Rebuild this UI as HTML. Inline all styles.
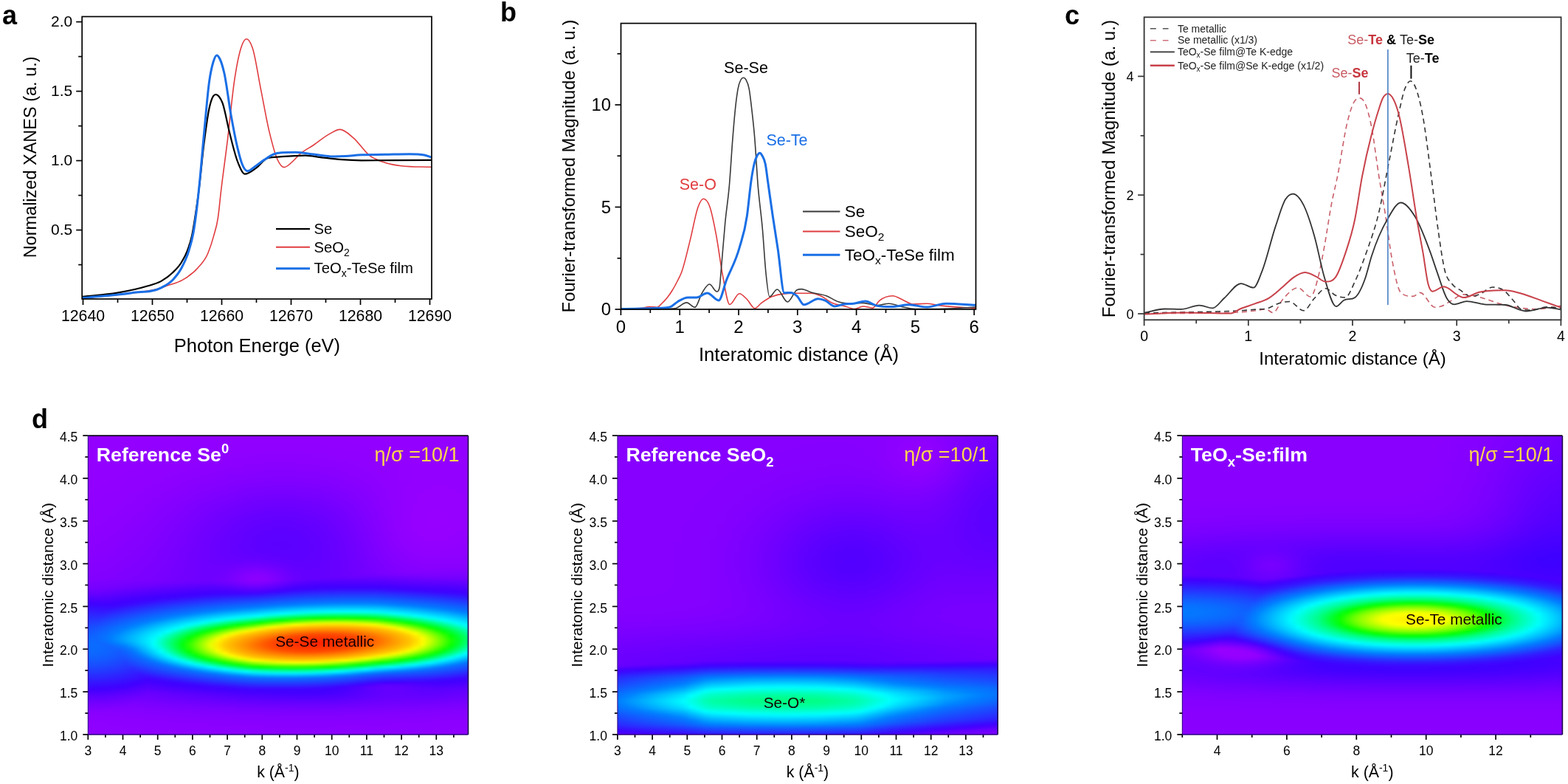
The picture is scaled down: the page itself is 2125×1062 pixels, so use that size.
<!DOCTYPE html>
<html><head><meta charset="utf-8"><style>
html,body{margin:0;padding:0;background:#fff;}
body{width:2125px;height:1062px;position:relative;overflow:hidden;}
.hm{position:absolute;overflow:hidden;}
.hm>div{position:absolute;}
svg{position:absolute;left:0;top:0;}
text{font-family:"Liberation Sans", Arial, sans-serif;}
</style></head><body>
<div class="hm" style="left:119.3px;top:590.2px;width:515.2px;height:404.8px"><div style="left:-6px;top:-6px;width:527.2px;filter:blur(1.5px)">
<div style="height:3px;background:linear-gradient(90deg,#9300ff,#9300ff,#9300ff,#9300ff,#9300ff,#9300ff,#9300ff,#9300ff,#9300ff,#9300ff,#9300ff,#9300ff,#9300ff,#9300ff,#9300ff,#9300ff,#9300ff,#9200ff,#9200ff,#9200ff,#9200ff,#9200ff,#9200ff,#9200ff,#9200ff,#9200ff,#9200ff,#9200ff,#9200ff,#9200ff,#9200ff,#9200ff,#9200ff,#9200ff,#9200ff,#9200ff,#9200ff,#9200ff,#9200ff,#9200ff,#9300ff,#9300ff,#9300ff,#9300ff,#9300ff,#9300ff,#9300ff,#9300ff,#9300ff,#9300ff,#9300ff,#9300ff,#9300ff,#9300ff,#9300ff,#9300ff)"></div>
<div style="height:3px;background:linear-gradient(90deg,#9300ff,#9300ff,#9300ff,#9300ff,#9300ff,#9300ff,#9300ff,#9300ff,#9300ff,#9300ff,#9300ff,#9300ff,#9300ff,#9300ff,#9300ff,#9200ff,#9200ff,#9200ff,#9200ff,#9200ff,#9200ff,#9200ff,#9200ff,#9200ff,#9200ff,#9200ff,#9200ff,#9200ff,#9200ff,#9200ff,#9200ff,#9200ff,#9200ff,#9200ff,#9200ff,#9200ff,#9200ff,#9200ff,#9200ff,#9200ff,#9200ff,#9300ff,#9300ff,#9300ff,#9300ff,#9300ff,#9300ff,#9300ff,#9300ff,#9300ff,#9300ff,#9300ff,#9300ff,#9300ff,#9300ff,#9300ff)"></div>
<div style="height:3px;background:linear-gradient(90deg,#9300ff,#9300ff,#9300ff,#9300ff,#9300ff,#9300ff,#9300ff,#9300ff,#9300ff,#9300ff,#9300ff,#9300ff,#9300ff,#9300ff,#9200ff,#9200ff,#9200ff,#9200ff,#9200ff,#9200ff,#9200ff,#9200ff,#9200ff,#9200ff,#9100ff,#9100ff,#9100ff,#9100ff,#9100ff,#9100ff,#9100ff,#9100ff,#9100ff,#9200ff,#9200ff,#9200ff,#9200ff,#9200ff,#9200ff,#9200ff,#9200ff,#9200ff,#9300ff,#9300ff,#9300ff,#9300ff,#9300ff,#9300ff,#9300ff,#9300ff,#9300ff,#9300ff,#9300ff,#9300ff,#9300ff,#9300ff)"></div>
<div style="height:3px;background:linear-gradient(90deg,#9300ff,#9300ff,#9300ff,#9300ff,#9300ff,#9300ff,#9300ff,#9300ff,#9300ff,#9300ff,#9300ff,#9300ff,#9300ff,#9200ff,#9200ff,#9200ff,#9200ff,#9200ff,#9200ff,#9200ff,#9200ff,#9100ff,#9100ff,#9100ff,#9100ff,#9100ff,#9100ff,#9100ff,#9100ff,#9100ff,#9100ff,#9100ff,#9100ff,#9100ff,#9100ff,#9100ff,#9200ff,#9200ff,#9200ff,#9200ff,#9200ff,#9200ff,#9200ff,#9300ff,#9300ff,#9300ff,#9300ff,#9300ff,#9300ff,#9300ff,#9300ff,#9300ff,#9300ff,#9300ff,#9300ff,#9300ff)"></div>
<div style="height:3px;background:linear-gradient(90deg,#9300ff,#9300ff,#9300ff,#9300ff,#9300ff,#9300ff,#9300ff,#9300ff,#9300ff,#9300ff,#9300ff,#9300ff,#9200ff,#9200ff,#9200ff,#9200ff,#9200ff,#9200ff,#9200ff,#9100ff,#9100ff,#9100ff,#9100ff,#9100ff,#9100ff,#9100ff,#9100ff,#9100ff,#9100ff,#9100ff,#9100ff,#9100ff,#9100ff,#9100ff,#9100ff,#9100ff,#9100ff,#9100ff,#9200ff,#9200ff,#9200ff,#9200ff,#9200ff,#9300ff,#9300ff,#9300ff,#9300ff,#9300ff,#9300ff,#9300ff,#9300ff,#9300ff,#9300ff,#9300ff,#9300ff,#9300ff)"></div>
<div style="height:3px;background:linear-gradient(90deg,#9300ff,#9300ff,#9300ff,#9300ff,#9300ff,#9300ff,#9300ff,#9300ff,#9300ff,#9300ff,#9300ff,#9200ff,#9200ff,#9200ff,#9200ff,#9200ff,#9200ff,#9200ff,#9100ff,#9100ff,#9100ff,#9100ff,#9100ff,#9100ff,#9100ff,#9000ff,#9000ff,#9000ff,#9000ff,#9000ff,#9000ff,#9000ff,#9000ff,#9100ff,#9100ff,#9100ff,#9100ff,#9100ff,#9100ff,#9200ff,#9200ff,#9200ff,#9200ff,#9200ff,#9300ff,#9300ff,#9300ff,#9300ff,#9300ff,#9300ff,#9300ff,#9300ff,#9300ff,#9300ff,#9300ff,#9300ff)"></div>
<div style="height:3px;background:linear-gradient(90deg,#9300ff,#9300ff,#9300ff,#9300ff,#9300ff,#9300ff,#9300ff,#9300ff,#9300ff,#9300ff,#9200ff,#9200ff,#9200ff,#9200ff,#9200ff,#9200ff,#9100ff,#9100ff,#9100ff,#9100ff,#9100ff,#9100ff,#9000ff,#9000ff,#9000ff,#9000ff,#9000ff,#9000ff,#9000ff,#9000ff,#9000ff,#9000ff,#9000ff,#9000ff,#9000ff,#9100ff,#9100ff,#9100ff,#9100ff,#9100ff,#9200ff,#9200ff,#9200ff,#9200ff,#9300ff,#9300ff,#9300ff,#9300ff,#9300ff,#9300ff,#9300ff,#9300ff,#9300ff,#9300ff,#9300ff,#9300ff)"></div>
<div style="height:3px;background:linear-gradient(90deg,#9300ff,#9300ff,#9300ff,#9300ff,#9300ff,#9300ff,#9300ff,#9300ff,#9300ff,#9200ff,#9200ff,#9200ff,#9200ff,#9200ff,#9200ff,#9100ff,#9100ff,#9100ff,#9100ff,#9100ff,#9000ff,#9000ff,#9000ff,#9000ff,#9000ff,#9000ff,#8f00ff,#8f00ff,#8f00ff,#8f00ff,#8f00ff,#9000ff,#9000ff,#9000ff,#9000ff,#9000ff,#9000ff,#9100ff,#9100ff,#9100ff,#9100ff,#9200ff,#9200ff,#9200ff,#9200ff,#9300ff,#9300ff,#9300ff,#9300ff,#9300ff,#9300ff,#9300ff,#9300ff,#9300ff,#9300ff,#9300ff)"></div>
<div style="height:3px;background:linear-gradient(90deg,#9300ff,#9300ff,#9300ff,#9300ff,#9300ff,#9300ff,#9300ff,#9300ff,#9200ff,#9200ff,#9200ff,#9200ff,#9200ff,#9200ff,#9100ff,#9100ff,#9100ff,#9100ff,#9000ff,#9000ff,#9000ff,#9000ff,#8f00ff,#8f00ff,#8f00ff,#8f00ff,#8f00ff,#8f00ff,#8f00ff,#8f00ff,#8f00ff,#8f00ff,#8f00ff,#8f00ff,#8f00ff,#9000ff,#9000ff,#9000ff,#9100ff,#9100ff,#9100ff,#9100ff,#9200ff,#9200ff,#9200ff,#9300ff,#9300ff,#9300ff,#9300ff,#9300ff,#9300ff,#9300ff,#9300ff,#9300ff,#9300ff,#9300ff)"></div>
<div style="height:3px;background:linear-gradient(90deg,#9300ff,#9300ff,#9300ff,#9300ff,#9300ff,#9300ff,#9300ff,#9300ff,#9200ff,#9200ff,#9200ff,#9200ff,#9200ff,#9100ff,#9100ff,#9100ff,#9100ff,#9000ff,#9000ff,#9000ff,#8f00ff,#8f00ff,#8f00ff,#8f00ff,#8f00ff,#8e00ff,#8e00ff,#8e00ff,#8e00ff,#8e00ff,#8e00ff,#8e00ff,#8f00ff,#8f00ff,#8f00ff,#8f00ff,#9000ff,#9000ff,#9000ff,#9100ff,#9100ff,#9100ff,#9200ff,#9200ff,#9200ff,#9200ff,#9300ff,#9300ff,#9300ff,#9300ff,#9300ff,#9300ff,#9300ff,#9300ff,#9300ff,#9300ff)"></div>
<div style="height:3px;background:linear-gradient(90deg,#9300ff,#9300ff,#9300ff,#9300ff,#9300ff,#9300ff,#9300ff,#9200ff,#9200ff,#9200ff,#9200ff,#9200ff,#9100ff,#9100ff,#9100ff,#9100ff,#9000ff,#9000ff,#9000ff,#8f00ff,#8f00ff,#8f00ff,#8e00ff,#8e00ff,#8e00ff,#8e00ff,#8e00ff,#8e00ff,#8e00ff,#8e00ff,#8e00ff,#8e00ff,#8e00ff,#8e00ff,#8e00ff,#8f00ff,#8f00ff,#8f00ff,#9000ff,#9000ff,#9100ff,#9100ff,#9100ff,#9200ff,#9200ff,#9200ff,#9300ff,#9300ff,#9300ff,#9300ff,#9300ff,#9300ff,#9300ff,#9300ff,#9300ff,#9300ff)"></div>
<div style="height:3px;background:linear-gradient(90deg,#9300ff,#9300ff,#9300ff,#9300ff,#9300ff,#9300ff,#9200ff,#9200ff,#9200ff,#9200ff,#9200ff,#9100ff,#9100ff,#9100ff,#9100ff,#9000ff,#9000ff,#8f00ff,#8f00ff,#8f00ff,#8e00ff,#8e00ff,#8e00ff,#8e00ff,#8d00ff,#8d00ff,#8d00ff,#8d00ff,#8d00ff,#8d00ff,#8d00ff,#8d00ff,#8d00ff,#8e00ff,#8e00ff,#8e00ff,#8f00ff,#8f00ff,#8f00ff,#9000ff,#9000ff,#9100ff,#9100ff,#9200ff,#9200ff,#9200ff,#9300ff,#9300ff,#9300ff,#9300ff,#9300ff,#9300ff,#9300ff,#9300ff,#9300ff,#9300ff)"></div>
<div style="height:3px;background:linear-gradient(90deg,#9300ff,#9300ff,#9300ff,#9300ff,#9300ff,#9300ff,#9200ff,#9200ff,#9200ff,#9200ff,#9100ff,#9100ff,#9100ff,#9100ff,#9000ff,#9000ff,#8f00ff,#8f00ff,#8f00ff,#8e00ff,#8e00ff,#8d00ff,#8d00ff,#8d00ff,#8d00ff,#8c00ff,#8c00ff,#8c00ff,#8c00ff,#8c00ff,#8c00ff,#8c00ff,#8d00ff,#8d00ff,#8d00ff,#8e00ff,#8e00ff,#8e00ff,#8f00ff,#8f00ff,#9000ff,#9000ff,#9100ff,#9100ff,#9200ff,#9200ff,#9300ff,#9300ff,#9300ff,#9300ff,#9300ff,#9300ff,#9300ff,#9300ff,#9300ff,#9300ff)"></div>
<div style="height:3px;background:linear-gradient(90deg,#9300ff,#9300ff,#9300ff,#9300ff,#9300ff,#9200ff,#9200ff,#9200ff,#9200ff,#9200ff,#9100ff,#9100ff,#9100ff,#9000ff,#9000ff,#8f00ff,#8f00ff,#8f00ff,#8e00ff,#8e00ff,#8d00ff,#8d00ff,#8c00ff,#8c00ff,#8c00ff,#8c00ff,#8b00ff,#8b00ff,#8b00ff,#8b00ff,#8b00ff,#8c00ff,#8c00ff,#8c00ff,#8c00ff,#8d00ff,#8d00ff,#8e00ff,#8e00ff,#8f00ff,#9000ff,#9000ff,#9100ff,#9100ff,#9200ff,#9200ff,#9300ff,#9300ff,#9300ff,#9300ff,#9300ff,#9300ff,#9300ff,#9300ff,#9300ff,#9300ff)"></div>
<div style="height:3px;background:linear-gradient(90deg,#9300ff,#9300ff,#9300ff,#9300ff,#9200ff,#9200ff,#9200ff,#9200ff,#9200ff,#9100ff,#9100ff,#9100ff,#9000ff,#9000ff,#8f00ff,#8f00ff,#8e00ff,#8e00ff,#8d00ff,#8d00ff,#8d00ff,#8c00ff,#8c00ff,#8b00ff,#8b00ff,#8b00ff,#8a00ff,#8a00ff,#8a00ff,#8a00ff,#8a00ff,#8b00ff,#8b00ff,#8b00ff,#8c00ff,#8c00ff,#8d00ff,#8d00ff,#8e00ff,#8e00ff,#8f00ff,#9000ff,#9000ff,#9100ff,#9200ff,#9200ff,#9200ff,#9300ff,#9300ff,#9300ff,#9300ff,#9300ff,#9300ff,#9300ff,#9300ff,#9300ff)"></div>
<div style="height:3px;background:linear-gradient(90deg,#9300ff,#9300ff,#9300ff,#9300ff,#9200ff,#9200ff,#9200ff,#9200ff,#9100ff,#9100ff,#9100ff,#9000ff,#9000ff,#8f00ff,#8f00ff,#8e00ff,#8e00ff,#8d00ff,#8d00ff,#8c00ff,#8c00ff,#8b00ff,#8b00ff,#8a00ff,#8a00ff,#8a00ff,#8a00ff,#8900ff,#8900ff,#8900ff,#8900ff,#8a00ff,#8a00ff,#8a00ff,#8b00ff,#8b00ff,#8c00ff,#8d00ff,#8d00ff,#8e00ff,#8f00ff,#8f00ff,#9000ff,#9100ff,#9100ff,#9200ff,#9200ff,#9300ff,#9300ff,#9300ff,#9300ff,#9300ff,#9300ff,#9300ff,#9300ff,#9300ff)"></div>
<div style="height:3px;background:linear-gradient(90deg,#9300ff,#9300ff,#9300ff,#9200ff,#9200ff,#9200ff,#9200ff,#9200ff,#9100ff,#9100ff,#9000ff,#9000ff,#9000ff,#8f00ff,#8f00ff,#8e00ff,#8d00ff,#8d00ff,#8c00ff,#8c00ff,#8b00ff,#8a00ff,#8a00ff,#8900ff,#8900ff,#8900ff,#8800ff,#8800ff,#8800ff,#8800ff,#8800ff,#8900ff,#8900ff,#8900ff,#8a00ff,#8a00ff,#8b00ff,#8c00ff,#8d00ff,#8d00ff,#8e00ff,#8f00ff,#9000ff,#9100ff,#9100ff,#9200ff,#9200ff,#9300ff,#9300ff,#9300ff,#9300ff,#9400ff,#9400ff,#9300ff,#9300ff,#9300ff)"></div>
<div style="height:3px;background:linear-gradient(90deg,#9300ff,#9300ff,#9200ff,#9200ff,#9200ff,#9200ff,#9200ff,#9100ff,#9100ff,#9100ff,#9000ff,#9000ff,#8f00ff,#8f00ff,#8e00ff,#8d00ff,#8d00ff,#8c00ff,#8b00ff,#8b00ff,#8a00ff,#8900ff,#8900ff,#8800ff,#8800ff,#8800ff,#8700ff,#8700ff,#8700ff,#8700ff,#8700ff,#8800ff,#8800ff,#8800ff,#8900ff,#8a00ff,#8a00ff,#8b00ff,#8c00ff,#8d00ff,#8e00ff,#8f00ff,#9000ff,#9000ff,#9100ff,#9200ff,#9200ff,#9300ff,#9300ff,#9300ff,#9400ff,#9400ff,#9400ff,#9400ff,#9300ff,#9300ff)"></div>
<div style="height:3px;background:linear-gradient(90deg,#9300ff,#9300ff,#9200ff,#9200ff,#9200ff,#9200ff,#9100ff,#9100ff,#9100ff,#9000ff,#9000ff,#8f00ff,#8f00ff,#8e00ff,#8d00ff,#8d00ff,#8c00ff,#8b00ff,#8b00ff,#8a00ff,#8900ff,#8800ff,#8800ff,#8700ff,#8700ff,#8600ff,#8600ff,#8600ff,#8600ff,#8600ff,#8600ff,#8600ff,#8700ff,#8700ff,#8800ff,#8900ff,#8900ff,#8a00ff,#8b00ff,#8c00ff,#8d00ff,#8e00ff,#8f00ff,#9000ff,#9100ff,#9200ff,#9200ff,#9300ff,#9300ff,#9300ff,#9400ff,#9400ff,#9400ff,#9400ff,#9400ff,#9300ff)"></div>
<div style="height:3px;background:linear-gradient(90deg,#9300ff,#9200ff,#9200ff,#9200ff,#9200ff,#9200ff,#9100ff,#9100ff,#9100ff,#9000ff,#9000ff,#8f00ff,#8e00ff,#8e00ff,#8d00ff,#8c00ff,#8b00ff,#8b00ff,#8a00ff,#8900ff,#8800ff,#8700ff,#8700ff,#8600ff,#8600ff,#8500ff,#8500ff,#8500ff,#8500ff,#8500ff,#8500ff,#8500ff,#8600ff,#8600ff,#8700ff,#8800ff,#8900ff,#8900ff,#8b00ff,#8c00ff,#8d00ff,#8e00ff,#8f00ff,#9000ff,#9100ff,#9200ff,#9200ff,#9300ff,#9300ff,#9400ff,#9400ff,#9400ff,#9400ff,#9400ff,#9400ff,#9300ff)"></div>
<div style="height:3px;background:linear-gradient(90deg,#9300ff,#9200ff,#9200ff,#9200ff,#9200ff,#9100ff,#9100ff,#9100ff,#9000ff,#9000ff,#8f00ff,#8f00ff,#8e00ff,#8d00ff,#8c00ff,#8b00ff,#8b00ff,#8a00ff,#8900ff,#8800ff,#8700ff,#8600ff,#8600ff,#8500ff,#8400ff,#8400ff,#8400ff,#8300ff,#8300ff,#8300ff,#8300ff,#8400ff,#8400ff,#8500ff,#8600ff,#8700ff,#8800ff,#8900ff,#8a00ff,#8b00ff,#8c00ff,#8d00ff,#8f00ff,#9000ff,#9100ff,#9200ff,#9200ff,#9300ff,#9300ff,#9400ff,#9400ff,#9400ff,#9400ff,#9400ff,#9400ff,#9400ff)"></div>
<div style="height:3px;background:linear-gradient(90deg,#9200ff,#9200ff,#9200ff,#9200ff,#9200ff,#9100ff,#9100ff,#9000ff,#9000ff,#8f00ff,#8f00ff,#8e00ff,#8d00ff,#8d00ff,#8c00ff,#8b00ff,#8a00ff,#8900ff,#8800ff,#8700ff,#8600ff,#8500ff,#8400ff,#8400ff,#8300ff,#8200ff,#8200ff,#8200ff,#8200ff,#8200ff,#8200ff,#8200ff,#8300ff,#8400ff,#8400ff,#8500ff,#8600ff,#8800ff,#8900ff,#8a00ff,#8c00ff,#8d00ff,#8e00ff,#8f00ff,#9100ff,#9200ff,#9200ff,#9300ff,#9300ff,#9400ff,#9400ff,#9400ff,#9400ff,#9400ff,#9400ff,#9400ff)"></div>
<div style="height:3px;background:linear-gradient(90deg,#9200ff,#9200ff,#9200ff,#9200ff,#9100ff,#9100ff,#9100ff,#9000ff,#9000ff,#8f00ff,#8e00ff,#8e00ff,#8d00ff,#8c00ff,#8b00ff,#8a00ff,#8900ff,#8800ff,#8700ff,#8600ff,#8500ff,#8400ff,#8300ff,#8200ff,#8200ff,#8100ff,#8100ff,#8000ff,#8000ff,#8000ff,#8100ff,#8100ff,#8200ff,#8200ff,#8300ff,#8400ff,#8500ff,#8700ff,#8800ff,#8a00ff,#8b00ff,#8c00ff,#8e00ff,#8f00ff,#9000ff,#9200ff,#9200ff,#9300ff,#9400ff,#9400ff,#9400ff,#9400ff,#9400ff,#9400ff,#9400ff,#9400ff)"></div>
<div style="height:3px;background:linear-gradient(90deg,#9200ff,#9200ff,#9200ff,#9200ff,#9100ff,#9100ff,#9000ff,#9000ff,#8f00ff,#8f00ff,#8e00ff,#8d00ff,#8c00ff,#8b00ff,#8a00ff,#8900ff,#8800ff,#8700ff,#8600ff,#8500ff,#8400ff,#8300ff,#8200ff,#8100ff,#8000ff,#8000ff,#7f00ff,#7f00ff,#7f00ff,#7f00ff,#7f00ff,#8000ff,#8000ff,#8100ff,#8200ff,#8300ff,#8400ff,#8600ff,#8700ff,#8900ff,#8a00ff,#8c00ff,#8e00ff,#8f00ff,#9000ff,#9100ff,#9200ff,#9300ff,#9400ff,#9400ff,#9400ff,#9400ff,#9400ff,#9400ff,#9400ff,#9400ff)"></div>
<div style="height:3px;background:linear-gradient(90deg,#9200ff,#9200ff,#9200ff,#9100ff,#9100ff,#9100ff,#9000ff,#9000ff,#8f00ff,#8e00ff,#8d00ff,#8d00ff,#8c00ff,#8b00ff,#8a00ff,#8800ff,#8700ff,#8600ff,#8500ff,#8400ff,#8200ff,#8100ff,#8000ff,#7f00ff,#7f00ff,#7e00ff,#7e00ff,#7d00ff,#7d00ff,#7d00ff,#7d00ff,#7e00ff,#7f00ff,#7f00ff,#8100ff,#8200ff,#8300ff,#8500ff,#8600ff,#8800ff,#8a00ff,#8b00ff,#8d00ff,#8f00ff,#9000ff,#9100ff,#9300ff,#9300ff,#9400ff,#9400ff,#9400ff,#9400ff,#9400ff,#9400ff,#9400ff,#9400ff)"></div>
<div style="height:3px;background:linear-gradient(90deg,#9200ff,#9200ff,#9200ff,#9100ff,#9100ff,#9000ff,#9000ff,#8f00ff,#8f00ff,#8e00ff,#8d00ff,#8c00ff,#8b00ff,#8a00ff,#8900ff,#8800ff,#8600ff,#8500ff,#8400ff,#8200ff,#8100ff,#8000ff,#7f00ff,#7e00ff,#7d00ff,#7c00ff,#7c00ff,#7c00ff,#7b00ff,#7c00ff,#7c00ff,#7c00ff,#7d00ff,#7e00ff,#7f00ff,#8000ff,#8200ff,#8400ff,#8500ff,#8700ff,#8900ff,#8b00ff,#8d00ff,#8f00ff,#9000ff,#9100ff,#9300ff,#9300ff,#9400ff,#9400ff,#9500ff,#9500ff,#9400ff,#9400ff,#9400ff,#9400ff)"></div>
<div style="height:3px;background:linear-gradient(90deg,#9200ff,#9200ff,#9100ff,#9100ff,#9100ff,#9000ff,#9000ff,#8f00ff,#8e00ff,#8d00ff,#8d00ff,#8c00ff,#8a00ff,#8900ff,#8800ff,#8700ff,#8500ff,#8400ff,#8300ff,#8100ff,#8000ff,#7f00ff,#7d00ff,#7c00ff,#7b00ff,#7b00ff,#7a00ff,#7a00ff,#7a00ff,#7a00ff,#7a00ff,#7b00ff,#7b00ff,#7c00ff,#7e00ff,#7f00ff,#8100ff,#8200ff,#8400ff,#8600ff,#8800ff,#8a00ff,#8c00ff,#8e00ff,#9000ff,#9100ff,#9300ff,#9400ff,#9400ff,#9500ff,#9500ff,#9500ff,#9500ff,#9400ff,#9400ff,#9400ff)"></div>
<div style="height:3px;background:linear-gradient(90deg,#9200ff,#9200ff,#9100ff,#9100ff,#9000ff,#9000ff,#8f00ff,#8f00ff,#8e00ff,#8d00ff,#8c00ff,#8b00ff,#8a00ff,#8900ff,#8700ff,#8600ff,#8400ff,#8300ff,#8100ff,#8000ff,#7f00ff,#7d00ff,#7c00ff,#7b00ff,#7a00ff,#7900ff,#7800ff,#7800ff,#7800ff,#7800ff,#7800ff,#7900ff,#7a00ff,#7b00ff,#7c00ff,#7e00ff,#7f00ff,#8100ff,#8300ff,#8600ff,#8800ff,#8a00ff,#8c00ff,#8e00ff,#9000ff,#9100ff,#9300ff,#9400ff,#9400ff,#9500ff,#9500ff,#9500ff,#9500ff,#9400ff,#9400ff,#9400ff)"></div>
<div style="height:3px;background:linear-gradient(90deg,#9200ff,#9100ff,#9100ff,#9100ff,#9000ff,#9000ff,#8f00ff,#8e00ff,#8d00ff,#8d00ff,#8c00ff,#8a00ff,#8900ff,#8800ff,#8600ff,#8500ff,#8300ff,#8200ff,#8000ff,#7f00ff,#7d00ff,#7c00ff,#7a00ff,#7900ff,#7800ff,#7700ff,#7700ff,#7600ff,#7600ff,#7600ff,#7700ff,#7700ff,#7800ff,#7900ff,#7b00ff,#7c00ff,#7e00ff,#8000ff,#8200ff,#8500ff,#8700ff,#8900ff,#8c00ff,#8e00ff,#9000ff,#9100ff,#9300ff,#9400ff,#9500ff,#9500ff,#9500ff,#9500ff,#9500ff,#9500ff,#9400ff,#9400ff)"></div>
<div style="height:3px;background:linear-gradient(90deg,#9200ff,#9100ff,#9100ff,#9000ff,#9000ff,#8f00ff,#8f00ff,#8e00ff,#8d00ff,#8c00ff,#8b00ff,#8a00ff,#8900ff,#8700ff,#8600ff,#8400ff,#8200ff,#8100ff,#7f00ff,#7d00ff,#7c00ff,#7a00ff,#7900ff,#7800ff,#7600ff,#7600ff,#7500ff,#7500ff,#7400ff,#7400ff,#7500ff,#7600ff,#7700ff,#7800ff,#7900ff,#7b00ff,#7d00ff,#7f00ff,#8100ff,#8400ff,#8600ff,#8900ff,#8b00ff,#8e00ff,#9000ff,#9100ff,#9300ff,#9400ff,#9500ff,#9500ff,#9500ff,#9500ff,#9500ff,#9500ff,#9400ff,#9400ff)"></div>
<div style="height:3px;background:linear-gradient(90deg,#9100ff,#9100ff,#9100ff,#9000ff,#9000ff,#8f00ff,#8e00ff,#8e00ff,#8d00ff,#8c00ff,#8a00ff,#8900ff,#8800ff,#8600ff,#8500ff,#8300ff,#8100ff,#8000ff,#7e00ff,#7c00ff,#7a00ff,#7900ff,#7700ff,#7600ff,#7500ff,#7400ff,#7300ff,#7300ff,#7300ff,#7300ff,#7300ff,#7400ff,#7500ff,#7600ff,#7800ff,#7a00ff,#7c00ff,#7e00ff,#8000ff,#8300ff,#8600ff,#8800ff,#8b00ff,#8d00ff,#9000ff,#9100ff,#9300ff,#9400ff,#9500ff,#9500ff,#9600ff,#9500ff,#9500ff,#9500ff,#9400ff,#9400ff)"></div>
<div style="height:3px;background:linear-gradient(90deg,#9100ff,#9100ff,#9100ff,#9000ff,#8f00ff,#8f00ff,#8e00ff,#8d00ff,#8c00ff,#8b00ff,#8a00ff,#8900ff,#8700ff,#8600ff,#8400ff,#8200ff,#8000ff,#7e00ff,#7d00ff,#7b00ff,#7900ff,#7700ff,#7600ff,#7400ff,#7300ff,#7200ff,#7100ff,#7100ff,#7100ff,#7100ff,#7100ff,#7200ff,#7300ff,#7400ff,#7600ff,#7800ff,#7a00ff,#7d00ff,#7f00ff,#8200ff,#8500ff,#8800ff,#8b00ff,#8d00ff,#8f00ff,#9100ff,#9300ff,#9400ff,#9500ff,#9600ff,#9600ff,#9600ff,#9500ff,#9500ff,#9400ff,#9400ff)"></div>
<div style="height:3px;background:linear-gradient(90deg,#9100ff,#9100ff,#9000ff,#9000ff,#8f00ff,#8f00ff,#8e00ff,#8d00ff,#8c00ff,#8b00ff,#8900ff,#8800ff,#8600ff,#8500ff,#8300ff,#8100ff,#7f00ff,#7d00ff,#7b00ff,#7900ff,#7800ff,#7600ff,#7400ff,#7300ff,#7100ff,#7000ff,#7000ff,#6f00ff,#6f00ff,#6f00ff,#7000ff,#7000ff,#7100ff,#7300ff,#7500ff,#7700ff,#7900ff,#7c00ff,#7e00ff,#8100ff,#8400ff,#8700ff,#8a00ff,#8d00ff,#8f00ff,#9100ff,#9300ff,#9500ff,#9500ff,#9600ff,#9600ff,#9600ff,#9600ff,#9500ff,#9500ff,#9400ff)"></div>
<div style="height:3px;background:linear-gradient(90deg,#9100ff,#9100ff,#9000ff,#9000ff,#8f00ff,#8e00ff,#8d00ff,#8c00ff,#8b00ff,#8a00ff,#8900ff,#8700ff,#8600ff,#8400ff,#8200ff,#8000ff,#7e00ff,#7c00ff,#7a00ff,#7800ff,#7600ff,#7400ff,#7300ff,#7100ff,#7000ff,#6f00ff,#6e00ff,#6d00ff,#6d00ff,#6d00ff,#6e00ff,#6f00ff,#7000ff,#7100ff,#7300ff,#7500ff,#7800ff,#7a00ff,#7d00ff,#8000ff,#8400ff,#8700ff,#8a00ff,#8d00ff,#8f00ff,#9100ff,#9300ff,#9500ff,#9600ff,#9600ff,#9600ff,#9600ff,#9600ff,#9500ff,#9500ff,#9400ff)"></div>
<div style="height:3px;background:linear-gradient(90deg,#9100ff,#9000ff,#9000ff,#8f00ff,#8f00ff,#8e00ff,#8d00ff,#8c00ff,#8b00ff,#8a00ff,#8800ff,#8700ff,#8500ff,#8300ff,#8100ff,#7f00ff,#7d00ff,#7b00ff,#7900ff,#7700ff,#7500ff,#7300ff,#7100ff,#7000ff,#6e00ff,#6d00ff,#6c00ff,#6c00ff,#6b00ff,#6c00ff,#6c00ff,#6d00ff,#6e00ff,#7000ff,#7200ff,#7400ff,#7600ff,#7900ff,#7c00ff,#8000ff,#8300ff,#8600ff,#8900ff,#8c00ff,#8f00ff,#9100ff,#9300ff,#9500ff,#9600ff,#9600ff,#9600ff,#9600ff,#9600ff,#9500ff,#9500ff,#9400ff)"></div>
<div style="height:3px;background:linear-gradient(90deg,#9100ff,#9000ff,#9000ff,#8f00ff,#8e00ff,#8e00ff,#8d00ff,#8c00ff,#8b00ff,#8900ff,#8800ff,#8600ff,#8400ff,#8300ff,#8100ff,#7e00ff,#7c00ff,#7a00ff,#7800ff,#7600ff,#7400ff,#7100ff,#7000ff,#6e00ff,#6d00ff,#6b00ff,#6a00ff,#6a00ff,#6a00ff,#6a00ff,#6a00ff,#6b00ff,#6d00ff,#6e00ff,#7000ff,#7300ff,#7500ff,#7800ff,#7b00ff,#7f00ff,#8200ff,#8600ff,#8900ff,#8c00ff,#8f00ff,#9100ff,#9300ff,#9500ff,#9600ff,#9600ff,#9700ff,#9600ff,#9600ff,#9500ff,#9500ff,#9400ff)"></div>
<div style="height:3px;background:linear-gradient(90deg,#9000ff,#9000ff,#8f00ff,#8f00ff,#8e00ff,#8d00ff,#8c00ff,#8b00ff,#8a00ff,#8900ff,#8700ff,#8600ff,#8400ff,#8200ff,#8000ff,#7e00ff,#7b00ff,#7900ff,#7700ff,#7400ff,#7200ff,#7000ff,#6e00ff,#6c00ff,#6b00ff,#6a00ff,#6900ff,#6800ff,#6800ff,#6800ff,#6900ff,#6a00ff,#6b00ff,#6d00ff,#6f00ff,#7100ff,#7400ff,#7700ff,#7a00ff,#7e00ff,#8200ff,#8500ff,#8900ff,#8c00ff,#8f00ff,#9100ff,#9400ff,#9500ff,#9600ff,#9700ff,#9700ff,#9600ff,#9600ff,#9500ff,#9500ff,#9400ff)"></div>
<div style="height:3px;background:linear-gradient(90deg,#9000ff,#9000ff,#8f00ff,#8f00ff,#8e00ff,#8d00ff,#8c00ff,#8b00ff,#8a00ff,#8800ff,#8700ff,#8500ff,#8300ff,#8100ff,#7f00ff,#7d00ff,#7a00ff,#7800ff,#7600ff,#7300ff,#7100ff,#6f00ff,#6d00ff,#6b00ff,#6900ff,#6800ff,#6700ff,#6700ff,#6700ff,#6700ff,#6700ff,#6800ff,#6a00ff,#6b00ff,#6d00ff,#7000ff,#7300ff,#7600ff,#7a00ff,#7d00ff,#8100ff,#8500ff,#8800ff,#8c00ff,#8f00ff,#9100ff,#9400ff,#9500ff,#9600ff,#9700ff,#9700ff,#9700ff,#9600ff,#9500ff,#9500ff,#9400ff)"></div>
<div style="height:3px;background:linear-gradient(90deg,#9000ff,#8f00ff,#8f00ff,#8e00ff,#8d00ff,#8d00ff,#8c00ff,#8a00ff,#8900ff,#8800ff,#8600ff,#8400ff,#8200ff,#8000ff,#7e00ff,#7c00ff,#7900ff,#7700ff,#7500ff,#7200ff,#7000ff,#6e00ff,#6c00ff,#6a00ff,#6800ff,#6700ff,#6600ff,#6500ff,#6500ff,#6500ff,#6600ff,#6700ff,#6800ff,#6a00ff,#6c00ff,#6f00ff,#7200ff,#7500ff,#7900ff,#7c00ff,#8000ff,#8400ff,#8800ff,#8b00ff,#8f00ff,#9100ff,#9400ff,#9500ff,#9600ff,#9700ff,#9700ff,#9700ff,#9600ff,#9500ff,#9500ff,#9400ff)"></div>
<div style="height:3px;background:linear-gradient(90deg,#9000ff,#8f00ff,#8f00ff,#8e00ff,#8d00ff,#8c00ff,#8b00ff,#8a00ff,#8900ff,#8700ff,#8600ff,#8400ff,#8200ff,#8000ff,#7d00ff,#7b00ff,#7900ff,#7600ff,#7400ff,#7100ff,#6f00ff,#6c00ff,#6a00ff,#6800ff,#6700ff,#6500ff,#6400ff,#6400ff,#6400ff,#6400ff,#6400ff,#6500ff,#6700ff,#6900ff,#6b00ff,#6e00ff,#7100ff,#7400ff,#7800ff,#7c00ff,#8000ff,#8400ff,#8800ff,#8b00ff,#8e00ff,#9100ff,#9400ff,#9500ff,#9600ff,#9700ff,#9700ff,#9700ff,#9600ff,#9500ff,#9500ff,#9400ff)"></div>
<div style="height:3px;background:linear-gradient(90deg,#8f00ff,#8f00ff,#8e00ff,#8e00ff,#8d00ff,#8c00ff,#8b00ff,#8a00ff,#8800ff,#8700ff,#8500ff,#8300ff,#8100ff,#7f00ff,#7d00ff,#7a00ff,#7800ff,#7500ff,#7300ff,#7000ff,#6e00ff,#6b00ff,#6900ff,#6700ff,#6500ff,#6400ff,#6300ff,#6200ff,#6200ff,#6200ff,#6300ff,#6400ff,#6600ff,#6800ff,#6a00ff,#6d00ff,#7000ff,#7300ff,#7700ff,#7b00ff,#7f00ff,#8300ff,#8700ff,#8b00ff,#8e00ff,#9100ff,#9400ff,#9500ff,#9600ff,#9700ff,#9700ff,#9700ff,#9600ff,#9500ff,#9500ff,#9400ff)"></div>
<div style="height:3px;background:linear-gradient(90deg,#8f00ff,#8f00ff,#8e00ff,#8d00ff,#8c00ff,#8c00ff,#8a00ff,#8900ff,#8800ff,#8600ff,#8400ff,#8300ff,#8100ff,#7e00ff,#7c00ff,#7900ff,#7700ff,#7400ff,#7200ff,#6f00ff,#6d00ff,#6a00ff,#6800ff,#6600ff,#6400ff,#6300ff,#6200ff,#6100ff,#6100ff,#6100ff,#6200ff,#6300ff,#6400ff,#6600ff,#6900ff,#6c00ff,#6f00ff,#7200ff,#7600ff,#7a00ff,#7e00ff,#8300ff,#8700ff,#8b00ff,#8e00ff,#9100ff,#9300ff,#9500ff,#9600ff,#9700ff,#9700ff,#9700ff,#9600ff,#9500ff,#9400ff,#9400ff)"></div>
<div style="height:3px;background:linear-gradient(90deg,#8f00ff,#8e00ff,#8e00ff,#8d00ff,#8c00ff,#8b00ff,#8a00ff,#8900ff,#8700ff,#8600ff,#8400ff,#8200ff,#8000ff,#7e00ff,#7b00ff,#7900ff,#7600ff,#7300ff,#7100ff,#6e00ff,#6c00ff,#6900ff,#6700ff,#6500ff,#6300ff,#6200ff,#6100ff,#6000ff,#6000ff,#6000ff,#6100ff,#6200ff,#6300ff,#6500ff,#6800ff,#6b00ff,#6e00ff,#7200ff,#7500ff,#7a00ff,#7e00ff,#8200ff,#8600ff,#8a00ff,#8e00ff,#9100ff,#9300ff,#9500ff,#9600ff,#9700ff,#9700ff,#9600ff,#9600ff,#9500ff,#9400ff,#9300ff)"></div>
<div style="height:3px;background:linear-gradient(90deg,#8f00ff,#8e00ff,#8d00ff,#8d00ff,#8c00ff,#8b00ff,#8a00ff,#8800ff,#8700ff,#8500ff,#8300ff,#8100ff,#7f00ff,#7d00ff,#7b00ff,#7800ff,#7500ff,#7300ff,#7000ff,#6d00ff,#6b00ff,#6800ff,#6600ff,#6400ff,#6200ff,#6100ff,#6000ff,#5f00ff,#5f00ff,#5f00ff,#6000ff,#6100ff,#6200ff,#6400ff,#6700ff,#6a00ff,#6d00ff,#7100ff,#7500ff,#7900ff,#7d00ff,#8200ff,#8600ff,#8a00ff,#8e00ff,#9100ff,#9300ff,#9500ff,#9600ff,#9700ff,#9700ff,#9600ff,#9600ff,#9500ff,#9400ff,#9300ff)"></div>
<div style="height:3px;background:linear-gradient(90deg,#8e00ff,#8e00ff,#8d00ff,#8c00ff,#8b00ff,#8a00ff,#8900ff,#8800ff,#8600ff,#8500ff,#8300ff,#8100ff,#7f00ff,#7c00ff,#7a00ff,#7700ff,#7500ff,#7200ff,#6f00ff,#6d00ff,#6a00ff,#6800ff,#6500ff,#6300ff,#6100ff,#6000ff,#5f00ff,#5e00ff,#5e00ff,#5e00ff,#5f00ff,#6000ff,#6200ff,#6400ff,#6600ff,#6900ff,#6c00ff,#7000ff,#7400ff,#7800ff,#7d00ff,#8100ff,#8600ff,#8a00ff,#8d00ff,#9000ff,#9300ff,#9500ff,#9600ff,#9600ff,#9600ff,#9600ff,#9500ff,#9500ff,#9400ff,#9300ff)"></div>
<div style="height:3px;background:linear-gradient(90deg,#8e00ff,#8d00ff,#8d00ff,#8c00ff,#8b00ff,#8a00ff,#8900ff,#8700ff,#8600ff,#8400ff,#8200ff,#8000ff,#7e00ff,#7c00ff,#7900ff,#7700ff,#7400ff,#7100ff,#6f00ff,#6c00ff,#6900ff,#6700ff,#6500ff,#6200ff,#6100ff,#5f00ff,#5e00ff,#5d00ff,#5d00ff,#5d00ff,#5e00ff,#5f00ff,#6100ff,#6300ff,#6500ff,#6800ff,#6c00ff,#6f00ff,#7400ff,#7800ff,#7c00ff,#8100ff,#8500ff,#8900ff,#8d00ff,#9000ff,#9300ff,#9400ff,#9600ff,#9600ff,#9600ff,#9600ff,#9500ff,#9400ff,#9300ff,#9300ff)"></div>
<div style="height:3px;background:linear-gradient(90deg,#8e00ff,#8d00ff,#8c00ff,#8c00ff,#8b00ff,#8a00ff,#8800ff,#8700ff,#8600ff,#8400ff,#8200ff,#8000ff,#7e00ff,#7b00ff,#7900ff,#7600ff,#7400ff,#7100ff,#6e00ff,#6b00ff,#6900ff,#6600ff,#6400ff,#6200ff,#6000ff,#5f00ff,#5e00ff,#5d00ff,#5d00ff,#5d00ff,#5d00ff,#5f00ff,#6000ff,#6200ff,#6500ff,#6800ff,#6b00ff,#6f00ff,#7300ff,#7700ff,#7c00ff,#8000ff,#8500ff,#8900ff,#8c00ff,#9000ff,#9200ff,#9400ff,#9500ff,#9600ff,#9600ff,#9600ff,#9500ff,#9400ff,#9300ff,#9200ff)"></div>
<div style="height:3px;background:linear-gradient(90deg,#8d00ff,#8d00ff,#8c00ff,#8b00ff,#8a00ff,#8900ff,#8800ff,#8700ff,#8500ff,#8300ff,#8200ff,#7f00ff,#7d00ff,#7b00ff,#7800ff,#7600ff,#7300ff,#7000ff,#6e00ff,#6b00ff,#6800ff,#6600ff,#6300ff,#6100ff,#6000ff,#5e00ff,#5d00ff,#5c00ff,#5c00ff,#5c00ff,#5d00ff,#5e00ff,#6000ff,#6200ff,#6400ff,#6700ff,#6b00ff,#6e00ff,#7200ff,#7700ff,#7b00ff,#8000ff,#8400ff,#8800ff,#8c00ff,#8f00ff,#9200ff,#9400ff,#9500ff,#9500ff,#9500ff,#9500ff,#9400ff,#9400ff,#9300ff,#9200ff)"></div>
<div style="height:3px;background:linear-gradient(90deg,#8d00ff,#8c00ff,#8c00ff,#8b00ff,#8a00ff,#8900ff,#8800ff,#8600ff,#8500ff,#8300ff,#8100ff,#7f00ff,#7d00ff,#7a00ff,#7800ff,#7500ff,#7300ff,#7000ff,#6d00ff,#6a00ff,#6800ff,#6500ff,#6300ff,#6100ff,#5f00ff,#5e00ff,#5d00ff,#5c00ff,#5c00ff,#5c00ff,#5c00ff,#5e00ff,#5f00ff,#6100ff,#6400ff,#6700ff,#6a00ff,#6e00ff,#7200ff,#7600ff,#7b00ff,#7f00ff,#8400ff,#8800ff,#8c00ff,#8f00ff,#9100ff,#9300ff,#9400ff,#9500ff,#9500ff,#9500ff,#9400ff,#9300ff,#9200ff,#9100ff)"></div>
<div style="height:3px;background:linear-gradient(90deg,#8d00ff,#8c00ff,#8b00ff,#8a00ff,#8900ff,#8800ff,#8700ff,#8600ff,#8400ff,#8300ff,#8100ff,#7f00ff,#7c00ff,#7a00ff,#7800ff,#7500ff,#7200ff,#6f00ff,#6d00ff,#6a00ff,#6700ff,#6500ff,#6300ff,#6100ff,#5f00ff,#5d00ff,#5c00ff,#5c00ff,#5b00ff,#5c00ff,#5c00ff,#5d00ff,#5f00ff,#6100ff,#6300ff,#6600ff,#6a00ff,#6d00ff,#7200ff,#7600ff,#7a00ff,#7f00ff,#8300ff,#8700ff,#8b00ff,#8e00ff,#9100ff,#9300ff,#9400ff,#9400ff,#9400ff,#9400ff,#9300ff,#9300ff,#9200ff,#9100ff)"></div>
<div style="height:3px;background:linear-gradient(90deg,#8c00ff,#8b00ff,#8b00ff,#8a00ff,#8900ff,#8800ff,#8700ff,#8500ff,#8400ff,#8200ff,#8000ff,#7e00ff,#7c00ff,#7a00ff,#7700ff,#7500ff,#7200ff,#6f00ff,#6c00ff,#6a00ff,#6700ff,#6500ff,#6200ff,#6000ff,#5f00ff,#5d00ff,#5c00ff,#5b00ff,#5b00ff,#5b00ff,#5c00ff,#5d00ff,#5f00ff,#6100ff,#6300ff,#6600ff,#6900ff,#6d00ff,#7100ff,#7500ff,#7a00ff,#7e00ff,#8300ff,#8700ff,#8a00ff,#8e00ff,#9000ff,#9200ff,#9300ff,#9400ff,#9400ff,#9300ff,#9300ff,#9200ff,#9100ff,#9000ff)"></div>
<div style="height:3px;background:linear-gradient(90deg,#8c00ff,#8b00ff,#8a00ff,#8900ff,#8900ff,#8700ff,#8600ff,#8500ff,#8300ff,#8200ff,#8000ff,#7e00ff,#7c00ff,#7900ff,#7700ff,#7400ff,#7200ff,#6f00ff,#6c00ff,#6900ff,#6700ff,#6500ff,#6200ff,#6000ff,#5f00ff,#5d00ff,#5c00ff,#5b00ff,#5b00ff,#5b00ff,#5c00ff,#5d00ff,#5e00ff,#6000ff,#6300ff,#6600ff,#6900ff,#6d00ff,#7100ff,#7500ff,#7900ff,#7e00ff,#8200ff,#8600ff,#8a00ff,#8d00ff,#8f00ff,#9100ff,#9200ff,#9300ff,#9300ff,#9300ff,#9200ff,#9100ff,#9100ff,#9000ff)"></div>
<div style="height:3px;background:linear-gradient(90deg,#8b00ff,#8b00ff,#8a00ff,#8900ff,#8800ff,#8700ff,#8600ff,#8400ff,#8300ff,#8100ff,#7f00ff,#7d00ff,#7b00ff,#7900ff,#7600ff,#7400ff,#7100ff,#6f00ff,#6c00ff,#6900ff,#6700ff,#6400ff,#6200ff,#6000ff,#5f00ff,#5d00ff,#5c00ff,#5c00ff,#5b00ff,#5b00ff,#5c00ff,#5d00ff,#5e00ff,#6000ff,#6300ff,#6600ff,#6900ff,#6c00ff,#7000ff,#7500ff,#7900ff,#7d00ff,#8100ff,#8500ff,#8900ff,#8c00ff,#8f00ff,#9000ff,#9200ff,#9200ff,#9200ff,#9200ff,#9200ff,#9100ff,#9000ff,#8f00ff)"></div>
<div style="height:3px;background:linear-gradient(90deg,#8b00ff,#8a00ff,#8900ff,#8900ff,#8800ff,#8600ff,#8500ff,#8400ff,#8200ff,#8100ff,#7f00ff,#7d00ff,#7b00ff,#7800ff,#7600ff,#7400ff,#7100ff,#6e00ff,#6c00ff,#6900ff,#6700ff,#6500ff,#6300ff,#6100ff,#5f00ff,#5e00ff,#5d00ff,#5c00ff,#5b00ff,#5c00ff,#5c00ff,#5d00ff,#5e00ff,#6000ff,#6300ff,#6500ff,#6900ff,#6c00ff,#7000ff,#7400ff,#7800ff,#7d00ff,#8100ff,#8500ff,#8800ff,#8b00ff,#8e00ff,#9000ff,#9100ff,#9100ff,#9200ff,#9100ff,#9100ff,#9000ff,#8f00ff,#8f00ff)"></div>
<div style="height:3px;background:linear-gradient(90deg,#8a00ff,#8a00ff,#8900ff,#8800ff,#8700ff,#8600ff,#8500ff,#8300ff,#8200ff,#8000ff,#7e00ff,#7c00ff,#7a00ff,#7800ff,#7600ff,#7300ff,#7100ff,#6e00ff,#6c00ff,#6900ff,#6700ff,#6500ff,#6300ff,#6100ff,#6000ff,#5e00ff,#5d00ff,#5c00ff,#5c00ff,#5c00ff,#5c00ff,#5d00ff,#5f00ff,#6000ff,#6300ff,#6500ff,#6900ff,#6c00ff,#7000ff,#7400ff,#7800ff,#7c00ff,#8000ff,#8400ff,#8700ff,#8a00ff,#8d00ff,#8f00ff,#9000ff,#9100ff,#9100ff,#9000ff,#9000ff,#8f00ff,#8f00ff,#8e00ff)"></div>
<div style="height:3px;background:linear-gradient(90deg,#8a00ff,#8900ff,#8800ff,#8800ff,#8700ff,#8500ff,#8400ff,#8300ff,#8100ff,#8000ff,#7e00ff,#7c00ff,#7a00ff,#7800ff,#7500ff,#7300ff,#7100ff,#6e00ff,#6c00ff,#6900ff,#6700ff,#6500ff,#6400ff,#6200ff,#6100ff,#6000ff,#5e00ff,#5d00ff,#5d00ff,#5c00ff,#5d00ff,#5d00ff,#5f00ff,#6100ff,#6300ff,#6500ff,#6800ff,#6c00ff,#6f00ff,#7300ff,#7700ff,#7c00ff,#8000ff,#8300ff,#8700ff,#8a00ff,#8c00ff,#8e00ff,#8f00ff,#9000ff,#9000ff,#8f00ff,#8f00ff,#8e00ff,#8e00ff,#8d00ff)"></div>
<div style="height:3px;background:linear-gradient(90deg,#8900ff,#8900ff,#8800ff,#8700ff,#8600ff,#8500ff,#8400ff,#8200ff,#8100ff,#7f00ff,#7e00ff,#7c00ff,#7a00ff,#7700ff,#7500ff,#7300ff,#7000ff,#6e00ff,#6c00ff,#6a00ff,#6800ff,#6600ff,#6500ff,#6400ff,#6200ff,#6100ff,#6000ff,#5f00ff,#5e00ff,#5d00ff,#5d00ff,#5e00ff,#5f00ff,#6100ff,#6300ff,#6500ff,#6800ff,#6c00ff,#6f00ff,#7300ff,#7700ff,#7b00ff,#7f00ff,#8200ff,#8600ff,#8900ff,#8b00ff,#8d00ff,#8e00ff,#8e00ff,#8f00ff,#8f00ff,#8e00ff,#8e00ff,#8d00ff,#8c00ff)"></div>
<div style="height:3px;background:linear-gradient(90deg,#8900ff,#8800ff,#8700ff,#8700ff,#8600ff,#8400ff,#8300ff,#8200ff,#8000ff,#7f00ff,#7d00ff,#7b00ff,#7900ff,#7700ff,#7500ff,#7300ff,#7000ff,#6e00ff,#6c00ff,#6a00ff,#6800ff,#6700ff,#6600ff,#6500ff,#6500ff,#6400ff,#6200ff,#6100ff,#5f00ff,#5e00ff,#5e00ff,#5e00ff,#5f00ff,#6100ff,#6300ff,#6500ff,#6800ff,#6b00ff,#6f00ff,#7300ff,#7600ff,#7a00ff,#7e00ff,#8200ff,#8500ff,#8800ff,#8a00ff,#8c00ff,#8d00ff,#8d00ff,#8e00ff,#8d00ff,#8d00ff,#8d00ff,#8c00ff,#8c00ff)"></div>
<div style="height:3px;background:linear-gradient(90deg,#8800ff,#8800ff,#8700ff,#8600ff,#8500ff,#8400ff,#8300ff,#8100ff,#8000ff,#7e00ff,#7d00ff,#7b00ff,#7900ff,#7700ff,#7500ff,#7200ff,#7000ff,#6e00ff,#6c00ff,#6a00ff,#6900ff,#6900ff,#6800ff,#6800ff,#6800ff,#6700ff,#6500ff,#6300ff,#6100ff,#6000ff,#5f00ff,#5f00ff,#6000ff,#6100ff,#6300ff,#6600ff,#6800ff,#6b00ff,#6f00ff,#7200ff,#7600ff,#7a00ff,#7d00ff,#8100ff,#8400ff,#8700ff,#8900ff,#8a00ff,#8c00ff,#8c00ff,#8c00ff,#8c00ff,#8c00ff,#8c00ff,#8b00ff,#8b00ff)"></div>
<div style="height:3px;background:linear-gradient(90deg,#8800ff,#8700ff,#8600ff,#8500ff,#8400ff,#8300ff,#8200ff,#8100ff,#7f00ff,#7e00ff,#7c00ff,#7a00ff,#7900ff,#7600ff,#7400ff,#7200ff,#7000ff,#6e00ff,#6c00ff,#6b00ff,#6a00ff,#6a00ff,#6b00ff,#6c00ff,#6c00ff,#6b00ff,#6900ff,#6600ff,#6400ff,#6100ff,#6000ff,#6000ff,#6000ff,#6200ff,#6300ff,#6600ff,#6800ff,#6b00ff,#6e00ff,#7200ff,#7500ff,#7900ff,#7c00ff,#8000ff,#8300ff,#8500ff,#8800ff,#8900ff,#8a00ff,#8b00ff,#8b00ff,#8b00ff,#8b00ff,#8b00ff,#8a00ff,#8a00ff)"></div>
<div style="height:3px;background:linear-gradient(90deg,#8700ff,#8700ff,#8600ff,#8500ff,#8400ff,#8300ff,#8200ff,#8000ff,#7f00ff,#7d00ff,#7c00ff,#7a00ff,#7800ff,#7600ff,#7400ff,#7200ff,#7000ff,#6e00ff,#6d00ff,#6c00ff,#6c00ff,#6d00ff,#6e00ff,#7000ff,#7000ff,#7000ff,#6d00ff,#6a00ff,#6700ff,#6300ff,#6100ff,#6100ff,#6100ff,#6200ff,#6400ff,#6600ff,#6800ff,#6b00ff,#6e00ff,#7100ff,#7500ff,#7800ff,#7c00ff,#7f00ff,#8200ff,#8400ff,#8600ff,#8800ff,#8900ff,#8a00ff,#8a00ff,#8a00ff,#8a00ff,#8a00ff,#8900ff,#8900ff)"></div>
<div style="height:3px;background:linear-gradient(90deg,#8700ff,#8600ff,#8500ff,#8400ff,#8300ff,#8200ff,#8100ff,#8000ff,#7e00ff,#7d00ff,#7b00ff,#7a00ff,#7800ff,#7600ff,#7400ff,#7200ff,#7000ff,#6e00ff,#6d00ff,#6d00ff,#6d00ff,#6f00ff,#7200ff,#7400ff,#7600ff,#7500ff,#7300ff,#6e00ff,#6a00ff,#6600ff,#6300ff,#6200ff,#6100ff,#6200ff,#6400ff,#6600ff,#6800ff,#6b00ff,#6e00ff,#7100ff,#7400ff,#7800ff,#7b00ff,#7e00ff,#8100ff,#8300ff,#8500ff,#8700ff,#8800ff,#8900ff,#8900ff,#8900ff,#8900ff,#8900ff,#8800ff,#8800ff)"></div>
<div style="height:3px;background:linear-gradient(90deg,#8600ff,#8500ff,#8500ff,#8400ff,#8300ff,#8200ff,#8000ff,#7f00ff,#7e00ff,#7c00ff,#7b00ff,#7900ff,#7700ff,#7500ff,#7400ff,#7200ff,#7000ff,#6e00ff,#6d00ff,#6d00ff,#6f00ff,#7200ff,#7500ff,#7900ff,#7b00ff,#7b00ff,#7800ff,#7300ff,#6d00ff,#6800ff,#6400ff,#6300ff,#6200ff,#6300ff,#6400ff,#6600ff,#6800ff,#6b00ff,#6e00ff,#7100ff,#7400ff,#7700ff,#7a00ff,#7d00ff,#8000ff,#8200ff,#8400ff,#8500ff,#8700ff,#8700ff,#8600ff,#8600ff,#8500ff,#8500ff,#8400ff,#8400ff)"></div>
<div style="height:3px;background:linear-gradient(90deg,#8600ff,#8500ff,#8400ff,#8300ff,#8200ff,#8100ff,#8000ff,#7f00ff,#7d00ff,#7c00ff,#7a00ff,#7900ff,#7700ff,#7500ff,#7300ff,#7100ff,#7000ff,#6e00ff,#6e00ff,#6e00ff,#7000ff,#7400ff,#7900ff,#7e00ff,#8100ff,#8100ff,#7d00ff,#7700ff,#7100ff,#6a00ff,#6600ff,#6300ff,#6300ff,#6300ff,#6400ff,#6600ff,#6800ff,#6b00ff,#6d00ff,#7000ff,#7300ff,#7600ff,#7900ff,#7c00ff,#7e00ff,#8100ff,#8200ff,#8200ff,#8200ff,#8200ff,#8200ff,#8200ff,#8100ff,#8100ff,#8100ff,#8100ff)"></div>
<div style="height:3px;background:linear-gradient(90deg,#8500ff,#8400ff,#8300ff,#8200ff,#8100ff,#8000ff,#7f00ff,#7e00ff,#7d00ff,#7b00ff,#7a00ff,#7800ff,#7600ff,#7500ff,#7300ff,#7100ff,#7000ff,#6e00ff,#6e00ff,#6f00ff,#7200ff,#7600ff,#7c00ff,#8200ff,#8500ff,#8500ff,#8200ff,#7b00ff,#7300ff,#6c00ff,#6700ff,#6400ff,#6300ff,#6300ff,#6400ff,#6600ff,#6800ff,#6a00ff,#6d00ff,#7000ff,#7300ff,#7500ff,#7800ff,#7a00ff,#7c00ff,#7d00ff,#7e00ff,#7e00ff,#7e00ff,#7e00ff,#7e00ff,#7e00ff,#7e00ff,#7d00ff,#7d00ff,#7d00ff)"></div>
<div style="height:3px;background:linear-gradient(90deg,#8400ff,#8400ff,#8300ff,#8200ff,#8100ff,#8000ff,#7f00ff,#7d00ff,#7c00ff,#7b00ff,#7900ff,#7800ff,#7600ff,#7400ff,#7300ff,#7100ff,#6f00ff,#6e00ff,#6e00ff,#6f00ff,#7300ff,#7800ff,#7e00ff,#8500ff,#8900ff,#8900ff,#8500ff,#7e00ff,#7500ff,#6e00ff,#6800ff,#6500ff,#6400ff,#6400ff,#6500ff,#6600ff,#6800ff,#6a00ff,#6c00ff,#6c00ff,#6d00ff,#6e00ff,#6f00ff,#7100ff,#7300ff,#7400ff,#7600ff,#7700ff,#7800ff,#7900ff,#7a00ff,#7a00ff,#7a00ff,#7900ff,#7900ff,#7900ff)"></div>
<div style="height:3px;background:linear-gradient(90deg,#8400ff,#8300ff,#8200ff,#8100ff,#8000ff,#7f00ff,#7e00ff,#7d00ff,#7b00ff,#7a00ff,#7900ff,#7700ff,#7600ff,#7400ff,#7200ff,#7100ff,#6f00ff,#6e00ff,#6e00ff,#7000ff,#7300ff,#7900ff,#7f00ff,#8600ff,#8a00ff,#8b00ff,#8700ff,#7f00ff,#7700ff,#6f00ff,#6900ff,#6500ff,#6400ff,#6400ff,#6300ff,#6300ff,#6200ff,#6200ff,#6300ff,#6300ff,#6400ff,#6400ff,#6600ff,#6800ff,#6900ff,#6b00ff,#6c00ff,#6e00ff,#6f00ff,#7000ff,#7100ff,#7200ff,#7300ff,#7400ff,#7500ff,#7600ff)"></div>
<div style="height:3px;background:linear-gradient(90deg,#8200ff,#8100ff,#7f00ff,#7e00ff,#7d00ff,#7c00ff,#7b00ff,#7a00ff,#7900ff,#7800ff,#7700ff,#7600ff,#7500ff,#7400ff,#7200ff,#7000ff,#6f00ff,#6e00ff,#6e00ff,#7000ff,#7300ff,#7800ff,#7f00ff,#8600ff,#8a00ff,#8a00ff,#8600ff,#7f00ff,#7600ff,#6d00ff,#6600ff,#6100ff,#5d00ff,#5b00ff,#5a00ff,#5a00ff,#5900ff,#5900ff,#5900ff,#5a00ff,#5a00ff,#5b00ff,#5c00ff,#5e00ff,#6000ff,#6100ff,#6300ff,#6400ff,#6600ff,#6700ff,#6800ff,#6900ff,#6a00ff,#6b00ff,#6c00ff,#6e00ff)"></div>
<div style="height:3px;background:linear-gradient(90deg,#7f00ff,#7d00ff,#7c00ff,#7b00ff,#7a00ff,#7900ff,#7800ff,#7700ff,#7600ff,#7500ff,#7400ff,#7300ff,#7100ff,#6f00ff,#6d00ff,#6b00ff,#6a00ff,#6900ff,#6900ff,#6a00ff,#6d00ff,#7300ff,#7900ff,#7f00ff,#8300ff,#8200ff,#7d00ff,#7500ff,#6c00ff,#6300ff,#5c00ff,#5700ff,#5400ff,#5200ff,#5100ff,#5000ff,#5000ff,#5000ff,#5000ff,#5100ff,#5100ff,#5200ff,#5300ff,#5500ff,#5700ff,#5800ff,#5a00ff,#5b00ff,#5c00ff,#5e00ff,#5f00ff,#6000ff,#6100ff,#6200ff,#6400ff,#6500ff)"></div>
<div style="height:3px;background:linear-gradient(90deg,#7c00ff,#7a00ff,#7900ff,#7800ff,#7700ff,#7600ff,#7500ff,#7300ff,#7200ff,#7000ff,#6e00ff,#6b00ff,#6900ff,#6700ff,#6500ff,#6300ff,#6100ff,#6000ff,#6000ff,#6100ff,#6400ff,#6800ff,#6e00ff,#7300ff,#7600ff,#7600ff,#7100ff,#6900ff,#6100ff,#5900ff,#5200ff,#4e00ff,#4b00ff,#4900ff,#4800ff,#4700ff,#4700ff,#4700ff,#4700ff,#4700ff,#4800ff,#4900ff,#4a00ff,#4b00ff,#4d00ff,#4f00ff,#5000ff,#5200ff,#5300ff,#5500ff,#5600ff,#5700ff,#5800ff,#5a00ff,#5b00ff,#5d00ff)"></div>
<div style="height:3px;background:linear-gradient(90deg,#7900ff,#7700ff,#7600ff,#7500ff,#7400ff,#7300ff,#7000ff,#6d00ff,#6b00ff,#6800ff,#6600ff,#6300ff,#6100ff,#5f00ff,#5c00ff,#5a00ff,#5900ff,#5700ff,#5700ff,#5700ff,#5a00ff,#5d00ff,#6200ff,#6600ff,#6900ff,#6800ff,#6400ff,#5d00ff,#5500ff,#4e00ff,#4800ff,#4400ff,#4200ff,#4000ff,#3f01ff,#3f01ff,#3f01ff,#3f01ff,#3f01ff,#3f01ff,#3f01ff,#4000ff,#4100ff,#4200ff,#4400ff,#4600ff,#4700ff,#4900ff,#4a00ff,#4c00ff,#4d00ff,#4e00ff,#5000ff,#5100ff,#5300ff,#5500ff)"></div>
<div style="height:3px;background:linear-gradient(90deg,#7300ff,#7300ff,#7300ff,#7100ff,#6e00ff,#6b00ff,#6800ff,#6600ff,#6300ff,#6000ff,#5e00ff,#5b00ff,#5900ff,#5600ff,#5400ff,#5200ff,#5000ff,#4f00ff,#4e00ff,#4e00ff,#4f00ff,#5200ff,#5600ff,#5900ff,#5b00ff,#5a00ff,#5600ff,#5000ff,#4900ff,#4300ff,#3f01ff,#3e03ff,#3d05ff,#3c08ff,#3b0aff,#3a0bff,#3a0cff,#390dff,#390dff,#390dff,#390dff,#390dff,#3a0bff,#3b09ff,#3d06ff,#3e03ff,#3f01ff,#4000ff,#4100ff,#4300ff,#4400ff,#4600ff,#4700ff,#4900ff,#4b00ff,#4d00ff)"></div>
<div style="height:3px;background:linear-gradient(90deg,#6c00ff,#6c00ff,#6d00ff,#6a00ff,#6700ff,#6400ff,#6100ff,#5e00ff,#5b00ff,#5800ff,#5600ff,#5300ff,#5100ff,#4e00ff,#4c00ff,#4a00ff,#4800ff,#4600ff,#4500ff,#4500ff,#4500ff,#4700ff,#4a00ff,#4c00ff,#4d00ff,#4b00ff,#4700ff,#3f01ff,#3c07ff,#3a0cff,#3711ff,#3515ff,#3418ff,#331aff,#321cff,#311dff,#311eff,#301fff,#301fff,#301fff,#301fff,#301fff,#311dff,#331aff,#3417ff,#3614ff,#3711ff,#390eff,#3b0aff,#3c07ff,#3e03ff,#3f02ff,#3f01ff,#4100ff,#4200ff,#4500ff)"></div>
<div style="height:3px;background:linear-gradient(90deg,#6500ff,#6500ff,#6600ff,#6300ff,#6000ff,#5d00ff,#5900ff,#5600ff,#5400ff,#5100ff,#4e00ff,#4b00ff,#4900ff,#4600ff,#4400ff,#4200ff,#4000ff,#3f01ff,#3f02ff,#3e03ff,#3e03ff,#3e04ff,#3d05ff,#3d06ff,#3c08ff,#3a0bff,#3810ff,#3515ff,#321bff,#301fff,#2e24ff,#2c27ff,#2b2aff,#2a2cff,#292eff,#282fff,#2830ff,#2731ff,#2731ff,#2731ff,#2731ff,#2731ff,#282fff,#2a2cff,#2b29ff,#2d26ff,#2f22ff,#301fff,#321bff,#3417ff,#3614ff,#380fff,#3a0bff,#3c07ff,#3e04ff,#3f02ff)"></div>
<div style="height:3px;background:linear-gradient(90deg,#5d00ff,#5d00ff,#5e00ff,#5c00ff,#5900ff,#5500ff,#5200ff,#4f00ff,#4c00ff,#4900ff,#4600ff,#4300ff,#4100ff,#3f01ff,#3e03ff,#3e04ff,#3d06ff,#3b0aff,#390eff,#3711ff,#3614ff,#3516ff,#3418ff,#331aff,#321cff,#3020ff,#2e24ff,#2b29ff,#292eff,#2732ff,#2536ff,#2339ff,#223cff,#213eff,#2040ff,#1f41ff,#1f42ff,#1e43ff,#1e43ff,#1e43ff,#1e43ff,#1f42ff,#1f41ff,#213eff,#223bff,#2437ff,#2634ff,#2830ff,#2a2cff,#2c28ff,#2e24ff,#3020ff,#321bff,#3417ff,#3712ff,#390dff)"></div>
<div style="height:3px;background:linear-gradient(90deg,#5500ff,#5500ff,#5600ff,#5500ff,#5100ff,#4e00ff,#4b00ff,#4800ff,#4500ff,#4200ff,#3f01ff,#3e03ff,#3d05ff,#3c07ff,#390dff,#3711ff,#3516ff,#321bff,#301fff,#2f22ff,#2d26ff,#2c28ff,#2a2bff,#292dff,#282fff,#2634ff,#2438ff,#223cff,#1f41ff,#1d45ff,#1b49ff,#1a4cff,#194eff,#1850ff,#1752ff,#1653ff,#1654ff,#1555ff,#1555ff,#1555ff,#1555ff,#1654ff,#1752ff,#184fff,#1a4cff,#1b49ff,#1d45ff,#1f41ff,#213dff,#2339ff,#2535ff,#2830ff,#2a2bff,#2d26ff,#2f21ff,#321cff)"></div>
<div style="height:3px;background:linear-gradient(90deg,#4c00ff,#4c00ff,#4d00ff,#4e00ff,#4b00ff,#4700ff,#4400ff,#4000ff,#3f02ff,#3e04ff,#3d06ff,#3a0cff,#3712ff,#3417ff,#321cff,#2f21ff,#2d26ff,#2a2bff,#282fff,#2633ff,#2437ff,#233aff,#213dff,#203fff,#1f42ff,#1c47ff,#1a4bff,#184fff,#1654ff,#1457ff,#125bff,#115eff,#1060ff,#0f62ff,#0e64ff,#0d65ff,#0d66ff,#0c67ff,#0c67ff,#0c67ff,#0c67ff,#0d66ff,#0e64ff,#0f61ff,#115dff,#135aff,#1556ff,#1752ff,#194eff,#1b49ff,#1d45ff,#2040ff,#223bff,#2536ff,#2731ff,#2a2bff)"></div>
<div style="height:3px;background:linear-gradient(90deg,#4300ff,#4300ff,#4400ff,#4500ff,#4400ff,#4000ff,#3f02ff,#3e04ff,#3c08ff,#390eff,#3515ff,#321bff,#2f21ff,#2d26ff,#2a2cff,#2731ff,#2536ff,#223bff,#2040ff,#1e44ff,#1c48ff,#1a4bff,#184fff,#1752ff,#1555ff,#1359ff,#115eff,#0f62ff,#0d66ff,#0b6aff,#096dff,#0870ff,#0772ff,#0674ff,#0576ff,#0477ff,#0478ff,#0379ff,#0379ff,#0379ff,#0478ff,#0477ff,#0575ff,#0772ff,#086fff,#0a6bff,#0c67ff,#0e63ff,#115eff,#135aff,#1555ff,#1850ff,#1a4bff,#1d45ff,#2040ff,#233aff)"></div>
<div style="height:3px;background:linear-gradient(90deg,#3d05ff,#3d05ff,#3e04ff,#3e03ff,#3f02ff,#3e04ff,#3c08ff,#380fff,#3516ff,#311dff,#2e23ff,#2b2aff,#2830ff,#2536ff,#223bff,#1f41ff,#1d46ff,#1a4bff,#1850ff,#1555ff,#1359ff,#115dff,#1060ff,#0e63ff,#0c67ff,#0a6cff,#0870ff,#0674ff,#0478ff,#027cff,#0080ff,#0086ff,#008bff,#008eff,#0092ff,#0094ff,#0096ff,#0097ff,#0097ff,#0097ff,#0096ff,#0094ff,#008fff,#0089ff,#0082ff,#027cff,#0477ff,#0673ff,#096eff,#0b6aff,#0d65ff,#105fff,#135aff,#1654ff,#194eff,#1c48ff)"></div>
<div style="height:3px;background:linear-gradient(90deg,#3a0bff,#3a0cff,#3a0bff,#3b09ff,#3c07ff,#390eff,#3515ff,#311dff,#2e24ff,#2a2bff,#2731ff,#2438ff,#213eff,#1d45ff,#1a4bff,#1850ff,#1556ff,#125bff,#1060ff,#0d65ff,#0b69ff,#096eff,#0771ff,#0575ff,#0379ff,#017eff,#0086ff,#008eff,#0096ff,#009dff,#00a3ff,#00a8ff,#00adff,#00b1ff,#00b4ff,#00b7ff,#00b8ff,#00b9ff,#00b9ff,#00b9ff,#00b7ff,#00b5ff,#00b1ff,#00aaff,#00a2ff,#009aff,#0092ff,#0089ff,#0080ff,#0379ff,#0674ff,#086fff,#0b69ff,#0e63ff,#115dff,#1556ff)"></div>
<div style="height:3px;background:linear-gradient(90deg,#3613ff,#3613ff,#3712ff,#3810ff,#3613ff,#321bff,#2f22ff,#2b2aff,#2731ff,#2438ff,#203fff,#1d46ff,#194dff,#1653ff,#135aff,#1060ff,#0d65ff,#0a6bff,#0870ff,#0575ff,#037aff,#007fff,#0087ff,#008eff,#0095ff,#009fff,#00a8ff,#00b0ff,#00b8ff,#00bfff,#00c6ff,#00cbff,#00d0ff,#00d4ff,#00d7ff,#00d9ff,#00dbff,#00dbff,#00dbff,#00dbff,#00d9ff,#00d6ff,#00d2ff,#00caff,#00c2ff,#00baff,#00b1ff,#00a8ff,#009eff,#0093ff,#0089ff,#017eff,#0477ff,#0771ff,#0a6bff,#0e64ff)"></div>
<div style="height:3px;background:linear-gradient(90deg,#331aff,#331aff,#3319ff,#3418ff,#301fff,#2c27ff,#282fff,#2437ff,#213eff,#1d46ff,#194dff,#1654ff,#125bff,#0f62ff,#0c68ff,#096eff,#0674ff,#037aff,#0082ff,#008cff,#0095ff,#009eff,#00a7ff,#00afff,#00b6ff,#00c0ff,#00caff,#00d2ff,#00daff,#00e2ff,#00e8ff,#00eeff,#00f2ff,#00f6ff,#00f9ff,#00fcff,#00fdff,#00feff,#00fdff,#00fcff,#00faff,#00f7ff,#00f2ff,#00eaff,#00e2ff,#00d9ff,#00d0ff,#00c6ff,#00bbff,#00b1ff,#00a5ff,#0099ff,#008dff,#0081ff,#0478ff,#0772ff)"></div>
<div style="height:3px;background:linear-gradient(90deg,#2f21ff,#2f22ff,#2f21ff,#2e23ff,#2a2bff,#2633ff,#223bff,#1e43ff,#1a4bff,#1653ff,#135aff,#0f61ff,#0b69ff,#0870ff,#0576ff,#017dff,#0088ff,#0094ff,#009fff,#00aaff,#00b4ff,#00beff,#00c6ff,#00cfff,#00d7ff,#00e1ff,#00ebff,#00f4ff,#00fcff,#00fff3,#00ffe2,#00ffd3,#00ffc6,#00ffbb,#00ffb3,#00ffad,#00ffa9,#00ffa8,#00ffaa,#00ffad,#00ffb3,#00ffbc,#00ffcb,#00ffe0,#00fff7,#00f8ff,#00eeff,#00e3ff,#00d8ff,#00cdff,#00c1ff,#00b5ff,#00a8ff,#009bff,#008dff,#007fff)"></div>
<div style="height:3px;background:linear-gradient(90deg,#2b29ff,#2b29ff,#2c28ff,#292dff,#2536ff,#213eff,#1c47ff,#184fff,#1457ff,#105fff,#0c67ff,#096eff,#0576ff,#017eff,#008aff,#0097ff,#00a4ff,#00b0ff,#00bcff,#00c7ff,#00d2ff,#00dcff,#00e6ff,#00efff,#00f7ff,#00fff8,#00ffdd,#00ffc4,#00ffae,#00ff99,#00ff87,#00ff77,#00ff6a,#00ff5f,#00ff57,#00ff52,#00ff4f,#00ff4e,#00ff50,#00ff55,#00ff5d,#00ff66,#00ff77,#00ff8e,#00ffa6,#00ffc1,#00ffdd,#00fffb,#00f5ff,#00e8ff,#00dcff,#00cfff,#00c1ff,#00b3ff,#00a5ff,#0097ff)"></div>
<div style="height:3px;background:linear-gradient(90deg,#2731ff,#2731ff,#2830ff,#2438ff,#1f41ff,#1b49ff,#1752ff,#135aff,#0e63ff,#0a6bff,#0673ff,#027bff,#0087ff,#0096ff,#00a4ff,#00b2ff,#00bfff,#00ccff,#00d8ff,#00e4ff,#00f0ff,#00faff,#00fff1,#00ffd9,#00ffc0,#00ffa2,#00ff86,#00ff6d,#00ff55,#00ff40,#00ff2d,#00ff1c,#00ff0f,#00ff04,#05ff00,#0bff00,#0eff00,#0dff00,#09ff00,#03ff00,#00ff07,#00ff12,#00ff24,#00ff3d,#00ff57,#00ff74,#00ff92,#00ffb1,#00ffd2,#00fff4,#00f6ff,#00e8ff,#00daff,#00cbff,#00bdff,#00adff)"></div>
<div style="height:3px;background:linear-gradient(90deg,#2438ff,#2438ff,#2339ff,#1f42ff,#1a4bff,#1654ff,#115dff,#0d65ff,#096eff,#0576ff,#0080ff,#008fff,#009fff,#00aeff,#00bdff,#00cbff,#00d9ff,#00e7ff,#00f4ff,#00fffc,#00ffdc,#00ffbe,#00ffa2,#00ff87,#00ff6d,#00ff4e,#00ff30,#00ff15,#04ff00,#1eff00,#34ff00,#48ff00,#58ff00,#65ff00,#6eff00,#73ff00,#75ff00,#74ff00,#6fff00,#66ff00,#5aff00,#4bff00,#34ff00,#15ff00,#00ff0a,#00ff29,#00ff49,#00ff6a,#00ff8d,#00ffb1,#00ffd6,#00fffd,#00f1ff,#00e2ff,#00d2ff,#00c3ff)"></div>
<div style="height:3px;background:linear-gradient(90deg,#203fff,#203fff,#1f42ff,#1a4bff,#1654ff,#115dff,#0d66ff,#086fff,#0478ff,#0084ff,#0095ff,#00a5ff,#00b5ff,#00c5ff,#00d5ff,#00e4ff,#00f2ff,#00fffc,#00ffd7,#00ffb4,#00ff92,#00ff72,#00ff54,#00ff37,#00ff1b,#07ff00,#2aff00,#4bff00,#69ff00,#84ff00,#9cff00,#b0ff00,#c1ff00,#ceff00,#d6ff00,#dbff00,#dcff00,#daff00,#d3ff00,#c8ff00,#baff00,#a8ff00,#8eff00,#6dff00,#4aff00,#24ff00,#00ff03,#00ff27,#00ff4c,#00ff72,#00ff99,#00ffc1,#00ffeb,#00f7ff,#00e7ff,#00d6ff)"></div>
<div style="height:3px;background:linear-gradient(90deg,#1d46ff,#1d46ff,#1b4aff,#1653ff,#115dff,#0d66ff,#0870ff,#0379ff,#0086ff,#0098ff,#00a9ff,#00baff,#00caff,#00dbff,#00ebff,#00fbff,#00ffe2,#00ffba,#00ff94,#00ff6f,#00ff4b,#00ff29,#00ff08,#1aff00,#3dff00,#65ff00,#8aff00,#adff00,#cdff00,#eaff00,#fffd00,#fff200,#ffe800,#ffe100,#ffdd00,#ffda00,#ffda00,#ffdd00,#ffe200,#ffe900,#fff200,#fffd00,#e6ff00,#c2ff00,#9bff00,#73ff00,#49ff00,#1dff00,#00ff0e,#00ff37,#00ff60,#00ff8a,#00ffb5,#00ffe1,#00faff,#00e9ff)"></div>
<div style="height:3px;background:linear-gradient(90deg,#194dff,#194dff,#1752ff,#125bff,#0d65ff,#086fff,#0478ff,#0085ff,#0097ff,#00a9ff,#00bbff,#00cdff,#00deff,#00efff,#00fffd,#00ffd2,#00ffa7,#00ff7d,#00ff54,#00ff2d,#00ff07,#22ff00,#4bff00,#70ff00,#96ff00,#c0ff00,#e8ff00,#fff700,#ffe500,#ffd400,#ffc700,#ffc000,#ffba00,#ffb600,#ffb300,#ffb200,#ffb300,#ffb500,#ffb900,#ffbe00,#ffc400,#ffcf00,#ffe000,#fff500,#e8ff00,#bdff00,#90ff00,#61ff00,#31ff00,#00ff00,#00ff2c,#00ff58,#00ff85,#00ffb3,#00ffe1,#00f9ff)"></div>
<div style="height:3px;background:linear-gradient(90deg,#1653ff,#1653ff,#1458ff,#0f62ff,#0a6cff,#0576ff,#0082ff,#0095ff,#00a7ff,#00baff,#00ccff,#00deff,#00f0ff,#00fff8,#00ffca,#00ff9d,#00ff70,#00ff44,#00ff19,#14ff00,#42ff00,#6fff00,#9aff00,#c3ff00,#ecff00,#fff100,#ffda00,#ffc600,#ffbb00,#ffb000,#ffa600,#ff9f00,#ff9800,#ff9400,#ff9200,#ff9100,#ff9200,#ff9500,#ff9a00,#ffa100,#ffa900,#ffb200,#ffbe00,#ffcd00,#ffe500,#ffff00,#d0ff00,#9eff00,#6cff00,#38ff00,#04ff00,#00ff2b,#00ff5a,#00ff8a,#00ffb9,#00ffe9)"></div>
<div style="height:3px;background:linear-gradient(90deg,#1359ff,#1359ff,#115eff,#0c68ff,#0772ff,#017dff,#008fff,#00a2ff,#00b5ff,#00c8ff,#00dbff,#00eeff,#00fffd,#00ffcc,#00ff9c,#00ff6d,#00ff3e,#00ff10,#22ff00,#55ff00,#86ff00,#b7ff00,#e5ff00,#fff500,#ffde00,#ffc600,#ffb700,#ffa900,#ff9c00,#ff9000,#ff8600,#ff7e00,#ff7700,#ff7200,#ff7000,#ff7000,#ff7200,#ff7600,#ff7d00,#ff8500,#ff8e00,#ff9900,#ffa700,#ffb600,#ffc600,#ffde00,#fffa00,#d4ff00,#9fff00,#68ff00,#32ff00,#00ff05,#00ff36,#00ff67,#00ff98,#00ffca)"></div>
<div style="height:3px;background:linear-gradient(90deg,#115eff,#115eff,#0e63ff,#096dff,#0478ff,#0086ff,#009aff,#00adff,#00c1ff,#00d4ff,#00e8ff,#00fbff,#00ffd7,#00ffa5,#00ff74,#00ff42,#00ff11,#24ff00,#5aff00,#90ff00,#c4ff00,#f7ff00,#ffe800,#ffcf00,#ffbd00,#ffac00,#ff9c00,#ff8d00,#ff7f00,#ff7200,#ff6600,#ff5d00,#ff5500,#ff5100,#ff4f00,#ff4f00,#ff5300,#ff5900,#ff6100,#ff6b00,#ff7700,#ff8400,#ff9300,#ffa300,#ffb400,#ffc600,#ffe100,#fffe00,#c9ff00,#90ff00,#58ff00,#1fff00,#00ff18,#00ff4b,#00ff7e,#00ffb1)"></div>
<div style="height:3px;background:linear-gradient(90deg,#0f62ff,#0f62ff,#0d66ff,#0771ff,#027cff,#008eff,#00a2ff,#00b6ff,#00caff,#00deff,#00f2ff,#00ffec,#00ffb9,#00ff85,#00ff51,#00ff1e,#18ff00,#51ff00,#8aff00,#c2ff00,#faff00,#ffe500,#ffc800,#ffb800,#ffa700,#ff9500,#ff8400,#ff7300,#ff6300,#ff5500,#ff4800,#ff4400,#ff4100,#ff3f00,#ff3f00,#ff3f00,#ff4100,#ff4400,#ff4800,#ff5500,#ff6300,#ff7200,#ff8300,#ff9500,#ffa700,#ffb900,#ffcd00,#ffec00,#e9ff00,#afff00,#74ff00,#3aff00,#00ff01,#00ff36,#00ff6b,#00ffa0)"></div>
<div style="height:3px;background:linear-gradient(90deg,#0d66ff,#0d66ff,#0c68ff,#0772ff,#017eff,#0092ff,#00a6ff,#00baff,#00cfff,#00e5ff,#00faff,#00ffd6,#00ffa0,#00ff6b,#00ff36,#00ff01,#3bff00,#77ff00,#b2ff00,#ecff00,#ffea00,#ffcb00,#ffb800,#ffa600,#ff9400,#ff8100,#ff6f00,#ff5c00,#ff4b00,#ff4300,#ff3e00,#ff3a00,#ff3600,#ff3500,#ff3400,#ff3600,#ff3900,#ff3c00,#ff4100,#ff4600,#ff5500,#ff6600,#ff7800,#ff8b00,#ff9e00,#ffb100,#ffc400,#ffe000,#feff00,#c3ff00,#87ff00,#4cff00,#10ff00,#00ff28,#00ff60,#00ff97)"></div>
<div style="height:3px;background:linear-gradient(90deg,#0b69ff,#0b69ff,#0c67ff,#0771ff,#017dff,#0090ff,#00a5ff,#00baff,#00d1ff,#00e7ff,#00fffc,#00ffc8,#00ff90,#00ff59,#00ff21,#18ff00,#55ff00,#92ff00,#cfff00,#fff800,#ffd800,#ffbf00,#ffac00,#ff9900,#ff8600,#ff7200,#ff5e00,#ff4a00,#ff4200,#ff3c00,#ff3600,#ff3100,#ff2c00,#ff2a00,#ff2a00,#ff2e00,#ff3200,#ff3700,#ff3d00,#ff4300,#ff4d00,#ff6000,#ff7300,#ff8600,#ff9a00,#ffad00,#ffc000,#ffda00,#fffb00,#ccff00,#90ff00,#54ff00,#18ff00,#00ff24,#00ff5e,#00ff98)"></div>
<div style="height:3px;background:linear-gradient(90deg,#0b6aff,#0a6bff,#0b69ff,#0b6aff,#0477ff,#0087ff,#009cff,#00b3ff,#00ccff,#00e5ff,#00fff7,#00ffc3,#00ff89,#00ff4f,#00ff15,#28ff00,#66ff00,#a4ff00,#e2ff00,#ffee00,#ffcd00,#ffb700,#ffa400,#ff9000,#ff7c00,#ff6800,#ff5300,#ff4400,#ff3e00,#ff3800,#ff3100,#ff2b00,#ff2400,#ff1f00,#ff2400,#ff2a00,#ff3000,#ff3600,#ff3d00,#ff4300,#ff4e00,#ff6100,#ff7500,#ff8800,#ff9b00,#ffae00,#ffc100,#ffdc00,#fffc00,#c9ff00,#8dff00,#51ff00,#15ff00,#00ff27,#00ff65,#00ffa2)"></div>
<div style="height:3px;background:linear-gradient(90deg,#0a6cff,#0a6cff,#0b6aff,#0c67ff,#0a6cff,#037aff,#008bff,#00a5ff,#00c1ff,#00deff,#00fffc,#00ffc8,#00ff8a,#00ff4d,#00ff10,#2eff00,#6cff00,#aaff00,#e9ff00,#ffea00,#ffc800,#ffb400,#ffa000,#ff8c00,#ff7800,#ff6400,#ff5100,#ff4400,#ff3d00,#ff3700,#ff3100,#ff2c00,#ff2800,#ff2700,#ff2a00,#ff2e00,#ff3400,#ff3a00,#ff4000,#ff4600,#ff5600,#ff6a00,#ff7c00,#ff8f00,#ffa100,#ffb400,#ffc700,#ffe500,#f6ff00,#bbff00,#80ff00,#45ff00,#09ff00,#00ff35,#00ff74,#00ffb2)"></div>
<div style="height:3px;background:linear-gradient(90deg,#0a6cff,#0a6cff,#0b6aff,#0c67ff,#0f62ff,#096dff,#037aff,#0093ff,#00b3ff,#00d3ff,#00f7ff,#00ffd4,#00ff95,#00ff55,#00ff15,#2aff00,#68ff00,#a6ff00,#e4ff00,#ffec00,#ffcb00,#ffb600,#ffa300,#ff8f00,#ff7b00,#ff6800,#ff5600,#ff4600,#ff4000,#ff3b00,#ff3700,#ff3300,#ff3100,#ff3100,#ff3300,#ff3700,#ff3b00,#ff4000,#ff4600,#ff5400,#ff6600,#ff7800,#ff8a00,#ff9b00,#ffad00,#ffbe00,#ffd500,#fff400,#dbff00,#a2ff00,#68ff00,#2fff00,#00ff0d,#00ff4c,#00ff8b,#00ffca)"></div>
<div style="height:3px;background:linear-gradient(90deg,#0a6bff,#0a6bff,#0b6aff,#0d66ff,#0f62ff,#0f62ff,#086fff,#0081ff,#00a4ff,#00c6ff,#00e9ff,#00ffe8,#00ffa6,#00ff65,#00ff23,#1cff00,#5aff00,#97ff00,#d4ff00,#fff600,#ffd500,#ffbd00,#ffaa00,#ff9600,#ff8400,#ff7200,#ff6200,#ff5200,#ff4600,#ff4200,#ff3f00,#ff3d00,#ff3c00,#ff3c00,#ff3e00,#ff4100,#ff4400,#ff4c00,#ff5a00,#ff6a00,#ff7a00,#ff8b00,#ff9c00,#ffac00,#ffbc00,#ffcf00,#ffec00,#edff00,#b6ff00,#7fff00,#47ff00,#0fff00,#00ff2d,#00ff6b,#00ffaa,#00ffe9)"></div>
<div style="height:3px;background:linear-gradient(90deg,#0b69ff,#0b6aff,#0c68ff,#0d65ff,#1060ff,#135aff,#0c67ff,#0576ff,#0094ff,#00b8ff,#00dbff,#00fffe,#00ffbf,#00ff7d,#00ff3c,#05ff00,#41ff00,#7dff00,#b8ff00,#f3ff00,#ffe600,#ffc800,#ffb500,#ffa300,#ff9200,#ff8200,#ff7400,#ff6700,#ff5b00,#ff5200,#ff4a00,#ff4700,#ff4600,#ff4700,#ff4c00,#ff5300,#ff5d00,#ff6800,#ff7500,#ff8300,#ff9200,#ffa200,#ffb100,#ffc000,#ffd300,#ffed00,#efff00,#bcff00,#88ff00,#53ff00,#1dff00,#00ff1b,#00ff57,#00ff94,#00ffd1,#00f7ff)"></div>
<div style="height:3px;background:linear-gradient(90deg,#0c67ff,#0c67ff,#0d66ff,#0f62ff,#115eff,#1457ff,#105fff,#0a6cff,#0084ff,#00a7ff,#00caff,#00eeff,#00ffdf,#00ff9e,#00ff5d,#00ff1d,#20ff00,#5aff00,#93ff00,#ccff00,#fffd00,#ffdf00,#ffc500,#ffb400,#ffa400,#ff9600,#ff8a00,#ff7f00,#ff7600,#ff6e00,#ff6900,#ff6600,#ff6600,#ff6900,#ff6d00,#ff7400,#ff7d00,#ff8700,#ff9300,#ff9f00,#ffad00,#ffbc00,#ffc900,#ffe000,#fff700,#e2ff00,#b3ff00,#83ff00,#51ff00,#1fff00,#00ff16,#00ff4f,#00ff89,#00ffc4,#00ffff,#00dfff)"></div>
<div style="height:3px;background:linear-gradient(90deg,#0e64ff,#0e64ff,#0f62ff,#105fff,#125bff,#1555ff,#1458ff,#0d65ff,#0575ff,#0093ff,#00b6ff,#00d9ff,#00fcff,#00ffc6,#00ff88,#00ff49,#00ff0b,#2dff00,#64ff00,#9aff00,#d0ff00,#fffd00,#ffe200,#ffc800,#ffb900,#ffae00,#ffa300,#ff9a00,#ff9200,#ff8d00,#ff8900,#ff8700,#ff8800,#ff8a00,#ff8f00,#ff9500,#ff9d00,#ffa600,#ffb100,#ffbd00,#ffca00,#ffe000,#fff500,#edff00,#c5ff00,#9bff00,#6fff00,#42ff00,#14ff00,#00ff1f,#00ff55,#00ff8b,#00ffc3,#00fffb,#00e2ff,#00c3ff)"></div>
<div style="height:3px;background:linear-gradient(90deg,#1060ff,#1060ff,#115eff,#125bff,#1457ff,#1751ff,#1751ff,#115dff,#0b69ff,#017eff,#009fff,#00c1ff,#00e2ff,#00fff7,#00ffba,#00ff7d,#00ff42,#00ff07,#2eff00,#61ff00,#93ff00,#c4ff00,#f3ff00,#ffed00,#ffd700,#ffc700,#ffbe00,#ffb700,#ffb100,#ffac00,#ffa900,#ffa800,#ffa900,#ffac00,#ffb000,#ffb600,#ffbe00,#ffc700,#ffd500,#ffe700,#fffb00,#e1ff00,#bcff00,#99ff00,#75ff00,#4eff00,#25ff00,#00ff05,#00ff35,#00ff67,#00ff9a,#00ffce,#00fdff,#00e0ff,#00c2ff,#00a3ff)"></div>
<div style="height:3px;background:linear-gradient(90deg,#125bff,#125bff,#135aff,#1457ff,#1752ff,#194dff,#1c48ff,#1654ff,#1060ff,#0a6cff,#0084ff,#00a5ff,#00c6ff,#00e6ff,#00fff3,#00ffb9,#00ff80,#00ff48,#00ff11,#21ff00,#50ff00,#7eff00,#aaff00,#d3ff00,#f9ff00,#fff400,#ffe700,#ffdc00,#ffd400,#ffce00,#ffcb00,#ffca00,#ffcc00,#ffd100,#ffd800,#ffe200,#ffed00,#fffb00,#ebff00,#cbff00,#a9ff00,#84ff00,#62ff00,#42ff00,#20ff00,#00ff04,#00ff2d,#00ff58,#00ff85,#00ffb4,#00ffe4,#00f3ff,#00d7ff,#00bbff,#009eff,#0081ff)"></div>
<div style="height:3px;background:linear-gradient(90deg,#1555ff,#1556ff,#1654ff,#1751ff,#194dff,#1c48ff,#1f41ff,#1a4bff,#1556ff,#0f62ff,#096eff,#0086ff,#00a6ff,#00c5ff,#00e3ff,#00fffb,#00ffc4,#00ff8f,#00ff5b,#00ff28,#08ff00,#32ff00,#5bff00,#81ff00,#a3ff00,#bbff00,#d0ff00,#e1ff00,#edff00,#f6ff00,#faff00,#faff00,#f5ff00,#ecff00,#dfff00,#ceff00,#b9ff00,#a1ff00,#86ff00,#68ff00,#47ff00,#25ff00,#05ff00,#00ff1b,#00ff3d,#00ff62,#00ff88,#00ffb0,#00ffdb,#00fbff,#00e2ff,#00c9ff,#00afff,#0094ff,#027bff,#0b6aff)"></div>
<div style="height:3px;background:linear-gradient(90deg,#1850ff,#1850ff,#194eff,#1a4cff,#1c48ff,#1f42ff,#223cff,#2040ff,#1a4cff,#1457ff,#0f62ff,#096dff,#0082ff,#00a0ff,#00beff,#00dbff,#00f7ff,#00ffdb,#00ffaa,#00ff7b,#00ff4d,#00ff21,#08ff00,#2cff00,#4bff00,#60ff00,#71ff00,#7fff00,#8aff00,#90ff00,#93ff00,#91ff00,#8cff00,#83ff00,#76ff00,#65ff00,#51ff00,#3aff00,#20ff00,#03ff00,#00ff1e,#00ff43,#00ff64,#00ff82,#00ffa2,#00ffc4,#00ffe7,#00f6ff,#00e1ff,#00cbff,#00b4ff,#009cff,#0083ff,#0771ff,#0d65ff,#125cff)"></div>
<div style="height:3px;background:linear-gradient(90deg,#1b49ff,#1b49ff,#1c48ff,#1d45ff,#1f41ff,#223cff,#2536ff,#2535ff,#2040ff,#1b4aff,#1555ff,#1060ff,#0b6aff,#027cff,#0096ff,#00b1ff,#00ccff,#00e6ff,#00fffe,#00ffd1,#00ffa6,#00ff7d,#00ff56,#00ff32,#00ff12,#02ff00,#11ff00,#1dff00,#25ff00,#2aff00,#2bff00,#29ff00,#23ff00,#1aff00,#0dff00,#00ff04,#00ff19,#00ff32,#00ff4e,#00ff6c,#00ff8d,#00ffb1,#00ffd0,#00ffec,#00f5ff,#00e5ff,#00d4ff,#00c2ff,#00aeff,#009aff,#0084ff,#0674ff,#0c68ff,#105fff,#1556ff,#194dff)"></div>
<div style="height:3px;background:linear-gradient(90deg,#1f42ff,#1f42ff,#1f41ff,#203fff,#223bff,#2536ff,#2830ff,#2b2aff,#2633ff,#213dff,#1c48ff,#1752ff,#125cff,#0d66ff,#0772ff,#0086ff,#009fff,#00b8ff,#00d0ff,#00e7ff,#00fdff,#00ffdd,#00ffb8,#00ff96,#00ff79,#00ff68,#00ff59,#00ff4e,#00ff47,#00ff43,#00ff43,#00ff46,#00ff4d,#00ff58,#00ff66,#00ff77,#00ff8c,#00ffa5,#00ffc0,#00ffde,#00fffe,#00e7ff,#00d6ff,#00c8ff,#00baff,#00abff,#009cff,#008bff,#027cff,#086fff,#0d66ff,#105fff,#1457ff,#184fff,#1d46ff,#213eff)"></div>
<div style="height:3px;background:linear-gradient(90deg,#223bff,#223bff,#233aff,#2438ff,#2634ff,#2830ff,#2b2aff,#2e24ff,#2d25ff,#2830ff,#233aff,#1e43ff,#194dff,#1556ff,#105fff,#0c68ff,#0575ff,#0088ff,#009fff,#00b4ff,#00c9ff,#00ddff,#00efff,#00fffd,#00ffe2,#00ffd2,#00ffc6,#00ffbd,#00ffb7,#00ffb4,#00ffb5,#00ffb9,#00ffc0,#00ffcb,#00ffda,#00ffeb,#00feff,#00eeff,#00dfff,#00cdff,#00bbff,#00a8ff,#0098ff,#008bff,#017eff,#0575ff,#0a6cff,#0e64ff,#105fff,#135aff,#1654ff,#194dff,#1d46ff,#213eff,#2536ff,#292eff)"></div>
<div style="height:3px;background:linear-gradient(90deg,#2634ff,#2634ff,#2633ff,#2731ff,#292dff,#2b29ff,#2e24ff,#311eff,#3417ff,#2f21ff,#2a2bff,#2634ff,#213dff,#1d46ff,#184fff,#1458ff,#1060ff,#0c68ff,#0772ff,#0080ff,#0094ff,#00a6ff,#00b8ff,#00c8ff,#00d5ff,#00ddff,#00e3ff,#00e7ff,#00e9ff,#00eaff,#00e9ff,#00e7ff,#00e2ff,#00dcff,#00d4ff,#00c9ff,#00bdff,#00afff,#009fff,#008dff,#027cff,#0870ff,#0d65ff,#115dff,#1359ff,#1556ff,#1752ff,#184fff,#1a4bff,#1d46ff,#1f41ff,#223bff,#2634ff,#292dff,#2d25ff,#311dff)"></div>
<div style="height:3px;background:linear-gradient(90deg,#2a2cff,#2a2cff,#2a2bff,#2b29ff,#2d26ff,#2f22ff,#311dff,#3418ff,#3712ff,#3712ff,#321bff,#2e24ff,#292dff,#2536ff,#213eff,#1d46ff,#194eff,#1556ff,#115dff,#0e64ff,#0b6aff,#0575ff,#007fff,#008fff,#009bff,#00a2ff,#00a7ff,#00aaff,#00acff,#00acff,#00abff,#00a8ff,#00a3ff,#009dff,#0095ff,#008aff,#017eff,#0575ff,#0b6aff,#105fff,#1457ff,#184fff,#1b49ff,#1d45ff,#1f42ff,#203fff,#213dff,#233aff,#2437ff,#2633ff,#292eff,#2c28ff,#2f22ff,#321bff,#3614ff,#3a0cff)"></div>
<div style="height:3px;background:linear-gradient(90deg,#2d25ff,#2d25ff,#2e24ff,#2f22ff,#301fff,#321bff,#3417ff,#3712ff,#3a0cff,#3d06ff,#3a0bff,#3614ff,#321cff,#2d25ff,#292dff,#2535ff,#223cff,#1e43ff,#1b4aff,#1751ff,#1457ff,#115dff,#0f62ff,#0c67ff,#0a6bff,#086fff,#0771ff,#0673ff,#0674ff,#0674ff,#0673ff,#0771ff,#096eff,#0b6aff,#0c67ff,#0f62ff,#115dff,#1457ff,#184fff,#1c47ff,#203fff,#2438ff,#2732ff,#292eff,#2a2bff,#2b29ff,#2c27ff,#2d25ff,#2f22ff,#301fff,#331aff,#3515ff,#380fff,#3b09ff,#3e04ff,#3e03ff)"></div>
<div style="height:3px;background:linear-gradient(90deg,#311dff,#311dff,#321cff,#321bff,#3418ff,#3614ff,#3810ff,#3a0bff,#3d06ff,#3f01ff,#3e03ff,#3d05ff,#3a0bff,#3613ff,#321bff,#2f22ff,#2b2aff,#2830ff,#2437ff,#213dff,#1e43ff,#1b49ff,#194eff,#1653ff,#1556ff,#1458ff,#135aff,#135aff,#125bff,#135aff,#135aff,#1458ff,#1556ff,#1654ff,#1850ff,#1a4cff,#1d46ff,#2040ff,#2339ff,#2731ff,#2c28ff,#2f21ff,#321bff,#3417ff,#3614ff,#3613ff,#3711ff,#3810ff,#390eff,#3a0bff,#3c07ff,#3e03ff,#3f02ff,#3f01ff,#4000ff,#4300ff)"></div>
<div style="height:3px;background:linear-gradient(90deg,#3516ff,#3516ff,#3515ff,#3613ff,#3711ff,#390eff,#3b0aff,#3d05ff,#3f01ff,#4600ff,#4300ff,#4000ff,#3f02ff,#3d05ff,#3b09ff,#3810ff,#3417ff,#311dff,#2e24ff,#2b29ff,#282fff,#2634ff,#2339ff,#213eff,#1f41ff,#1e43ff,#1e44ff,#1d45ff,#1d45ff,#1d45ff,#1e44ff,#1f42ff,#2040ff,#213eff,#233aff,#2536ff,#2830ff,#2b2aff,#2f22ff,#331aff,#3712ff,#3b0aff,#3d05ff,#3f01ff,#4200ff,#4400ff,#4600ff,#4700ff,#4600ff,#4400ff,#4300ff,#4300ff,#4400ff,#4600ff,#4800ff,#4b00ff)"></div>
<div style="height:3px;background:linear-gradient(90deg,#390eff,#380fff,#390eff,#3a0cff,#3b0aff,#3c07ff,#3e04ff,#4000ff,#4700ff,#4d00ff,#4a00ff,#4700ff,#4300ff,#4000ff,#3f01ff,#3e03ff,#3d05ff,#3b0aff,#3810ff,#3515ff,#321bff,#3020ff,#2d25ff,#2b29ff,#2a2cff,#292eff,#292eff,#282fff,#282fff,#282fff,#292eff,#2a2cff,#2b2aff,#2c28ff,#2e24ff,#3020ff,#331aff,#3614ff,#3a0cff,#3d05ff,#4500ff,#5000ff,#5800ff,#5b00ff,#5a00ff,#5800ff,#5500ff,#5100ff,#4e00ff,#4c00ff,#4b00ff,#4b00ff,#4c00ff,#4e00ff,#5000ff,#5200ff)"></div>
<div style="height:3px;background:linear-gradient(90deg,#3c07ff,#3c08ff,#3c07ff,#3d06ff,#3e03ff,#3f01ff,#4300ff,#4900ff,#4f00ff,#5400ff,#5100ff,#4e00ff,#4b00ff,#4800ff,#4500ff,#4300ff,#4000ff,#3f01ff,#3e03ff,#3d05ff,#3d06ff,#3a0bff,#3810ff,#3614ff,#3417ff,#3418ff,#3319ff,#3319ff,#3319ff,#3319ff,#3418ff,#3516ff,#3614ff,#3711ff,#390eff,#3b0aff,#3e04ff,#4200ff,#4a00ff,#5000ff,#5700ff,#5d00ff,#6000ff,#6200ff,#6100ff,#5f00ff,#5c00ff,#5800ff,#5600ff,#5400ff,#5300ff,#5300ff,#5400ff,#5500ff,#5700ff,#5a00ff)"></div>
<div style="height:3px;background:linear-gradient(90deg,#3f01ff,#3f01ff,#4000ff,#4100ff,#4400ff,#4800ff,#4c00ff,#5100ff,#5700ff,#5b00ff,#5800ff,#5500ff,#5200ff,#5000ff,#4d00ff,#4a00ff,#4800ff,#4600ff,#4300ff,#4100ff,#4000ff,#3f02ff,#3e03ff,#3e04ff,#3d05ff,#3d05ff,#3d05ff,#3d05ff,#3d05ff,#3d05ff,#3d05ff,#3e04ff,#3e03ff,#3f02ff,#3f01ff,#4000ff,#4400ff,#4800ff,#4e00ff,#5300ff,#5900ff,#5e00ff,#6200ff,#6400ff,#6400ff,#6300ff,#6100ff,#5e00ff,#5d00ff,#5b00ff,#5a00ff,#5b00ff,#5c00ff,#5d00ff,#5f00ff,#6100ff)"></div>
<div style="height:3px;background:linear-gradient(90deg,#4800ff,#4800ff,#4900ff,#4b00ff,#4d00ff,#5100ff,#5500ff,#5900ff,#5e00ff,#6300ff,#6000ff,#5d00ff,#5a00ff,#5700ff,#5500ff,#5200ff,#5000ff,#4e00ff,#4c00ff,#4a00ff,#4800ff,#4600ff,#4400ff,#4300ff,#4200ff,#4100ff,#4100ff,#4100ff,#4100ff,#4000ff,#4000ff,#4000ff,#4000ff,#4000ff,#4200ff,#4400ff,#4700ff,#4b00ff,#5000ff,#5500ff,#5a00ff,#5e00ff,#6100ff,#6300ff,#6400ff,#6300ff,#6100ff,#6000ff,#5e00ff,#5e00ff,#5e00ff,#5e00ff,#6000ff,#6200ff,#6400ff,#6600ff)"></div>
<div style="height:3px;background:linear-gradient(90deg,#5100ff,#5100ff,#5200ff,#5400ff,#5600ff,#5900ff,#5c00ff,#6000ff,#6500ff,#6900ff,#6700ff,#6500ff,#6200ff,#5f00ff,#5d00ff,#5a00ff,#5800ff,#5600ff,#5400ff,#5200ff,#5000ff,#4e00ff,#4d00ff,#4b00ff,#4a00ff,#4900ff,#4800ff,#4700ff,#4600ff,#4600ff,#4500ff,#4500ff,#4500ff,#4600ff,#4700ff,#4900ff,#4b00ff,#4f00ff,#5300ff,#5700ff,#5b00ff,#5f00ff,#6200ff,#6400ff,#6400ff,#6400ff,#6300ff,#6200ff,#6100ff,#6100ff,#6100ff,#6200ff,#6300ff,#6500ff,#6700ff,#6900ff)"></div>
<div style="height:3px;background:linear-gradient(90deg,#5a00ff,#5a00ff,#5b00ff,#5c00ff,#5e00ff,#6100ff,#6400ff,#6700ff,#6b00ff,#6d00ff,#6b00ff,#6900ff,#6700ff,#6500ff,#6300ff,#6100ff,#5f00ff,#5d00ff,#5b00ff,#5900ff,#5700ff,#5500ff,#5400ff,#5200ff,#5100ff,#5000ff,#4f00ff,#4e00ff,#4d00ff,#4c00ff,#4c00ff,#4c00ff,#4c00ff,#4c00ff,#4d00ff,#4f00ff,#5100ff,#5400ff,#5700ff,#5b00ff,#5e00ff,#6100ff,#6400ff,#6500ff,#6600ff,#6600ff,#6500ff,#6500ff,#6400ff,#6400ff,#6500ff,#6600ff,#6700ff,#6900ff,#6b00ff,#6d00ff)"></div>
<div style="height:3px;background:linear-gradient(90deg,#6200ff,#6200ff,#6200ff,#6400ff,#6500ff,#6800ff,#6b00ff,#6e00ff,#7100ff,#7100ff,#6f00ff,#6d00ff,#6b00ff,#6900ff,#6800ff,#6600ff,#6400ff,#6200ff,#6100ff,#5f00ff,#5d00ff,#5c00ff,#5b00ff,#5900ff,#5800ff,#5700ff,#5600ff,#5500ff,#5500ff,#5400ff,#5400ff,#5300ff,#5400ff,#5400ff,#5500ff,#5600ff,#5700ff,#5a00ff,#5c00ff,#5f00ff,#6200ff,#6400ff,#6600ff,#6800ff,#6900ff,#6900ff,#6900ff,#6800ff,#6800ff,#6900ff,#6900ff,#6a00ff,#6c00ff,#6d00ff,#6f00ff,#7100ff)"></div>
<div style="height:3px;background:linear-gradient(90deg,#6900ff,#6900ff,#6a00ff,#6b00ff,#6c00ff,#6f00ff,#7100ff,#7400ff,#7600ff,#7400ff,#7300ff,#7100ff,#7000ff,#6e00ff,#6d00ff,#6b00ff,#6a00ff,#6800ff,#6700ff,#6500ff,#6400ff,#6300ff,#6100ff,#6000ff,#5f00ff,#5e00ff,#5e00ff,#5d00ff,#5c00ff,#5c00ff,#5b00ff,#5b00ff,#5b00ff,#5c00ff,#5c00ff,#5d00ff,#5e00ff,#6000ff,#6200ff,#6400ff,#6600ff,#6800ff,#6a00ff,#6b00ff,#6c00ff,#6c00ff,#6c00ff,#6c00ff,#6d00ff,#6d00ff,#6e00ff,#6f00ff,#7000ff,#7200ff,#7300ff,#7500ff)"></div>
<div style="height:3px;background:linear-gradient(90deg,#7000ff,#7000ff,#7100ff,#7100ff,#7300ff,#7500ff,#7700ff,#7900ff,#7a00ff,#7800ff,#7700ff,#7600ff,#7400ff,#7300ff,#7200ff,#7000ff,#6f00ff,#6e00ff,#6d00ff,#6b00ff,#6a00ff,#6900ff,#6800ff,#6700ff,#6600ff,#6600ff,#6500ff,#6400ff,#6400ff,#6300ff,#6300ff,#6300ff,#6300ff,#6300ff,#6400ff,#6400ff,#6500ff,#6600ff,#6800ff,#6a00ff,#6b00ff,#6d00ff,#6e00ff,#6f00ff,#7000ff,#7000ff,#7100ff,#7100ff,#7100ff,#7200ff,#7300ff,#7400ff,#7500ff,#7600ff,#7700ff,#7900ff)"></div>
<div style="height:3px;background:linear-gradient(90deg,#7600ff,#7600ff,#7700ff,#7700ff,#7900ff,#7a00ff,#7c00ff,#7e00ff,#7d00ff,#7c00ff,#7b00ff,#7a00ff,#7800ff,#7700ff,#7600ff,#7500ff,#7400ff,#7300ff,#7200ff,#7100ff,#7000ff,#6f00ff,#6e00ff,#6e00ff,#6d00ff,#6c00ff,#6c00ff,#6b00ff,#6b00ff,#6b00ff,#6a00ff,#6a00ff,#6a00ff,#6a00ff,#6b00ff,#6b00ff,#6c00ff,#6d00ff,#6e00ff,#6f00ff,#7000ff,#7100ff,#7200ff,#7300ff,#7400ff,#7400ff,#7500ff,#7500ff,#7600ff,#7600ff,#7700ff,#7800ff,#7900ff,#7a00ff,#7b00ff,#7c00ff)"></div>
<div style="height:3px;background:linear-gradient(90deg,#7c00ff,#7c00ff,#7c00ff,#7d00ff,#7e00ff,#7f00ff,#8100ff,#8100ff,#8000ff,#7f00ff,#7e00ff,#7d00ff,#7c00ff,#7b00ff,#7a00ff,#7a00ff,#7900ff,#7800ff,#7700ff,#7600ff,#7500ff,#7500ff,#7400ff,#7300ff,#7300ff,#7200ff,#7200ff,#7200ff,#7100ff,#7100ff,#7100ff,#7100ff,#7100ff,#7100ff,#7100ff,#7100ff,#7200ff,#7300ff,#7300ff,#7400ff,#7500ff,#7600ff,#7700ff,#7700ff,#7800ff,#7800ff,#7900ff,#7900ff,#7a00ff,#7b00ff,#7b00ff,#7c00ff,#7d00ff,#7e00ff,#7f00ff,#8000ff)"></div>
<div style="height:3px;background:linear-gradient(90deg,#8100ff,#8100ff,#8100ff,#8200ff,#8300ff,#8400ff,#8400ff,#8300ff,#8300ff,#8200ff,#8100ff,#8000ff,#8000ff,#7f00ff,#7e00ff,#7d00ff,#7d00ff,#7c00ff,#7b00ff,#7b00ff,#7a00ff,#7a00ff,#7900ff,#7800ff,#7800ff,#7800ff,#7700ff,#7700ff,#7700ff,#7700ff,#7600ff,#7600ff,#7600ff,#7600ff,#7700ff,#7700ff,#7700ff,#7800ff,#7800ff,#7900ff,#7900ff,#7a00ff,#7b00ff,#7b00ff,#7c00ff,#7c00ff,#7d00ff,#7d00ff,#7e00ff,#7e00ff,#7f00ff,#8000ff,#8000ff,#8100ff,#8200ff,#8300ff)"></div>
<div style="height:3px;background:linear-gradient(90deg,#8500ff,#8500ff,#8600ff,#8600ff,#8700ff,#8700ff,#8600ff,#8500ff,#8500ff,#8400ff,#8400ff,#8300ff,#8200ff,#8200ff,#8100ff,#8100ff,#8000ff,#8000ff,#7f00ff,#7f00ff,#7e00ff,#7e00ff,#7d00ff,#7d00ff,#7c00ff,#7c00ff,#7c00ff,#7c00ff,#7b00ff,#7b00ff,#7b00ff,#7b00ff,#7b00ff,#7b00ff,#7b00ff,#7b00ff,#7c00ff,#7c00ff,#7c00ff,#7d00ff,#7d00ff,#7e00ff,#7e00ff,#7f00ff,#7f00ff,#8000ff,#8000ff,#8000ff,#8100ff,#8100ff,#8200ff,#8300ff,#8300ff,#8400ff,#8400ff,#8500ff)"></div>
<div style="height:3px;background:linear-gradient(90deg,#8900ff,#8900ff,#8a00ff,#8900ff,#8900ff,#8800ff,#8800ff,#8700ff,#8700ff,#8600ff,#8600ff,#8500ff,#8500ff,#8400ff,#8400ff,#8300ff,#8300ff,#8200ff,#8200ff,#8200ff,#8100ff,#8100ff,#8100ff,#8000ff,#8000ff,#8000ff,#7f00ff,#7f00ff,#7f00ff,#7f00ff,#7f00ff,#7f00ff,#7f00ff,#7f00ff,#7f00ff,#7f00ff,#7f00ff,#8000ff,#8000ff,#8000ff,#8100ff,#8100ff,#8100ff,#8200ff,#8200ff,#8300ff,#8300ff,#8300ff,#8400ff,#8400ff,#8500ff,#8500ff,#8600ff,#8600ff,#8700ff,#8700ff)"></div>
<div style="height:3px;background:linear-gradient(90deg,#8c00ff,#8b00ff,#8b00ff,#8a00ff,#8a00ff,#8a00ff,#8900ff,#8900ff,#8800ff,#8800ff,#8800ff,#8700ff,#8700ff,#8600ff,#8600ff,#8600ff,#8500ff,#8500ff,#8500ff,#8400ff,#8400ff,#8400ff,#8300ff,#8300ff,#8300ff,#8300ff,#8200ff,#8200ff,#8200ff,#8200ff,#8200ff,#8200ff,#8200ff,#8200ff,#8200ff,#8200ff,#8200ff,#8300ff,#8300ff,#8300ff,#8300ff,#8400ff,#8400ff,#8400ff,#8500ff,#8500ff,#8500ff,#8600ff,#8600ff,#8600ff,#8700ff,#8700ff,#8800ff,#8800ff,#8800ff,#8900ff)"></div>
<div style="height:3px;background:linear-gradient(90deg,#8c00ff,#8c00ff,#8c00ff,#8b00ff,#8b00ff,#8b00ff,#8a00ff,#8a00ff,#8a00ff,#8900ff,#8900ff,#8900ff,#8800ff,#8800ff,#8800ff,#8700ff,#8700ff,#8700ff,#8600ff,#8600ff,#8600ff,#8600ff,#8600ff,#8500ff,#8500ff,#8500ff,#8500ff,#8500ff,#8500ff,#8500ff,#8500ff,#8500ff,#8500ff,#8500ff,#8500ff,#8500ff,#8500ff,#8500ff,#8500ff,#8500ff,#8600ff,#8600ff,#8600ff,#8600ff,#8700ff,#8700ff,#8700ff,#8700ff,#8800ff,#8800ff,#8800ff,#8900ff,#8900ff,#8900ff,#8a00ff,#8a00ff)"></div>
<div style="height:3px;background:linear-gradient(90deg,#8d00ff,#8d00ff,#8d00ff,#8c00ff,#8c00ff,#8c00ff,#8b00ff,#8b00ff,#8b00ff,#8a00ff,#8a00ff,#8a00ff,#8a00ff,#8900ff,#8900ff,#8900ff,#8900ff,#8800ff,#8800ff,#8800ff,#8800ff,#8700ff,#8700ff,#8700ff,#8700ff,#8700ff,#8700ff,#8700ff,#8700ff,#8700ff,#8700ff,#8700ff,#8700ff,#8700ff,#8700ff,#8700ff,#8700ff,#8700ff,#8700ff,#8700ff,#8700ff,#8800ff,#8800ff,#8800ff,#8800ff,#8800ff,#8900ff,#8900ff,#8900ff,#8900ff,#8a00ff,#8a00ff,#8a00ff,#8b00ff,#8b00ff,#8b00ff)"></div>
<div style="height:3px;background:linear-gradient(90deg,#8e00ff,#8d00ff,#8d00ff,#8d00ff,#8d00ff,#8c00ff,#8c00ff,#8c00ff,#8c00ff,#8b00ff,#8b00ff,#8b00ff,#8b00ff,#8a00ff,#8a00ff,#8a00ff,#8a00ff,#8a00ff,#8900ff,#8900ff,#8900ff,#8900ff,#8900ff,#8900ff,#8800ff,#8800ff,#8800ff,#8800ff,#8800ff,#8800ff,#8800ff,#8800ff,#8800ff,#8800ff,#8800ff,#8800ff,#8800ff,#8800ff,#8900ff,#8900ff,#8900ff,#8900ff,#8900ff,#8900ff,#8a00ff,#8a00ff,#8a00ff,#8a00ff,#8a00ff,#8b00ff,#8b00ff,#8b00ff,#8b00ff,#8c00ff,#8c00ff,#8c00ff)"></div>
<div style="height:3px;background:linear-gradient(90deg,#8e00ff,#8e00ff,#8e00ff,#8e00ff,#8d00ff,#8d00ff,#8d00ff,#8d00ff,#8c00ff,#8c00ff,#8c00ff,#8c00ff,#8c00ff,#8b00ff,#8b00ff,#8b00ff,#8b00ff,#8b00ff,#8a00ff,#8a00ff,#8a00ff,#8a00ff,#8a00ff,#8a00ff,#8a00ff,#8a00ff,#8900ff,#8900ff,#8900ff,#8900ff,#8900ff,#8900ff,#8900ff,#8900ff,#8900ff,#8900ff,#8a00ff,#8a00ff,#8a00ff,#8a00ff,#8a00ff,#8a00ff,#8a00ff,#8a00ff,#8b00ff,#8b00ff,#8b00ff,#8b00ff,#8b00ff,#8c00ff,#8c00ff,#8c00ff,#8c00ff,#8c00ff,#8d00ff,#8d00ff)"></div>
<div style="height:3px;background:linear-gradient(90deg,#8f00ff,#8e00ff,#8e00ff,#8e00ff,#8e00ff,#8e00ff,#8d00ff,#8d00ff,#8d00ff,#8d00ff,#8d00ff,#8c00ff,#8c00ff,#8c00ff,#8c00ff,#8c00ff,#8c00ff,#8b00ff,#8b00ff,#8b00ff,#8b00ff,#8b00ff,#8b00ff,#8b00ff,#8b00ff,#8b00ff,#8a00ff,#8a00ff,#8a00ff,#8a00ff,#8a00ff,#8a00ff,#8a00ff,#8a00ff,#8a00ff,#8a00ff,#8b00ff,#8b00ff,#8b00ff,#8b00ff,#8b00ff,#8b00ff,#8b00ff,#8b00ff,#8b00ff,#8c00ff,#8c00ff,#8c00ff,#8c00ff,#8c00ff,#8d00ff,#8d00ff,#8d00ff,#8d00ff,#8d00ff,#8e00ff)"></div>
<div style="height:3px;background:linear-gradient(90deg,#8f00ff,#8f00ff,#8f00ff,#8e00ff,#8e00ff,#8e00ff,#8e00ff,#8e00ff,#8e00ff,#8d00ff,#8d00ff,#8d00ff,#8d00ff,#8d00ff,#8d00ff,#8c00ff,#8c00ff,#8c00ff,#8c00ff,#8c00ff,#8c00ff,#8c00ff,#8c00ff,#8c00ff,#8b00ff,#8b00ff,#8b00ff,#8b00ff,#8b00ff,#8b00ff,#8b00ff,#8b00ff,#8b00ff,#8b00ff,#8b00ff,#8b00ff,#8b00ff,#8b00ff,#8c00ff,#8c00ff,#8c00ff,#8c00ff,#8c00ff,#8c00ff,#8c00ff,#8c00ff,#8c00ff,#8d00ff,#8d00ff,#8d00ff,#8d00ff,#8d00ff,#8d00ff,#8e00ff,#8e00ff,#8e00ff)"></div>
<div style="height:3px;background:linear-gradient(90deg,#8f00ff,#8f00ff,#8f00ff,#8f00ff,#8f00ff,#8f00ff,#8e00ff,#8e00ff,#8e00ff,#8e00ff,#8e00ff,#8e00ff,#8d00ff,#8d00ff,#8d00ff,#8d00ff,#8d00ff,#8d00ff,#8d00ff,#8d00ff,#8c00ff,#8c00ff,#8c00ff,#8c00ff,#8c00ff,#8c00ff,#8c00ff,#8c00ff,#8c00ff,#8c00ff,#8c00ff,#8c00ff,#8c00ff,#8c00ff,#8c00ff,#8c00ff,#8c00ff,#8c00ff,#8c00ff,#8c00ff,#8c00ff,#8d00ff,#8d00ff,#8d00ff,#8d00ff,#8d00ff,#8d00ff,#8d00ff,#8d00ff,#8e00ff,#8e00ff,#8e00ff,#8e00ff,#8e00ff,#8e00ff,#8f00ff)"></div>
<div style="height:3px;background:linear-gradient(90deg,#9000ff,#9000ff,#8f00ff,#8f00ff,#8f00ff,#8f00ff,#8f00ff,#8f00ff,#8f00ff,#8e00ff,#8e00ff,#8e00ff,#8e00ff,#8e00ff,#8e00ff,#8e00ff,#8d00ff,#8d00ff,#8d00ff,#8d00ff,#8d00ff,#8d00ff,#8d00ff,#8d00ff,#8d00ff,#8d00ff,#8d00ff,#8d00ff,#8d00ff,#8d00ff,#8d00ff,#8d00ff,#8d00ff,#8d00ff,#8d00ff,#8d00ff,#8d00ff,#8d00ff,#8d00ff,#8d00ff,#8d00ff,#8d00ff,#8d00ff,#8d00ff,#8d00ff,#8e00ff,#8e00ff,#8e00ff,#8e00ff,#8e00ff,#8e00ff,#8e00ff,#8e00ff,#8f00ff,#8f00ff,#8f00ff)"></div>
<div style="height:3px;background:linear-gradient(90deg,#9000ff,#9000ff,#9000ff,#9000ff,#8f00ff,#8f00ff,#8f00ff,#8f00ff,#8f00ff,#8f00ff,#8f00ff,#8f00ff,#8e00ff,#8e00ff,#8e00ff,#8e00ff,#8e00ff,#8e00ff,#8e00ff,#8e00ff,#8e00ff,#8e00ff,#8d00ff,#8d00ff,#8d00ff,#8d00ff,#8d00ff,#8d00ff,#8d00ff,#8d00ff,#8d00ff,#8d00ff,#8d00ff,#8d00ff,#8d00ff,#8d00ff,#8d00ff,#8d00ff,#8d00ff,#8e00ff,#8e00ff,#8e00ff,#8e00ff,#8e00ff,#8e00ff,#8e00ff,#8e00ff,#8e00ff,#8e00ff,#8f00ff,#8f00ff,#8f00ff,#8f00ff,#8f00ff,#8f00ff,#8f00ff)"></div>
<div style="height:3px;background:linear-gradient(90deg,#9000ff,#9000ff,#9000ff,#9000ff,#9000ff,#9000ff,#9000ff,#8f00ff,#8f00ff,#8f00ff,#8f00ff,#8f00ff,#8f00ff,#8f00ff,#8f00ff,#8f00ff,#8e00ff,#8e00ff,#8e00ff,#8e00ff,#8e00ff,#8e00ff,#8e00ff,#8e00ff,#8e00ff,#8e00ff,#8e00ff,#8e00ff,#8e00ff,#8e00ff,#8e00ff,#8e00ff,#8e00ff,#8e00ff,#8e00ff,#8e00ff,#8e00ff,#8e00ff,#8e00ff,#8e00ff,#8e00ff,#8e00ff,#8e00ff,#8e00ff,#8e00ff,#8f00ff,#8f00ff,#8f00ff,#8f00ff,#8f00ff,#8f00ff,#8f00ff,#8f00ff,#8f00ff,#9000ff,#9000ff)"></div>
</div></div>
<div class="hm" style="left:836.9px;top:590.2px;width:515.3px;height:404.8px"><div style="left:-6px;top:-6px;width:527.3px;filter:blur(1.5px)">
<div style="height:3px;background:linear-gradient(90deg,#8800ff,#8800ff,#8800ff,#8800ff,#8800ff,#8800ff,#8800ff,#8800ff,#8700ff,#8700ff,#8700ff,#8700ff,#8700ff,#8700ff,#8700ff,#8700ff,#8700ff,#8700ff,#8700ff,#8700ff,#8700ff,#8700ff,#8700ff,#8700ff,#8700ff,#8700ff,#8700ff,#8700ff,#8700ff,#8700ff,#8700ff,#8700ff,#8700ff,#8700ff,#8700ff,#8700ff,#8800ff,#8800ff,#8800ff,#8900ff,#8a00ff,#8b00ff,#8b00ff,#8b00ff,#8b00ff,#8900ff,#8800ff,#8500ff,#8300ff,#8000ff,#7d00ff,#7b00ff,#7900ff,#7800ff,#7700ff,#7700ff)"></div>
<div style="height:3px;background:linear-gradient(90deg,#8800ff,#8800ff,#8800ff,#8800ff,#8800ff,#8800ff,#8800ff,#8700ff,#8700ff,#8700ff,#8700ff,#8700ff,#8700ff,#8700ff,#8700ff,#8700ff,#8700ff,#8700ff,#8700ff,#8700ff,#8700ff,#8700ff,#8700ff,#8700ff,#8700ff,#8700ff,#8700ff,#8700ff,#8700ff,#8700ff,#8700ff,#8700ff,#8700ff,#8700ff,#8700ff,#8700ff,#8800ff,#8800ff,#8900ff,#8900ff,#8a00ff,#8b00ff,#8c00ff,#8c00ff,#8b00ff,#8a00ff,#8800ff,#8600ff,#8300ff,#8000ff,#7d00ff,#7a00ff,#7800ff,#7700ff,#7600ff,#7600ff)"></div>
<div style="height:3px;background:linear-gradient(90deg,#8800ff,#8800ff,#8800ff,#8800ff,#8800ff,#8800ff,#8800ff,#8700ff,#8700ff,#8700ff,#8700ff,#8700ff,#8700ff,#8700ff,#8700ff,#8700ff,#8700ff,#8700ff,#8700ff,#8700ff,#8700ff,#8700ff,#8700ff,#8700ff,#8700ff,#8700ff,#8700ff,#8700ff,#8700ff,#8700ff,#8700ff,#8700ff,#8700ff,#8700ff,#8700ff,#8700ff,#8800ff,#8800ff,#8900ff,#8a00ff,#8b00ff,#8c00ff,#8c00ff,#8d00ff,#8c00ff,#8b00ff,#8900ff,#8600ff,#8300ff,#8000ff,#7d00ff,#7a00ff,#7800ff,#7600ff,#7500ff,#7500ff)"></div>
<div style="height:3px;background:linear-gradient(90deg,#8800ff,#8800ff,#8800ff,#8800ff,#8800ff,#8800ff,#8800ff,#8700ff,#8700ff,#8700ff,#8700ff,#8700ff,#8700ff,#8700ff,#8700ff,#8700ff,#8700ff,#8700ff,#8700ff,#8700ff,#8700ff,#8700ff,#8700ff,#8700ff,#8700ff,#8700ff,#8700ff,#8700ff,#8700ff,#8700ff,#8700ff,#8700ff,#8700ff,#8700ff,#8700ff,#8700ff,#8800ff,#8800ff,#8900ff,#8a00ff,#8b00ff,#8c00ff,#8d00ff,#8e00ff,#8d00ff,#8c00ff,#8900ff,#8700ff,#8300ff,#8000ff,#7c00ff,#7900ff,#7700ff,#7500ff,#7500ff,#7400ff)"></div>
<div style="height:3px;background:linear-gradient(90deg,#8800ff,#8800ff,#8800ff,#8800ff,#8800ff,#8800ff,#8700ff,#8700ff,#8700ff,#8700ff,#8700ff,#8700ff,#8700ff,#8700ff,#8700ff,#8700ff,#8700ff,#8700ff,#8700ff,#8700ff,#8700ff,#8700ff,#8700ff,#8700ff,#8700ff,#8700ff,#8700ff,#8700ff,#8700ff,#8700ff,#8700ff,#8700ff,#8700ff,#8700ff,#8700ff,#8700ff,#8700ff,#8800ff,#8900ff,#8a00ff,#8c00ff,#8d00ff,#8e00ff,#8e00ff,#8e00ff,#8c00ff,#8a00ff,#8700ff,#8300ff,#8000ff,#7c00ff,#7900ff,#7600ff,#7500ff,#7400ff,#7400ff)"></div>
<div style="height:3px;background:linear-gradient(90deg,#8800ff,#8800ff,#8800ff,#8800ff,#8800ff,#8800ff,#8700ff,#8700ff,#8700ff,#8700ff,#8700ff,#8700ff,#8700ff,#8700ff,#8700ff,#8700ff,#8700ff,#8700ff,#8700ff,#8700ff,#8700ff,#8700ff,#8700ff,#8700ff,#8700ff,#8700ff,#8700ff,#8700ff,#8700ff,#8600ff,#8600ff,#8600ff,#8600ff,#8600ff,#8700ff,#8700ff,#8700ff,#8800ff,#8900ff,#8b00ff,#8c00ff,#8e00ff,#8f00ff,#8f00ff,#8f00ff,#8d00ff,#8b00ff,#8700ff,#8300ff,#7f00ff,#7c00ff,#7800ff,#7600ff,#7400ff,#7300ff,#7300ff)"></div>
<div style="height:3px;background:linear-gradient(90deg,#8800ff,#8800ff,#8800ff,#8800ff,#8800ff,#8700ff,#8700ff,#8700ff,#8700ff,#8700ff,#8700ff,#8700ff,#8700ff,#8700ff,#8700ff,#8700ff,#8700ff,#8700ff,#8700ff,#8700ff,#8700ff,#8700ff,#8700ff,#8700ff,#8700ff,#8700ff,#8700ff,#8600ff,#8600ff,#8600ff,#8600ff,#8600ff,#8600ff,#8600ff,#8600ff,#8700ff,#8700ff,#8800ff,#8900ff,#8b00ff,#8c00ff,#8e00ff,#8f00ff,#9000ff,#8f00ff,#8e00ff,#8b00ff,#8800ff,#8400ff,#7f00ff,#7b00ff,#7800ff,#7500ff,#7300ff,#7200ff,#7200ff)"></div>
<div style="height:3px;background:linear-gradient(90deg,#8800ff,#8800ff,#8800ff,#8800ff,#8800ff,#8700ff,#8700ff,#8700ff,#8700ff,#8700ff,#8700ff,#8700ff,#8700ff,#8700ff,#8700ff,#8700ff,#8700ff,#8700ff,#8700ff,#8700ff,#8700ff,#8700ff,#8700ff,#8700ff,#8700ff,#8700ff,#8600ff,#8600ff,#8600ff,#8600ff,#8600ff,#8600ff,#8600ff,#8600ff,#8600ff,#8700ff,#8700ff,#8800ff,#8900ff,#8b00ff,#8d00ff,#8f00ff,#9000ff,#9100ff,#9000ff,#8f00ff,#8c00ff,#8800ff,#8400ff,#7f00ff,#7b00ff,#7700ff,#7400ff,#7200ff,#7100ff,#7100ff)"></div>
<div style="height:3px;background:linear-gradient(90deg,#8800ff,#8800ff,#8800ff,#8800ff,#8800ff,#8700ff,#8700ff,#8700ff,#8700ff,#8700ff,#8700ff,#8700ff,#8700ff,#8700ff,#8700ff,#8700ff,#8700ff,#8700ff,#8700ff,#8700ff,#8700ff,#8700ff,#8700ff,#8700ff,#8700ff,#8600ff,#8600ff,#8600ff,#8600ff,#8600ff,#8600ff,#8600ff,#8600ff,#8600ff,#8600ff,#8600ff,#8700ff,#8800ff,#8900ff,#8b00ff,#8d00ff,#8f00ff,#9000ff,#9100ff,#9100ff,#8f00ff,#8c00ff,#8800ff,#8400ff,#7f00ff,#7a00ff,#7700ff,#7300ff,#7100ff,#7000ff,#7000ff)"></div>
<div style="height:3px;background:linear-gradient(90deg,#8800ff,#8800ff,#8800ff,#8800ff,#8700ff,#8700ff,#8700ff,#8700ff,#8700ff,#8700ff,#8700ff,#8700ff,#8700ff,#8700ff,#8700ff,#8700ff,#8700ff,#8700ff,#8700ff,#8700ff,#8700ff,#8700ff,#8700ff,#8600ff,#8600ff,#8600ff,#8600ff,#8600ff,#8600ff,#8600ff,#8600ff,#8600ff,#8600ff,#8600ff,#8600ff,#8600ff,#8700ff,#8800ff,#8900ff,#8b00ff,#8d00ff,#8f00ff,#9100ff,#9200ff,#9100ff,#8f00ff,#8c00ff,#8800ff,#8400ff,#7f00ff,#7a00ff,#7600ff,#7300ff,#7100ff,#6f00ff,#6f00ff)"></div>
<div style="height:3px;background:linear-gradient(90deg,#8800ff,#8800ff,#8800ff,#8800ff,#8700ff,#8700ff,#8700ff,#8700ff,#8700ff,#8700ff,#8700ff,#8700ff,#8700ff,#8700ff,#8700ff,#8700ff,#8700ff,#8700ff,#8700ff,#8700ff,#8700ff,#8700ff,#8700ff,#8600ff,#8600ff,#8600ff,#8600ff,#8600ff,#8600ff,#8500ff,#8500ff,#8500ff,#8500ff,#8500ff,#8600ff,#8600ff,#8700ff,#8800ff,#8900ff,#8b00ff,#8d00ff,#8f00ff,#9100ff,#9200ff,#9100ff,#9000ff,#8d00ff,#8800ff,#8300ff,#7e00ff,#7900ff,#7500ff,#7200ff,#7000ff,#6e00ff,#6e00ff)"></div>
<div style="height:3px;background:linear-gradient(90deg,#8800ff,#8800ff,#8800ff,#8800ff,#8700ff,#8700ff,#8700ff,#8700ff,#8700ff,#8700ff,#8700ff,#8700ff,#8700ff,#8700ff,#8700ff,#8700ff,#8700ff,#8700ff,#8700ff,#8700ff,#8700ff,#8700ff,#8600ff,#8600ff,#8600ff,#8600ff,#8600ff,#8500ff,#8500ff,#8500ff,#8500ff,#8500ff,#8500ff,#8500ff,#8500ff,#8600ff,#8600ff,#8800ff,#8900ff,#8b00ff,#8d00ff,#8f00ff,#9100ff,#9200ff,#9200ff,#9000ff,#8d00ff,#8800ff,#8300ff,#7e00ff,#7900ff,#7500ff,#7100ff,#6f00ff,#6d00ff,#6d00ff)"></div>
<div style="height:3px;background:linear-gradient(90deg,#8800ff,#8800ff,#8800ff,#8700ff,#8700ff,#8700ff,#8700ff,#8700ff,#8700ff,#8700ff,#8700ff,#8700ff,#8700ff,#8700ff,#8700ff,#8700ff,#8700ff,#8700ff,#8700ff,#8700ff,#8700ff,#8600ff,#8600ff,#8600ff,#8600ff,#8600ff,#8500ff,#8500ff,#8500ff,#8500ff,#8500ff,#8500ff,#8500ff,#8500ff,#8500ff,#8500ff,#8600ff,#8700ff,#8900ff,#8b00ff,#8d00ff,#8f00ff,#9100ff,#9200ff,#9100ff,#9000ff,#8c00ff,#8800ff,#8300ff,#7d00ff,#7800ff,#7400ff,#7000ff,#6e00ff,#6d00ff,#6c00ff)"></div>
<div style="height:3px;background:linear-gradient(90deg,#8800ff,#8800ff,#8800ff,#8700ff,#8700ff,#8700ff,#8700ff,#8700ff,#8700ff,#8700ff,#8700ff,#8700ff,#8700ff,#8700ff,#8700ff,#8700ff,#8700ff,#8700ff,#8700ff,#8700ff,#8600ff,#8600ff,#8600ff,#8600ff,#8600ff,#8500ff,#8500ff,#8500ff,#8500ff,#8500ff,#8400ff,#8400ff,#8400ff,#8400ff,#8500ff,#8500ff,#8600ff,#8700ff,#8800ff,#8a00ff,#8d00ff,#8f00ff,#9100ff,#9200ff,#9100ff,#8f00ff,#8c00ff,#8700ff,#8200ff,#7d00ff,#7700ff,#7300ff,#6f00ff,#6d00ff,#6c00ff,#6b00ff)"></div>
<div style="height:3px;background:linear-gradient(90deg,#8800ff,#8800ff,#8800ff,#8700ff,#8700ff,#8700ff,#8700ff,#8700ff,#8700ff,#8700ff,#8700ff,#8700ff,#8700ff,#8700ff,#8700ff,#8700ff,#8700ff,#8700ff,#8700ff,#8700ff,#8600ff,#8600ff,#8600ff,#8600ff,#8500ff,#8500ff,#8500ff,#8500ff,#8400ff,#8400ff,#8400ff,#8400ff,#8400ff,#8400ff,#8400ff,#8500ff,#8500ff,#8600ff,#8800ff,#8a00ff,#8c00ff,#8e00ff,#9000ff,#9100ff,#9100ff,#8f00ff,#8b00ff,#8700ff,#8100ff,#7c00ff,#7700ff,#7200ff,#6e00ff,#6c00ff,#6b00ff,#6a00ff)"></div>
<div style="height:3px;background:linear-gradient(90deg,#8800ff,#8800ff,#8700ff,#8700ff,#8700ff,#8700ff,#8700ff,#8700ff,#8700ff,#8700ff,#8700ff,#8700ff,#8700ff,#8700ff,#8700ff,#8700ff,#8700ff,#8700ff,#8700ff,#8600ff,#8600ff,#8600ff,#8600ff,#8500ff,#8500ff,#8500ff,#8400ff,#8400ff,#8400ff,#8400ff,#8400ff,#8300ff,#8300ff,#8300ff,#8400ff,#8400ff,#8500ff,#8600ff,#8800ff,#8a00ff,#8c00ff,#8e00ff,#9000ff,#9000ff,#9000ff,#8e00ff,#8b00ff,#8600ff,#8100ff,#7b00ff,#7600ff,#7100ff,#6e00ff,#6b00ff,#6a00ff,#6a00ff)"></div>
<div style="height:3px;background:linear-gradient(90deg,#8800ff,#8800ff,#8700ff,#8700ff,#8700ff,#8700ff,#8700ff,#8700ff,#8700ff,#8700ff,#8700ff,#8700ff,#8700ff,#8700ff,#8700ff,#8700ff,#8700ff,#8700ff,#8600ff,#8600ff,#8600ff,#8600ff,#8500ff,#8500ff,#8500ff,#8400ff,#8400ff,#8400ff,#8400ff,#8300ff,#8300ff,#8300ff,#8300ff,#8300ff,#8300ff,#8300ff,#8400ff,#8500ff,#8700ff,#8900ff,#8b00ff,#8d00ff,#8f00ff,#8f00ff,#8f00ff,#8d00ff,#8a00ff,#8500ff,#8000ff,#7a00ff,#7500ff,#7000ff,#6d00ff,#6a00ff,#6900ff,#6900ff)"></div>
<div style="height:3px;background:linear-gradient(90deg,#8800ff,#8800ff,#8700ff,#8700ff,#8700ff,#8700ff,#8700ff,#8700ff,#8700ff,#8700ff,#8700ff,#8700ff,#8700ff,#8700ff,#8700ff,#8700ff,#8700ff,#8700ff,#8600ff,#8600ff,#8600ff,#8600ff,#8500ff,#8500ff,#8400ff,#8400ff,#8400ff,#8300ff,#8300ff,#8300ff,#8200ff,#8200ff,#8200ff,#8200ff,#8200ff,#8300ff,#8400ff,#8500ff,#8600ff,#8800ff,#8a00ff,#8c00ff,#8e00ff,#8e00ff,#8e00ff,#8c00ff,#8800ff,#8400ff,#7f00ff,#7900ff,#7400ff,#6f00ff,#6c00ff,#6900ff,#6800ff,#6800ff)"></div>
<div style="height:3px;background:linear-gradient(90deg,#8800ff,#8800ff,#8700ff,#8700ff,#8700ff,#8700ff,#8700ff,#8700ff,#8700ff,#8700ff,#8700ff,#8700ff,#8700ff,#8700ff,#8700ff,#8700ff,#8700ff,#8600ff,#8600ff,#8600ff,#8600ff,#8500ff,#8500ff,#8500ff,#8400ff,#8400ff,#8300ff,#8300ff,#8300ff,#8200ff,#8200ff,#8200ff,#8200ff,#8200ff,#8200ff,#8200ff,#8300ff,#8400ff,#8500ff,#8700ff,#8900ff,#8b00ff,#8d00ff,#8d00ff,#8d00ff,#8b00ff,#8700ff,#8300ff,#7d00ff,#7800ff,#7300ff,#6e00ff,#6b00ff,#6800ff,#6700ff,#6700ff)"></div>
<div style="height:3px;background:linear-gradient(90deg,#8800ff,#8700ff,#8700ff,#8700ff,#8700ff,#8700ff,#8700ff,#8700ff,#8700ff,#8700ff,#8700ff,#8700ff,#8700ff,#8700ff,#8700ff,#8700ff,#8700ff,#8600ff,#8600ff,#8600ff,#8500ff,#8500ff,#8500ff,#8400ff,#8400ff,#8300ff,#8300ff,#8200ff,#8200ff,#8200ff,#8100ff,#8100ff,#8100ff,#8100ff,#8100ff,#8100ff,#8200ff,#8300ff,#8500ff,#8600ff,#8800ff,#8a00ff,#8b00ff,#8c00ff,#8b00ff,#8900ff,#8600ff,#8100ff,#7c00ff,#7700ff,#7200ff,#6d00ff,#6a00ff,#6700ff,#6600ff,#6600ff)"></div>
<div style="height:3px;background:linear-gradient(90deg,#8800ff,#8700ff,#8700ff,#8700ff,#8700ff,#8700ff,#8700ff,#8700ff,#8700ff,#8700ff,#8700ff,#8700ff,#8700ff,#8700ff,#8700ff,#8700ff,#8600ff,#8600ff,#8600ff,#8600ff,#8500ff,#8500ff,#8400ff,#8400ff,#8300ff,#8300ff,#8200ff,#8200ff,#8100ff,#8100ff,#8100ff,#8000ff,#8000ff,#8000ff,#8000ff,#8100ff,#8100ff,#8200ff,#8400ff,#8500ff,#8700ff,#8900ff,#8a00ff,#8a00ff,#8a00ff,#8800ff,#8400ff,#8000ff,#7b00ff,#7600ff,#7100ff,#6c00ff,#6900ff,#6600ff,#6500ff,#6500ff)"></div>
<div style="height:3px;background:linear-gradient(90deg,#8800ff,#8700ff,#8700ff,#8700ff,#8700ff,#8700ff,#8700ff,#8700ff,#8700ff,#8700ff,#8700ff,#8700ff,#8700ff,#8700ff,#8700ff,#8700ff,#8600ff,#8600ff,#8600ff,#8500ff,#8500ff,#8400ff,#8400ff,#8300ff,#8300ff,#8200ff,#8200ff,#8100ff,#8100ff,#8000ff,#8000ff,#8000ff,#7f00ff,#7f00ff,#7f00ff,#8000ff,#8000ff,#8100ff,#8300ff,#8400ff,#8600ff,#8700ff,#8900ff,#8900ff,#8800ff,#8600ff,#8300ff,#7f00ff,#7a00ff,#7400ff,#7000ff,#6b00ff,#6800ff,#6500ff,#6400ff,#6400ff)"></div>
<div style="height:3px;background:linear-gradient(90deg,#8800ff,#8700ff,#8700ff,#8700ff,#8700ff,#8700ff,#8700ff,#8700ff,#8700ff,#8700ff,#8700ff,#8700ff,#8700ff,#8700ff,#8700ff,#8600ff,#8600ff,#8600ff,#8600ff,#8500ff,#8500ff,#8400ff,#8400ff,#8300ff,#8200ff,#8200ff,#8100ff,#8100ff,#8000ff,#7f00ff,#7f00ff,#7f00ff,#7f00ff,#7e00ff,#7f00ff,#7f00ff,#8000ff,#8000ff,#8200ff,#8300ff,#8500ff,#8600ff,#8700ff,#8700ff,#8600ff,#8400ff,#8100ff,#7d00ff,#7800ff,#7300ff,#6e00ff,#6a00ff,#6700ff,#6500ff,#6300ff,#6400ff)"></div>
<div style="height:3px;background:linear-gradient(90deg,#8700ff,#8700ff,#8700ff,#8700ff,#8700ff,#8700ff,#8700ff,#8700ff,#8700ff,#8700ff,#8700ff,#8700ff,#8700ff,#8700ff,#8700ff,#8600ff,#8600ff,#8600ff,#8500ff,#8500ff,#8400ff,#8400ff,#8300ff,#8300ff,#8200ff,#8100ff,#8100ff,#8000ff,#7f00ff,#7f00ff,#7e00ff,#7e00ff,#7e00ff,#7e00ff,#7e00ff,#7e00ff,#7f00ff,#7f00ff,#8000ff,#8200ff,#8300ff,#8500ff,#8500ff,#8600ff,#8500ff,#8300ff,#8000ff,#7c00ff,#7700ff,#7200ff,#6d00ff,#6900ff,#6600ff,#6400ff,#6300ff,#6300ff)"></div>
<div style="height:3px;background:linear-gradient(90deg,#8700ff,#8700ff,#8700ff,#8700ff,#8700ff,#8700ff,#8700ff,#8700ff,#8700ff,#8700ff,#8700ff,#8700ff,#8700ff,#8700ff,#8700ff,#8600ff,#8600ff,#8600ff,#8500ff,#8500ff,#8400ff,#8300ff,#8300ff,#8200ff,#8100ff,#8100ff,#8000ff,#7f00ff,#7e00ff,#7e00ff,#7d00ff,#7d00ff,#7d00ff,#7d00ff,#7d00ff,#7d00ff,#7d00ff,#7e00ff,#7f00ff,#8100ff,#8200ff,#8300ff,#8400ff,#8400ff,#8300ff,#8100ff,#7e00ff,#7a00ff,#7500ff,#7100ff,#6c00ff,#6800ff,#6500ff,#6300ff,#6200ff,#6200ff)"></div>
<div style="height:3px;background:linear-gradient(90deg,#8700ff,#8700ff,#8700ff,#8700ff,#8700ff,#8700ff,#8700ff,#8700ff,#8700ff,#8700ff,#8700ff,#8700ff,#8700ff,#8700ff,#8600ff,#8600ff,#8600ff,#8500ff,#8500ff,#8400ff,#8400ff,#8300ff,#8200ff,#8200ff,#8100ff,#8000ff,#7f00ff,#7e00ff,#7e00ff,#7d00ff,#7c00ff,#7c00ff,#7c00ff,#7b00ff,#7c00ff,#7c00ff,#7c00ff,#7d00ff,#7e00ff,#7f00ff,#8000ff,#8100ff,#8200ff,#8200ff,#8100ff,#7f00ff,#7c00ff,#7900ff,#7400ff,#7000ff,#6b00ff,#6700ff,#6400ff,#6200ff,#6100ff,#6100ff)"></div>
<div style="height:3px;background:linear-gradient(90deg,#8700ff,#8700ff,#8700ff,#8700ff,#8700ff,#8700ff,#8700ff,#8700ff,#8700ff,#8700ff,#8700ff,#8700ff,#8700ff,#8700ff,#8600ff,#8600ff,#8600ff,#8500ff,#8500ff,#8400ff,#8300ff,#8300ff,#8200ff,#8100ff,#8000ff,#7f00ff,#7e00ff,#7d00ff,#7d00ff,#7c00ff,#7b00ff,#7b00ff,#7a00ff,#7a00ff,#7a00ff,#7b00ff,#7b00ff,#7c00ff,#7d00ff,#7e00ff,#7f00ff,#8000ff,#8100ff,#8000ff,#8000ff,#7e00ff,#7b00ff,#7700ff,#7300ff,#6e00ff,#6a00ff,#6600ff,#6300ff,#6100ff,#6000ff,#6100ff)"></div>
<div style="height:3px;background:linear-gradient(90deg,#8700ff,#8700ff,#8700ff,#8700ff,#8700ff,#8700ff,#8700ff,#8700ff,#8700ff,#8700ff,#8700ff,#8700ff,#8700ff,#8700ff,#8600ff,#8600ff,#8600ff,#8500ff,#8400ff,#8400ff,#8300ff,#8200ff,#8100ff,#8000ff,#7f00ff,#7f00ff,#7e00ff,#7d00ff,#7c00ff,#7b00ff,#7a00ff,#7a00ff,#7900ff,#7900ff,#7900ff,#7900ff,#7a00ff,#7b00ff,#7b00ff,#7d00ff,#7e00ff,#7e00ff,#7f00ff,#7f00ff,#7e00ff,#7c00ff,#7900ff,#7600ff,#7200ff,#6d00ff,#6900ff,#6600ff,#6300ff,#6100ff,#6000ff,#6000ff)"></div>
<div style="height:3px;background:linear-gradient(90deg,#8700ff,#8700ff,#8700ff,#8700ff,#8700ff,#8700ff,#8700ff,#8700ff,#8700ff,#8700ff,#8700ff,#8700ff,#8700ff,#8600ff,#8600ff,#8600ff,#8500ff,#8500ff,#8400ff,#8300ff,#8300ff,#8200ff,#8100ff,#8000ff,#7f00ff,#7e00ff,#7d00ff,#7c00ff,#7b00ff,#7a00ff,#7900ff,#7900ff,#7800ff,#7800ff,#7800ff,#7800ff,#7900ff,#7900ff,#7a00ff,#7b00ff,#7c00ff,#7d00ff,#7d00ff,#7d00ff,#7c00ff,#7a00ff,#7800ff,#7400ff,#7000ff,#6c00ff,#6800ff,#6500ff,#6200ff,#6000ff,#5f00ff,#6000ff)"></div>
<div style="height:3px;background:linear-gradient(90deg,#8700ff,#8700ff,#8700ff,#8700ff,#8700ff,#8700ff,#8700ff,#8700ff,#8700ff,#8700ff,#8700ff,#8700ff,#8700ff,#8600ff,#8600ff,#8600ff,#8500ff,#8500ff,#8400ff,#8300ff,#8200ff,#8100ff,#8000ff,#7f00ff,#7e00ff,#7d00ff,#7c00ff,#7b00ff,#7a00ff,#7900ff,#7800ff,#7700ff,#7700ff,#7700ff,#7700ff,#7700ff,#7700ff,#7800ff,#7900ff,#7a00ff,#7b00ff,#7b00ff,#7c00ff,#7c00ff,#7b00ff,#7900ff,#7600ff,#7300ff,#6f00ff,#6b00ff,#6700ff,#6400ff,#6100ff,#5f00ff,#5f00ff,#5f00ff)"></div>
<div style="height:3px;background:linear-gradient(90deg,#8700ff,#8700ff,#8700ff,#8700ff,#8700ff,#8700ff,#8700ff,#8700ff,#8700ff,#8700ff,#8700ff,#8700ff,#8700ff,#8600ff,#8600ff,#8500ff,#8500ff,#8400ff,#8400ff,#8300ff,#8200ff,#8100ff,#8000ff,#7f00ff,#7d00ff,#7c00ff,#7b00ff,#7a00ff,#7900ff,#7700ff,#7700ff,#7600ff,#7500ff,#7500ff,#7500ff,#7500ff,#7600ff,#7700ff,#7700ff,#7800ff,#7900ff,#7a00ff,#7a00ff,#7a00ff,#7900ff,#7700ff,#7500ff,#7200ff,#6e00ff,#6a00ff,#6700ff,#6300ff,#6100ff,#5f00ff,#5e00ff,#5f00ff)"></div>
<div style="height:3px;background:linear-gradient(90deg,#8700ff,#8700ff,#8700ff,#8700ff,#8700ff,#8700ff,#8700ff,#8700ff,#8700ff,#8700ff,#8700ff,#8700ff,#8600ff,#8600ff,#8600ff,#8500ff,#8500ff,#8400ff,#8300ff,#8200ff,#8100ff,#8000ff,#7f00ff,#7e00ff,#7d00ff,#7b00ff,#7a00ff,#7900ff,#7700ff,#7600ff,#7500ff,#7500ff,#7400ff,#7400ff,#7400ff,#7400ff,#7400ff,#7500ff,#7600ff,#7700ff,#7800ff,#7800ff,#7900ff,#7900ff,#7800ff,#7600ff,#7400ff,#7100ff,#6d00ff,#6a00ff,#6600ff,#6300ff,#6000ff,#5e00ff,#5e00ff,#5e00ff)"></div>
<div style="height:3px;background:linear-gradient(90deg,#8700ff,#8700ff,#8700ff,#8700ff,#8700ff,#8700ff,#8700ff,#8700ff,#8700ff,#8700ff,#8700ff,#8700ff,#8600ff,#8600ff,#8600ff,#8500ff,#8500ff,#8400ff,#8300ff,#8200ff,#8100ff,#8000ff,#7f00ff,#7d00ff,#7c00ff,#7a00ff,#7900ff,#7700ff,#7600ff,#7500ff,#7400ff,#7300ff,#7300ff,#7200ff,#7200ff,#7300ff,#7300ff,#7400ff,#7500ff,#7500ff,#7600ff,#7700ff,#7700ff,#7700ff,#7600ff,#7500ff,#7300ff,#7000ff,#6c00ff,#6900ff,#6500ff,#6200ff,#6000ff,#5e00ff,#5d00ff,#5e00ff)"></div>
<div style="height:3px;background:linear-gradient(90deg,#8700ff,#8700ff,#8700ff,#8700ff,#8700ff,#8700ff,#8700ff,#8700ff,#8700ff,#8700ff,#8700ff,#8700ff,#8600ff,#8600ff,#8600ff,#8500ff,#8400ff,#8400ff,#8300ff,#8200ff,#8100ff,#7f00ff,#7e00ff,#7c00ff,#7b00ff,#7900ff,#7800ff,#7600ff,#7500ff,#7400ff,#7300ff,#7200ff,#7100ff,#7100ff,#7100ff,#7100ff,#7100ff,#7200ff,#7300ff,#7400ff,#7500ff,#7600ff,#7600ff,#7600ff,#7500ff,#7400ff,#7200ff,#6f00ff,#6b00ff,#6800ff,#6500ff,#6200ff,#5f00ff,#5e00ff,#5d00ff,#5e00ff)"></div>
<div style="height:3px;background:linear-gradient(90deg,#8700ff,#8700ff,#8700ff,#8700ff,#8700ff,#8700ff,#8700ff,#8700ff,#8700ff,#8700ff,#8700ff,#8700ff,#8600ff,#8600ff,#8500ff,#8500ff,#8400ff,#8300ff,#8200ff,#8100ff,#8000ff,#7f00ff,#7d00ff,#7c00ff,#7a00ff,#7800ff,#7700ff,#7500ff,#7400ff,#7200ff,#7100ff,#7000ff,#7000ff,#6f00ff,#6f00ff,#6f00ff,#7000ff,#7100ff,#7200ff,#7300ff,#7300ff,#7400ff,#7500ff,#7500ff,#7400ff,#7300ff,#7000ff,#6e00ff,#6b00ff,#6700ff,#6400ff,#6100ff,#5f00ff,#5d00ff,#5d00ff,#5d00ff)"></div>
<div style="height:3px;background:linear-gradient(90deg,#8700ff,#8700ff,#8700ff,#8700ff,#8700ff,#8700ff,#8700ff,#8700ff,#8700ff,#8700ff,#8700ff,#8700ff,#8600ff,#8600ff,#8500ff,#8500ff,#8400ff,#8300ff,#8200ff,#8100ff,#8000ff,#7e00ff,#7d00ff,#7b00ff,#7900ff,#7700ff,#7600ff,#7400ff,#7200ff,#7100ff,#7000ff,#6f00ff,#6e00ff,#6e00ff,#6e00ff,#6e00ff,#6e00ff,#6f00ff,#7000ff,#7100ff,#7200ff,#7300ff,#7300ff,#7300ff,#7300ff,#7100ff,#7000ff,#6d00ff,#6a00ff,#6700ff,#6400ff,#6100ff,#5e00ff,#5d00ff,#5c00ff,#5d00ff)"></div>
<div style="height:3px;background:linear-gradient(90deg,#8700ff,#8700ff,#8700ff,#8700ff,#8700ff,#8700ff,#8700ff,#8700ff,#8700ff,#8700ff,#8700ff,#8600ff,#8600ff,#8600ff,#8500ff,#8400ff,#8400ff,#8300ff,#8200ff,#8000ff,#7f00ff,#7e00ff,#7c00ff,#7a00ff,#7800ff,#7600ff,#7400ff,#7300ff,#7100ff,#6f00ff,#6e00ff,#6d00ff,#6c00ff,#6c00ff,#6c00ff,#6c00ff,#6d00ff,#6e00ff,#6f00ff,#7000ff,#7100ff,#7100ff,#7200ff,#7200ff,#7200ff,#7000ff,#6f00ff,#6c00ff,#6900ff,#6600ff,#6300ff,#6000ff,#5e00ff,#5d00ff,#5c00ff,#5d00ff)"></div>
<div style="height:3px;background:linear-gradient(90deg,#8700ff,#8700ff,#8700ff,#8700ff,#8700ff,#8700ff,#8700ff,#8700ff,#8700ff,#8700ff,#8700ff,#8600ff,#8600ff,#8600ff,#8500ff,#8400ff,#8300ff,#8200ff,#8100ff,#8000ff,#7f00ff,#7d00ff,#7b00ff,#7900ff,#7700ff,#7500ff,#7300ff,#7100ff,#7000ff,#6e00ff,#6d00ff,#6c00ff,#6b00ff,#6a00ff,#6a00ff,#6b00ff,#6b00ff,#6c00ff,#6d00ff,#6e00ff,#6f00ff,#7000ff,#7100ff,#7100ff,#7100ff,#7000ff,#6e00ff,#6c00ff,#6900ff,#6600ff,#6300ff,#6000ff,#5e00ff,#5d00ff,#5c00ff,#5d00ff)"></div>
<div style="height:3px;background:linear-gradient(90deg,#8700ff,#8700ff,#8700ff,#8700ff,#8700ff,#8700ff,#8700ff,#8700ff,#8700ff,#8700ff,#8700ff,#8600ff,#8600ff,#8500ff,#8500ff,#8400ff,#8300ff,#8200ff,#8100ff,#8000ff,#7e00ff,#7c00ff,#7a00ff,#7800ff,#7600ff,#7400ff,#7200ff,#7000ff,#6e00ff,#6d00ff,#6b00ff,#6a00ff,#6900ff,#6900ff,#6900ff,#6900ff,#6a00ff,#6a00ff,#6b00ff,#6d00ff,#6e00ff,#6f00ff,#7000ff,#7000ff,#7000ff,#6f00ff,#6d00ff,#6b00ff,#6800ff,#6500ff,#6200ff,#6000ff,#5e00ff,#5c00ff,#5c00ff,#5d00ff)"></div>
<div style="height:3px;background:linear-gradient(90deg,#8700ff,#8700ff,#8700ff,#8700ff,#8700ff,#8700ff,#8700ff,#8700ff,#8700ff,#8700ff,#8700ff,#8600ff,#8600ff,#8500ff,#8500ff,#8400ff,#8300ff,#8200ff,#8100ff,#7f00ff,#7e00ff,#7c00ff,#7a00ff,#7800ff,#7500ff,#7300ff,#7100ff,#6f00ff,#6d00ff,#6b00ff,#6a00ff,#6800ff,#6800ff,#6700ff,#6700ff,#6700ff,#6800ff,#6900ff,#6a00ff,#6b00ff,#6c00ff,#6e00ff,#6e00ff,#6f00ff,#6f00ff,#6e00ff,#6c00ff,#6a00ff,#6800ff,#6500ff,#6200ff,#6000ff,#5e00ff,#5c00ff,#5c00ff,#5d00ff)"></div>
<div style="height:3px;background:linear-gradient(90deg,#8700ff,#8700ff,#8700ff,#8700ff,#8700ff,#8700ff,#8700ff,#8700ff,#8700ff,#8700ff,#8700ff,#8600ff,#8600ff,#8500ff,#8500ff,#8400ff,#8300ff,#8200ff,#8000ff,#7f00ff,#7d00ff,#7b00ff,#7900ff,#7700ff,#7500ff,#7200ff,#7000ff,#6e00ff,#6c00ff,#6a00ff,#6800ff,#6700ff,#6600ff,#6500ff,#6500ff,#6600ff,#6600ff,#6700ff,#6800ff,#6a00ff,#6b00ff,#6c00ff,#6d00ff,#6e00ff,#6e00ff,#6d00ff,#6c00ff,#6a00ff,#6700ff,#6500ff,#6200ff,#6000ff,#5e00ff,#5c00ff,#5c00ff,#5d00ff)"></div>
<div style="height:3px;background:linear-gradient(90deg,#8700ff,#8700ff,#8700ff,#8700ff,#8700ff,#8700ff,#8700ff,#8700ff,#8700ff,#8700ff,#8600ff,#8600ff,#8600ff,#8500ff,#8400ff,#8400ff,#8300ff,#8100ff,#8000ff,#7e00ff,#7c00ff,#7a00ff,#7800ff,#7600ff,#7400ff,#7100ff,#6f00ff,#6c00ff,#6a00ff,#6800ff,#6700ff,#6500ff,#6400ff,#6400ff,#6400ff,#6400ff,#6500ff,#6600ff,#6700ff,#6800ff,#6a00ff,#6b00ff,#6c00ff,#6d00ff,#6d00ff,#6c00ff,#6b00ff,#6900ff,#6700ff,#6400ff,#6200ff,#5f00ff,#5e00ff,#5d00ff,#5c00ff,#5d00ff)"></div>
<div style="height:3px;background:linear-gradient(90deg,#8700ff,#8700ff,#8700ff,#8700ff,#8700ff,#8700ff,#8700ff,#8700ff,#8700ff,#8700ff,#8600ff,#8600ff,#8600ff,#8500ff,#8400ff,#8300ff,#8200ff,#8100ff,#8000ff,#7e00ff,#7c00ff,#7a00ff,#7800ff,#7500ff,#7300ff,#7000ff,#6e00ff,#6b00ff,#6900ff,#6700ff,#6500ff,#6400ff,#6300ff,#6200ff,#6200ff,#6200ff,#6300ff,#6400ff,#6600ff,#6700ff,#6900ff,#6a00ff,#6b00ff,#6c00ff,#6c00ff,#6c00ff,#6a00ff,#6900ff,#6700ff,#6400ff,#6200ff,#5f00ff,#5e00ff,#5d00ff,#5d00ff,#5d00ff)"></div>
<div style="height:3px;background:linear-gradient(90deg,#8700ff,#8700ff,#8700ff,#8700ff,#8700ff,#8700ff,#8700ff,#8700ff,#8700ff,#8700ff,#8600ff,#8600ff,#8600ff,#8500ff,#8400ff,#8300ff,#8200ff,#8100ff,#7f00ff,#7d00ff,#7b00ff,#7900ff,#7700ff,#7400ff,#7200ff,#6f00ff,#6c00ff,#6a00ff,#6800ff,#6500ff,#6400ff,#6200ff,#6100ff,#6000ff,#6000ff,#6100ff,#6200ff,#6300ff,#6400ff,#6600ff,#6700ff,#6900ff,#6a00ff,#6b00ff,#6b00ff,#6b00ff,#6a00ff,#6800ff,#6600ff,#6400ff,#6200ff,#6000ff,#5e00ff,#5d00ff,#5d00ff,#5e00ff)"></div>
<div style="height:3px;background:linear-gradient(90deg,#8700ff,#8700ff,#8700ff,#8700ff,#8700ff,#8700ff,#8700ff,#8700ff,#8700ff,#8700ff,#8600ff,#8600ff,#8500ff,#8500ff,#8400ff,#8300ff,#8200ff,#8000ff,#7f00ff,#7d00ff,#7b00ff,#7900ff,#7600ff,#7400ff,#7100ff,#6e00ff,#6b00ff,#6900ff,#6600ff,#6400ff,#6200ff,#6100ff,#6000ff,#5f00ff,#5f00ff,#5f00ff,#6000ff,#6100ff,#6300ff,#6400ff,#6600ff,#6800ff,#6900ff,#6a00ff,#6a00ff,#6a00ff,#6900ff,#6800ff,#6600ff,#6400ff,#6200ff,#6000ff,#5e00ff,#5d00ff,#5d00ff,#5e00ff)"></div>
<div style="height:3px;background:linear-gradient(90deg,#8700ff,#8700ff,#8700ff,#8700ff,#8700ff,#8700ff,#8700ff,#8700ff,#8700ff,#8700ff,#8600ff,#8600ff,#8500ff,#8500ff,#8400ff,#8300ff,#8200ff,#8000ff,#7f00ff,#7d00ff,#7b00ff,#7800ff,#7600ff,#7300ff,#7000ff,#6d00ff,#6a00ff,#6800ff,#6500ff,#6300ff,#6100ff,#5f00ff,#5e00ff,#5d00ff,#5d00ff,#5e00ff,#5f00ff,#6000ff,#6100ff,#6300ff,#6500ff,#6700ff,#6800ff,#6900ff,#6a00ff,#6a00ff,#6900ff,#6800ff,#6600ff,#6400ff,#6200ff,#6000ff,#5e00ff,#5d00ff,#5d00ff,#5e00ff)"></div>
<div style="height:3px;background:linear-gradient(90deg,#8700ff,#8700ff,#8700ff,#8700ff,#8700ff,#8700ff,#8700ff,#8700ff,#8700ff,#8700ff,#8600ff,#8600ff,#8500ff,#8500ff,#8400ff,#8300ff,#8100ff,#8000ff,#7e00ff,#7c00ff,#7a00ff,#7800ff,#7500ff,#7200ff,#6f00ff,#6c00ff,#6900ff,#6600ff,#6400ff,#6100ff,#5f00ff,#5e00ff,#5d00ff,#5c00ff,#5c00ff,#5c00ff,#5d00ff,#5e00ff,#6000ff,#6200ff,#6400ff,#6600ff,#6700ff,#6800ff,#6900ff,#6900ff,#6900ff,#6800ff,#6600ff,#6400ff,#6200ff,#6000ff,#5f00ff,#5e00ff,#5e00ff,#5f00ff)"></div>
<div style="height:3px;background:linear-gradient(90deg,#8700ff,#8700ff,#8700ff,#8700ff,#8700ff,#8700ff,#8700ff,#8700ff,#8700ff,#8700ff,#8600ff,#8600ff,#8500ff,#8400ff,#8400ff,#8300ff,#8100ff,#8000ff,#7e00ff,#7c00ff,#7a00ff,#7700ff,#7400ff,#7200ff,#6f00ff,#6b00ff,#6800ff,#6500ff,#6300ff,#6000ff,#5e00ff,#5c00ff,#5b00ff,#5b00ff,#5a00ff,#5b00ff,#5c00ff,#5d00ff,#5f00ff,#6100ff,#6300ff,#6500ff,#6600ff,#6800ff,#6900ff,#6900ff,#6800ff,#6700ff,#6600ff,#6400ff,#6200ff,#6000ff,#5f00ff,#5e00ff,#5e00ff,#5f00ff)"></div>
<div style="height:3px;background:linear-gradient(90deg,#8700ff,#8700ff,#8700ff,#8700ff,#8700ff,#8700ff,#8700ff,#8700ff,#8700ff,#8700ff,#8600ff,#8600ff,#8500ff,#8400ff,#8400ff,#8200ff,#8100ff,#8000ff,#7e00ff,#7c00ff,#7900ff,#7700ff,#7400ff,#7100ff,#6e00ff,#6b00ff,#6700ff,#6400ff,#6200ff,#5f00ff,#5d00ff,#5b00ff,#5a00ff,#5900ff,#5900ff,#5a00ff,#5b00ff,#5c00ff,#5e00ff,#6000ff,#6200ff,#6400ff,#6600ff,#6700ff,#6800ff,#6800ff,#6800ff,#6700ff,#6600ff,#6400ff,#6200ff,#6100ff,#5f00ff,#5f00ff,#5f00ff,#6000ff)"></div>
<div style="height:3px;background:linear-gradient(90deg,#8700ff,#8700ff,#8700ff,#8700ff,#8700ff,#8700ff,#8700ff,#8700ff,#8700ff,#8700ff,#8600ff,#8600ff,#8500ff,#8400ff,#8300ff,#8200ff,#8100ff,#7f00ff,#7d00ff,#7b00ff,#7900ff,#7600ff,#7300ff,#7000ff,#6d00ff,#6a00ff,#6700ff,#6400ff,#6100ff,#5e00ff,#5c00ff,#5a00ff,#5900ff,#5800ff,#5800ff,#5800ff,#5900ff,#5b00ff,#5d00ff,#5f00ff,#6100ff,#6300ff,#6500ff,#6600ff,#6800ff,#6800ff,#6800ff,#6700ff,#6600ff,#6400ff,#6300ff,#6100ff,#6000ff,#5f00ff,#5f00ff,#6000ff)"></div>
<div style="height:3px;background:linear-gradient(90deg,#8700ff,#8700ff,#8700ff,#8700ff,#8700ff,#8700ff,#8700ff,#8700ff,#8700ff,#8600ff,#8600ff,#8600ff,#8500ff,#8400ff,#8300ff,#8200ff,#8100ff,#7f00ff,#7d00ff,#7b00ff,#7900ff,#7600ff,#7300ff,#7000ff,#6c00ff,#6900ff,#6600ff,#6300ff,#6000ff,#5d00ff,#5b00ff,#5900ff,#5800ff,#5700ff,#5700ff,#5700ff,#5800ff,#5a00ff,#5c00ff,#5e00ff,#6000ff,#6200ff,#6400ff,#6600ff,#6700ff,#6800ff,#6800ff,#6700ff,#6600ff,#6400ff,#6300ff,#6100ff,#6000ff,#6000ff,#6000ff,#6100ff)"></div>
<div style="height:3px;background:linear-gradient(90deg,#8700ff,#8700ff,#8700ff,#8700ff,#8700ff,#8700ff,#8700ff,#8700ff,#8700ff,#8600ff,#8600ff,#8600ff,#8500ff,#8400ff,#8300ff,#8200ff,#8100ff,#7f00ff,#7d00ff,#7b00ff,#7800ff,#7500ff,#7200ff,#6f00ff,#6c00ff,#6900ff,#6500ff,#6200ff,#5f00ff,#5c00ff,#5a00ff,#5800ff,#5700ff,#5600ff,#5600ff,#5600ff,#5700ff,#5900ff,#5b00ff,#5d00ff,#5f00ff,#6200ff,#6400ff,#6500ff,#6700ff,#6700ff,#6800ff,#6700ff,#6600ff,#6500ff,#6300ff,#6200ff,#6100ff,#6000ff,#6000ff,#6200ff)"></div>
<div style="height:3px;background:linear-gradient(90deg,#8700ff,#8700ff,#8700ff,#8700ff,#8700ff,#8700ff,#8700ff,#8700ff,#8700ff,#8600ff,#8600ff,#8600ff,#8500ff,#8400ff,#8300ff,#8200ff,#8000ff,#7f00ff,#7d00ff,#7b00ff,#7800ff,#7500ff,#7200ff,#6f00ff,#6b00ff,#6800ff,#6500ff,#6100ff,#5e00ff,#5b00ff,#5900ff,#5700ff,#5600ff,#5500ff,#5500ff,#5500ff,#5600ff,#5800ff,#5a00ff,#5c00ff,#5f00ff,#6100ff,#6300ff,#6500ff,#6600ff,#6700ff,#6700ff,#6700ff,#6600ff,#6500ff,#6400ff,#6200ff,#6100ff,#6100ff,#6100ff,#6200ff)"></div>
<div style="height:3px;background:linear-gradient(90deg,#8700ff,#8700ff,#8700ff,#8700ff,#8700ff,#8700ff,#8700ff,#8700ff,#8700ff,#8600ff,#8600ff,#8600ff,#8500ff,#8400ff,#8300ff,#8200ff,#8000ff,#7f00ff,#7d00ff,#7a00ff,#7800ff,#7500ff,#7200ff,#6e00ff,#6b00ff,#6800ff,#6400ff,#6100ff,#5e00ff,#5b00ff,#5800ff,#5600ff,#5500ff,#5400ff,#5400ff,#5500ff,#5600ff,#5700ff,#5900ff,#5c00ff,#5e00ff,#6100ff,#6300ff,#6500ff,#6600ff,#6700ff,#6700ff,#6700ff,#6600ff,#6500ff,#6400ff,#6300ff,#6200ff,#6200ff,#6200ff,#6300ff)"></div>
<div style="height:3px;background:linear-gradient(90deg,#8700ff,#8700ff,#8700ff,#8700ff,#8700ff,#8700ff,#8700ff,#8700ff,#8700ff,#8600ff,#8600ff,#8600ff,#8500ff,#8400ff,#8300ff,#8200ff,#8000ff,#7f00ff,#7c00ff,#7a00ff,#7800ff,#7500ff,#7100ff,#6e00ff,#6b00ff,#6700ff,#6400ff,#6000ff,#5d00ff,#5a00ff,#5800ff,#5600ff,#5400ff,#5400ff,#5400ff,#5400ff,#5500ff,#5700ff,#5900ff,#5b00ff,#5e00ff,#6000ff,#6200ff,#6500ff,#6600ff,#6700ff,#6800ff,#6700ff,#6700ff,#6600ff,#6500ff,#6300ff,#6300ff,#6200ff,#6300ff,#6400ff)"></div>
<div style="height:3px;background:linear-gradient(90deg,#8700ff,#8700ff,#8700ff,#8700ff,#8700ff,#8700ff,#8700ff,#8700ff,#8700ff,#8600ff,#8600ff,#8500ff,#8500ff,#8400ff,#8300ff,#8200ff,#8000ff,#7e00ff,#7c00ff,#7a00ff,#7700ff,#7400ff,#7100ff,#6e00ff,#6a00ff,#6700ff,#6300ff,#6000ff,#5d00ff,#5a00ff,#5700ff,#5500ff,#5400ff,#5300ff,#5300ff,#5400ff,#5500ff,#5600ff,#5800ff,#5b00ff,#5d00ff,#6000ff,#6200ff,#6400ff,#6600ff,#6700ff,#6800ff,#6800ff,#6700ff,#6600ff,#6500ff,#6400ff,#6300ff,#6300ff,#6300ff,#6400ff)"></div>
<div style="height:3px;background:linear-gradient(90deg,#8700ff,#8700ff,#8700ff,#8700ff,#8700ff,#8700ff,#8700ff,#8700ff,#8700ff,#8600ff,#8600ff,#8500ff,#8500ff,#8400ff,#8300ff,#8200ff,#8000ff,#7e00ff,#7c00ff,#7a00ff,#7700ff,#7400ff,#7100ff,#6e00ff,#6a00ff,#6700ff,#6300ff,#5f00ff,#5c00ff,#5900ff,#5700ff,#5500ff,#5400ff,#5300ff,#5300ff,#5300ff,#5400ff,#5600ff,#5800ff,#5a00ff,#5d00ff,#6000ff,#6200ff,#6400ff,#6600ff,#6700ff,#6800ff,#6800ff,#6700ff,#6700ff,#6600ff,#6500ff,#6400ff,#6400ff,#6400ff,#6500ff)"></div>
<div style="height:3px;background:linear-gradient(90deg,#8700ff,#8700ff,#8700ff,#8700ff,#8700ff,#8700ff,#8700ff,#8700ff,#8700ff,#8600ff,#8600ff,#8500ff,#8500ff,#8400ff,#8300ff,#8200ff,#8000ff,#7e00ff,#7c00ff,#7a00ff,#7700ff,#7400ff,#7100ff,#6e00ff,#6a00ff,#6600ff,#6300ff,#5f00ff,#5c00ff,#5900ff,#5700ff,#5500ff,#5300ff,#5300ff,#5200ff,#5300ff,#5400ff,#5600ff,#5800ff,#5a00ff,#5d00ff,#6000ff,#6200ff,#6400ff,#6600ff,#6700ff,#6800ff,#6800ff,#6800ff,#6700ff,#6600ff,#6500ff,#6500ff,#6500ff,#6500ff,#6600ff)"></div>
<div style="height:3px;background:linear-gradient(90deg,#8700ff,#8700ff,#8700ff,#8700ff,#8700ff,#8700ff,#8700ff,#8700ff,#8700ff,#8600ff,#8600ff,#8500ff,#8500ff,#8400ff,#8300ff,#8200ff,#8000ff,#7e00ff,#7c00ff,#7a00ff,#7700ff,#7400ff,#7100ff,#6e00ff,#6a00ff,#6600ff,#6300ff,#5f00ff,#5c00ff,#5900ff,#5700ff,#5500ff,#5300ff,#5200ff,#5200ff,#5300ff,#5400ff,#5600ff,#5800ff,#5a00ff,#5d00ff,#6000ff,#6200ff,#6400ff,#6600ff,#6800ff,#6800ff,#6900ff,#6800ff,#6800ff,#6700ff,#6600ff,#6600ff,#6600ff,#6600ff,#6700ff)"></div>
<div style="height:3px;background:linear-gradient(90deg,#8700ff,#8700ff,#8700ff,#8700ff,#8700ff,#8700ff,#8700ff,#8700ff,#8700ff,#8600ff,#8600ff,#8500ff,#8500ff,#8400ff,#8300ff,#8200ff,#8000ff,#7e00ff,#7c00ff,#7a00ff,#7700ff,#7400ff,#7100ff,#6e00ff,#6a00ff,#6600ff,#6300ff,#5f00ff,#5c00ff,#5900ff,#5700ff,#5500ff,#5300ff,#5200ff,#5200ff,#5300ff,#5400ff,#5600ff,#5800ff,#5a00ff,#5d00ff,#6000ff,#6200ff,#6500ff,#6600ff,#6800ff,#6900ff,#6900ff,#6900ff,#6800ff,#6800ff,#6700ff,#6700ff,#6600ff,#6700ff,#6800ff)"></div>
<div style="height:3px;background:linear-gradient(90deg,#8700ff,#8700ff,#8700ff,#8700ff,#8700ff,#8700ff,#8700ff,#8700ff,#8700ff,#8600ff,#8600ff,#8500ff,#8500ff,#8400ff,#8300ff,#8200ff,#8000ff,#7e00ff,#7c00ff,#7a00ff,#7700ff,#7400ff,#7100ff,#6e00ff,#6a00ff,#6600ff,#6300ff,#5f00ff,#5c00ff,#5900ff,#5700ff,#5500ff,#5300ff,#5300ff,#5300ff,#5300ff,#5400ff,#5600ff,#5800ff,#5b00ff,#5d00ff,#6000ff,#6200ff,#6500ff,#6700ff,#6800ff,#6900ff,#6a00ff,#6900ff,#6900ff,#6800ff,#6800ff,#6700ff,#6700ff,#6800ff,#6900ff)"></div>
<div style="height:3px;background:linear-gradient(90deg,#8700ff,#8700ff,#8700ff,#8700ff,#8700ff,#8700ff,#8700ff,#8700ff,#8700ff,#8600ff,#8600ff,#8500ff,#8500ff,#8400ff,#8300ff,#8200ff,#8000ff,#7e00ff,#7c00ff,#7a00ff,#7700ff,#7400ff,#7100ff,#6e00ff,#6a00ff,#6700ff,#6300ff,#6000ff,#5c00ff,#5a00ff,#5700ff,#5500ff,#5400ff,#5300ff,#5300ff,#5300ff,#5500ff,#5600ff,#5800ff,#5b00ff,#5d00ff,#6000ff,#6300ff,#6500ff,#6700ff,#6900ff,#6a00ff,#6a00ff,#6a00ff,#6a00ff,#6900ff,#6900ff,#6800ff,#6800ff,#6900ff,#6a00ff)"></div>
<div style="height:3px;background:linear-gradient(90deg,#8700ff,#8700ff,#8700ff,#8700ff,#8700ff,#8700ff,#8700ff,#8700ff,#8700ff,#8600ff,#8600ff,#8500ff,#8500ff,#8400ff,#8300ff,#8200ff,#8000ff,#7e00ff,#7c00ff,#7a00ff,#7700ff,#7500ff,#7100ff,#6e00ff,#6b00ff,#6700ff,#6300ff,#6000ff,#5d00ff,#5a00ff,#5800ff,#5600ff,#5400ff,#5300ff,#5300ff,#5400ff,#5500ff,#5700ff,#5900ff,#5b00ff,#5e00ff,#6100ff,#6300ff,#6600ff,#6800ff,#6900ff,#6a00ff,#6b00ff,#6b00ff,#6a00ff,#6a00ff,#6900ff,#6900ff,#6900ff,#6a00ff,#6b00ff)"></div>
<div style="height:3px;background:linear-gradient(90deg,#8700ff,#8700ff,#8700ff,#8700ff,#8700ff,#8700ff,#8700ff,#8700ff,#8700ff,#8600ff,#8600ff,#8500ff,#8500ff,#8400ff,#8300ff,#8200ff,#8000ff,#7f00ff,#7d00ff,#7a00ff,#7800ff,#7500ff,#7200ff,#6e00ff,#6b00ff,#6700ff,#6400ff,#6000ff,#5d00ff,#5a00ff,#5800ff,#5600ff,#5500ff,#5400ff,#5400ff,#5400ff,#5600ff,#5700ff,#5900ff,#5c00ff,#5e00ff,#6100ff,#6400ff,#6600ff,#6800ff,#6a00ff,#6b00ff,#6b00ff,#6b00ff,#6b00ff,#6b00ff,#6a00ff,#6a00ff,#6a00ff,#6b00ff,#6c00ff)"></div>
<div style="height:3px;background:linear-gradient(90deg,#8700ff,#8700ff,#8700ff,#8700ff,#8700ff,#8700ff,#8700ff,#8700ff,#8700ff,#8600ff,#8600ff,#8500ff,#8500ff,#8400ff,#8300ff,#8200ff,#8000ff,#7f00ff,#7d00ff,#7a00ff,#7800ff,#7500ff,#7200ff,#6f00ff,#6b00ff,#6800ff,#6400ff,#6100ff,#5e00ff,#5b00ff,#5900ff,#5700ff,#5500ff,#5500ff,#5500ff,#5500ff,#5600ff,#5800ff,#5a00ff,#5c00ff,#5f00ff,#6200ff,#6400ff,#6700ff,#6900ff,#6a00ff,#6b00ff,#6c00ff,#6c00ff,#6c00ff,#6c00ff,#6b00ff,#6b00ff,#6b00ff,#6c00ff,#6d00ff)"></div>
<div style="height:3px;background:linear-gradient(90deg,#8700ff,#8700ff,#8700ff,#8700ff,#8700ff,#8700ff,#8700ff,#8700ff,#8700ff,#8600ff,#8600ff,#8600ff,#8500ff,#8400ff,#8300ff,#8200ff,#8000ff,#7f00ff,#7d00ff,#7b00ff,#7800ff,#7500ff,#7200ff,#6f00ff,#6c00ff,#6800ff,#6500ff,#6200ff,#5f00ff,#5c00ff,#5900ff,#5800ff,#5600ff,#5600ff,#5500ff,#5600ff,#5700ff,#5900ff,#5b00ff,#5d00ff,#6000ff,#6200ff,#6500ff,#6700ff,#6900ff,#6b00ff,#6c00ff,#6d00ff,#6d00ff,#6d00ff,#6c00ff,#6c00ff,#6c00ff,#6c00ff,#6d00ff,#6e00ff)"></div>
<div style="height:3px;background:linear-gradient(90deg,#8700ff,#8700ff,#8700ff,#8700ff,#8700ff,#8700ff,#8700ff,#8700ff,#8700ff,#8600ff,#8600ff,#8600ff,#8500ff,#8400ff,#8300ff,#8200ff,#8100ff,#7f00ff,#7d00ff,#7b00ff,#7800ff,#7600ff,#7300ff,#6f00ff,#6c00ff,#6900ff,#6600ff,#6200ff,#5f00ff,#5d00ff,#5a00ff,#5900ff,#5700ff,#5700ff,#5600ff,#5700ff,#5800ff,#5a00ff,#5c00ff,#5e00ff,#6000ff,#6300ff,#6600ff,#6800ff,#6a00ff,#6b00ff,#6d00ff,#6d00ff,#6e00ff,#6e00ff,#6d00ff,#6d00ff,#6d00ff,#6d00ff,#6e00ff,#6e00ff)"></div>
<div style="height:3px;background:linear-gradient(90deg,#8700ff,#8700ff,#8700ff,#8700ff,#8700ff,#8700ff,#8700ff,#8700ff,#8700ff,#8600ff,#8600ff,#8600ff,#8500ff,#8400ff,#8300ff,#8200ff,#8100ff,#7f00ff,#7d00ff,#7b00ff,#7900ff,#7600ff,#7300ff,#7000ff,#6d00ff,#6a00ff,#6600ff,#6300ff,#6000ff,#5e00ff,#5b00ff,#5a00ff,#5800ff,#5800ff,#5700ff,#5800ff,#5900ff,#5b00ff,#5d00ff,#5f00ff,#6100ff,#6400ff,#6600ff,#6900ff,#6b00ff,#6c00ff,#6d00ff,#6e00ff,#6e00ff,#6e00ff,#6e00ff,#6e00ff,#6e00ff,#6e00ff,#6f00ff,#6f00ff)"></div>
<div style="height:3px;background:linear-gradient(90deg,#8700ff,#8700ff,#8700ff,#8700ff,#8700ff,#8700ff,#8700ff,#8700ff,#8700ff,#8600ff,#8600ff,#8600ff,#8500ff,#8400ff,#8300ff,#8200ff,#8100ff,#7f00ff,#7d00ff,#7b00ff,#7900ff,#7600ff,#7400ff,#7100ff,#6d00ff,#6a00ff,#6700ff,#6400ff,#6100ff,#5f00ff,#5c00ff,#5b00ff,#5900ff,#5900ff,#5900ff,#5900ff,#5a00ff,#5c00ff,#5e00ff,#6000ff,#6200ff,#6500ff,#6700ff,#6900ff,#6b00ff,#6d00ff,#6e00ff,#6f00ff,#6f00ff,#6f00ff,#6f00ff,#6f00ff,#6f00ff,#6f00ff,#6f00ff,#7000ff)"></div>
<div style="height:3px;background:linear-gradient(90deg,#8700ff,#8700ff,#8700ff,#8700ff,#8700ff,#8700ff,#8700ff,#8700ff,#8700ff,#8600ff,#8600ff,#8600ff,#8500ff,#8400ff,#8300ff,#8200ff,#8100ff,#7f00ff,#7e00ff,#7c00ff,#7900ff,#7700ff,#7400ff,#7100ff,#6e00ff,#6b00ff,#6800ff,#6500ff,#6200ff,#6000ff,#5d00ff,#5c00ff,#5b00ff,#5a00ff,#5a00ff,#5a00ff,#5b00ff,#5d00ff,#5f00ff,#6100ff,#6300ff,#6600ff,#6800ff,#6a00ff,#6c00ff,#6e00ff,#6f00ff,#7000ff,#7000ff,#7000ff,#7000ff,#7000ff,#7000ff,#7000ff,#7000ff,#7100ff)"></div>
<div style="height:3px;background:linear-gradient(90deg,#8700ff,#8700ff,#8700ff,#8700ff,#8700ff,#8700ff,#8700ff,#8700ff,#8700ff,#8600ff,#8600ff,#8500ff,#8500ff,#8400ff,#8300ff,#8200ff,#8100ff,#8000ff,#7e00ff,#7c00ff,#7a00ff,#7700ff,#7400ff,#7200ff,#6f00ff,#6c00ff,#6900ff,#6600ff,#6300ff,#6100ff,#5f00ff,#5d00ff,#5c00ff,#5b00ff,#5b00ff,#5c00ff,#5d00ff,#5e00ff,#6000ff,#6200ff,#6400ff,#6700ff,#6900ff,#6b00ff,#6d00ff,#6e00ff,#7000ff,#7000ff,#7100ff,#7100ff,#7100ff,#7100ff,#7100ff,#7100ff,#7100ff,#7200ff)"></div>
<div style="height:3px;background:linear-gradient(90deg,#8700ff,#8700ff,#8700ff,#8700ff,#8700ff,#8700ff,#8700ff,#8700ff,#8600ff,#8600ff,#8600ff,#8500ff,#8500ff,#8400ff,#8300ff,#8200ff,#8100ff,#8000ff,#7e00ff,#7c00ff,#7a00ff,#7800ff,#7500ff,#7200ff,#6f00ff,#6c00ff,#6a00ff,#6700ff,#6400ff,#6200ff,#6000ff,#5e00ff,#5d00ff,#5d00ff,#5c00ff,#5d00ff,#5e00ff,#5f00ff,#6100ff,#6300ff,#6500ff,#6800ff,#6a00ff,#6c00ff,#6e00ff,#6f00ff,#7000ff,#7100ff,#7200ff,#7200ff,#7200ff,#7200ff,#7200ff,#7200ff,#7200ff,#7300ff)"></div>
<div style="height:3px;background:linear-gradient(90deg,#8700ff,#8700ff,#8700ff,#8700ff,#8700ff,#8700ff,#8700ff,#8700ff,#8600ff,#8600ff,#8600ff,#8500ff,#8500ff,#8400ff,#8300ff,#8200ff,#8100ff,#8000ff,#7e00ff,#7c00ff,#7a00ff,#7800ff,#7500ff,#7300ff,#7000ff,#6d00ff,#6a00ff,#6800ff,#6500ff,#6300ff,#6100ff,#6000ff,#5f00ff,#5e00ff,#5e00ff,#5e00ff,#5f00ff,#6100ff,#6200ff,#6400ff,#6600ff,#6900ff,#6b00ff,#6d00ff,#6f00ff,#7000ff,#7100ff,#7200ff,#7200ff,#7200ff,#7200ff,#7200ff,#7200ff,#7300ff,#7300ff,#7400ff)"></div>
<div style="height:3px;background:linear-gradient(90deg,#8700ff,#8700ff,#8700ff,#8700ff,#8700ff,#8700ff,#8700ff,#8600ff,#8600ff,#8600ff,#8600ff,#8500ff,#8500ff,#8400ff,#8300ff,#8200ff,#8100ff,#8000ff,#7e00ff,#7d00ff,#7b00ff,#7800ff,#7600ff,#7300ff,#7100ff,#6e00ff,#6b00ff,#6900ff,#6600ff,#6400ff,#6200ff,#6100ff,#6000ff,#5f00ff,#5f00ff,#6000ff,#6100ff,#6200ff,#6300ff,#6500ff,#6700ff,#6a00ff,#6c00ff,#6e00ff,#6f00ff,#7100ff,#7200ff,#7300ff,#7300ff,#7300ff,#7300ff,#7300ff,#7300ff,#7300ff,#7400ff,#7500ff)"></div>
<div style="height:3px;background:linear-gradient(90deg,#8700ff,#8700ff,#8700ff,#8700ff,#8700ff,#8700ff,#8600ff,#8600ff,#8600ff,#8600ff,#8600ff,#8500ff,#8500ff,#8400ff,#8300ff,#8200ff,#8100ff,#8000ff,#7f00ff,#7d00ff,#7b00ff,#7900ff,#7600ff,#7400ff,#7100ff,#6f00ff,#6c00ff,#6a00ff,#6700ff,#6500ff,#6400ff,#6200ff,#6100ff,#6100ff,#6100ff,#6100ff,#6200ff,#6300ff,#6500ff,#6700ff,#6900ff,#6b00ff,#6d00ff,#6f00ff,#7000ff,#7200ff,#7300ff,#7300ff,#7400ff,#7400ff,#7400ff,#7400ff,#7400ff,#7400ff,#7500ff,#7500ff)"></div>
<div style="height:3px;background:linear-gradient(90deg,#8700ff,#8700ff,#8700ff,#8600ff,#8600ff,#8600ff,#8600ff,#8600ff,#8600ff,#8600ff,#8500ff,#8500ff,#8500ff,#8400ff,#8300ff,#8200ff,#8100ff,#8000ff,#7f00ff,#7d00ff,#7b00ff,#7900ff,#7700ff,#7500ff,#7200ff,#7000ff,#6d00ff,#6b00ff,#6900ff,#6700ff,#6500ff,#6400ff,#6300ff,#6200ff,#6200ff,#6200ff,#6300ff,#6400ff,#6600ff,#6800ff,#6a00ff,#6c00ff,#6e00ff,#6f00ff,#7100ff,#7200ff,#7300ff,#7400ff,#7500ff,#7500ff,#7500ff,#7500ff,#7500ff,#7500ff,#7500ff,#7600ff)"></div>
<div style="height:3px;background:linear-gradient(90deg,#8600ff,#8600ff,#8600ff,#8600ff,#8600ff,#8600ff,#8600ff,#8600ff,#8600ff,#8500ff,#8500ff,#8500ff,#8400ff,#8400ff,#8300ff,#8200ff,#8100ff,#8000ff,#7f00ff,#7d00ff,#7b00ff,#7900ff,#7700ff,#7500ff,#7300ff,#7000ff,#6e00ff,#6c00ff,#6a00ff,#6800ff,#6600ff,#6500ff,#6400ff,#6300ff,#6300ff,#6400ff,#6500ff,#6600ff,#6700ff,#6900ff,#6b00ff,#6d00ff,#6e00ff,#7000ff,#7200ff,#7300ff,#7400ff,#7500ff,#7500ff,#7500ff,#7500ff,#7500ff,#7600ff,#7600ff,#7600ff,#7700ff)"></div>
<div style="height:3px;background:linear-gradient(90deg,#8600ff,#8600ff,#8600ff,#8600ff,#8600ff,#8600ff,#8600ff,#8600ff,#8500ff,#8500ff,#8500ff,#8400ff,#8400ff,#8400ff,#8300ff,#8200ff,#8100ff,#8000ff,#7f00ff,#7d00ff,#7b00ff,#7a00ff,#7800ff,#7500ff,#7300ff,#7100ff,#6f00ff,#6d00ff,#6b00ff,#6900ff,#6700ff,#6600ff,#6500ff,#6500ff,#6500ff,#6500ff,#6600ff,#6700ff,#6800ff,#6a00ff,#6c00ff,#6d00ff,#6f00ff,#7100ff,#7200ff,#7400ff,#7500ff,#7500ff,#7600ff,#7600ff,#7600ff,#7600ff,#7600ff,#7600ff,#7700ff,#7700ff)"></div>
<div style="height:3px;background:linear-gradient(90deg,#8600ff,#8600ff,#8600ff,#8600ff,#8600ff,#8500ff,#8500ff,#8500ff,#8500ff,#8500ff,#8400ff,#8400ff,#8400ff,#8300ff,#8300ff,#8200ff,#8100ff,#8000ff,#7f00ff,#7d00ff,#7c00ff,#7a00ff,#7800ff,#7600ff,#7400ff,#7200ff,#6f00ff,#6d00ff,#6b00ff,#6a00ff,#6800ff,#6700ff,#6600ff,#6600ff,#6600ff,#6600ff,#6700ff,#6800ff,#6900ff,#6b00ff,#6d00ff,#6e00ff,#7000ff,#7200ff,#7300ff,#7400ff,#7500ff,#7600ff,#7600ff,#7600ff,#7700ff,#7700ff,#7700ff,#7700ff,#7700ff,#7800ff)"></div>
<div style="height:3px;background:linear-gradient(90deg,#8500ff,#8500ff,#8500ff,#8500ff,#8500ff,#8500ff,#8500ff,#8500ff,#8500ff,#8400ff,#8400ff,#8400ff,#8300ff,#8300ff,#8200ff,#8100ff,#8100ff,#8000ff,#7e00ff,#7d00ff,#7b00ff,#7a00ff,#7800ff,#7600ff,#7400ff,#7200ff,#7000ff,#6e00ff,#6c00ff,#6b00ff,#6900ff,#6800ff,#6700ff,#6700ff,#6700ff,#6700ff,#6800ff,#6900ff,#6a00ff,#6c00ff,#6d00ff,#6f00ff,#7100ff,#7200ff,#7400ff,#7500ff,#7600ff,#7600ff,#7700ff,#7700ff,#7700ff,#7700ff,#7700ff,#7700ff,#7800ff,#7800ff)"></div>
<div style="height:3px;background:linear-gradient(90deg,#8500ff,#8500ff,#8500ff,#8500ff,#8500ff,#8500ff,#8400ff,#8400ff,#8400ff,#8400ff,#8400ff,#8300ff,#8300ff,#8200ff,#8200ff,#8100ff,#8000ff,#7f00ff,#7e00ff,#7d00ff,#7b00ff,#7a00ff,#7800ff,#7600ff,#7400ff,#7200ff,#7100ff,#6f00ff,#6d00ff,#6c00ff,#6a00ff,#6900ff,#6800ff,#6800ff,#6800ff,#6800ff,#6900ff,#6a00ff,#6b00ff,#6d00ff,#6e00ff,#7000ff,#7100ff,#7300ff,#7400ff,#7500ff,#7600ff,#7700ff,#7700ff,#7700ff,#7700ff,#7700ff,#7800ff,#7800ff,#7800ff,#7900ff)"></div>
<div style="height:3px;background:linear-gradient(90deg,#8400ff,#8400ff,#8400ff,#8400ff,#8400ff,#8400ff,#8400ff,#8400ff,#8300ff,#8300ff,#8300ff,#8300ff,#8200ff,#8200ff,#8100ff,#8100ff,#8000ff,#7f00ff,#7e00ff,#7d00ff,#7b00ff,#7a00ff,#7800ff,#7600ff,#7500ff,#7300ff,#7100ff,#6f00ff,#6e00ff,#6c00ff,#6b00ff,#6a00ff,#6900ff,#6900ff,#6900ff,#6900ff,#6a00ff,#6b00ff,#6c00ff,#6d00ff,#6f00ff,#7000ff,#7200ff,#7300ff,#7400ff,#7500ff,#7600ff,#7700ff,#7700ff,#7800ff,#7800ff,#7800ff,#7800ff,#7800ff,#7900ff,#7900ff)"></div>
<div style="height:3px;background:linear-gradient(90deg,#8400ff,#8400ff,#8400ff,#8400ff,#8300ff,#8300ff,#8300ff,#8300ff,#8300ff,#8300ff,#8200ff,#8200ff,#8200ff,#8100ff,#8100ff,#8000ff,#7f00ff,#7e00ff,#7d00ff,#7c00ff,#7b00ff,#7900ff,#7800ff,#7600ff,#7500ff,#7300ff,#7100ff,#7000ff,#6e00ff,#6d00ff,#6c00ff,#6b00ff,#6a00ff,#6a00ff,#6a00ff,#6a00ff,#6b00ff,#6c00ff,#6d00ff,#6e00ff,#6f00ff,#7100ff,#7200ff,#7300ff,#7500ff,#7600ff,#7600ff,#7700ff,#7700ff,#7800ff,#7800ff,#7800ff,#7800ff,#7800ff,#7900ff,#7900ff)"></div>
<div style="height:3px;background:linear-gradient(90deg,#8300ff,#8300ff,#8300ff,#8300ff,#8300ff,#8300ff,#8200ff,#8200ff,#8200ff,#8200ff,#8100ff,#8100ff,#8100ff,#8000ff,#8000ff,#7f00ff,#7e00ff,#7e00ff,#7d00ff,#7c00ff,#7a00ff,#7900ff,#7800ff,#7600ff,#7400ff,#7300ff,#7100ff,#7000ff,#6e00ff,#6d00ff,#6c00ff,#6b00ff,#6b00ff,#6a00ff,#6a00ff,#6b00ff,#6b00ff,#6c00ff,#6d00ff,#6e00ff,#7000ff,#7100ff,#7200ff,#7400ff,#7500ff,#7600ff,#7700ff,#7700ff,#7800ff,#7800ff,#7800ff,#7800ff,#7800ff,#7800ff,#7900ff,#7900ff)"></div>
<div style="height:3px;background:linear-gradient(90deg,#8200ff,#8200ff,#8200ff,#8200ff,#8200ff,#8200ff,#8100ff,#8100ff,#8100ff,#8100ff,#8100ff,#8000ff,#8000ff,#7f00ff,#7f00ff,#7e00ff,#7e00ff,#7d00ff,#7c00ff,#7b00ff,#7a00ff,#7800ff,#7700ff,#7600ff,#7400ff,#7300ff,#7100ff,#7000ff,#6f00ff,#6d00ff,#6c00ff,#6c00ff,#6b00ff,#6b00ff,#6b00ff,#6b00ff,#6c00ff,#6d00ff,#6e00ff,#6f00ff,#7000ff,#7100ff,#7300ff,#7400ff,#7500ff,#7600ff,#7600ff,#7700ff,#7700ff,#7800ff,#7800ff,#7800ff,#7800ff,#7800ff,#7900ff,#7900ff)"></div>
<div style="height:3px;background:linear-gradient(90deg,#8200ff,#8100ff,#8100ff,#8100ff,#8100ff,#8100ff,#8000ff,#8000ff,#8000ff,#8000ff,#7f00ff,#7f00ff,#7f00ff,#7e00ff,#7e00ff,#7d00ff,#7d00ff,#7c00ff,#7b00ff,#7a00ff,#7900ff,#7800ff,#7700ff,#7500ff,#7400ff,#7200ff,#7100ff,#7000ff,#6f00ff,#6d00ff,#6d00ff,#6c00ff,#6b00ff,#6b00ff,#6b00ff,#6c00ff,#6c00ff,#6d00ff,#6e00ff,#6f00ff,#7000ff,#7100ff,#7200ff,#7400ff,#7500ff,#7600ff,#7600ff,#7700ff,#7700ff,#7700ff,#7800ff,#7800ff,#7800ff,#7800ff,#7900ff,#7900ff)"></div>
<div style="height:3px;background:linear-gradient(90deg,#8100ff,#8000ff,#8000ff,#8000ff,#8000ff,#8000ff,#7f00ff,#7f00ff,#7f00ff,#7f00ff,#7e00ff,#7e00ff,#7e00ff,#7d00ff,#7d00ff,#7c00ff,#7c00ff,#7b00ff,#7a00ff,#7900ff,#7800ff,#7700ff,#7600ff,#7500ff,#7300ff,#7200ff,#7100ff,#6f00ff,#6e00ff,#6d00ff,#6d00ff,#6c00ff,#6b00ff,#6b00ff,#6b00ff,#6c00ff,#6c00ff,#6d00ff,#6e00ff,#6f00ff,#7000ff,#7100ff,#7200ff,#7300ff,#7400ff,#7500ff,#7600ff,#7600ff,#7700ff,#7700ff,#7700ff,#7800ff,#7800ff,#7800ff,#7900ff,#7900ff)"></div>
<div style="height:3px;background:linear-gradient(90deg,#8000ff,#7f00ff,#7f00ff,#7f00ff,#7f00ff,#7e00ff,#7e00ff,#7e00ff,#7e00ff,#7d00ff,#7d00ff,#7d00ff,#7c00ff,#7c00ff,#7b00ff,#7b00ff,#7a00ff,#7a00ff,#7900ff,#7800ff,#7700ff,#7600ff,#7500ff,#7400ff,#7200ff,#7100ff,#7000ff,#6f00ff,#6e00ff,#6d00ff,#6c00ff,#6c00ff,#6b00ff,#6b00ff,#6b00ff,#6c00ff,#6c00ff,#6d00ff,#6e00ff,#6f00ff,#7000ff,#7100ff,#7200ff,#7300ff,#7400ff,#7500ff,#7500ff,#7600ff,#7600ff,#7700ff,#7700ff,#7700ff,#7700ff,#7800ff,#7800ff,#7900ff)"></div>
<div style="height:3px;background:linear-gradient(90deg,#7e00ff,#7e00ff,#7e00ff,#7e00ff,#7d00ff,#7d00ff,#7d00ff,#7d00ff,#7c00ff,#7c00ff,#7c00ff,#7b00ff,#7b00ff,#7a00ff,#7a00ff,#7900ff,#7900ff,#7800ff,#7700ff,#7700ff,#7600ff,#7500ff,#7400ff,#7300ff,#7200ff,#7000ff,#6f00ff,#6e00ff,#6d00ff,#6d00ff,#6c00ff,#6b00ff,#6b00ff,#6b00ff,#6b00ff,#6b00ff,#6c00ff,#6c00ff,#6d00ff,#6e00ff,#6f00ff,#7000ff,#7100ff,#7200ff,#7300ff,#7400ff,#7500ff,#7500ff,#7600ff,#7600ff,#7600ff,#7700ff,#7700ff,#7700ff,#7800ff,#7800ff)"></div>
<div style="height:3px;background:linear-gradient(90deg,#7d00ff,#7d00ff,#7d00ff,#7c00ff,#7c00ff,#7c00ff,#7b00ff,#7b00ff,#7b00ff,#7a00ff,#7a00ff,#7a00ff,#7900ff,#7900ff,#7800ff,#7800ff,#7700ff,#7700ff,#7600ff,#7500ff,#7400ff,#7300ff,#7300ff,#7200ff,#7100ff,#6f00ff,#6e00ff,#6e00ff,#6d00ff,#6c00ff,#6b00ff,#6b00ff,#6b00ff,#6a00ff,#6b00ff,#6b00ff,#6b00ff,#6c00ff,#6d00ff,#6e00ff,#6f00ff,#7000ff,#7100ff,#7200ff,#7300ff,#7300ff,#7400ff,#7500ff,#7500ff,#7500ff,#7600ff,#7600ff,#7600ff,#7700ff,#7700ff,#7800ff)"></div>
<div style="height:3px;background:linear-gradient(90deg,#7c00ff,#7c00ff,#7b00ff,#7b00ff,#7b00ff,#7a00ff,#7a00ff,#7a00ff,#7900ff,#7900ff,#7800ff,#7800ff,#7800ff,#7700ff,#7700ff,#7600ff,#7600ff,#7500ff,#7400ff,#7400ff,#7300ff,#7200ff,#7100ff,#7000ff,#6f00ff,#6e00ff,#6d00ff,#6d00ff,#6c00ff,#6b00ff,#6b00ff,#6a00ff,#6a00ff,#6a00ff,#6a00ff,#6a00ff,#6b00ff,#6b00ff,#6c00ff,#6d00ff,#6e00ff,#6f00ff,#7000ff,#7100ff,#7200ff,#7300ff,#7300ff,#7400ff,#7400ff,#7500ff,#7500ff,#7500ff,#7600ff,#7600ff,#7600ff,#7700ff)"></div>
<div style="height:3px;background:linear-gradient(90deg,#7b00ff,#7a00ff,#7a00ff,#7900ff,#7900ff,#7900ff,#7800ff,#7800ff,#7800ff,#7700ff,#7700ff,#7600ff,#7600ff,#7600ff,#7500ff,#7500ff,#7400ff,#7300ff,#7300ff,#7200ff,#7100ff,#7000ff,#7000ff,#6f00ff,#6e00ff,#6d00ff,#6c00ff,#6b00ff,#6b00ff,#6a00ff,#6a00ff,#6900ff,#6900ff,#6900ff,#6900ff,#6900ff,#6a00ff,#6b00ff,#6b00ff,#6c00ff,#6d00ff,#6e00ff,#6f00ff,#7000ff,#7100ff,#7200ff,#7200ff,#7300ff,#7300ff,#7400ff,#7400ff,#7400ff,#7500ff,#7500ff,#7600ff,#7600ff)"></div>
<div style="height:3px;background:linear-gradient(90deg,#7900ff,#7900ff,#7800ff,#7800ff,#7700ff,#7700ff,#7700ff,#7600ff,#7600ff,#7500ff,#7500ff,#7500ff,#7400ff,#7400ff,#7300ff,#7300ff,#7200ff,#7200ff,#7100ff,#7000ff,#7000ff,#6f00ff,#6e00ff,#6d00ff,#6c00ff,#6c00ff,#6b00ff,#6a00ff,#6a00ff,#6900ff,#6900ff,#6800ff,#6800ff,#6800ff,#6800ff,#6900ff,#6900ff,#6a00ff,#6a00ff,#6b00ff,#6c00ff,#6d00ff,#6e00ff,#6f00ff,#7000ff,#7100ff,#7100ff,#7200ff,#7200ff,#7300ff,#7300ff,#7300ff,#7400ff,#7400ff,#7500ff,#7600ff)"></div>
<div style="height:3px;background:linear-gradient(90deg,#7800ff,#7700ff,#7700ff,#7600ff,#7600ff,#7500ff,#7500ff,#7400ff,#7400ff,#7400ff,#7300ff,#7300ff,#7200ff,#7200ff,#7100ff,#7100ff,#7000ff,#7000ff,#6f00ff,#6e00ff,#6e00ff,#6d00ff,#6c00ff,#6c00ff,#6b00ff,#6a00ff,#6900ff,#6900ff,#6800ff,#6800ff,#6700ff,#6700ff,#6700ff,#6700ff,#6700ff,#6800ff,#6800ff,#6900ff,#6900ff,#6a00ff,#6b00ff,#6c00ff,#6d00ff,#6e00ff,#6f00ff,#6f00ff,#7000ff,#7100ff,#7100ff,#7200ff,#7200ff,#7200ff,#7300ff,#7300ff,#7400ff,#7500ff)"></div>
<div style="height:3px;background:linear-gradient(90deg,#7600ff,#7600ff,#7500ff,#7500ff,#7400ff,#7400ff,#7300ff,#7300ff,#7200ff,#7200ff,#7100ff,#7100ff,#7000ff,#7000ff,#6f00ff,#6f00ff,#6e00ff,#6e00ff,#6d00ff,#6d00ff,#6c00ff,#6b00ff,#6b00ff,#6a00ff,#6900ff,#6900ff,#6800ff,#6700ff,#6700ff,#6600ff,#6600ff,#6600ff,#6600ff,#6600ff,#6600ff,#6600ff,#6700ff,#6800ff,#6800ff,#6900ff,#6a00ff,#6b00ff,#6c00ff,#6d00ff,#6d00ff,#6e00ff,#6f00ff,#6f00ff,#7000ff,#7000ff,#7100ff,#7100ff,#7200ff,#7200ff,#7300ff,#7400ff)"></div>
<div style="height:3px;background:linear-gradient(90deg,#7500ff,#7400ff,#7400ff,#7300ff,#7200ff,#7200ff,#7100ff,#7100ff,#7000ff,#7000ff,#6f00ff,#6f00ff,#6e00ff,#6e00ff,#6d00ff,#6d00ff,#6c00ff,#6c00ff,#6b00ff,#6b00ff,#6a00ff,#6900ff,#6900ff,#6800ff,#6800ff,#6700ff,#6600ff,#6600ff,#6500ff,#6500ff,#6500ff,#6500ff,#6500ff,#6500ff,#6500ff,#6500ff,#6600ff,#6600ff,#6700ff,#6800ff,#6900ff,#6a00ff,#6a00ff,#6b00ff,#6c00ff,#6d00ff,#6e00ff,#6e00ff,#6f00ff,#6f00ff,#7000ff,#7000ff,#7100ff,#7100ff,#7200ff,#7300ff)"></div>
<div style="height:3px;background:linear-gradient(90deg,#7300ff,#7300ff,#7200ff,#7100ff,#7100ff,#7000ff,#7000ff,#6f00ff,#6f00ff,#6e00ff,#6e00ff,#6d00ff,#6d00ff,#6c00ff,#6c00ff,#6b00ff,#6a00ff,#6a00ff,#6900ff,#6900ff,#6800ff,#6800ff,#6700ff,#6600ff,#6600ff,#6500ff,#6500ff,#6400ff,#6400ff,#6400ff,#6300ff,#6300ff,#6300ff,#6300ff,#6400ff,#6400ff,#6500ff,#6500ff,#6600ff,#6700ff,#6700ff,#6800ff,#6900ff,#6a00ff,#6b00ff,#6c00ff,#6c00ff,#6d00ff,#6e00ff,#6e00ff,#6f00ff,#6f00ff,#7000ff,#7000ff,#7100ff,#7200ff)"></div>
<div style="height:3px;background:linear-gradient(90deg,#7200ff,#7100ff,#7000ff,#7000ff,#6f00ff,#6f00ff,#6e00ff,#6d00ff,#6d00ff,#6c00ff,#6c00ff,#6b00ff,#6b00ff,#6a00ff,#6a00ff,#6900ff,#6900ff,#6800ff,#6800ff,#6700ff,#6600ff,#6600ff,#6500ff,#6500ff,#6400ff,#6400ff,#6300ff,#6300ff,#6300ff,#6200ff,#6200ff,#6200ff,#6200ff,#6200ff,#6200ff,#6300ff,#6300ff,#6400ff,#6500ff,#6500ff,#6600ff,#6700ff,#6800ff,#6900ff,#6a00ff,#6a00ff,#6b00ff,#6c00ff,#6c00ff,#6d00ff,#6e00ff,#6e00ff,#6f00ff,#6f00ff,#7000ff,#7100ff)"></div>
<div style="height:3px;background:linear-gradient(90deg,#7000ff,#7000ff,#6f00ff,#6e00ff,#6e00ff,#6d00ff,#6c00ff,#6c00ff,#6b00ff,#6b00ff,#6a00ff,#6a00ff,#6900ff,#6800ff,#6800ff,#6700ff,#6700ff,#6600ff,#6600ff,#6500ff,#6500ff,#6400ff,#6400ff,#6300ff,#6300ff,#6200ff,#6200ff,#6100ff,#6100ff,#6100ff,#6100ff,#6100ff,#6100ff,#6100ff,#6100ff,#6200ff,#6200ff,#6300ff,#6300ff,#6400ff,#6500ff,#6600ff,#6700ff,#6800ff,#6800ff,#6900ff,#6a00ff,#6b00ff,#6b00ff,#6c00ff,#6d00ff,#6d00ff,#6e00ff,#6f00ff,#6f00ff,#7000ff)"></div>
<div style="height:3px;background:linear-gradient(90deg,#6f00ff,#6e00ff,#6e00ff,#6d00ff,#6c00ff,#6c00ff,#6b00ff,#6a00ff,#6a00ff,#6900ff,#6900ff,#6800ff,#6700ff,#6700ff,#6600ff,#6600ff,#6500ff,#6500ff,#6400ff,#6400ff,#6300ff,#6300ff,#6200ff,#6200ff,#6100ff,#6100ff,#6000ff,#6000ff,#6000ff,#6000ff,#6000ff,#6000ff,#6000ff,#6000ff,#6000ff,#6100ff,#6100ff,#6200ff,#6200ff,#6300ff,#6400ff,#6500ff,#6600ff,#6600ff,#6700ff,#6800ff,#6900ff,#6a00ff,#6a00ff,#6b00ff,#6c00ff,#6c00ff,#6d00ff,#6e00ff,#6e00ff,#6f00ff)"></div>
<div style="height:3px;background:linear-gradient(90deg,#6e00ff,#6d00ff,#6c00ff,#6c00ff,#6b00ff,#6a00ff,#6a00ff,#6900ff,#6800ff,#6800ff,#6700ff,#6700ff,#6600ff,#6500ff,#6500ff,#6400ff,#6400ff,#6300ff,#6300ff,#6200ff,#6200ff,#6100ff,#6100ff,#6000ff,#6000ff,#6000ff,#5f00ff,#5f00ff,#5f00ff,#5f00ff,#5f00ff,#5f00ff,#5f00ff,#5f00ff,#5f00ff,#6000ff,#6000ff,#6100ff,#6100ff,#6200ff,#6300ff,#6400ff,#6500ff,#6500ff,#6600ff,#6700ff,#6800ff,#6900ff,#6900ff,#6a00ff,#6b00ff,#6b00ff,#6c00ff,#6d00ff,#6e00ff,#6f00ff)"></div>
<div style="height:3px;background:linear-gradient(90deg,#6d00ff,#6c00ff,#6b00ff,#6b00ff,#6a00ff,#6900ff,#6900ff,#6800ff,#6700ff,#6700ff,#6600ff,#6500ff,#6500ff,#6400ff,#6400ff,#6300ff,#6200ff,#6200ff,#6100ff,#6100ff,#6000ff,#6000ff,#6000ff,#5f00ff,#5f00ff,#5e00ff,#5e00ff,#5e00ff,#5e00ff,#5e00ff,#5e00ff,#5e00ff,#5e00ff,#5e00ff,#5e00ff,#5f00ff,#5f00ff,#6000ff,#6100ff,#6100ff,#6200ff,#6300ff,#6400ff,#6500ff,#6500ff,#6600ff,#6700ff,#6800ff,#6900ff,#6900ff,#6a00ff,#6b00ff,#6b00ff,#6c00ff,#6d00ff,#6e00ff)"></div>
<div style="height:3px;background:linear-gradient(90deg,#6c00ff,#6b00ff,#6b00ff,#6a00ff,#6900ff,#6800ff,#6800ff,#6700ff,#6600ff,#6600ff,#6500ff,#6400ff,#6400ff,#6300ff,#6200ff,#6200ff,#6100ff,#6100ff,#6000ff,#6000ff,#5f00ff,#5f00ff,#5f00ff,#5e00ff,#5e00ff,#5e00ff,#5d00ff,#5d00ff,#5d00ff,#5d00ff,#5d00ff,#5d00ff,#5d00ff,#5d00ff,#5e00ff,#5e00ff,#5f00ff,#5f00ff,#6000ff,#6100ff,#6200ff,#6200ff,#6300ff,#6400ff,#6500ff,#6600ff,#6600ff,#6700ff,#6800ff,#6900ff,#6900ff,#6a00ff,#6b00ff,#6c00ff,#6d00ff,#6d00ff)"></div>
<div style="height:3px;background:linear-gradient(90deg,#6c00ff,#6b00ff,#6a00ff,#6900ff,#6800ff,#6800ff,#6700ff,#6600ff,#6500ff,#6500ff,#6400ff,#6300ff,#6300ff,#6200ff,#6200ff,#6100ff,#6100ff,#6000ff,#6000ff,#5f00ff,#5f00ff,#5e00ff,#5e00ff,#5e00ff,#5d00ff,#5d00ff,#5d00ff,#5d00ff,#5c00ff,#5c00ff,#5c00ff,#5d00ff,#5d00ff,#5d00ff,#5d00ff,#5e00ff,#5e00ff,#5f00ff,#6000ff,#6000ff,#6100ff,#6200ff,#6300ff,#6400ff,#6400ff,#6500ff,#6600ff,#6700ff,#6700ff,#6700ff,#6700ff,#6700ff,#6700ff,#6500ff,#6400ff,#6400ff)"></div>
<div style="height:3px;background:linear-gradient(90deg,#6b00ff,#6a00ff,#6900ff,#6900ff,#6800ff,#6700ff,#6600ff,#6600ff,#6500ff,#6400ff,#6300ff,#6000ff,#5c00ff,#5800ff,#5600ff,#5500ff,#5400ff,#5300ff,#5200ff,#5100ff,#5100ff,#5100ff,#5000ff,#5000ff,#5000ff,#5000ff,#5000ff,#5100ff,#5100ff,#5100ff,#5200ff,#5300ff,#5400ff,#5500ff,#5600ff,#5800ff,#5800ff,#5900ff,#5900ff,#5a00ff,#5a00ff,#5a00ff,#5b00ff,#5b00ff,#5b00ff,#5c00ff,#5c00ff,#5a00ff,#5900ff,#5700ff,#5600ff,#5400ff,#5300ff,#5200ff,#5200ff,#5100ff)"></div>
<div style="height:3px;background:linear-gradient(90deg,#6b00ff,#6a00ff,#6900ff,#6700ff,#6500ff,#6200ff,#6000ff,#5e00ff,#5b00ff,#5900ff,#5600ff,#5200ff,#4d00ff,#4800ff,#4500ff,#4400ff,#4300ff,#4200ff,#4100ff,#4000ff,#4000ff,#4000ff,#4000ff,#3f01ff,#3f01ff,#3f01ff,#3f01ff,#4000ff,#4000ff,#4000ff,#4100ff,#4200ff,#4300ff,#4400ff,#4500ff,#4800ff,#4900ff,#4a00ff,#4b00ff,#4c00ff,#4b00ff,#4900ff,#4800ff,#4700ff,#4600ff,#4500ff,#4500ff,#4500ff,#4300ff,#4200ff,#4100ff,#4000ff,#4000ff,#4000ff,#4000ff,#3f01ff)"></div>
<div style="height:3px;background:linear-gradient(90deg,#6200ff,#5f00ff,#5c00ff,#5900ff,#5600ff,#5300ff,#5000ff,#4d00ff,#4a00ff,#4600ff,#4300ff,#3f01ff,#3d05ff,#3b09ff,#3a0cff,#3a0cff,#390dff,#390eff,#380fff,#3810ff,#3810ff,#3711ff,#3711ff,#3711ff,#3711ff,#3711ff,#3711ff,#3711ff,#3810ff,#3810ff,#380fff,#390eff,#390dff,#3a0cff,#3a0bff,#3b09ff,#3b0aff,#3b0aff,#3a0bff,#3b0aff,#3a0bff,#3a0bff,#3a0cff,#3a0cff,#3a0cff,#3a0cff,#3a0cff,#3a0bff,#3a0cff,#3a0cff,#390dff,#390dff,#390dff,#390eff,#390eff,#390eff)"></div>
<div style="height:3px;background:linear-gradient(90deg,#4f00ff,#4b00ff,#4700ff,#4300ff,#4000ff,#3e03ff,#3d05ff,#3c08ff,#3a0bff,#390dff,#3810ff,#3515ff,#331aff,#301fff,#2f22ff,#2e23ff,#2e24ff,#2d26ff,#2c27ff,#2c28ff,#2c28ff,#2b29ff,#2b29ff,#2b29ff,#2b2aff,#2b2aff,#2b29ff,#2b29ff,#2b29ff,#2c28ff,#2c27ff,#2d26ff,#2d25ff,#2e23ff,#2f22ff,#3020ff,#301fff,#301fff,#311eff,#311dff,#311dff,#311dff,#311dff,#311dff,#321cff,#321cff,#321bff,#321bff,#321bff,#321cff,#321cff,#321cff,#321cff,#321bff,#321bff,#321bff)"></div>
<div style="height:3px;background:linear-gradient(90deg,#3f02ff,#3d05ff,#3b09ff,#3a0cff,#380fff,#3712ff,#3516ff,#3319ff,#321cff,#301fff,#2e23ff,#2b29ff,#282fff,#2535ff,#2339ff,#233aff,#223cff,#213dff,#213eff,#2040ff,#2040ff,#1f41ff,#1f41ff,#1f42ff,#1f42ff,#1f42ff,#1f41ff,#1f41ff,#1f41ff,#2040ff,#203fff,#213dff,#223cff,#233aff,#2339ff,#2536ff,#2634ff,#2633ff,#2732ff,#2731ff,#2830ff,#2830ff,#2830ff,#282fff,#292eff,#292dff,#2a2cff,#2a2bff,#2a2bff,#2a2bff,#2a2bff,#2b2aff,#2b2aff,#2c28ff,#2c27ff,#2c27ff)"></div>
<div style="height:3px;background:linear-gradient(90deg,#3810ff,#3613ff,#3417ff,#321bff,#301fff,#2e23ff,#2c27ff,#2a2bff,#282fff,#2633ff,#2437ff,#213eff,#1d45ff,#194dff,#1751ff,#1653ff,#1555ff,#1556ff,#1458ff,#1359ff,#135aff,#125bff,#125bff,#125cff,#125cff,#125cff,#125bff,#125bff,#135aff,#135aff,#1458ff,#1457ff,#1555ff,#1653ff,#1751ff,#194dff,#1a4cff,#1b4aff,#1c48ff,#1d46ff,#1e44ff,#1e44ff,#1e43ff,#1f41ff,#2040ff,#203fff,#223cff,#233aff,#2438ff,#2437ff,#2536ff,#2634ff,#2633ff,#2731ff,#282fff,#282fff)"></div>
<div style="height:3px;background:linear-gradient(90deg,#311eff,#2f22ff,#2d26ff,#2a2bff,#282fff,#2634ff,#2339ff,#213dff,#1f42ff,#1d46ff,#1a4bff,#1654ff,#125cff,#0d65ff,#0b6aff,#0a6cff,#096eff,#0870ff,#0772ff,#0674ff,#0575ff,#0575ff,#0576ff,#0576ff,#0477ff,#0477ff,#0576ff,#0576ff,#0575ff,#0575ff,#0673ff,#0771ff,#096eff,#0a6cff,#0b6aff,#0d66ff,#0e63ff,#0f61ff,#115eff,#125bff,#1457ff,#1555ff,#1752ff,#1850ff,#194dff,#1b4aff,#1c47ff,#1e44ff,#1f42ff,#1f41ff,#203fff,#213dff,#223cff,#233aff,#2438ff,#2437ff)"></div>
<div style="height:3px;background:linear-gradient(90deg,#2b29ff,#292eff,#2633ff,#2438ff,#213eff,#1e43ff,#1c48ff,#194dff,#1752ff,#1457ff,#115dff,#0d66ff,#0870ff,#037aff,#0080ff,#0083ff,#0086ff,#008aff,#008dff,#0090ff,#0092ff,#0093ff,#0094ff,#0095ff,#0096ff,#0095ff,#0094ff,#0093ff,#0092ff,#0091ff,#008eff,#008bff,#0087ff,#0083ff,#0080ff,#037aff,#0576ff,#0771ff,#096dff,#0c68ff,#0e64ff,#0f61ff,#115eff,#125bff,#1458ff,#1654ff,#1751ff,#194eff,#1a4cff,#1b4aff,#1c48ff,#1d46ff,#1e44ff,#1f42ff,#2040ff,#2040ff)"></div>
<div style="height:3px;background:linear-gradient(90deg,#2732ff,#2437ff,#213dff,#1f42ff,#1c48ff,#194dff,#1653ff,#1359ff,#115eff,#0e64ff,#0b69ff,#0674ff,#017eff,#008dff,#0097ff,#009bff,#009eff,#00a2ff,#00a5ff,#00a9ff,#00aaff,#00abff,#00acff,#00adff,#00aeff,#00aeff,#00adff,#00acff,#00abff,#00aaff,#00a6ff,#00a3ff,#009fff,#009bff,#0097ff,#008fff,#0087ff,#007fff,#037aff,#0575ff,#0870ff,#096dff,#0b6aff,#0d66ff,#0e63ff,#105fff,#125bff,#1458ff,#1556ff,#1654ff,#1752ff,#184fff,#194dff,#1a4bff,#1b49ff,#1c48ff)"></div>
<div style="height:3px;background:linear-gradient(90deg,#233aff,#2040ff,#1d46ff,#1a4cff,#1752ff,#1458ff,#115eff,#0e64ff,#0b6aff,#0870ff,#0576ff,#0082ff,#0093ff,#00a4ff,#00aeff,#00b2ff,#00b6ff,#00baff,#00bdff,#00c1ff,#00c3ff,#00c4ff,#00c5ff,#00c6ff,#00c7ff,#00c7ff,#00c6ff,#00c5ff,#00c4ff,#00c2ff,#00bfff,#00bbff,#00b6ff,#00b2ff,#00aeff,#00a5ff,#009dff,#0094ff,#008cff,#0083ff,#017dff,#0379ff,#0576ff,#0772ff,#096eff,#0b6aff,#0d66ff,#0f61ff,#105fff,#115dff,#125bff,#1359ff,#1556ff,#1654ff,#1752ff,#1751ff)"></div>
<div style="height:3px;background:linear-gradient(90deg,#1e43ff,#1b49ff,#184fff,#1556ff,#125cff,#0e63ff,#0b69ff,#086fff,#0576ff,#027cff,#0084ff,#0096ff,#00a8ff,#00baff,#00c6ff,#00c9ff,#00cdff,#00d1ff,#00d5ff,#00d9ff,#00dcff,#00ddff,#00deff,#00dfff,#00e0ff,#00e0ff,#00dfff,#00ddff,#00dcff,#00dbff,#00d7ff,#00d3ff,#00ceff,#00caff,#00c5ff,#00bcff,#00b2ff,#00a9ff,#00a0ff,#0096ff,#008eff,#0088ff,#0082ff,#017dff,#0379ff,#0575ff,#0771ff,#0a6cff,#0b6aff,#0c68ff,#0d66ff,#0e63ff,#0f61ff,#115eff,#125bff,#125bff)"></div>
<div style="height:3px;background:linear-gradient(90deg,#1a4cff,#1752ff,#1359ff,#105fff,#0d66ff,#096dff,#0674ff,#027bff,#0083ff,#008dff,#0097ff,#00aaff,#00beff,#00d1ff,#00ddff,#00e1ff,#00e5ff,#00e9ff,#00eeff,#00f2ff,#00f4ff,#00f5ff,#00f7ff,#00f8ff,#00f9ff,#00f9ff,#00f7ff,#00f6ff,#00f5ff,#00f4ff,#00efff,#00ebff,#00e6ff,#00e1ff,#00dcff,#00d2ff,#00c8ff,#00beff,#00b5ff,#00abff,#00a2ff,#009cff,#0096ff,#008fff,#0089ff,#0082ff,#027cff,#0478ff,#0575ff,#0673ff,#0870ff,#096eff,#0a6bff,#0c68ff,#0d65ff,#0e64ff)"></div>
<div style="height:3px;background:linear-gradient(90deg,#1555ff,#125cff,#0e63ff,#0b6aff,#0772ff,#0379ff,#0080ff,#008bff,#0096ff,#00a1ff,#00acff,#00c1ff,#00d5ff,#00eaff,#00f6ff,#00fbff,#00ffff,#00fffa,#00fff5,#00fff1,#00ffef,#00ffed,#00ffec,#00ffeb,#00ffe9,#00ffea,#00ffeb,#00ffec,#00ffee,#00ffef,#00fff4,#00fff9,#00fffe,#00fbff,#00f6ff,#00ebff,#00e1ff,#00d6ff,#00ccff,#00c1ff,#00b8ff,#00b1ff,#00aaff,#00a3ff,#009cff,#0094ff,#008dff,#0085ff,#0081ff,#017eff,#027bff,#0478ff,#0674ff,#0870ff,#0a6cff,#0a6bff)"></div>
<div style="height:3px;background:linear-gradient(90deg,#105fff,#0d66ff,#096eff,#0575ff,#017dff,#0088ff,#0093ff,#009fff,#00abff,#00b6ff,#00c2ff,#00d8ff,#00eeff,#00fffb,#00ffed,#00ffe8,#00ffe3,#00ffde,#00ffda,#00ffd5,#00ffd2,#00ffd1,#00ffcf,#00ffce,#00ffcd,#00ffcd,#00ffcf,#00ffd0,#00ffd1,#00ffd3,#00ffd8,#00ffdd,#00ffe2,#00ffe8,#00ffed,#00fff9,#00faff,#00eeff,#00e3ff,#00d7ff,#00cdff,#00c6ff,#00beff,#00b7ff,#00afff,#00a5ff,#009cff,#0092ff,#008dff,#0087ff,#0081ff,#017dff,#0379ff,#0575ff,#0771ff,#086fff)"></div>
<div style="height:3px;background:linear-gradient(90deg,#0b69ff,#0870ff,#0478ff,#0081ff,#008eff,#009aff,#00a6ff,#00b3ff,#00bfff,#00cbff,#00d8ff,#00efff,#00fff8,#00ffe1,#00ffd2,#00ffcd,#00ffc8,#00ffc3,#00ffbe,#00ffb9,#00ffb6,#00ffb4,#00ffb3,#00ffb1,#00ffb0,#00ffb1,#00ffb2,#00ffb4,#00ffb5,#00ffb7,#00ffbc,#00ffc1,#00ffc7,#00ffcd,#00ffd3,#00ffdf,#00ffeb,#00fff7,#00faff,#00ebff,#00dfff,#00d5ff,#00ccff,#00c2ff,#00b8ff,#00aeff,#00a4ff,#009bff,#0095ff,#008fff,#0089ff,#0083ff,#017dff,#0379ff,#0575ff,#0674ff)"></div>
<div style="height:3px;background:linear-gradient(90deg,#0870ff,#0477ff,#0080ff,#008dff,#009aff,#00a7ff,#00b4ff,#00c0ff,#00cdff,#00daff,#00e7ff,#00ffff,#00ffe7,#00ffcf,#00ffc0,#00ffba,#00ffb5,#00ffb0,#00ffaa,#00ffa5,#00ffa2,#00ffa1,#00ff9f,#00ff9d,#00ff9c,#00ff9d,#00ff9e,#00ffa0,#00ffa1,#00ffa3,#00ffa8,#00ffae,#00ffb4,#00ffba,#00ffc0,#00ffcd,#00ffdc,#00ffea,#00fff9,#00f6ff,#00e9ff,#00dfff,#00d5ff,#00cbff,#00c1ff,#00b7ff,#00adff,#00a3ff,#009dff,#0097ff,#0090ff,#0089ff,#0081ff,#027bff,#0575ff,#0673ff)"></div>
<div style="height:3px;background:linear-gradient(90deg,#0674ff,#027cff,#0088ff,#0095ff,#00a2ff,#00afff,#00bdff,#00caff,#00d7ff,#00e4ff,#00f2ff,#00fff4,#00ffdb,#00ffc2,#00ffb3,#00ffad,#00ffa8,#00ffa2,#00ff9d,#00ff98,#00ff95,#00ff93,#00ff91,#00ff90,#00ff8e,#00ff8f,#00ff91,#00ff92,#00ff94,#00ff95,#00ff9b,#00ffa1,#00ffa7,#00ffad,#00ffb3,#00ffc0,#00ffd0,#00ffdf,#00ffee,#00fffe,#00f3ff,#00e9ff,#00dfff,#00d5ff,#00caff,#00beff,#00b1ff,#00a4ff,#009bff,#0093ff,#008aff,#0082ff,#027bff,#0576ff,#0870ff,#086fff)"></div>
<div style="height:3px;background:linear-gradient(90deg,#0379ff,#0082ff,#0090ff,#009dff,#00abff,#00b8ff,#00c6ff,#00d3ff,#00e1ff,#00eeff,#00fcff,#00ffe9,#00ffcf,#00ffb6,#00ffa6,#00ffa1,#00ff9b,#00ff95,#00ff90,#00ff8a,#00ff87,#00ff85,#00ff84,#00ff82,#00ff80,#00ff81,#00ff83,#00ff85,#00ff86,#00ff88,#00ff8d,#00ff94,#00ff9a,#00ffa0,#00ffa7,#00ffb4,#00ffc4,#00ffd3,#00ffe4,#00fff7,#00f7ff,#00eaff,#00dcff,#00cfff,#00c2ff,#00b5ff,#00a8ff,#009cff,#0093ff,#008bff,#0083ff,#027cff,#0477ff,#0771ff,#0a6cff,#0b6aff)"></div>
<div style="height:3px;background:linear-gradient(90deg,#0478ff,#0081ff,#008eff,#009cff,#00a9ff,#00b7ff,#00c4ff,#00d2ff,#00dfff,#00edff,#00fbff,#00ffea,#00ffd1,#00ffb8,#00ffa8,#00ffa2,#00ff9d,#00ff97,#00ff91,#00ff8c,#00ff89,#00ff87,#00ff86,#00ff84,#00ff82,#00ff83,#00ff85,#00ff86,#00ff88,#00ff8a,#00ff8f,#00ff95,#00ff9c,#00ffa2,#00ffa8,#00ffb6,#00ffc9,#00ffdc,#00ffef,#00fdff,#00edff,#00e0ff,#00d3ff,#00c6ff,#00b9ff,#00acff,#00a0ff,#0094ff,#008bff,#0083ff,#027cff,#0477ff,#0771ff,#0a6bff,#0d65ff,#0e63ff)"></div>
<div style="height:3px;background:linear-gradient(90deg,#0674ff,#027cff,#0087ff,#0094ff,#00a1ff,#00aeff,#00bbff,#00c9ff,#00d6ff,#00e3ff,#00f0ff,#00fff5,#00ffdd,#00ffc4,#00ffb5,#00ffaf,#00ffaa,#00ffa4,#00ff9f,#00ff99,#00ff96,#00ff95,#00ff93,#00ff92,#00ff90,#00ff91,#00ff92,#00ff94,#00ff96,#00ff97,#00ff9d,#00ffa3,#00ffa9,#00ffaf,#00ffb5,#00ffc2,#00ffd5,#00ffe7,#00fffa,#00f2ff,#00e2ff,#00d6ff,#00c9ff,#00bcff,#00b0ff,#00a2ff,#0095ff,#0088ff,#007fff,#0478ff,#0772ff,#0a6cff,#0c67ff,#0f61ff,#125bff,#1359ff)"></div>
<div style="height:3px;background:linear-gradient(90deg,#086fff,#0477ff,#007fff,#008cff,#0099ff,#00a6ff,#00b2ff,#00bfff,#00ccff,#00d9ff,#00e6ff,#00feff,#00ffe8,#00ffd0,#00ffc1,#00ffbc,#00ffb7,#00ffb1,#00ffac,#00ffa7,#00ffa4,#00ffa2,#00ffa1,#00ff9f,#00ff9e,#00ff9e,#00ffa0,#00ffa2,#00ffa3,#00ffa5,#00ffaa,#00ffb0,#00ffb6,#00ffbc,#00ffc2,#00ffcf,#00ffe1,#00fff3,#00f9ff,#00e5ff,#00d4ff,#00c6ff,#00b8ff,#00abff,#009dff,#0090ff,#0083ff,#0379ff,#0673ff,#096eff,#0c68ff,#0f62ff,#125cff,#1457ff,#1751ff,#1850ff)"></div>
<div style="height:3px;background:linear-gradient(90deg,#0c67ff,#086fff,#0477ff,#007fff,#008bff,#0098ff,#00a4ff,#00b0ff,#00bcff,#00c9ff,#00d5ff,#00ecff,#00fffb,#00ffe4,#00ffd6,#00ffd1,#00ffcc,#00ffc7,#00ffc1,#00ffbc,#00ffba,#00ffb8,#00ffb7,#00ffb5,#00ffb4,#00ffb4,#00ffb6,#00ffb7,#00ffb9,#00ffba,#00ffbf,#00ffc5,#00ffcb,#00ffd1,#00ffd6,#00ffe2,#00fff6,#00f5ff,#00e2ff,#00cfff,#00bfff,#00b1ff,#00a4ff,#0097ff,#008aff,#017eff,#0576ff,#096eff,#0c68ff,#0e63ff,#115dff,#1458ff,#1752ff,#194dff,#1c48ff,#1c47ff)"></div>
<div style="height:3px;background:linear-gradient(90deg,#115eff,#0d65ff,#0a6cff,#0674ff,#027cff,#0085ff,#0091ff,#009cff,#00a8ff,#00b3ff,#00bfff,#00d5ff,#00eaff,#00fffe,#00fff0,#00ffec,#00ffe7,#00ffe2,#00ffdd,#00ffd9,#00ffd6,#00ffd5,#00ffd3,#00ffd2,#00ffd0,#00ffd1,#00ffd2,#00ffd4,#00ffd5,#00ffd7,#00ffdb,#00ffe1,#00ffe6,#00ffeb,#00fff1,#00fffc,#00efff,#00ddff,#00cbff,#00b9ff,#00a9ff,#009dff,#0090ff,#0084ff,#037aff,#0772ff,#0b6aff,#0e63ff,#115eff,#1359ff,#1653ff,#194eff,#1b49ff,#1d45ff,#2040ff,#213eff)"></div>
<div style="height:3px;background:linear-gradient(90deg,#1654ff,#135aff,#0f62ff,#0b69ff,#0870ff,#0477ff,#017eff,#0089ff,#0094ff,#009eff,#00a9ff,#00beff,#00d2ff,#00e6ff,#00f3ff,#00f7ff,#00fcff,#00fffe,#00fff9,#00fff5,#00fff2,#00fff1,#00fff0,#00ffee,#00ffed,#00ffee,#00ffef,#00fff0,#00fff2,#00fff3,#00fff7,#00fffc,#00fdff,#00f8ff,#00f3ff,#00e8ff,#00d6ff,#00c5ff,#00b4ff,#00a3ff,#0094ff,#0089ff,#017eff,#0576ff,#086fff,#0c67ff,#1060ff,#1359ff,#1654ff,#184fff,#1b4aff,#1d45ff,#1f41ff,#223cff,#2437ff,#2536ff)"></div>
<div style="height:3px;background:linear-gradient(90deg,#1b4aff,#1751ff,#1457ff,#115eff,#0d65ff,#0a6cff,#0772ff,#0379ff,#0080ff,#008aff,#0095ff,#00a8ff,#00bbff,#00ceff,#00daff,#00deff,#00e2ff,#00e6ff,#00eaff,#00efff,#00f1ff,#00f2ff,#00f3ff,#00f5ff,#00f6ff,#00f5ff,#00f4ff,#00f3ff,#00f2ff,#00f0ff,#00ecff,#00e7ff,#00e3ff,#00deff,#00d9ff,#00cfff,#00bfff,#00afff,#009fff,#008fff,#0082ff,#0379ff,#0772ff,#0a6bff,#0e64ff,#115dff,#1556ff,#184fff,#1b4aff,#1d46ff,#1f41ff,#223cff,#2438ff,#2633ff,#282fff,#292eff)"></div>
<div style="height:3px;background:linear-gradient(90deg,#1f42ff,#1c48ff,#194eff,#1654ff,#125bff,#0f61ff,#0c67ff,#096eff,#0674ff,#027bff,#0082ff,#0094ff,#00a5ff,#00b7ff,#00c2ff,#00c6ff,#00caff,#00ceff,#00d2ff,#00d6ff,#00d8ff,#00d9ff,#00dbff,#00dcff,#00ddff,#00dcff,#00dbff,#00daff,#00d9ff,#00d8ff,#00d4ff,#00cfff,#00cbff,#00c7ff,#00c2ff,#00b9ff,#00a9ff,#009aff,#008bff,#017dff,#0575ff,#096dff,#0d66ff,#105fff,#1359ff,#1752ff,#1a4bff,#1d45ff,#1f41ff,#223cff,#2438ff,#2633ff,#282fff,#2a2bff,#2c27ff,#2d25ff)"></div>
<div style="height:3px;background:linear-gradient(90deg,#2339ff,#203fff,#1d45ff,#1a4bff,#1751ff,#1457ff,#125cff,#0f62ff,#0c68ff,#096eff,#0674ff,#007fff,#0090ff,#00a1ff,#00abff,#00afff,#00b3ff,#00b6ff,#00baff,#00beff,#00c0ff,#00c1ff,#00c2ff,#00c3ff,#00c4ff,#00c4ff,#00c2ff,#00c1ff,#00c0ff,#00bfff,#00bcff,#00b7ff,#00b3ff,#00afff,#00abff,#00a2ff,#0094ff,#0085ff,#037aff,#0870ff,#0c68ff,#0f61ff,#125bff,#1654ff,#194eff,#1c47ff,#1f41ff,#223bff,#2437ff,#2633ff,#292eff,#2b29ff,#2e24ff,#301fff,#321bff,#3319ff)"></div>
<div style="height:3px;background:linear-gradient(90deg,#2731ff,#2536ff,#223bff,#1f41ff,#1d46ff,#1a4cff,#1751ff,#1457ff,#115dff,#0f62ff,#0c68ff,#0772ff,#027cff,#008aff,#0094ff,#0097ff,#009bff,#009eff,#00a2ff,#00a5ff,#00a7ff,#00a8ff,#00a9ff,#00aaff,#00abff,#00abff,#00aaff,#00a9ff,#00a8ff,#00a7ff,#00a3ff,#009fff,#009bff,#0098ff,#0094ff,#008cff,#017eff,#0575ff,#0a6cff,#0e63ff,#125cff,#1555ff,#184fff,#1b49ff,#1f42ff,#223bff,#2634ff,#292dff,#2c28ff,#2e23ff,#301fff,#331aff,#3516ff,#3711ff,#390dff,#3a0cff)"></div>
<div style="height:3px;background:linear-gradient(90deg,#2c28ff,#292dff,#2732ff,#2437ff,#223cff,#1f41ff,#1c47ff,#1a4cff,#1751ff,#1556ff,#125bff,#0d65ff,#096eff,#0478ff,#017eff,#0080ff,#0083ff,#0086ff,#008aff,#008dff,#008eff,#008fff,#0090ff,#0091ff,#0092ff,#0092ff,#0091ff,#0090ff,#008fff,#008eff,#008bff,#0087ff,#0084ff,#0080ff,#017eff,#0478ff,#0870ff,#0c67ff,#115dff,#1653ff,#1a4bff,#1e44ff,#213dff,#2536ff,#2830ff,#2b29ff,#2e23ff,#311dff,#3319ff,#3614ff,#3810ff,#3a0bff,#3c07ff,#3e04ff,#4000ff,#4100ff)"></div>
<div style="height:3px;background:linear-gradient(90deg,#321cff,#3020ff,#2e24ff,#2b29ff,#292dff,#2732ff,#2536ff,#223bff,#203fff,#1e44ff,#1c48ff,#1751ff,#1359ff,#0f62ff,#0c67ff,#0b69ff,#0a6bff,#096dff,#096eff,#0870ff,#0771ff,#0772ff,#0772ff,#0673ff,#0673ff,#0673ff,#0673ff,#0772ff,#0772ff,#0771ff,#086fff,#096dff,#0a6bff,#0b69ff,#0c67ff,#0f62ff,#1359ff,#1850ff,#1c47ff,#213eff,#2437ff,#2830ff,#2b2aff,#2e24ff,#311eff,#3418ff,#3613ff,#390eff,#3b0aff,#3d06ff,#3f02ff,#4300ff,#4800ff,#4d00ff,#5200ff,#5400ff)"></div>
<div style="height:3px;background:linear-gradient(90deg,#390eff,#3711ff,#3515ff,#3319ff,#311dff,#2f21ff,#2d25ff,#2c28ff,#2a2cff,#2830ff,#2634ff,#223bff,#1f42ff,#1b49ff,#194eff,#1850ff,#1751ff,#1653ff,#1654ff,#1556ff,#1457ff,#1457ff,#1458ff,#1458ff,#1359ff,#1458ff,#1458ff,#1457ff,#1457ff,#1556ff,#1555ff,#1653ff,#1751ff,#1850ff,#194eff,#1b4aff,#1f42ff,#2339ff,#2731ff,#2b2aff,#2e23ff,#311dff,#3418ff,#3613ff,#390dff,#3c08ff,#3e04ff,#4100ff,#4700ff,#4c00ff,#5100ff,#5700ff,#5b00ff,#6000ff,#6500ff,#6600ff)"></div>
<div style="height:3px;background:linear-gradient(90deg,#3f01ff,#3e04ff,#3c07ff,#3b0aff,#390dff,#3810ff,#3613ff,#3417ff,#331aff,#311dff,#3020ff,#2d26ff,#2a2cff,#2732ff,#2536ff,#2437ff,#2339ff,#233aff,#223bff,#213dff,#213dff,#213eff,#213eff,#213eff,#203fff,#203fff,#213eff,#213eff,#213dff,#213dff,#223cff,#233aff,#2339ff,#2437ff,#2536ff,#2633ff,#2a2cff,#2e24ff,#311dff,#3417ff,#3711ff,#3a0cff,#3c07ff,#3f02ff,#4400ff,#4b00ff,#5100ff,#5700ff,#5c00ff,#6100ff,#6500ff,#6800ff,#6b00ff,#6e00ff,#7000ff,#7100ff)"></div>
<div style="height:3px;background:linear-gradient(90deg,#5200ff,#4e00ff,#4a00ff,#4600ff,#4200ff,#3f01ff,#3e03ff,#3d06ff,#3b09ff,#3a0bff,#390eff,#3613ff,#3417ff,#321cff,#301fff,#3020ff,#2f21ff,#2f22ff,#2e24ff,#2d25ff,#2d25ff,#2d25ff,#2d26ff,#2d26ff,#2d26ff,#2d26ff,#2d26ff,#2d26ff,#2d25ff,#2d25ff,#2e24ff,#2e23ff,#2f22ff,#3020ff,#301fff,#311dff,#3516ff,#3810ff,#3b0aff,#3e04ff,#4200ff,#4900ff,#5000ff,#5600ff,#5a00ff,#5e00ff,#6200ff,#6600ff,#6900ff,#6c00ff,#6f00ff,#7100ff,#7400ff,#7700ff,#7900ff,#7a00ff)"></div>
<div style="height:3px;background:linear-gradient(90deg,#6400ff,#6200ff,#5f00ff,#5c00ff,#5900ff,#5600ff,#5300ff,#5000ff,#4d00ff,#4a00ff,#4700ff,#4200ff,#3e03ff,#3d06ff,#3b09ff,#3b09ff,#3b0aff,#3a0bff,#3a0cff,#390dff,#390dff,#390dff,#390eff,#390eff,#390eff,#390eff,#390eff,#390dff,#390dff,#390dff,#3a0cff,#3a0bff,#3b0aff,#3b09ff,#3c08ff,#3d06ff,#3f01ff,#4600ff,#4c00ff,#5100ff,#5600ff,#5a00ff,#5e00ff,#6200ff,#6600ff,#6a00ff,#6d00ff,#7100ff,#7300ff,#7600ff,#7800ff,#7b00ff,#7d00ff,#8000ff,#8200ff,#8300ff)"></div>
<div style="height:3px;background:linear-gradient(90deg,#7000ff,#6e00ff,#6b00ff,#6900ff,#6600ff,#6400ff,#6200ff,#5f00ff,#5d00ff,#5a00ff,#5800ff,#5300ff,#4f00ff,#4a00ff,#4800ff,#4700ff,#4600ff,#4500ff,#4400ff,#4300ff,#4200ff,#4200ff,#4100ff,#4100ff,#4100ff,#4100ff,#4100ff,#4200ff,#4200ff,#4200ff,#4300ff,#4400ff,#4500ff,#4600ff,#4800ff,#4a00ff,#4f00ff,#5500ff,#5a00ff,#5f00ff,#6300ff,#6700ff,#6a00ff,#6e00ff,#7100ff,#7500ff,#7800ff,#7b00ff,#7d00ff,#8000ff,#8200ff,#8400ff,#8700ff,#8700ff,#8700ff,#8700ff)"></div>
</div></div>
<div class="hm" style="left:1602.3px;top:590.2px;width:515.1px;height:404.8px"><div style="left:-6px;top:-6px;width:527.1px;filter:blur(1.5px)">
<div style="height:3px;background:linear-gradient(90deg,#8a00ff,#8a00ff,#8a00ff,#8a00ff,#8a00ff,#8a00ff,#8a00ff,#8a00ff,#8a00ff,#8a00ff,#8a00ff,#8a00ff,#8a00ff,#8a00ff,#8a00ff,#8a00ff,#8a00ff,#8a00ff,#8a00ff,#8a00ff,#8a00ff,#8a00ff,#8a00ff,#8a00ff,#8a00ff,#8a00ff,#8a00ff,#8a00ff,#8a00ff,#8a00ff,#8a00ff,#8a00ff,#8a00ff,#8a00ff,#8900ff,#8900ff,#8900ff,#8900ff,#8800ff,#8800ff,#8700ff,#8600ff,#8500ff,#8400ff,#8300ff,#8100ff,#8000ff,#7e00ff,#7d00ff,#7b00ff,#7900ff,#7800ff,#7700ff,#7600ff,#7600ff,#7500ff)"></div>
<div style="height:3px;background:linear-gradient(90deg,#8a00ff,#8a00ff,#8a00ff,#8a00ff,#8a00ff,#8a00ff,#8a00ff,#8a00ff,#8a00ff,#8a00ff,#8a00ff,#8a00ff,#8a00ff,#8a00ff,#8a00ff,#8a00ff,#8a00ff,#8a00ff,#8a00ff,#8a00ff,#8a00ff,#8a00ff,#8a00ff,#8a00ff,#8a00ff,#8a00ff,#8a00ff,#8a00ff,#8a00ff,#8a00ff,#8a00ff,#8a00ff,#8a00ff,#8a00ff,#8900ff,#8900ff,#8900ff,#8900ff,#8800ff,#8800ff,#8700ff,#8600ff,#8500ff,#8400ff,#8300ff,#8100ff,#7f00ff,#7e00ff,#7c00ff,#7a00ff,#7900ff,#7700ff,#7600ff,#7500ff,#7500ff,#7500ff)"></div>
<div style="height:3px;background:linear-gradient(90deg,#8a00ff,#8a00ff,#8a00ff,#8a00ff,#8a00ff,#8a00ff,#8a00ff,#8a00ff,#8a00ff,#8a00ff,#8a00ff,#8a00ff,#8a00ff,#8a00ff,#8a00ff,#8a00ff,#8a00ff,#8a00ff,#8a00ff,#8a00ff,#8a00ff,#8a00ff,#8a00ff,#8a00ff,#8a00ff,#8a00ff,#8a00ff,#8a00ff,#8a00ff,#8a00ff,#8a00ff,#8a00ff,#8a00ff,#8a00ff,#8900ff,#8900ff,#8900ff,#8900ff,#8800ff,#8800ff,#8700ff,#8600ff,#8500ff,#8400ff,#8200ff,#8100ff,#7f00ff,#7d00ff,#7b00ff,#7a00ff,#7800ff,#7600ff,#7500ff,#7400ff,#7400ff,#7400ff)"></div>
<div style="height:3px;background:linear-gradient(90deg,#8a00ff,#8a00ff,#8a00ff,#8a00ff,#8a00ff,#8a00ff,#8a00ff,#8a00ff,#8a00ff,#8a00ff,#8a00ff,#8a00ff,#8a00ff,#8a00ff,#8a00ff,#8a00ff,#8a00ff,#8a00ff,#8a00ff,#8a00ff,#8a00ff,#8a00ff,#8a00ff,#8a00ff,#8a00ff,#8a00ff,#8a00ff,#8a00ff,#8a00ff,#8a00ff,#8a00ff,#8a00ff,#8a00ff,#8a00ff,#8900ff,#8900ff,#8900ff,#8900ff,#8800ff,#8800ff,#8700ff,#8600ff,#8500ff,#8300ff,#8200ff,#8000ff,#7f00ff,#7d00ff,#7b00ff,#7900ff,#7700ff,#7600ff,#7400ff,#7400ff,#7300ff,#7300ff)"></div>
<div style="height:3px;background:linear-gradient(90deg,#8a00ff,#8a00ff,#8a00ff,#8a00ff,#8a00ff,#8a00ff,#8a00ff,#8a00ff,#8a00ff,#8a00ff,#8a00ff,#8a00ff,#8a00ff,#8a00ff,#8a00ff,#8a00ff,#8a00ff,#8a00ff,#8a00ff,#8a00ff,#8a00ff,#8a00ff,#8a00ff,#8a00ff,#8a00ff,#8a00ff,#8a00ff,#8a00ff,#8a00ff,#8a00ff,#8a00ff,#8a00ff,#8a00ff,#8a00ff,#8900ff,#8900ff,#8900ff,#8900ff,#8800ff,#8700ff,#8700ff,#8600ff,#8500ff,#8300ff,#8200ff,#8000ff,#7e00ff,#7c00ff,#7a00ff,#7800ff,#7700ff,#7500ff,#7400ff,#7300ff,#7200ff,#7200ff)"></div>
<div style="height:3px;background:linear-gradient(90deg,#8a00ff,#8a00ff,#8a00ff,#8a00ff,#8a00ff,#8a00ff,#8a00ff,#8a00ff,#8a00ff,#8a00ff,#8a00ff,#8a00ff,#8a00ff,#8a00ff,#8a00ff,#8a00ff,#8a00ff,#8a00ff,#8a00ff,#8a00ff,#8a00ff,#8a00ff,#8a00ff,#8a00ff,#8a00ff,#8a00ff,#8a00ff,#8a00ff,#8a00ff,#8a00ff,#8a00ff,#8a00ff,#8a00ff,#8a00ff,#8900ff,#8900ff,#8900ff,#8900ff,#8800ff,#8700ff,#8700ff,#8600ff,#8400ff,#8300ff,#8100ff,#8000ff,#7e00ff,#7c00ff,#7a00ff,#7800ff,#7600ff,#7400ff,#7300ff,#7200ff,#7100ff,#7100ff)"></div>
<div style="height:3px;background:linear-gradient(90deg,#8a00ff,#8a00ff,#8a00ff,#8a00ff,#8a00ff,#8a00ff,#8a00ff,#8a00ff,#8a00ff,#8a00ff,#8a00ff,#8a00ff,#8a00ff,#8a00ff,#8a00ff,#8a00ff,#8a00ff,#8a00ff,#8a00ff,#8a00ff,#8a00ff,#8a00ff,#8a00ff,#8a00ff,#8a00ff,#8a00ff,#8a00ff,#8a00ff,#8a00ff,#8a00ff,#8a00ff,#8a00ff,#8a00ff,#8a00ff,#8900ff,#8900ff,#8900ff,#8800ff,#8800ff,#8700ff,#8600ff,#8500ff,#8400ff,#8300ff,#8100ff,#7f00ff,#7d00ff,#7b00ff,#7900ff,#7700ff,#7500ff,#7300ff,#7200ff,#7100ff,#7000ff,#7000ff)"></div>
<div style="height:3px;background:linear-gradient(90deg,#8a00ff,#8a00ff,#8a00ff,#8a00ff,#8a00ff,#8a00ff,#8a00ff,#8a00ff,#8a00ff,#8a00ff,#8a00ff,#8a00ff,#8a00ff,#8a00ff,#8a00ff,#8a00ff,#8a00ff,#8a00ff,#8a00ff,#8a00ff,#8a00ff,#8a00ff,#8a00ff,#8a00ff,#8a00ff,#8a00ff,#8a00ff,#8a00ff,#8a00ff,#8a00ff,#8a00ff,#8a00ff,#8a00ff,#8a00ff,#8900ff,#8900ff,#8900ff,#8800ff,#8800ff,#8700ff,#8600ff,#8500ff,#8400ff,#8200ff,#8100ff,#7f00ff,#7d00ff,#7b00ff,#7800ff,#7600ff,#7400ff,#7300ff,#7100ff,#7000ff,#6f00ff,#6f00ff)"></div>
<div style="height:3px;background:linear-gradient(90deg,#8a00ff,#8a00ff,#8a00ff,#8a00ff,#8a00ff,#8a00ff,#8a00ff,#8a00ff,#8a00ff,#8a00ff,#8a00ff,#8a00ff,#8a00ff,#8a00ff,#8a00ff,#8a00ff,#8a00ff,#8a00ff,#8a00ff,#8a00ff,#8a00ff,#8a00ff,#8a00ff,#8a00ff,#8a00ff,#8a00ff,#8a00ff,#8a00ff,#8a00ff,#8a00ff,#8a00ff,#8a00ff,#8a00ff,#8a00ff,#8900ff,#8900ff,#8900ff,#8800ff,#8800ff,#8700ff,#8600ff,#8500ff,#8400ff,#8200ff,#8000ff,#7e00ff,#7c00ff,#7a00ff,#7800ff,#7600ff,#7400ff,#7200ff,#7000ff,#6f00ff,#6e00ff,#6e00ff)"></div>
<div style="height:3px;background:linear-gradient(90deg,#8a00ff,#8a00ff,#8a00ff,#8a00ff,#8a00ff,#8a00ff,#8a00ff,#8a00ff,#8a00ff,#8a00ff,#8a00ff,#8a00ff,#8a00ff,#8a00ff,#8a00ff,#8a00ff,#8a00ff,#8a00ff,#8a00ff,#8a00ff,#8a00ff,#8a00ff,#8a00ff,#8a00ff,#8a00ff,#8a00ff,#8a00ff,#8a00ff,#8a00ff,#8a00ff,#8a00ff,#8a00ff,#8a00ff,#8a00ff,#8900ff,#8900ff,#8900ff,#8800ff,#8800ff,#8700ff,#8600ff,#8500ff,#8400ff,#8200ff,#8000ff,#7e00ff,#7c00ff,#7a00ff,#7700ff,#7500ff,#7300ff,#7100ff,#6f00ff,#6e00ff,#6e00ff,#6d00ff)"></div>
<div style="height:3px;background:linear-gradient(90deg,#8a00ff,#8a00ff,#8a00ff,#8a00ff,#8a00ff,#8a00ff,#8a00ff,#8a00ff,#8a00ff,#8a00ff,#8a00ff,#8a00ff,#8a00ff,#8a00ff,#8a00ff,#8a00ff,#8a00ff,#8a00ff,#8a00ff,#8a00ff,#8a00ff,#8a00ff,#8a00ff,#8a00ff,#8a00ff,#8a00ff,#8a00ff,#8a00ff,#8a00ff,#8a00ff,#8a00ff,#8a00ff,#8a00ff,#8900ff,#8900ff,#8900ff,#8900ff,#8800ff,#8800ff,#8700ff,#8600ff,#8500ff,#8300ff,#8200ff,#8000ff,#7e00ff,#7b00ff,#7900ff,#7700ff,#7400ff,#7200ff,#7000ff,#6e00ff,#6d00ff,#6d00ff,#6c00ff)"></div>
<div style="height:3px;background:linear-gradient(90deg,#8a00ff,#8a00ff,#8a00ff,#8a00ff,#8a00ff,#8a00ff,#8a00ff,#8a00ff,#8a00ff,#8a00ff,#8a00ff,#8a00ff,#8a00ff,#8a00ff,#8a00ff,#8a00ff,#8a00ff,#8a00ff,#8a00ff,#8a00ff,#8a00ff,#8a00ff,#8a00ff,#8a00ff,#8a00ff,#8a00ff,#8a00ff,#8a00ff,#8a00ff,#8a00ff,#8a00ff,#8a00ff,#8a00ff,#8900ff,#8900ff,#8900ff,#8900ff,#8800ff,#8800ff,#8700ff,#8600ff,#8500ff,#8300ff,#8100ff,#7f00ff,#7d00ff,#7b00ff,#7800ff,#7600ff,#7400ff,#7100ff,#6f00ff,#6e00ff,#6c00ff,#6c00ff,#6c00ff)"></div>
<div style="height:3px;background:linear-gradient(90deg,#8a00ff,#8a00ff,#8a00ff,#8a00ff,#8a00ff,#8a00ff,#8a00ff,#8a00ff,#8a00ff,#8a00ff,#8a00ff,#8a00ff,#8a00ff,#8a00ff,#8a00ff,#8a00ff,#8a00ff,#8a00ff,#8a00ff,#8a00ff,#8a00ff,#8a00ff,#8a00ff,#8a00ff,#8a00ff,#8a00ff,#8a00ff,#8a00ff,#8a00ff,#8a00ff,#8a00ff,#8a00ff,#8a00ff,#8900ff,#8900ff,#8900ff,#8900ff,#8800ff,#8800ff,#8700ff,#8600ff,#8400ff,#8300ff,#8100ff,#7f00ff,#7d00ff,#7a00ff,#7800ff,#7500ff,#7300ff,#7100ff,#6e00ff,#6d00ff,#6b00ff,#6b00ff,#6b00ff)"></div>
<div style="height:3px;background:linear-gradient(90deg,#8a00ff,#8a00ff,#8a00ff,#8a00ff,#8a00ff,#8a00ff,#8a00ff,#8a00ff,#8a00ff,#8a00ff,#8a00ff,#8a00ff,#8a00ff,#8a00ff,#8a00ff,#8a00ff,#8a00ff,#8a00ff,#8a00ff,#8a00ff,#8a00ff,#8a00ff,#8a00ff,#8a00ff,#8a00ff,#8a00ff,#8a00ff,#8a00ff,#8a00ff,#8a00ff,#8a00ff,#8a00ff,#8a00ff,#8900ff,#8900ff,#8900ff,#8900ff,#8800ff,#8700ff,#8700ff,#8600ff,#8400ff,#8300ff,#8100ff,#7f00ff,#7d00ff,#7a00ff,#7700ff,#7500ff,#7200ff,#7000ff,#6e00ff,#6c00ff,#6b00ff,#6a00ff,#6a00ff)"></div>
<div style="height:3px;background:linear-gradient(90deg,#8a00ff,#8a00ff,#8a00ff,#8a00ff,#8a00ff,#8a00ff,#8a00ff,#8a00ff,#8a00ff,#8a00ff,#8a00ff,#8a00ff,#8a00ff,#8a00ff,#8a00ff,#8a00ff,#8a00ff,#8a00ff,#8a00ff,#8a00ff,#8a00ff,#8a00ff,#8a00ff,#8a00ff,#8a00ff,#8a00ff,#8a00ff,#8a00ff,#8a00ff,#8a00ff,#8a00ff,#8a00ff,#8a00ff,#8900ff,#8900ff,#8900ff,#8900ff,#8800ff,#8700ff,#8600ff,#8500ff,#8400ff,#8200ff,#8100ff,#7e00ff,#7c00ff,#7a00ff,#7700ff,#7400ff,#7200ff,#6f00ff,#6d00ff,#6b00ff,#6a00ff,#6900ff,#6900ff)"></div>
<div style="height:3px;background:linear-gradient(90deg,#8a00ff,#8a00ff,#8a00ff,#8a00ff,#8a00ff,#8a00ff,#8a00ff,#8a00ff,#8a00ff,#8a00ff,#8a00ff,#8a00ff,#8a00ff,#8a00ff,#8a00ff,#8a00ff,#8a00ff,#8a00ff,#8a00ff,#8a00ff,#8a00ff,#8a00ff,#8a00ff,#8a00ff,#8a00ff,#8a00ff,#8a00ff,#8a00ff,#8a00ff,#8a00ff,#8a00ff,#8a00ff,#8a00ff,#8900ff,#8900ff,#8900ff,#8900ff,#8800ff,#8700ff,#8600ff,#8500ff,#8400ff,#8200ff,#8000ff,#7e00ff,#7c00ff,#7900ff,#7600ff,#7400ff,#7100ff,#6e00ff,#6c00ff,#6a00ff,#6900ff,#6800ff,#6800ff)"></div>
<div style="height:3px;background:linear-gradient(90deg,#8a00ff,#8a00ff,#8a00ff,#8a00ff,#8a00ff,#8a00ff,#8a00ff,#8a00ff,#8a00ff,#8a00ff,#8a00ff,#8a00ff,#8a00ff,#8a00ff,#8a00ff,#8a00ff,#8a00ff,#8a00ff,#8a00ff,#8a00ff,#8a00ff,#8a00ff,#8a00ff,#8a00ff,#8a00ff,#8a00ff,#8a00ff,#8a00ff,#8a00ff,#8a00ff,#8a00ff,#8a00ff,#8a00ff,#8900ff,#8900ff,#8900ff,#8800ff,#8800ff,#8700ff,#8600ff,#8500ff,#8400ff,#8200ff,#8000ff,#7e00ff,#7b00ff,#7900ff,#7600ff,#7300ff,#7000ff,#6e00ff,#6b00ff,#6900ff,#6800ff,#6700ff,#6700ff)"></div>
<div style="height:3px;background:linear-gradient(90deg,#8a00ff,#8a00ff,#8a00ff,#8a00ff,#8a00ff,#8a00ff,#8a00ff,#8a00ff,#8a00ff,#8a00ff,#8a00ff,#8a00ff,#8a00ff,#8a00ff,#8a00ff,#8a00ff,#8a00ff,#8a00ff,#8a00ff,#8a00ff,#8a00ff,#8a00ff,#8a00ff,#8a00ff,#8a00ff,#8a00ff,#8a00ff,#8a00ff,#8a00ff,#8a00ff,#8a00ff,#8a00ff,#8a00ff,#8900ff,#8900ff,#8900ff,#8800ff,#8800ff,#8700ff,#8600ff,#8500ff,#8400ff,#8200ff,#8000ff,#7e00ff,#7b00ff,#7800ff,#7500ff,#7200ff,#7000ff,#6d00ff,#6a00ff,#6900ff,#6700ff,#6600ff,#6600ff)"></div>
<div style="height:3px;background:linear-gradient(90deg,#8a00ff,#8a00ff,#8a00ff,#8a00ff,#8a00ff,#8a00ff,#8a00ff,#8a00ff,#8a00ff,#8a00ff,#8a00ff,#8a00ff,#8a00ff,#8a00ff,#8a00ff,#8a00ff,#8a00ff,#8a00ff,#8a00ff,#8a00ff,#8a00ff,#8a00ff,#8a00ff,#8a00ff,#8a00ff,#8a00ff,#8a00ff,#8a00ff,#8a00ff,#8a00ff,#8a00ff,#8a00ff,#8a00ff,#8900ff,#8900ff,#8900ff,#8800ff,#8800ff,#8700ff,#8600ff,#8500ff,#8300ff,#8200ff,#8000ff,#7d00ff,#7b00ff,#7800ff,#7500ff,#7200ff,#6f00ff,#6c00ff,#6a00ff,#6800ff,#6600ff,#6500ff,#6500ff)"></div>
<div style="height:3px;background:linear-gradient(90deg,#8a00ff,#8a00ff,#8a00ff,#8a00ff,#8a00ff,#8a00ff,#8a00ff,#8a00ff,#8a00ff,#8a00ff,#8a00ff,#8a00ff,#8a00ff,#8a00ff,#8a00ff,#8a00ff,#8a00ff,#8a00ff,#8a00ff,#8a00ff,#8a00ff,#8a00ff,#8a00ff,#8a00ff,#8a00ff,#8a00ff,#8a00ff,#8a00ff,#8a00ff,#8a00ff,#8a00ff,#8a00ff,#8900ff,#8900ff,#8900ff,#8900ff,#8800ff,#8800ff,#8700ff,#8600ff,#8500ff,#8300ff,#8100ff,#7f00ff,#7d00ff,#7a00ff,#7700ff,#7400ff,#7100ff,#6e00ff,#6b00ff,#6900ff,#6700ff,#6500ff,#6500ff,#6400ff)"></div>
<div style="height:3px;background:linear-gradient(90deg,#8a00ff,#8a00ff,#8a00ff,#8a00ff,#8a00ff,#8a00ff,#8a00ff,#8a00ff,#8a00ff,#8a00ff,#8a00ff,#8a00ff,#8a00ff,#8a00ff,#8a00ff,#8a00ff,#8a00ff,#8a00ff,#8a00ff,#8a00ff,#8a00ff,#8a00ff,#8a00ff,#8a00ff,#8a00ff,#8a00ff,#8a00ff,#8a00ff,#8a00ff,#8a00ff,#8a00ff,#8a00ff,#8900ff,#8900ff,#8900ff,#8900ff,#8800ff,#8800ff,#8700ff,#8600ff,#8500ff,#8300ff,#8100ff,#7f00ff,#7d00ff,#7a00ff,#7700ff,#7400ff,#7100ff,#6e00ff,#6b00ff,#6800ff,#6600ff,#6500ff,#6400ff,#6400ff)"></div>
<div style="height:3px;background:linear-gradient(90deg,#8a00ff,#8a00ff,#8a00ff,#8a00ff,#8a00ff,#8a00ff,#8a00ff,#8a00ff,#8a00ff,#8a00ff,#8a00ff,#8a00ff,#8a00ff,#8a00ff,#8a00ff,#8a00ff,#8a00ff,#8a00ff,#8a00ff,#8a00ff,#8a00ff,#8a00ff,#8a00ff,#8a00ff,#8a00ff,#8a00ff,#8a00ff,#8a00ff,#8a00ff,#8a00ff,#8a00ff,#8a00ff,#8900ff,#8900ff,#8900ff,#8900ff,#8800ff,#8800ff,#8700ff,#8600ff,#8400ff,#8300ff,#8100ff,#7f00ff,#7c00ff,#7a00ff,#7700ff,#7300ff,#7000ff,#6d00ff,#6a00ff,#6800ff,#6500ff,#6400ff,#6300ff,#6300ff)"></div>
<div style="height:3px;background:linear-gradient(90deg,#8a00ff,#8a00ff,#8a00ff,#8a00ff,#8a00ff,#8a00ff,#8a00ff,#8a00ff,#8a00ff,#8a00ff,#8a00ff,#8a00ff,#8a00ff,#8a00ff,#8a00ff,#8a00ff,#8a00ff,#8a00ff,#8a00ff,#8a00ff,#8a00ff,#8a00ff,#8a00ff,#8a00ff,#8a00ff,#8a00ff,#8a00ff,#8a00ff,#8a00ff,#8a00ff,#8a00ff,#8900ff,#8900ff,#8900ff,#8900ff,#8900ff,#8800ff,#8800ff,#8700ff,#8600ff,#8400ff,#8300ff,#8100ff,#7f00ff,#7c00ff,#7900ff,#7600ff,#7300ff,#7000ff,#6c00ff,#6900ff,#6700ff,#6500ff,#6300ff,#6200ff,#6200ff)"></div>
<div style="height:3px;background:linear-gradient(90deg,#8a00ff,#8a00ff,#8a00ff,#8a00ff,#8a00ff,#8a00ff,#8a00ff,#8a00ff,#8a00ff,#8a00ff,#8a00ff,#8a00ff,#8a00ff,#8a00ff,#8a00ff,#8a00ff,#8a00ff,#8a00ff,#8a00ff,#8a00ff,#8a00ff,#8a00ff,#8a00ff,#8a00ff,#8a00ff,#8a00ff,#8a00ff,#8a00ff,#8a00ff,#8a00ff,#8900ff,#8900ff,#8900ff,#8900ff,#8900ff,#8900ff,#8800ff,#8700ff,#8700ff,#8600ff,#8400ff,#8300ff,#8100ff,#7e00ff,#7c00ff,#7900ff,#7600ff,#7200ff,#6f00ff,#6c00ff,#6900ff,#6600ff,#6400ff,#6200ff,#6100ff,#6100ff)"></div>
<div style="height:3px;background:linear-gradient(90deg,#8a00ff,#8a00ff,#8a00ff,#8a00ff,#8a00ff,#8a00ff,#8a00ff,#8a00ff,#8a00ff,#8a00ff,#8a00ff,#8a00ff,#8a00ff,#8a00ff,#8a00ff,#8a00ff,#8a00ff,#8a00ff,#8a00ff,#8a00ff,#8a00ff,#8a00ff,#8a00ff,#8a00ff,#8a00ff,#8a00ff,#8a00ff,#8a00ff,#8900ff,#8900ff,#8900ff,#8900ff,#8900ff,#8900ff,#8900ff,#8800ff,#8800ff,#8700ff,#8600ff,#8500ff,#8400ff,#8200ff,#8000ff,#7e00ff,#7b00ff,#7800ff,#7500ff,#7200ff,#6f00ff,#6b00ff,#6800ff,#6500ff,#6300ff,#6200ff,#6100ff,#6000ff)"></div>
<div style="height:3px;background:linear-gradient(90deg,#8a00ff,#8a00ff,#8a00ff,#8a00ff,#8a00ff,#8a00ff,#8a00ff,#8a00ff,#8900ff,#8900ff,#8900ff,#8900ff,#8900ff,#8900ff,#8900ff,#8900ff,#8900ff,#8900ff,#8900ff,#8900ff,#8900ff,#8900ff,#8900ff,#8900ff,#8900ff,#8900ff,#8900ff,#8900ff,#8900ff,#8900ff,#8900ff,#8900ff,#8900ff,#8900ff,#8900ff,#8800ff,#8800ff,#8700ff,#8600ff,#8500ff,#8400ff,#8200ff,#8000ff,#7e00ff,#7b00ff,#7800ff,#7500ff,#7100ff,#6e00ff,#6b00ff,#6800ff,#6500ff,#6300ff,#6100ff,#6000ff,#6000ff)"></div>
<div style="height:3px;background:linear-gradient(90deg,#8900ff,#8900ff,#8900ff,#8900ff,#8900ff,#8900ff,#8900ff,#8900ff,#8900ff,#8900ff,#8900ff,#8900ff,#8900ff,#8900ff,#8900ff,#8900ff,#8900ff,#8900ff,#8900ff,#8900ff,#8900ff,#8900ff,#8900ff,#8900ff,#8900ff,#8900ff,#8900ff,#8900ff,#8900ff,#8900ff,#8900ff,#8900ff,#8900ff,#8900ff,#8900ff,#8800ff,#8800ff,#8700ff,#8600ff,#8500ff,#8400ff,#8200ff,#8000ff,#7d00ff,#7b00ff,#7800ff,#7400ff,#7100ff,#6e00ff,#6a00ff,#6700ff,#6400ff,#6200ff,#6000ff,#5f00ff,#5f00ff)"></div>
<div style="height:3px;background:linear-gradient(90deg,#8900ff,#8900ff,#8900ff,#8900ff,#8900ff,#8900ff,#8900ff,#8900ff,#8900ff,#8900ff,#8900ff,#8900ff,#8900ff,#8900ff,#8900ff,#8900ff,#8900ff,#8900ff,#8900ff,#8900ff,#8900ff,#8900ff,#8900ff,#8900ff,#8900ff,#8900ff,#8900ff,#8900ff,#8900ff,#8900ff,#8900ff,#8900ff,#8900ff,#8900ff,#8800ff,#8800ff,#8700ff,#8700ff,#8600ff,#8500ff,#8300ff,#8200ff,#8000ff,#7d00ff,#7a00ff,#7700ff,#7400ff,#7100ff,#6d00ff,#6a00ff,#6600ff,#6300ff,#6100ff,#5f00ff,#5e00ff,#5e00ff)"></div>
<div style="height:3px;background:linear-gradient(90deg,#8900ff,#8900ff,#8900ff,#8900ff,#8900ff,#8900ff,#8900ff,#8900ff,#8900ff,#8900ff,#8900ff,#8900ff,#8900ff,#8900ff,#8900ff,#8900ff,#8900ff,#8900ff,#8900ff,#8900ff,#8900ff,#8900ff,#8900ff,#8900ff,#8900ff,#8900ff,#8900ff,#8900ff,#8900ff,#8900ff,#8900ff,#8900ff,#8900ff,#8800ff,#8800ff,#8800ff,#8700ff,#8700ff,#8600ff,#8500ff,#8300ff,#8100ff,#7f00ff,#7d00ff,#7a00ff,#7700ff,#7400ff,#7000ff,#6c00ff,#6900ff,#6600ff,#6300ff,#6000ff,#5f00ff,#5e00ff,#5e00ff)"></div>
<div style="height:3px;background:linear-gradient(90deg,#8900ff,#8900ff,#8900ff,#8900ff,#8900ff,#8900ff,#8900ff,#8900ff,#8900ff,#8900ff,#8900ff,#8900ff,#8900ff,#8900ff,#8900ff,#8900ff,#8900ff,#8900ff,#8900ff,#8900ff,#8900ff,#8900ff,#8900ff,#8900ff,#8900ff,#8900ff,#8900ff,#8900ff,#8900ff,#8900ff,#8900ff,#8800ff,#8800ff,#8800ff,#8800ff,#8700ff,#8700ff,#8600ff,#8500ff,#8400ff,#8300ff,#8100ff,#7f00ff,#7c00ff,#7a00ff,#7700ff,#7300ff,#7000ff,#6c00ff,#6800ff,#6500ff,#6200ff,#6000ff,#5e00ff,#5d00ff,#5d00ff)"></div>
<div style="height:3px;background:linear-gradient(90deg,#8900ff,#8900ff,#8900ff,#8900ff,#8900ff,#8900ff,#8900ff,#8900ff,#8900ff,#8900ff,#8900ff,#8800ff,#8800ff,#8800ff,#8800ff,#8800ff,#8800ff,#8800ff,#8800ff,#8800ff,#8800ff,#8800ff,#8800ff,#8800ff,#8800ff,#8800ff,#8800ff,#8800ff,#8800ff,#8800ff,#8800ff,#8800ff,#8800ff,#8800ff,#8800ff,#8700ff,#8700ff,#8600ff,#8500ff,#8400ff,#8200ff,#8100ff,#7f00ff,#7c00ff,#7900ff,#7600ff,#7300ff,#6f00ff,#6b00ff,#6800ff,#6400ff,#6200ff,#5f00ff,#5d00ff,#5c00ff,#5c00ff)"></div>
<div style="height:3px;background:linear-gradient(90deg,#8900ff,#8800ff,#8800ff,#8800ff,#8800ff,#8800ff,#8800ff,#8800ff,#8800ff,#8800ff,#8800ff,#8800ff,#8800ff,#8800ff,#8800ff,#8800ff,#8800ff,#8800ff,#8800ff,#8800ff,#8800ff,#8800ff,#8800ff,#8800ff,#8800ff,#8800ff,#8800ff,#8800ff,#8800ff,#8800ff,#8800ff,#8800ff,#8800ff,#8700ff,#8700ff,#8700ff,#8600ff,#8600ff,#8500ff,#8400ff,#8200ff,#8000ff,#7e00ff,#7c00ff,#7900ff,#7600ff,#7200ff,#6e00ff,#6b00ff,#6700ff,#6400ff,#6100ff,#5e00ff,#5d00ff,#5c00ff,#5b00ff)"></div>
<div style="height:3px;background:linear-gradient(90deg,#8800ff,#8800ff,#8800ff,#8800ff,#8800ff,#8800ff,#8800ff,#8800ff,#8800ff,#8800ff,#8800ff,#8800ff,#8800ff,#8800ff,#8800ff,#8800ff,#8800ff,#8800ff,#8800ff,#8700ff,#8700ff,#8700ff,#8700ff,#8700ff,#8700ff,#8700ff,#8700ff,#8700ff,#8700ff,#8700ff,#8700ff,#8700ff,#8700ff,#8700ff,#8700ff,#8600ff,#8600ff,#8500ff,#8400ff,#8300ff,#8200ff,#8000ff,#7e00ff,#7b00ff,#7800ff,#7500ff,#7200ff,#6e00ff,#6a00ff,#6700ff,#6300ff,#6000ff,#5e00ff,#5c00ff,#5b00ff,#5b00ff)"></div>
<div style="height:3px;background:linear-gradient(90deg,#8800ff,#8800ff,#8800ff,#8800ff,#8800ff,#8700ff,#8700ff,#8700ff,#8700ff,#8700ff,#8700ff,#8700ff,#8700ff,#8700ff,#8700ff,#8700ff,#8700ff,#8700ff,#8700ff,#8700ff,#8700ff,#8700ff,#8700ff,#8700ff,#8700ff,#8700ff,#8700ff,#8700ff,#8700ff,#8700ff,#8700ff,#8700ff,#8700ff,#8600ff,#8600ff,#8600ff,#8500ff,#8500ff,#8400ff,#8200ff,#8100ff,#7f00ff,#7d00ff,#7a00ff,#7800ff,#7400ff,#7100ff,#6d00ff,#6900ff,#6600ff,#6200ff,#5f00ff,#5d00ff,#5b00ff,#5a00ff,#5a00ff)"></div>
<div style="height:3px;background:linear-gradient(90deg,#8700ff,#8700ff,#8700ff,#8700ff,#8700ff,#8700ff,#8700ff,#8700ff,#8700ff,#8700ff,#8700ff,#8700ff,#8700ff,#8600ff,#8600ff,#8600ff,#8600ff,#8600ff,#8600ff,#8600ff,#8600ff,#8600ff,#8600ff,#8600ff,#8600ff,#8600ff,#8600ff,#8600ff,#8600ff,#8600ff,#8600ff,#8600ff,#8600ff,#8600ff,#8500ff,#8500ff,#8500ff,#8400ff,#8300ff,#8200ff,#8000ff,#7f00ff,#7c00ff,#7a00ff,#7700ff,#7400ff,#7000ff,#6c00ff,#6900ff,#6500ff,#6200ff,#5f00ff,#5c00ff,#5a00ff,#5900ff,#5900ff)"></div>
<div style="height:3px;background:linear-gradient(90deg,#8700ff,#8700ff,#8700ff,#8600ff,#8600ff,#8600ff,#8600ff,#8600ff,#8600ff,#8600ff,#8600ff,#8600ff,#8600ff,#8600ff,#8600ff,#8600ff,#8600ff,#8600ff,#8500ff,#8500ff,#8500ff,#8500ff,#8500ff,#8500ff,#8500ff,#8500ff,#8500ff,#8500ff,#8500ff,#8500ff,#8500ff,#8500ff,#8500ff,#8500ff,#8500ff,#8400ff,#8400ff,#8300ff,#8200ff,#8100ff,#8000ff,#7e00ff,#7c00ff,#7900ff,#7600ff,#7300ff,#6f00ff,#6c00ff,#6800ff,#6400ff,#6100ff,#5e00ff,#5b00ff,#5a00ff,#5900ff,#5900ff)"></div>
<div style="height:3px;background:linear-gradient(90deg,#8600ff,#8600ff,#8600ff,#8600ff,#8600ff,#8600ff,#8500ff,#8500ff,#8500ff,#8500ff,#8500ff,#8500ff,#8500ff,#8500ff,#8500ff,#8500ff,#8500ff,#8500ff,#8500ff,#8500ff,#8400ff,#8400ff,#8400ff,#8400ff,#8400ff,#8400ff,#8400ff,#8400ff,#8400ff,#8400ff,#8400ff,#8400ff,#8400ff,#8400ff,#8400ff,#8300ff,#8300ff,#8200ff,#8100ff,#8000ff,#7f00ff,#7d00ff,#7b00ff,#7800ff,#7500ff,#7200ff,#6f00ff,#6b00ff,#6700ff,#6300ff,#6000ff,#5d00ff,#5b00ff,#5900ff,#5800ff,#5800ff)"></div>
<div style="height:3px;background:linear-gradient(90deg,#8500ff,#8500ff,#8500ff,#8500ff,#8500ff,#8500ff,#8500ff,#8400ff,#8400ff,#8400ff,#8400ff,#8400ff,#8400ff,#8400ff,#8400ff,#8400ff,#8400ff,#8400ff,#8300ff,#8300ff,#8300ff,#8300ff,#8300ff,#8300ff,#8300ff,#8300ff,#8300ff,#8300ff,#8300ff,#8300ff,#8300ff,#8300ff,#8300ff,#8300ff,#8300ff,#8200ff,#8200ff,#8100ff,#8000ff,#7f00ff,#7e00ff,#7c00ff,#7a00ff,#7700ff,#7400ff,#7100ff,#6e00ff,#6a00ff,#6600ff,#6300ff,#5f00ff,#5c00ff,#5a00ff,#5800ff,#5700ff,#5700ff)"></div>
<div style="height:3px;background:linear-gradient(90deg,#8400ff,#8400ff,#8400ff,#8400ff,#8400ff,#8400ff,#8400ff,#8300ff,#8300ff,#8300ff,#8300ff,#8300ff,#8300ff,#8300ff,#8300ff,#8200ff,#8200ff,#8200ff,#8200ff,#8200ff,#8200ff,#8200ff,#8200ff,#8200ff,#8200ff,#8200ff,#8200ff,#8200ff,#8200ff,#8200ff,#8200ff,#8200ff,#8200ff,#8200ff,#8100ff,#8100ff,#8100ff,#8000ff,#7f00ff,#7e00ff,#7d00ff,#7b00ff,#7900ff,#7600ff,#7300ff,#7000ff,#6d00ff,#6900ff,#6500ff,#6200ff,#5e00ff,#5b00ff,#5900ff,#5700ff,#5600ff,#5600ff)"></div>
<div style="height:3px;background:linear-gradient(90deg,#8300ff,#8300ff,#8300ff,#8300ff,#8300ff,#8200ff,#8200ff,#8200ff,#8200ff,#8200ff,#8200ff,#8200ff,#8100ff,#8100ff,#8100ff,#8100ff,#8100ff,#8100ff,#8100ff,#8100ff,#8100ff,#8100ff,#8100ff,#8100ff,#8100ff,#8100ff,#8100ff,#8100ff,#8100ff,#8100ff,#8000ff,#8000ff,#8000ff,#8000ff,#8000ff,#8000ff,#7f00ff,#7f00ff,#7e00ff,#7d00ff,#7b00ff,#7a00ff,#7700ff,#7500ff,#7200ff,#6f00ff,#6b00ff,#6800ff,#6400ff,#6000ff,#5d00ff,#5a00ff,#5800ff,#5600ff,#5500ff,#5500ff)"></div>
<div style="height:3px;background:linear-gradient(90deg,#8200ff,#8200ff,#8200ff,#8200ff,#8100ff,#8100ff,#8100ff,#8100ff,#8100ff,#8000ff,#8000ff,#8000ff,#8000ff,#8000ff,#8000ff,#8000ff,#7f00ff,#7f00ff,#7f00ff,#7f00ff,#7f00ff,#7f00ff,#7f00ff,#7f00ff,#7f00ff,#7f00ff,#7f00ff,#7f00ff,#7f00ff,#7f00ff,#7f00ff,#7f00ff,#7f00ff,#7f00ff,#7e00ff,#7e00ff,#7e00ff,#7d00ff,#7c00ff,#7b00ff,#7a00ff,#7800ff,#7600ff,#7400ff,#7100ff,#6d00ff,#6a00ff,#6600ff,#6300ff,#5f00ff,#5c00ff,#5900ff,#5700ff,#5500ff,#5400ff,#5400ff)"></div>
<div style="height:3px;background:linear-gradient(90deg,#8100ff,#8100ff,#8000ff,#8000ff,#8000ff,#8000ff,#8000ff,#7f00ff,#7f00ff,#7f00ff,#7f00ff,#7e00ff,#7e00ff,#7e00ff,#7e00ff,#7e00ff,#7e00ff,#7e00ff,#7d00ff,#7d00ff,#7d00ff,#7d00ff,#7d00ff,#7d00ff,#7d00ff,#7d00ff,#7d00ff,#7d00ff,#7d00ff,#7d00ff,#7d00ff,#7d00ff,#7d00ff,#7d00ff,#7d00ff,#7c00ff,#7c00ff,#7b00ff,#7b00ff,#7a00ff,#7800ff,#7700ff,#7400ff,#7200ff,#6f00ff,#6c00ff,#6900ff,#6500ff,#6100ff,#5e00ff,#5b00ff,#5800ff,#5500ff,#5400ff,#5300ff,#5300ff)"></div>
<div style="height:3px;background:linear-gradient(90deg,#8000ff,#7f00ff,#7f00ff,#7f00ff,#7e00ff,#7e00ff,#7e00ff,#7e00ff,#7d00ff,#7d00ff,#7d00ff,#7d00ff,#7c00ff,#7c00ff,#7c00ff,#7c00ff,#7c00ff,#7c00ff,#7b00ff,#7b00ff,#7b00ff,#7b00ff,#7b00ff,#7b00ff,#7b00ff,#7b00ff,#7b00ff,#7b00ff,#7b00ff,#7b00ff,#7b00ff,#7b00ff,#7b00ff,#7b00ff,#7b00ff,#7b00ff,#7a00ff,#7a00ff,#7900ff,#7800ff,#7600ff,#7500ff,#7300ff,#7000ff,#6e00ff,#6a00ff,#6700ff,#6400ff,#6000ff,#5c00ff,#5900ff,#5600ff,#5400ff,#5300ff,#5200ff,#5200ff)"></div>
<div style="height:3px;background:linear-gradient(90deg,#7e00ff,#7e00ff,#7d00ff,#7d00ff,#7d00ff,#7c00ff,#7c00ff,#7c00ff,#7b00ff,#7b00ff,#7b00ff,#7b00ff,#7a00ff,#7a00ff,#7a00ff,#7a00ff,#7a00ff,#7900ff,#7900ff,#7900ff,#7900ff,#7900ff,#7900ff,#7900ff,#7900ff,#7900ff,#7900ff,#7900ff,#7900ff,#7900ff,#7900ff,#7900ff,#7900ff,#7900ff,#7900ff,#7800ff,#7800ff,#7800ff,#7700ff,#7600ff,#7400ff,#7300ff,#7100ff,#6e00ff,#6c00ff,#6900ff,#6500ff,#6200ff,#5e00ff,#5b00ff,#5800ff,#5500ff,#5300ff,#5100ff,#5000ff,#5100ff)"></div>
<div style="height:3px;background:linear-gradient(90deg,#7c00ff,#7c00ff,#7c00ff,#7b00ff,#7b00ff,#7a00ff,#7a00ff,#7a00ff,#7900ff,#7900ff,#7900ff,#7900ff,#7800ff,#7800ff,#7800ff,#7800ff,#7700ff,#7700ff,#7700ff,#7700ff,#7700ff,#7700ff,#7600ff,#7600ff,#7600ff,#7600ff,#7600ff,#7600ff,#7600ff,#7600ff,#7600ff,#7600ff,#7600ff,#7600ff,#7600ff,#7600ff,#7600ff,#7500ff,#7500ff,#7400ff,#7200ff,#7100ff,#6f00ff,#6d00ff,#6a00ff,#6700ff,#6400ff,#6000ff,#5d00ff,#5900ff,#5600ff,#5300ff,#5100ff,#5000ff,#4f00ff,#4f00ff)"></div>
<div style="height:3px;background:linear-gradient(90deg,#7b00ff,#7a00ff,#7a00ff,#7900ff,#7900ff,#7800ff,#7800ff,#7800ff,#7700ff,#7700ff,#7700ff,#7600ff,#7600ff,#7600ff,#7500ff,#7500ff,#7500ff,#7500ff,#7400ff,#7400ff,#7400ff,#7400ff,#7400ff,#7400ff,#7400ff,#7400ff,#7400ff,#7400ff,#7400ff,#7400ff,#7400ff,#7400ff,#7400ff,#7400ff,#7400ff,#7400ff,#7300ff,#7300ff,#7200ff,#7100ff,#7000ff,#6f00ff,#6d00ff,#6a00ff,#6800ff,#6500ff,#6200ff,#5e00ff,#5b00ff,#5800ff,#5500ff,#5200ff,#5000ff,#4e00ff,#4e00ff,#4e00ff)"></div>
<div style="height:3px;background:linear-gradient(90deg,#7900ff,#7800ff,#7800ff,#7700ff,#7700ff,#7600ff,#7600ff,#7500ff,#7500ff,#7500ff,#7400ff,#7400ff,#7400ff,#7300ff,#7300ff,#7300ff,#7200ff,#7200ff,#7200ff,#7200ff,#7100ff,#7100ff,#7100ff,#7100ff,#7100ff,#7100ff,#7100ff,#7100ff,#7100ff,#7100ff,#7100ff,#7100ff,#7100ff,#7100ff,#7100ff,#7100ff,#7100ff,#7000ff,#7000ff,#6f00ff,#6e00ff,#6c00ff,#6a00ff,#6800ff,#6600ff,#6300ff,#6000ff,#5c00ff,#5900ff,#5600ff,#5300ff,#5000ff,#4e00ff,#4d00ff,#4c00ff,#4d00ff)"></div>
<div style="height:3px;background:linear-gradient(90deg,#7700ff,#7600ff,#7600ff,#7500ff,#7400ff,#7400ff,#7300ff,#7300ff,#7300ff,#7200ff,#7200ff,#7200ff,#7100ff,#7100ff,#7100ff,#7000ff,#7000ff,#6f00ff,#6f00ff,#6f00ff,#6f00ff,#6e00ff,#6e00ff,#6e00ff,#6e00ff,#6e00ff,#6e00ff,#6e00ff,#6e00ff,#6e00ff,#6e00ff,#6e00ff,#6e00ff,#6e00ff,#6e00ff,#6e00ff,#6e00ff,#6e00ff,#6d00ff,#6c00ff,#6b00ff,#6a00ff,#6800ff,#6600ff,#6300ff,#6100ff,#5e00ff,#5a00ff,#5700ff,#5400ff,#5100ff,#4f00ff,#4d00ff,#4b00ff,#4b00ff,#4b00ff)"></div>
<div style="height:3px;background:linear-gradient(90deg,#7500ff,#7400ff,#7300ff,#7300ff,#7200ff,#7200ff,#7100ff,#7100ff,#7000ff,#7000ff,#6f00ff,#6f00ff,#6f00ff,#6f00ff,#6e00ff,#6e00ff,#6d00ff,#6d00ff,#6c00ff,#6c00ff,#6c00ff,#6b00ff,#6b00ff,#6b00ff,#6b00ff,#6b00ff,#6b00ff,#6b00ff,#6b00ff,#6b00ff,#6b00ff,#6b00ff,#6c00ff,#6c00ff,#6c00ff,#6c00ff,#6b00ff,#6b00ff,#6a00ff,#6a00ff,#6900ff,#6700ff,#6600ff,#6300ff,#6100ff,#5e00ff,#5b00ff,#5800ff,#5500ff,#5200ff,#4f00ff,#4d00ff,#4b00ff,#4a00ff,#4900ff,#4a00ff)"></div>
<div style="height:3px;background:linear-gradient(90deg,#7200ff,#7200ff,#7100ff,#7000ff,#7000ff,#6f00ff,#6f00ff,#6e00ff,#6e00ff,#6d00ff,#6d00ff,#6d00ff,#6d00ff,#6c00ff,#6c00ff,#6b00ff,#6b00ff,#6a00ff,#6a00ff,#6900ff,#6900ff,#6800ff,#6800ff,#6800ff,#6800ff,#6800ff,#6800ff,#6800ff,#6800ff,#6800ff,#6800ff,#6800ff,#6900ff,#6900ff,#6900ff,#6900ff,#6800ff,#6800ff,#6800ff,#6700ff,#6600ff,#6500ff,#6300ff,#6100ff,#5f00ff,#5c00ff,#5900ff,#5600ff,#5300ff,#5000ff,#4d00ff,#4b00ff,#4900ff,#4800ff,#4800ff,#4800ff)"></div>
<div style="height:3px;background:linear-gradient(90deg,#7000ff,#7000ff,#6f00ff,#6e00ff,#6d00ff,#6d00ff,#6c00ff,#6c00ff,#6b00ff,#6b00ff,#6b00ff,#6b00ff,#6b00ff,#6b00ff,#6a00ff,#6a00ff,#6900ff,#6800ff,#6700ff,#6600ff,#6600ff,#6500ff,#6500ff,#6500ff,#6500ff,#6500ff,#6500ff,#6500ff,#6500ff,#6500ff,#6500ff,#6500ff,#6600ff,#6600ff,#6600ff,#6600ff,#6600ff,#6500ff,#6500ff,#6400ff,#6300ff,#6200ff,#6000ff,#5f00ff,#5c00ff,#5a00ff,#5700ff,#5400ff,#5100ff,#4e00ff,#4c00ff,#4900ff,#4800ff,#4700ff,#4600ff,#4700ff)"></div>
<div style="height:3px;background:linear-gradient(90deg,#6e00ff,#6d00ff,#6d00ff,#6c00ff,#6b00ff,#6a00ff,#6a00ff,#6900ff,#6900ff,#6900ff,#6900ff,#6900ff,#6a00ff,#6a00ff,#6900ff,#6800ff,#6700ff,#6600ff,#6400ff,#6400ff,#6300ff,#6200ff,#6200ff,#6200ff,#6200ff,#6200ff,#6200ff,#6200ff,#6200ff,#6200ff,#6200ff,#6200ff,#6300ff,#6300ff,#6300ff,#6300ff,#6300ff,#6300ff,#6200ff,#6200ff,#6100ff,#5f00ff,#5e00ff,#5c00ff,#5a00ff,#5800ff,#5500ff,#5200ff,#4f00ff,#4c00ff,#4a00ff,#4800ff,#4600ff,#4500ff,#4500ff,#4500ff)"></div>
<div style="height:3px;background:linear-gradient(90deg,#6c00ff,#6b00ff,#6a00ff,#6a00ff,#6900ff,#6800ff,#6700ff,#6700ff,#6700ff,#6700ff,#6800ff,#6800ff,#6900ff,#6900ff,#6800ff,#6700ff,#6600ff,#6400ff,#6200ff,#6100ff,#6000ff,#6000ff,#5f00ff,#5f00ff,#5f00ff,#5f00ff,#5f00ff,#5f00ff,#5f00ff,#5f00ff,#5f00ff,#5f00ff,#6000ff,#6000ff,#6000ff,#6000ff,#6000ff,#6000ff,#5f00ff,#5f00ff,#5e00ff,#5d00ff,#5c00ff,#5a00ff,#5800ff,#5500ff,#5300ff,#5000ff,#4d00ff,#4b00ff,#4800ff,#4600ff,#4500ff,#4400ff,#4400ff,#4400ff)"></div>
<div style="height:3px;background:linear-gradient(90deg,#6a00ff,#6900ff,#6800ff,#6700ff,#6700ff,#6600ff,#6500ff,#6500ff,#6500ff,#6600ff,#6700ff,#6800ff,#6900ff,#6900ff,#6900ff,#6700ff,#6500ff,#6200ff,#6000ff,#5f00ff,#5e00ff,#5d00ff,#5c00ff,#5c00ff,#5c00ff,#5c00ff,#5c00ff,#5c00ff,#5c00ff,#5c00ff,#5c00ff,#5d00ff,#5d00ff,#5d00ff,#5d00ff,#5d00ff,#5d00ff,#5d00ff,#5d00ff,#5c00ff,#5c00ff,#5b00ff,#5900ff,#5700ff,#5600ff,#5300ff,#5100ff,#4e00ff,#4b00ff,#4900ff,#4700ff,#4500ff,#4300ff,#4200ff,#4200ff,#4300ff)"></div>
<div style="height:3px;background:linear-gradient(90deg,#6800ff,#6700ff,#6600ff,#6500ff,#6400ff,#6400ff,#6300ff,#6300ff,#6300ff,#6400ff,#6600ff,#6800ff,#6a00ff,#6b00ff,#6a00ff,#6800ff,#6500ff,#6200ff,#5f00ff,#5d00ff,#5b00ff,#5a00ff,#5a00ff,#5900ff,#5900ff,#5900ff,#5900ff,#5900ff,#5900ff,#5a00ff,#5a00ff,#5a00ff,#5a00ff,#5a00ff,#5b00ff,#5b00ff,#5b00ff,#5b00ff,#5a00ff,#5a00ff,#5900ff,#5800ff,#5700ff,#5500ff,#5300ff,#5100ff,#4f00ff,#4c00ff,#4a00ff,#4700ff,#4500ff,#4300ff,#4200ff,#4100ff,#4100ff,#4200ff)"></div>
<div style="height:3px;background:linear-gradient(90deg,#6600ff,#6500ff,#6400ff,#6300ff,#6300ff,#6200ff,#6100ff,#6100ff,#6200ff,#6400ff,#6600ff,#6900ff,#6b00ff,#6c00ff,#6c00ff,#6900ff,#6500ff,#6100ff,#5e00ff,#5b00ff,#5900ff,#5800ff,#5700ff,#5700ff,#5700ff,#5700ff,#5700ff,#5700ff,#5700ff,#5700ff,#5700ff,#5700ff,#5800ff,#5800ff,#5800ff,#5800ff,#5800ff,#5800ff,#5800ff,#5800ff,#5700ff,#5600ff,#5500ff,#5300ff,#5200ff,#5000ff,#4d00ff,#4b00ff,#4800ff,#4600ff,#4400ff,#4200ff,#4100ff,#4000ff,#4000ff,#4100ff)"></div>
<div style="height:3px;background:linear-gradient(90deg,#6500ff,#6400ff,#6300ff,#6200ff,#6100ff,#6000ff,#6000ff,#6000ff,#6100ff,#6300ff,#6700ff,#6a00ff,#6d00ff,#6f00ff,#6e00ff,#6b00ff,#6600ff,#6100ff,#5d00ff,#5900ff,#5700ff,#5600ff,#5500ff,#5500ff,#5500ff,#5500ff,#5500ff,#5500ff,#5500ff,#5500ff,#5500ff,#5500ff,#5600ff,#5600ff,#5600ff,#5600ff,#5600ff,#5600ff,#5600ff,#5600ff,#5500ff,#5400ff,#5300ff,#5200ff,#5000ff,#4e00ff,#4c00ff,#4a00ff,#4700ff,#4500ff,#4300ff,#4100ff,#4000ff,#4000ff,#4000ff,#4000ff)"></div>
<div style="height:3px;background:linear-gradient(90deg,#6400ff,#6200ff,#6100ff,#6000ff,#5f00ff,#5f00ff,#5e00ff,#5f00ff,#6000ff,#6300ff,#6700ff,#6c00ff,#7000ff,#7200ff,#7100ff,#6d00ff,#6800ff,#6200ff,#5c00ff,#5800ff,#5600ff,#5400ff,#5300ff,#5300ff,#5300ff,#5300ff,#5300ff,#5300ff,#5300ff,#5300ff,#5300ff,#5300ff,#5400ff,#5400ff,#5400ff,#5400ff,#5500ff,#5500ff,#5400ff,#5400ff,#5400ff,#5300ff,#5200ff,#5000ff,#4f00ff,#4d00ff,#4b00ff,#4800ff,#4600ff,#4400ff,#4200ff,#4000ff,#4000ff,#3f01ff,#4000ff,#4000ff)"></div>
<div style="height:3px;background:linear-gradient(90deg,#6200ff,#6100ff,#6000ff,#5f00ff,#5e00ff,#5d00ff,#5d00ff,#5e00ff,#6000ff,#6300ff,#6800ff,#6d00ff,#7200ff,#7400ff,#7300ff,#6f00ff,#6900ff,#6200ff,#5c00ff,#5800ff,#5500ff,#5300ff,#5200ff,#5100ff,#5100ff,#5100ff,#5100ff,#5100ff,#5100ff,#5100ff,#5200ff,#5200ff,#5200ff,#5200ff,#5300ff,#5300ff,#5300ff,#5300ff,#5300ff,#5300ff,#5200ff,#5200ff,#5100ff,#4f00ff,#4e00ff,#4c00ff,#4a00ff,#4800ff,#4600ff,#4300ff,#4200ff,#4000ff,#4000ff,#3f01ff,#3f01ff,#4000ff)"></div>
<div style="height:3px;background:linear-gradient(90deg,#6200ff,#6000ff,#5f00ff,#5e00ff,#5d00ff,#5d00ff,#5c00ff,#5d00ff,#5f00ff,#6300ff,#6800ff,#6e00ff,#7300ff,#7600ff,#7500ff,#7100ff,#6a00ff,#6200ff,#5c00ff,#5700ff,#5400ff,#5200ff,#5100ff,#5000ff,#5000ff,#5000ff,#5000ff,#5000ff,#5000ff,#5000ff,#5000ff,#5100ff,#5100ff,#5100ff,#5200ff,#5200ff,#5200ff,#5200ff,#5200ff,#5200ff,#5100ff,#5100ff,#5000ff,#4f00ff,#4d00ff,#4b00ff,#4900ff,#4700ff,#4500ff,#4300ff,#4100ff,#4000ff,#3f01ff,#3f01ff,#3f01ff,#4000ff)"></div>
<div style="height:3px;background:linear-gradient(90deg,#6100ff,#6000ff,#5f00ff,#5e00ff,#5d00ff,#5c00ff,#5c00ff,#5d00ff,#5f00ff,#6300ff,#6800ff,#6f00ff,#7400ff,#7700ff,#7600ff,#7100ff,#6a00ff,#6200ff,#5c00ff,#5600ff,#5300ff,#5100ff,#5000ff,#4f00ff,#4f00ff,#4f00ff,#4f00ff,#4f00ff,#4f00ff,#5000ff,#5000ff,#5000ff,#5000ff,#5100ff,#5100ff,#5100ff,#5100ff,#5100ff,#5100ff,#5100ff,#5100ff,#5000ff,#4f00ff,#4e00ff,#4d00ff,#4b00ff,#4900ff,#4700ff,#4500ff,#4300ff,#4100ff,#4000ff,#4000ff,#3f01ff,#4000ff,#4000ff)"></div>
<div style="height:3px;background:linear-gradient(90deg,#6100ff,#6000ff,#5f00ff,#5d00ff,#5c00ff,#5c00ff,#5c00ff,#5c00ff,#5f00ff,#6300ff,#6800ff,#6e00ff,#7400ff,#7600ff,#7500ff,#7100ff,#6a00ff,#6200ff,#5b00ff,#5600ff,#5300ff,#5100ff,#5000ff,#4f00ff,#4f00ff,#4f00ff,#4f00ff,#4f00ff,#4f00ff,#4f00ff,#4f00ff,#5000ff,#5000ff,#5000ff,#5100ff,#5100ff,#5100ff,#5100ff,#5100ff,#5100ff,#5100ff,#5000ff,#4f00ff,#4e00ff,#4d00ff,#4b00ff,#4900ff,#4700ff,#4500ff,#4400ff,#4200ff,#4100ff,#4000ff,#4000ff,#4000ff,#4100ff)"></div>
<div style="height:3px;background:linear-gradient(90deg,#6100ff,#6000ff,#5f00ff,#5e00ff,#5d00ff,#5c00ff,#5c00ff,#5c00ff,#5e00ff,#6200ff,#6700ff,#6d00ff,#7200ff,#7500ff,#7400ff,#6f00ff,#6900ff,#6100ff,#5b00ff,#5600ff,#5300ff,#5100ff,#5000ff,#4f00ff,#4f00ff,#4f00ff,#4f00ff,#4f00ff,#4f00ff,#4f00ff,#5000ff,#5000ff,#5000ff,#5000ff,#5000ff,#5000ff,#5100ff,#5100ff,#5100ff,#5100ff,#5100ff,#5000ff,#5000ff,#4e00ff,#4d00ff,#4c00ff,#4a00ff,#4800ff,#4600ff,#4400ff,#4300ff,#4100ff,#4100ff,#4000ff,#4100ff,#4200ff)"></div>
<div style="height:3px;background:linear-gradient(90deg,#6100ff,#6000ff,#5f00ff,#5e00ff,#5d00ff,#5c00ff,#5c00ff,#5c00ff,#5e00ff,#6200ff,#6600ff,#6c00ff,#7000ff,#7200ff,#7100ff,#6d00ff,#6700ff,#6000ff,#5a00ff,#5600ff,#5300ff,#5100ff,#5000ff,#5000ff,#4f00ff,#4c00ff,#4900ff,#4600ff,#4300ff,#4100ff,#4000ff,#3f01ff,#3f01ff,#3f01ff,#3f01ff,#3f01ff,#3f01ff,#4000ff,#4200ff,#4300ff,#4600ff,#4800ff,#4b00ff,#4f00ff,#4e00ff,#4c00ff,#4b00ff,#4900ff,#4700ff,#4500ff,#4400ff,#4300ff,#4200ff,#4200ff,#4200ff,#4300ff)"></div>
<div style="height:3px;background:linear-gradient(90deg,#6200ff,#6100ff,#6000ff,#5f00ff,#5e00ff,#5d00ff,#5d00ff,#5d00ff,#5e00ff,#6100ff,#6500ff,#6a00ff,#6d00ff,#6f00ff,#6e00ff,#6b00ff,#6500ff,#5f00ff,#5a00ff,#5600ff,#5200ff,#4c00ff,#4600ff,#4200ff,#3f01ff,#3e04ff,#3d06ff,#3c08ff,#3b0aff,#3a0bff,#3a0cff,#390dff,#390dff,#390eff,#390eff,#390dff,#390dff,#3a0cff,#3a0bff,#3b0aff,#3c08ff,#3d06ff,#3e04ff,#3f02ff,#4100ff,#4500ff,#4900ff,#4a00ff,#4800ff,#4700ff,#4500ff,#4400ff,#4300ff,#4300ff,#4300ff,#4400ff)"></div>
<div style="height:3px;background:linear-gradient(90deg,#5700ff,#5700ff,#5700ff,#5800ff,#5900ff,#5a00ff,#5c00ff,#5e00ff,#5f00ff,#6100ff,#6400ff,#6800ff,#6b00ff,#6c00ff,#6b00ff,#6800ff,#6400ff,#5c00ff,#5100ff,#4800ff,#4100ff,#3e03ff,#3c07ff,#3b0aff,#390dff,#3810ff,#3712ff,#3614ff,#3516ff,#3417ff,#3418ff,#3319ff,#331aff,#331aff,#331aff,#331aff,#3319ff,#3418ff,#3417ff,#3516ff,#3614ff,#3712ff,#3810ff,#390eff,#3a0bff,#3c08ff,#3d05ff,#3f02ff,#4300ff,#4800ff,#4700ff,#4600ff,#4500ff,#4500ff,#4500ff,#4600ff)"></div>
<div style="height:3px;background:linear-gradient(90deg,#4b00ff,#4b00ff,#4b00ff,#4b00ff,#4c00ff,#4e00ff,#5000ff,#5200ff,#5600ff,#5a00ff,#6000ff,#6600ff,#6800ff,#6900ff,#6700ff,#5e00ff,#5400ff,#4a00ff,#4000ff,#3d06ff,#3b0aff,#380fff,#3712ff,#3516ff,#3319ff,#321bff,#311eff,#2e23ff,#2c27ff,#2b2aff,#292dff,#282fff,#2830ff,#2830ff,#2830ff,#2830ff,#292eff,#2a2cff,#2b2aff,#2c27ff,#2e23ff,#301fff,#321cff,#3319ff,#3516ff,#3613ff,#3810ff,#390dff,#3b09ff,#3d05ff,#3f01ff,#4500ff,#4700ff,#4700ff,#4700ff,#4800ff)"></div>
<div style="height:3px;background:linear-gradient(90deg,#3f02ff,#3f02ff,#3f02ff,#3f01ff,#3f01ff,#4000ff,#4200ff,#4500ff,#4900ff,#4d00ff,#5200ff,#5800ff,#5d00ff,#5c00ff,#5400ff,#4b00ff,#4200ff,#3d05ff,#3a0bff,#3711ff,#3516ff,#331aff,#311eff,#2d25ff,#2a2cff,#2732ff,#2438ff,#213dff,#1f41ff,#1e44ff,#1c47ff,#1b49ff,#1b4aff,#1a4bff,#1a4bff,#1b4aff,#1b49ff,#1c47ff,#1e44ff,#1f41ff,#213dff,#2438ff,#2633ff,#292dff,#2c27ff,#3020ff,#321bff,#3418ff,#3614ff,#3810ff,#3a0cff,#3c07ff,#3e03ff,#4300ff,#4900ff,#4a00ff)"></div>
<div style="height:3px;background:linear-gradient(90deg,#3a0cff,#3a0cff,#3a0cff,#3a0bff,#3b0aff,#3b09ff,#3c08ff,#3d06ff,#3e04ff,#3f01ff,#4400ff,#4900ff,#4e00ff,#4b00ff,#4200ff,#3e04ff,#3b0aff,#3711ff,#3516ff,#321cff,#2d25ff,#292eff,#2536ff,#213eff,#1d45ff,#1a4bff,#1751ff,#1556ff,#125bff,#115eff,#0f61ff,#0e63ff,#0d65ff,#0d66ff,#0d65ff,#0d65ff,#0e63ff,#0f61ff,#115eff,#125bff,#1556ff,#1752ff,#1a4cff,#1d46ff,#203fff,#2438ff,#2731ff,#2c28ff,#3020ff,#331aff,#3516ff,#3711ff,#3a0cff,#3c07ff,#3f02ff,#4400ff)"></div>
<div style="height:3px;background:linear-gradient(90deg,#3516ff,#3516ff,#3516ff,#3515ff,#3614ff,#3613ff,#3712ff,#3810ff,#390dff,#3a0bff,#3c07ff,#3e04ff,#4000ff,#3e04ff,#3b0aff,#3810ff,#3516ff,#321cff,#2c27ff,#2732ff,#223cff,#1d45ff,#194eff,#1556ff,#115eff,#0e64ff,#0b6aff,#0870ff,#0674ff,#0478ff,#027cff,#017eff,#007fff,#0080ff,#0080ff,#007fff,#017eff,#027bff,#0478ff,#0674ff,#0870ff,#0a6bff,#0d65ff,#105fff,#1458ff,#1850ff,#1c48ff,#2040ff,#2536ff,#292dff,#2e23ff,#321bff,#3516ff,#3711ff,#3a0cff,#3d06ff)"></div>
<div style="height:3px;background:linear-gradient(90deg,#2f21ff,#2f21ff,#2f21ff,#3020ff,#301fff,#311eff,#321cff,#331aff,#3418ff,#3515ff,#3711ff,#390eff,#3b0aff,#390eff,#3614ff,#331aff,#2d26ff,#2732ff,#213dff,#1c48ff,#1653ff,#115dff,#0d66ff,#096eff,#0576ff,#017dff,#0086ff,#008dff,#0093ff,#0099ff,#009dff,#00a0ff,#00a2ff,#00a3ff,#00a3ff,#00a2ff,#00a0ff,#009cff,#0098ff,#0093ff,#008dff,#0086ff,#017eff,#0477ff,#0870ff,#0c68ff,#105fff,#1556ff,#194dff,#1e43ff,#2438ff,#292dff,#2f22ff,#331aff,#3515ff,#380fff)"></div>
<div style="height:3px;background:linear-gradient(90deg,#2a2cff,#2a2cff,#2a2cff,#2a2bff,#2b2aff,#2b29ff,#2c27ff,#2e24ff,#2f22ff,#301fff,#321bff,#3418ff,#3614ff,#3418ff,#2f21ff,#292eff,#223bff,#1c47ff,#1653ff,#115eff,#0b69ff,#0673ff,#017dff,#0088ff,#0093ff,#009dff,#00a5ff,#00adff,#00b4ff,#00baff,#00beff,#00c2ff,#00c4ff,#00c5ff,#00c5ff,#00c4ff,#00c1ff,#00beff,#00b9ff,#00b4ff,#00aeff,#00a6ff,#009eff,#0095ff,#008bff,#007fff,#0576ff,#096dff,#0e63ff,#1458ff,#194dff,#1f42ff,#2536ff,#2b2aff,#311eff,#3418ff)"></div>
<div style="height:3px;background:linear-gradient(90deg,#2437ff,#2437ff,#2437ff,#2536ff,#2535ff,#2633ff,#2731ff,#282fff,#2a2cff,#2b29ff,#2d25ff,#2f22ff,#311eff,#2d26ff,#2634ff,#1f41ff,#184fff,#125bff,#0c68ff,#0673ff,#007fff,#008dff,#009aff,#00a6ff,#00b1ff,#00bcff,#00c5ff,#00cdff,#00d5ff,#00dbff,#00e0ff,#00e3ff,#00e6ff,#00e7ff,#00e7ff,#00e5ff,#00e3ff,#00dfff,#00daff,#00d4ff,#00ceff,#00c6ff,#00bdff,#00b3ff,#00a8ff,#009dff,#0091ff,#0084ff,#0478ff,#096dff,#0f61ff,#1556ff,#1b49ff,#213dff,#2830ff,#2e23ff)"></div>
<div style="height:3px;background:linear-gradient(90deg,#1f42ff,#1f42ff,#1f42ff,#1f41ff,#2040ff,#213eff,#223cff,#2339ff,#2536ff,#2633ff,#282fff,#2a2bff,#2b2aff,#2438ff,#1d46ff,#1654ff,#0f62ff,#086fff,#027cff,#008bff,#009aff,#00a9ff,#00b6ff,#00c3ff,#00cfff,#00daff,#00e4ff,#00edff,#00f5ff,#00fdff,#00fff9,#00fff4,#00fff0,#00ffef,#00ffef,#00fff1,#00fff5,#00fffa,#00fdff,#00f5ff,#00edff,#00e5ff,#00dbff,#00d1ff,#00c6ff,#00baff,#00adff,#009fff,#0091ff,#0082ff,#0575ff,#0b69ff,#125cff,#184fff,#1f42ff,#2634ff)"></div>
<div style="height:3px;background:linear-gradient(90deg,#194dff,#194dff,#194dff,#1a4cff,#1b4aff,#1c48ff,#1d46ff,#1e43ff,#2040ff,#223cff,#2438ff,#2634ff,#233aff,#1b49ff,#1457ff,#0d66ff,#0674ff,#0083ff,#0094ff,#00a4ff,#00b4ff,#00c3ff,#00d2ff,#00e0ff,#00ecff,#00f9ff,#00fff7,#00ffe9,#00ffde,#00ffd4,#00ffcc,#00ffc6,#00ffc2,#00ffc1,#00ffc1,#00ffc3,#00ffc7,#00ffcd,#00ffd5,#00ffde,#00ffe9,#00fff5,#00fbff,#00eeff,#00e2ff,#00d5ff,#00c8ff,#00b9ff,#00abff,#009bff,#008bff,#027bff,#096eff,#1060ff,#1752ff,#1e44ff)"></div>
<div style="height:3px;background:linear-gradient(90deg,#1457ff,#1457ff,#1556ff,#1555ff,#1654ff,#1752ff,#184fff,#1a4cff,#1b49ff,#1d45ff,#1f41ff,#223cff,#1b49ff,#1458ff,#0c67ff,#0576ff,#0087ff,#009aff,#00abff,#00bdff,#00cdff,#00ddff,#00edff,#00fdff,#00ffef,#00ffdd,#00ffcd,#00ffbf,#00ffb3,#00ffa8,#00ff9f,#00ff99,#00ff94,#00ff92,#00ff93,#00ff95,#00ff99,#00ffa0,#00ffa8,#00ffb3,#00ffbf,#00ffcc,#00ffdb,#00ffec,#00fffd,#00f0ff,#00e2ff,#00d3ff,#00c3ff,#00b3ff,#00a2ff,#0091ff,#017eff,#0870ff,#0f62ff,#1654ff)"></div>
<div style="height:3px;background:linear-gradient(90deg,#1060ff,#1060ff,#105fff,#115eff,#115dff,#125bff,#1458ff,#1555ff,#1751ff,#194dff,#1b49ff,#1c47ff,#1457ff,#0c67ff,#0576ff,#0089ff,#009cff,#00afff,#00c1ff,#00d3ff,#00e5ff,#00f6ff,#00fff2,#00ffdd,#00ffc9,#00ffb6,#00ffa5,#00ff96,#00ff88,#00ff77,#00ff69,#00ff5e,#00ff57,#00ff53,#00ff54,#00ff58,#00ff5f,#00ff6a,#00ff78,#00ff88,#00ff95,#00ffa4,#00ffb4,#00ffc6,#00ffd9,#00ffed,#00fcff,#00ebff,#00daff,#00c9ff,#00b7ff,#00a5ff,#0093ff,#0080ff,#0771ff,#0f62ff)"></div>
<div style="height:3px;background:linear-gradient(90deg,#0c68ff,#0c68ff,#0c67ff,#0d66ff,#0e64ff,#0f62ff,#105fff,#125cff,#1458ff,#1654ff,#184fff,#1653ff,#0e64ff,#0674ff,#0086ff,#009bff,#00afff,#00c2ff,#00d6ff,#00e9ff,#00fdff,#00ffe9,#00ffd1,#00ffbb,#00ffa5,#00ff91,#00ff7a,#00ff61,#00ff4a,#00ff36,#00ff26,#00ff1a,#00ff12,#00ff0e,#00ff0e,#00ff13,#00ff1b,#00ff28,#00ff37,#00ff4a,#00ff60,#00ff78,#00ff8f,#00ffa2,#00ffb6,#00ffcb,#00ffe2,#00fff9,#00f0ff,#00deff,#00cbff,#00b9ff,#00a6ff,#0092ff,#017eff,#086fff)"></div>
<div style="height:3px;background:linear-gradient(90deg,#096eff,#096eff,#096eff,#096dff,#0a6bff,#0c68ff,#0d65ff,#0f62ff,#115eff,#135aff,#1555ff,#115eff,#086fff,#0080ff,#0096ff,#00abff,#00c0ff,#00d4ff,#00e8ff,#00feff,#00ffe5,#00ffcb,#00ffb2,#00ff9a,#00ff82,#00ff61,#00ff42,#00ff26,#00ff0c,#0aff00,#1dff00,#2bff00,#35ff00,#39ff00,#39ff00,#33ff00,#29ff00,#1bff00,#09ff00,#00ff0d,#00ff25,#00ff40,#00ff5d,#00ff7c,#00ff95,#00ffac,#00ffc4,#00ffdc,#00fff6,#00f1ff,#00deff,#00caff,#00b6ff,#00a2ff,#008eff,#037aff)"></div>
<div style="height:3px;background:linear-gradient(90deg,#0673ff,#0673ff,#0673ff,#0771ff,#0870ff,#096dff,#0b6aff,#0c67ff,#0e63ff,#115eff,#1359ff,#0c68ff,#0379ff,#008eff,#00a4ff,#00baff,#00cfff,#00e4ff,#00faff,#00ffe8,#00ffcc,#00ffb1,#00ff96,#00ff78,#00ff52,#00ff2f,#00ff0d,#13ff00,#30ff00,#4aff00,#5fff00,#70ff00,#7aff00,#7eff00,#7eff00,#79ff00,#6eff00,#5dff00,#48ff00,#30ff00,#14ff00,#00ff0a,#00ff2b,#00ff4d,#00ff70,#00ff90,#00ffa9,#00ffc3,#00ffdd,#00fff8,#00eeff,#00daff,#00c5ff,#00b1ff,#009cff,#0087ff)"></div>
<div style="height:3px;background:linear-gradient(90deg,#0576ff,#0576ff,#0576ff,#0575ff,#0673ff,#0870ff,#096dff,#0b6aff,#0d65ff,#0f61ff,#115eff,#0870ff,#0083ff,#009aff,#00b0ff,#00c6ff,#00dcff,#00f2ff,#00fff0,#00ffd3,#00ffb6,#00ff99,#00ff79,#00ff50,#00ff28,#00ff00,#25ff00,#49ff00,#6aff00,#83ff00,#95ff00,#a2ff00,#acff00,#b0ff00,#afff00,#aaff00,#a0ff00,#92ff00,#81ff00,#69ff00,#49ff00,#28ff00,#04ff00,#00ff22,#00ff48,#00ff6f,#00ff91,#00ffac,#00ffc8,#00ffe4,#00feff,#00e7ff,#00d2ff,#00bdff,#00a8ff,#0092ff)"></div>
<div style="height:3px;background:linear-gradient(90deg,#0478ff,#0478ff,#0477ff,#0576ff,#0674ff,#0772ff,#086fff,#0a6bff,#0c67ff,#0f62ff,#0d65ff,#0477ff,#008cff,#00a3ff,#00baff,#00d0ff,#00e7ff,#00fffe,#00ffe0,#00ffc1,#00ffa3,#00ff85,#00ff59,#00ff2d,#00ff02,#28ff00,#52ff00,#79ff00,#94ff00,#acff00,#c0ff00,#d1ff00,#ddff00,#e3ff00,#e2ff00,#daff00,#ceff00,#bdff00,#a9ff00,#92ff00,#79ff00,#54ff00,#2dff00,#04ff00,#00ff25,#00ff4f,#00ff79,#00ff99,#00ffb6,#00ffd3,#00fff0,#00f2ff,#00ddff,#00c7ff,#00b1ff,#009cff)"></div>
<div style="height:3px;background:linear-gradient(90deg,#0477ff,#0477ff,#0477ff,#0576ff,#0674ff,#0771ff,#096eff,#0a6bff,#0d66ff,#0f62ff,#0b6aff,#027cff,#0093ff,#00aaff,#00c1ff,#00d8ff,#00efff,#00fff2,#00ffd3,#00ffb4,#00ff95,#00ff6e,#00ff40,#00ff12,#1cff00,#4aff00,#77ff00,#96ff00,#b4ff00,#d0ff00,#e9ff00,#f9ff00,#fcff00,#fdff00,#fdff00,#faff00,#f7ff00,#e5ff00,#ccff00,#b2ff00,#95ff00,#78ff00,#4eff00,#23ff00,#00ff09,#00ff35,#00ff61,#00ff8b,#00ffa8,#00ffc6,#00ffe4,#00fdff,#00e5ff,#00cfff,#00b9ff,#00a3ff)"></div>
<div style="height:3px;background:linear-gradient(90deg,#0575ff,#0575ff,#0575ff,#0673ff,#0772ff,#086fff,#0a6cff,#0c68ff,#0e64ff,#1060ff,#096dff,#007fff,#0098ff,#00afff,#00c6ff,#00deff,#00f5ff,#00ffea,#00ffca,#00ffaa,#00ff8b,#00ff5e,#00ff2e,#02ff00,#32ff00,#62ff00,#8bff00,#acff00,#cdff00,#ecff00,#fcff00,#fffc00,#fff800,#fff600,#fff700,#fffb00,#ffff00,#f9ff00,#e8ff00,#caff00,#abff00,#8bff00,#66ff00,#38ff00,#0bff00,#00ff23,#00ff50,#00ff7e,#00ff9f,#00ffbd,#00ffdb,#00fff9,#00eaff,#00d4ff,#00beff,#00a7ff)"></div>
<div style="height:3px;background:linear-gradient(90deg,#0771ff,#0771ff,#0771ff,#086fff,#096eff,#0a6bff,#0c68ff,#0d65ff,#0f61ff,#125cff,#086fff,#0082ff,#009aff,#00b1ff,#00c9ff,#00e0ff,#00f9ff,#00ffe5,#00ffc5,#00ffa5,#00ff85,#00ff55,#00ff25,#0cff00,#3dff00,#6fff00,#95ff00,#b8ff00,#dbff00,#faff00,#fffd00,#fff700,#fff100,#ffed00,#ffee00,#fff400,#fffa00,#fdff00,#f6ff00,#d7ff00,#b6ff00,#95ff00,#73ff00,#44ff00,#15ff00,#00ff1a,#00ff48,#00ff75,#00ff9a,#00ffb8,#00ffd7,#00fff5,#00edff,#00d7ff,#00c0ff,#00aaff)"></div>
<div style="height:3px;background:linear-gradient(90deg,#0a6bff,#0a6cff,#0a6bff,#0b6aff,#0c68ff,#0d66ff,#0e63ff,#105fff,#125bff,#125cff,#096eff,#0082ff,#009aff,#00b1ff,#00c9ff,#00e0ff,#00f9ff,#00ffe5,#00ffc5,#00ffa5,#00ff85,#00ff55,#00ff24,#0dff00,#3eff00,#70ff00,#96ff00,#b9ff00,#dcff00,#faff00,#fffd00,#fff600,#fff000,#ffec00,#ffed00,#fff300,#fffa00,#fdff00,#f7ff00,#d8ff00,#b7ff00,#96ff00,#73ff00,#45ff00,#16ff00,#00ff19,#00ff47,#00ff75,#00ff99,#00ffb8,#00ffd6,#00fff5,#00edff,#00d7ff,#00c1ff,#00aaff)"></div>
<div style="height:3px;background:linear-gradient(90deg,#0e64ff,#0e64ff,#0e64ff,#0e63ff,#0f61ff,#115eff,#125bff,#1458ff,#1654ff,#135aff,#0a6cff,#007fff,#0097ff,#00aeff,#00c6ff,#00ddff,#00f5ff,#00ffe9,#00ffc9,#00ffaa,#00ff8a,#00ff5c,#00ff2d,#03ff00,#34ff00,#64ff00,#8dff00,#aeff00,#cfff00,#efff00,#fdff00,#fffb00,#fff700,#fff500,#fff600,#fff900,#fffe00,#faff00,#ebff00,#ccff00,#adff00,#8dff00,#68ff00,#3aff00,#0cff00,#00ff21,#00ff4f,#00ff7c,#00ff9e,#00ffbc,#00ffda,#00fff9,#00ebff,#00d5ff,#00beff,#00a8ff)"></div>
<div style="height:3px;background:linear-gradient(90deg,#125cff,#125cff,#125bff,#135aff,#1458ff,#1556ff,#1653ff,#1850ff,#1a4cff,#1556ff,#0c68ff,#027bff,#0091ff,#00a9ff,#00c0ff,#00d8ff,#00efff,#00fff1,#00ffd2,#00ffb3,#00ff93,#00ff6c,#00ff3d,#00ff0f,#1fff00,#4dff00,#7bff00,#9aff00,#b8ff00,#d4ff00,#eeff00,#fbff00,#feff00,#ffff00,#feff00,#fcff00,#f8ff00,#e9ff00,#d0ff00,#b5ff00,#99ff00,#7bff00,#51ff00,#26ff00,#00ff06,#00ff32,#00ff5e,#00ff89,#00ffa7,#00ffc4,#00ffe2,#00feff,#00e6ff,#00d0ff,#00baff,#00a3ff)"></div>
<div style="height:3px;background:linear-gradient(90deg,#1752ff,#1752ff,#1751ff,#1850ff,#194eff,#1a4cff,#1b49ff,#1d46ff,#1f42ff,#1850ff,#0f62ff,#0575ff,#0089ff,#00a1ff,#00b8ff,#00cfff,#00e6ff,#00fffd,#00ffde,#00ffc0,#00ffa1,#00ff82,#00ff56,#00ff2a,#02ff00,#2dff00,#57ff00,#7eff00,#98ff00,#b1ff00,#c6ff00,#d7ff00,#e3ff00,#e9ff00,#e8ff00,#e1ff00,#d4ff00,#c2ff00,#aeff00,#96ff00,#7dff00,#59ff00,#31ff00,#08ff00,#00ff21,#00ff4b,#00ff75,#00ff97,#00ffb4,#00ffd1,#00ffee,#00f3ff,#00deff,#00c8ff,#00b2ff,#009dff)"></div>
<div style="height:3px;background:linear-gradient(90deg,#1c48ff,#1c48ff,#1c47ff,#1d45ff,#1e43ff,#1f41ff,#213eff,#233aff,#2437ff,#1c48ff,#135aff,#0a6cff,#017eff,#0095ff,#00adff,#00c4ff,#00dbff,#00f2ff,#00ffef,#00ffd1,#00ffb4,#00ff97,#00ff75,#00ff4b,#00ff23,#05ff00,#2bff00,#50ff00,#71ff00,#89ff00,#9bff00,#a9ff00,#b2ff00,#b7ff00,#b6ff00,#b0ff00,#a6ff00,#98ff00,#86ff00,#6fff00,#50ff00,#2dff00,#09ff00,#00ff1d,#00ff43,#00ff6a,#00ff8e,#00ffaa,#00ffc5,#00ffe1,#00fffe,#00e9ff,#00d4ff,#00beff,#00a9ff,#0094ff)"></div>
<div style="height:3px;background:linear-gradient(90deg,#213dff,#223cff,#223bff,#233aff,#2437ff,#2535ff,#2731ff,#292eff,#292dff,#213eff,#184fff,#0f61ff,#0673ff,#0087ff,#009eff,#00b6ff,#00cdff,#00e3ff,#00fbff,#00ffe6,#00ffca,#00ffae,#00ff93,#00ff73,#00ff4d,#00ff29,#00ff06,#1aff00,#38ff00,#52ff00,#68ff00,#79ff00,#81ff00,#84ff00,#84ff00,#7fff00,#76ff00,#65ff00,#50ff00,#37ff00,#1bff00,#00ff04,#00ff25,#00ff47,#00ff6b,#00ff8d,#00ffa6,#00ffc0,#00ffda,#00fff5,#00f0ff,#00dbff,#00c7ff,#00b2ff,#009eff,#0089ff)"></div>
<div style="height:3px;background:linear-gradient(90deg,#2731ff,#2731ff,#282fff,#292dff,#2a2bff,#2c27ff,#2e24ff,#3020ff,#2f21ff,#2731ff,#1f42ff,#1654ff,#0d66ff,#0478ff,#008dff,#00a4ff,#00bcff,#00d2ff,#00e8ff,#00fffe,#00ffe3,#00ffc9,#00ffaf,#00ff96,#00ff7c,#00ff5a,#00ff3b,#00ff1f,#00ff04,#12ff00,#25ff00,#34ff00,#3dff00,#42ff00,#41ff00,#3cff00,#32ff00,#23ff00,#11ff00,#00ff05,#00ff1e,#00ff39,#00ff57,#00ff76,#00ff92,#00ffa9,#00ffc1,#00ffd9,#00fff2,#00f3ff,#00e0ff,#00ccff,#00b8ff,#00a4ff,#0090ff,#027cff)"></div>
<div style="height:3px;background:linear-gradient(90deg,#2d26ff,#2d25ff,#2e23ff,#3020ff,#311dff,#3319ff,#3515ff,#3711ff,#3712ff,#2f22ff,#2633ff,#1e44ff,#1556ff,#0b69ff,#027bff,#0091ff,#00a8ff,#00beff,#00d4ff,#00e9ff,#00ffff,#00ffe6,#00ffce,#00ffb7,#00ffa1,#00ff8c,#00ff73,#00ff59,#00ff42,#00ff2e,#00ff1e,#00ff11,#00ff09,#00ff05,#00ff05,#00ff0a,#00ff13,#00ff1f,#00ff2f,#00ff42,#00ff59,#00ff71,#00ff8a,#00ff9d,#00ffb2,#00ffc8,#00ffde,#00fff5,#00f2ff,#00e0ff,#00ceff,#00bbff,#00a8ff,#0094ff,#0080ff,#0870ff)"></div>
<div style="height:3px;background:linear-gradient(90deg,#331aff,#3319ff,#3516ff,#3613ff,#3810ff,#3a0bff,#3d06ff,#3f02ff,#3e04ff,#3810ff,#2f21ff,#2732ff,#1d45ff,#1457ff,#0b6aff,#027cff,#0092ff,#00a9ff,#00beff,#00d3ff,#00e6ff,#00f8ff,#00ffef,#00ffd9,#00ffc5,#00ffb2,#00ffa0,#00ff91,#00ff81,#00ff6f,#00ff61,#00ff55,#00ff4e,#00ff4b,#00ff4b,#00ff4f,#00ff57,#00ff62,#00ff70,#00ff81,#00ff90,#00ff9f,#00ffb0,#00ffc1,#00ffd4,#00ffe9,#00fffe,#00edff,#00ddff,#00ccff,#00baff,#00a8ff,#0096ff,#0082ff,#0772ff,#0e63ff)"></div>
<div style="height:3px;background:linear-gradient(90deg,#380fff,#390dff,#3b0aff,#3d06ff,#3f02ff,#4500ff,#4d00ff,#5300ff,#4c00ff,#4300ff,#390dff,#311eff,#2731ff,#1e44ff,#1457ff,#0b6aff,#027cff,#0091ff,#00a7ff,#00bbff,#00cdff,#00dfff,#00efff,#00fffd,#00ffea,#00ffd8,#00ffc8,#00ffba,#00ffad,#00ffa2,#00ff9a,#00ff93,#00ff8f,#00ff8d,#00ff8d,#00ff8f,#00ff94,#00ff9a,#00ffa3,#00ffad,#00ffb9,#00ffc7,#00ffd6,#00ffe7,#00fff9,#00f3ff,#00e5ff,#00d6ff,#00c6ff,#00b5ff,#00a5ff,#0093ff,#0081ff,#0772ff,#0e64ff,#1555ff)"></div>
<div style="height:3px;background:linear-gradient(90deg,#3e04ff,#3f01ff,#4300ff,#4900ff,#5100ff,#5a00ff,#6400ff,#6500ff,#5f00ff,#5700ff,#4c00ff,#3b09ff,#321cff,#282fff,#1e43ff,#1457ff,#0b69ff,#027bff,#008eff,#00a2ff,#00b4ff,#00c5ff,#00d4ff,#00e2ff,#00f0ff,#00feff,#00fff1,#00ffe4,#00ffd9,#00ffcf,#00ffc7,#00ffc1,#00ffbd,#00ffbb,#00ffbb,#00ffbd,#00ffc1,#00ffc7,#00ffcf,#00ffd9,#00ffe4,#00fff0,#00fffe,#00f2ff,#00e6ff,#00d9ff,#00cbff,#00bdff,#00aeff,#009eff,#008eff,#017dff,#0870ff,#0f62ff,#1654ff,#1d46ff)"></div>
<div style="height:3px;background:linear-gradient(90deg,#4a00ff,#4e00ff,#5300ff,#5b00ff,#6400ff,#6e00ff,#7900ff,#7700ff,#7200ff,#6b00ff,#6000ff,#5200ff,#3d06ff,#331aff,#292eff,#1f42ff,#1555ff,#0c67ff,#0477ff,#0088ff,#009aff,#00aaff,#00b9ff,#00c6ff,#00d2ff,#00deff,#00e8ff,#00f1ff,#00faff,#00fffb,#00fff4,#00ffee,#00ffeb,#00ffe9,#00ffe9,#00ffeb,#00ffef,#00fff4,#00fffc,#00faff,#00f1ff,#00e9ff,#00dfff,#00d5ff,#00c9ff,#00bdff,#00b0ff,#00a3ff,#0094ff,#0085ff,#0477ff,#0a6bff,#115eff,#1751ff,#1e44ff,#2536ff)"></div>
<div style="height:3px;background:linear-gradient(90deg,#5800ff,#5c00ff,#6300ff,#6b00ff,#7500ff,#8000ff,#8900ff,#8800ff,#8400ff,#7e00ff,#7300ff,#6600ff,#5500ff,#3d05ff,#3319ff,#292eff,#1f41ff,#1752ff,#0e63ff,#0771ff,#017eff,#008eff,#009cff,#00a9ff,#00b5ff,#00bfff,#00c9ff,#00d1ff,#00d8ff,#00dfff,#00e4ff,#00e7ff,#00eaff,#00ebff,#00ebff,#00e9ff,#00e7ff,#00e3ff,#00deff,#00d8ff,#00d1ff,#00caff,#00c1ff,#00b7ff,#00acff,#00a1ff,#0094ff,#0088ff,#037aff,#086fff,#0e64ff,#1458ff,#1a4cff,#203fff,#2732ff,#2d25ff)"></div>
<div style="height:3px;background:linear-gradient(90deg,#6500ff,#6900ff,#7000ff,#7900ff,#8300ff,#8f00ff,#9600ff,#9600ff,#9400ff,#8e00ff,#8400ff,#7700ff,#6600ff,#5300ff,#3d05ff,#3319ff,#2a2cff,#213dff,#194dff,#125cff,#0b69ff,#0674ff,#007fff,#008bff,#0096ff,#00a0ff,#00a9ff,#00b1ff,#00b8ff,#00beff,#00c2ff,#00c6ff,#00c8ff,#00c9ff,#00c9ff,#00c8ff,#00c5ff,#00c2ff,#00bdff,#00b8ff,#00b1ff,#00aaff,#00a2ff,#0098ff,#008eff,#0083ff,#0379ff,#086fff,#0d65ff,#125bff,#1850ff,#1e44ff,#2339ff,#292dff,#3020ff,#3319ff)"></div>
<div style="height:3px;background:linear-gradient(90deg,#6b00ff,#6f00ff,#7400ff,#7b00ff,#8400ff,#8d00ff,#9600ff,#9600ff,#9600ff,#9600ff,#9200ff,#8500ff,#7400ff,#6100ff,#4d00ff,#3d05ff,#3417ff,#2b29ff,#2438ff,#1d46ff,#1752ff,#115eff,#0c68ff,#0771ff,#0379ff,#0080ff,#0089ff,#0091ff,#0097ff,#009dff,#00a1ff,#00a4ff,#00a6ff,#00a7ff,#00a7ff,#00a6ff,#00a4ff,#00a1ff,#009cff,#0097ff,#0091ff,#008aff,#0082ff,#037aff,#0673ff,#0a6bff,#0f62ff,#1359ff,#184fff,#1d45ff,#223bff,#2830ff,#2d25ff,#321bff,#3516ff,#3810ff)"></div>
<div style="height:3px;background:linear-gradient(90deg,#6900ff,#6c00ff,#7100ff,#7800ff,#8000ff,#8900ff,#9300ff,#9600ff,#9600ff,#9600ff,#9600ff,#9000ff,#7f00ff,#6d00ff,#5a00ff,#4700ff,#3c07ff,#3614ff,#2e23ff,#2830ff,#223cff,#1c47ff,#1850ff,#1359ff,#1060ff,#0c67ff,#096dff,#0673ff,#0478ff,#027cff,#007fff,#0082ff,#0084ff,#0085ff,#0085ff,#0084ff,#0081ff,#017eff,#027bff,#0478ff,#0673ff,#096eff,#0c68ff,#0f62ff,#125bff,#1653ff,#1a4bff,#1f42ff,#2339ff,#2830ff,#2d26ff,#321cff,#3417ff,#3712ff,#390dff,#3c07ff)"></div>
<div style="height:3px;background:linear-gradient(90deg,#6700ff,#6900ff,#6e00ff,#7400ff,#7c00ff,#8400ff,#8d00ff,#9400ff,#9600ff,#9600ff,#9600ff,#9500ff,#8800ff,#7700ff,#6400ff,#5200ff,#4200ff,#3b09ff,#3712ff,#331aff,#2d25ff,#282fff,#2438ff,#2040ff,#1c48ff,#194eff,#1654ff,#1359ff,#115eff,#0f62ff,#0e64ff,#0c67ff,#0c68ff,#0b69ff,#0b69ff,#0c68ff,#0d66ff,#0e64ff,#0f61ff,#115eff,#135aff,#1555ff,#184fff,#1b49ff,#1f42ff,#223bff,#2633ff,#2a2bff,#2e23ff,#321bff,#3417ff,#3712ff,#390eff,#3b09ff,#3e04ff,#4200ff)"></div>
<div style="height:3px;background:linear-gradient(90deg,#6400ff,#6700ff,#6a00ff,#7000ff,#7600ff,#7e00ff,#8500ff,#8c00ff,#9000ff,#9200ff,#9000ff,#8b00ff,#8300ff,#7a00ff,#6e00ff,#5d00ff,#4e00ff,#4000ff,#3c08ff,#380fff,#3515ff,#331aff,#3020ff,#2c28ff,#282fff,#2535ff,#223bff,#2040ff,#1e44ff,#1c47ff,#1b4aff,#1a4cff,#194eff,#194eff,#194eff,#194dff,#1a4cff,#1b4aff,#1c47ff,#1e44ff,#2040ff,#223bff,#2536ff,#2830ff,#2b2aff,#2e23ff,#311dff,#3319ff,#3515ff,#3711ff,#390dff,#3c08ff,#3e04ff,#4100ff,#4500ff,#4700ff)"></div>
<div style="height:3px;background:linear-gradient(90deg,#6300ff,#6400ff,#6700ff,#6c00ff,#7100ff,#7700ff,#7d00ff,#8200ff,#8600ff,#8700ff,#8500ff,#8100ff,#7a00ff,#7100ff,#6800ff,#5f00ff,#5700ff,#4d00ff,#4200ff,#3d05ff,#3b0aff,#380fff,#3613ff,#3417ff,#331aff,#311dff,#2f21ff,#2d26ff,#2b2aff,#292dff,#2830ff,#2732ff,#2633ff,#2634ff,#2634ff,#2633ff,#2732ff,#2830ff,#292dff,#2b2aff,#2d26ff,#2f22ff,#311dff,#321bff,#3418ff,#3515ff,#3711ff,#390eff,#3b0aff,#3d06ff,#3f02ff,#4100ff,#4200ff,#4300ff,#4400ff,#4600ff)"></div>
<div style="height:3px;background:linear-gradient(90deg,#6200ff,#6300ff,#6500ff,#6800ff,#6c00ff,#7000ff,#7500ff,#7900ff,#7b00ff,#7c00ff,#7a00ff,#7600ff,#7100ff,#6900ff,#6200ff,#5a00ff,#5300ff,#4d00ff,#4800ff,#4400ff,#4000ff,#3e04ff,#3c08ff,#3a0bff,#390eff,#3711ff,#3613ff,#3515ff,#3417ff,#3319ff,#331aff,#321bff,#321bff,#321bff,#321bff,#321bff,#331aff,#331aff,#3319ff,#3417ff,#3515ff,#3614ff,#3711ff,#380fff,#3a0cff,#3b09ff,#3d06ff,#3e03ff,#3f01ff,#3f01ff,#4000ff,#4100ff,#4200ff,#4300ff,#4500ff,#4600ff)"></div>
<div style="height:3px;background:linear-gradient(90deg,#6100ff,#6200ff,#6300ff,#6500ff,#6700ff,#6b00ff,#6e00ff,#7000ff,#7200ff,#7200ff,#7100ff,#6d00ff,#6800ff,#6300ff,#5c00ff,#5600ff,#5000ff,#4b00ff,#4700ff,#4400ff,#4100ff,#4000ff,#3f01ff,#3f02ff,#3e03ff,#3d05ff,#3c07ff,#3b09ff,#3a0bff,#3a0cff,#390eff,#390eff,#380fff,#380fff,#380fff,#380fff,#390eff,#390dff,#3a0cff,#3a0bff,#3b09ff,#3c08ff,#3d06ff,#3e03ff,#3f02ff,#3f02ff,#3f01ff,#3f01ff,#4000ff,#4000ff,#4100ff,#4200ff,#4300ff,#4400ff,#4600ff,#4700ff)"></div>
<div style="height:3px;background:linear-gradient(90deg,#6100ff,#6100ff,#6200ff,#6300ff,#6400ff,#6600ff,#6800ff,#6a00ff,#6b00ff,#6a00ff,#6900ff,#6600ff,#6200ff,#5d00ff,#5800ff,#5300ff,#4f00ff,#4b00ff,#4800ff,#4500ff,#4300ff,#4100ff,#4000ff,#3f01ff,#3f01ff,#3f02ff,#3f02ff,#3e03ff,#3e03ff,#3e03ff,#3e03ff,#3e04ff,#3e04ff,#3e04ff,#3e04ff,#3e04ff,#3e03ff,#3e03ff,#3e03ff,#3e03ff,#3f02ff,#3f02ff,#3f02ff,#3f01ff,#3f01ff,#3f01ff,#4000ff,#4000ff,#4100ff,#4200ff,#4300ff,#4400ff,#4500ff,#4600ff,#4800ff,#4900ff)"></div>
<div style="height:3px;background:linear-gradient(90deg,#6200ff,#6200ff,#6200ff,#6200ff,#6300ff,#6400ff,#6500ff,#6500ff,#6600ff,#6500ff,#6300ff,#6100ff,#5e00ff,#5a00ff,#5600ff,#5200ff,#4f00ff,#4c00ff,#4900ff,#4700ff,#4500ff,#4400ff,#4200ff,#4100ff,#4100ff,#4000ff,#4000ff,#3f01ff,#3f01ff,#3f01ff,#3f01ff,#3f02ff,#3f02ff,#3f02ff,#3f02ff,#3f02ff,#3f01ff,#3f01ff,#3f01ff,#3f01ff,#4000ff,#4000ff,#4000ff,#4100ff,#4100ff,#4200ff,#4300ff,#4300ff,#4400ff,#4500ff,#4600ff,#4700ff,#4800ff,#4900ff,#4a00ff,#4c00ff)"></div>
<div style="height:3px;background:linear-gradient(90deg,#6400ff,#6300ff,#6300ff,#6200ff,#6200ff,#6300ff,#6300ff,#6300ff,#6300ff,#6200ff,#6000ff,#5e00ff,#5c00ff,#5900ff,#5600ff,#5300ff,#5000ff,#4e00ff,#4c00ff,#4a00ff,#4800ff,#4700ff,#4600ff,#4500ff,#4400ff,#4400ff,#4300ff,#4300ff,#4200ff,#4200ff,#4200ff,#4100ff,#4100ff,#4100ff,#4100ff,#4100ff,#4200ff,#4200ff,#4200ff,#4300ff,#4300ff,#4300ff,#4400ff,#4400ff,#4500ff,#4600ff,#4600ff,#4700ff,#4800ff,#4900ff,#4900ff,#4a00ff,#4b00ff,#4d00ff,#4e00ff,#4f00ff)"></div>
<div style="height:3px;background:linear-gradient(90deg,#6600ff,#6500ff,#6400ff,#6400ff,#6300ff,#6300ff,#6300ff,#6200ff,#6200ff,#6100ff,#5f00ff,#5e00ff,#5c00ff,#5900ff,#5700ff,#5500ff,#5300ff,#5100ff,#4f00ff,#4e00ff,#4c00ff,#4b00ff,#4a00ff,#4a00ff,#4900ff,#4800ff,#4800ff,#4700ff,#4700ff,#4700ff,#4600ff,#4600ff,#4600ff,#4600ff,#4600ff,#4600ff,#4600ff,#4700ff,#4700ff,#4700ff,#4800ff,#4800ff,#4900ff,#4900ff,#4a00ff,#4a00ff,#4b00ff,#4b00ff,#4c00ff,#4d00ff,#4e00ff,#4f00ff,#5000ff,#5100ff,#5200ff,#5300ff)"></div>
<div style="height:3px;background:linear-gradient(90deg,#6800ff,#6700ff,#6700ff,#6600ff,#6500ff,#6400ff,#6400ff,#6300ff,#6200ff,#6100ff,#6000ff,#5f00ff,#5d00ff,#5b00ff,#5a00ff,#5800ff,#5600ff,#5500ff,#5300ff,#5200ff,#5100ff,#5000ff,#4f00ff,#4f00ff,#4e00ff,#4d00ff,#4d00ff,#4c00ff,#4c00ff,#4c00ff,#4c00ff,#4b00ff,#4b00ff,#4b00ff,#4b00ff,#4b00ff,#4c00ff,#4c00ff,#4c00ff,#4c00ff,#4d00ff,#4d00ff,#4e00ff,#4e00ff,#4f00ff,#4f00ff,#5000ff,#5000ff,#5100ff,#5200ff,#5200ff,#5300ff,#5400ff,#5500ff,#5600ff,#5700ff)"></div>
<div style="height:3px;background:linear-gradient(90deg,#6b00ff,#6a00ff,#6900ff,#6800ff,#6800ff,#6700ff,#6600ff,#6500ff,#6400ff,#6300ff,#6200ff,#6100ff,#6000ff,#5e00ff,#5d00ff,#5c00ff,#5a00ff,#5900ff,#5800ff,#5700ff,#5600ff,#5500ff,#5500ff,#5400ff,#5300ff,#5300ff,#5200ff,#5200ff,#5200ff,#5100ff,#5100ff,#5100ff,#5100ff,#5100ff,#5100ff,#5100ff,#5100ff,#5100ff,#5200ff,#5200ff,#5200ff,#5300ff,#5300ff,#5300ff,#5400ff,#5400ff,#5500ff,#5500ff,#5600ff,#5700ff,#5700ff,#5800ff,#5900ff,#5a00ff,#5b00ff,#5c00ff)"></div>
<div style="height:3px;background:linear-gradient(90deg,#6e00ff,#6d00ff,#6c00ff,#6c00ff,#6b00ff,#6a00ff,#6900ff,#6800ff,#6700ff,#6600ff,#6500ff,#6400ff,#6300ff,#6200ff,#6100ff,#6000ff,#5f00ff,#5e00ff,#5d00ff,#5c00ff,#5b00ff,#5b00ff,#5a00ff,#5a00ff,#5900ff,#5900ff,#5800ff,#5800ff,#5800ff,#5700ff,#5700ff,#5700ff,#5700ff,#5700ff,#5700ff,#5700ff,#5700ff,#5700ff,#5700ff,#5800ff,#5800ff,#5800ff,#5900ff,#5900ff,#5900ff,#5a00ff,#5a00ff,#5b00ff,#5b00ff,#5c00ff,#5c00ff,#5d00ff,#5e00ff,#5f00ff,#6000ff,#6000ff)"></div>
<div style="height:3px;background:linear-gradient(90deg,#7100ff,#7100ff,#7000ff,#6f00ff,#6e00ff,#6d00ff,#6c00ff,#6c00ff,#6b00ff,#6a00ff,#6900ff,#6800ff,#6700ff,#6600ff,#6500ff,#6500ff,#6400ff,#6300ff,#6200ff,#6100ff,#6100ff,#6000ff,#6000ff,#5f00ff,#5f00ff,#5e00ff,#5e00ff,#5e00ff,#5d00ff,#5d00ff,#5d00ff,#5d00ff,#5d00ff,#5d00ff,#5d00ff,#5d00ff,#5d00ff,#5d00ff,#5d00ff,#5e00ff,#5e00ff,#5e00ff,#5e00ff,#5f00ff,#5f00ff,#5f00ff,#6000ff,#6000ff,#6100ff,#6100ff,#6200ff,#6200ff,#6300ff,#6400ff,#6400ff,#6500ff)"></div>
<div style="height:3px;background:linear-gradient(90deg,#7500ff,#7400ff,#7300ff,#7200ff,#7100ff,#7100ff,#7000ff,#6f00ff,#6f00ff,#6e00ff,#6d00ff,#6c00ff,#6b00ff,#6b00ff,#6a00ff,#6900ff,#6800ff,#6800ff,#6700ff,#6700ff,#6600ff,#6600ff,#6500ff,#6500ff,#6400ff,#6400ff,#6400ff,#6300ff,#6300ff,#6300ff,#6300ff,#6300ff,#6300ff,#6300ff,#6300ff,#6300ff,#6300ff,#6300ff,#6300ff,#6300ff,#6300ff,#6400ff,#6400ff,#6400ff,#6400ff,#6500ff,#6500ff,#6500ff,#6600ff,#6600ff,#6700ff,#6700ff,#6800ff,#6800ff,#6900ff,#6a00ff)"></div>
<div style="height:3px;background:linear-gradient(90deg,#7800ff,#7700ff,#7600ff,#7500ff,#7500ff,#7400ff,#7400ff,#7300ff,#7200ff,#7200ff,#7100ff,#7000ff,#7000ff,#6f00ff,#6e00ff,#6e00ff,#6d00ff,#6d00ff,#6c00ff,#6b00ff,#6b00ff,#6b00ff,#6a00ff,#6a00ff,#6900ff,#6900ff,#6900ff,#6900ff,#6800ff,#6800ff,#6800ff,#6800ff,#6800ff,#6800ff,#6800ff,#6800ff,#6800ff,#6800ff,#6800ff,#6900ff,#6900ff,#6900ff,#6900ff,#6900ff,#6a00ff,#6a00ff,#6a00ff,#6a00ff,#6b00ff,#6b00ff,#6b00ff,#6c00ff,#6c00ff,#6d00ff,#6d00ff,#6e00ff)"></div>
<div style="height:3px;background:linear-gradient(90deg,#7a00ff,#7a00ff,#7900ff,#7900ff,#7800ff,#7700ff,#7700ff,#7600ff,#7600ff,#7500ff,#7500ff,#7400ff,#7300ff,#7300ff,#7200ff,#7200ff,#7100ff,#7100ff,#7100ff,#7000ff,#7000ff,#6f00ff,#6f00ff,#6f00ff,#6e00ff,#6e00ff,#6e00ff,#6e00ff,#6e00ff,#6d00ff,#6d00ff,#6d00ff,#6d00ff,#6d00ff,#6d00ff,#6d00ff,#6d00ff,#6d00ff,#6d00ff,#6e00ff,#6e00ff,#6e00ff,#6e00ff,#6e00ff,#6e00ff,#6f00ff,#6f00ff,#6f00ff,#6f00ff,#7000ff,#7000ff,#7000ff,#7100ff,#7100ff,#7200ff,#7200ff)"></div>
<div style="height:3px;background:linear-gradient(90deg,#7d00ff,#7c00ff,#7c00ff,#7b00ff,#7b00ff,#7a00ff,#7a00ff,#7900ff,#7900ff,#7800ff,#7800ff,#7800ff,#7700ff,#7700ff,#7600ff,#7600ff,#7500ff,#7500ff,#7500ff,#7400ff,#7400ff,#7400ff,#7300ff,#7300ff,#7300ff,#7300ff,#7200ff,#7200ff,#7200ff,#7200ff,#7200ff,#7200ff,#7200ff,#7200ff,#7200ff,#7200ff,#7200ff,#7200ff,#7200ff,#7200ff,#7200ff,#7200ff,#7300ff,#7300ff,#7300ff,#7300ff,#7300ff,#7300ff,#7400ff,#7400ff,#7400ff,#7400ff,#7500ff,#7500ff,#7500ff,#7600ff)"></div>
<div style="height:3px;background:linear-gradient(90deg,#7f00ff,#7f00ff,#7e00ff,#7e00ff,#7e00ff,#7d00ff,#7d00ff,#7c00ff,#7c00ff,#7c00ff,#7b00ff,#7b00ff,#7a00ff,#7a00ff,#7a00ff,#7900ff,#7900ff,#7900ff,#7800ff,#7800ff,#7800ff,#7800ff,#7700ff,#7700ff,#7700ff,#7700ff,#7700ff,#7600ff,#7600ff,#7600ff,#7600ff,#7600ff,#7600ff,#7600ff,#7600ff,#7600ff,#7600ff,#7600ff,#7600ff,#7600ff,#7600ff,#7700ff,#7700ff,#7700ff,#7700ff,#7700ff,#7700ff,#7700ff,#7700ff,#7700ff,#7800ff,#7800ff,#7800ff,#7800ff,#7900ff,#7900ff)"></div>
<div style="height:3px;background:linear-gradient(90deg,#8100ff,#8100ff,#8000ff,#8000ff,#8000ff,#7f00ff,#7f00ff,#7f00ff,#7f00ff,#7e00ff,#7e00ff,#7e00ff,#7d00ff,#7d00ff,#7d00ff,#7c00ff,#7c00ff,#7c00ff,#7c00ff,#7b00ff,#7b00ff,#7b00ff,#7b00ff,#7b00ff,#7a00ff,#7a00ff,#7a00ff,#7a00ff,#7a00ff,#7a00ff,#7a00ff,#7a00ff,#7a00ff,#7a00ff,#7a00ff,#7a00ff,#7a00ff,#7a00ff,#7a00ff,#7a00ff,#7a00ff,#7a00ff,#7a00ff,#7a00ff,#7a00ff,#7a00ff,#7a00ff,#7b00ff,#7b00ff,#7b00ff,#7b00ff,#7b00ff,#7b00ff,#7b00ff,#7c00ff,#7c00ff)"></div>
<div style="height:3px;background:linear-gradient(90deg,#8300ff,#8300ff,#8200ff,#8200ff,#8200ff,#8200ff,#8100ff,#8100ff,#8100ff,#8000ff,#8000ff,#8000ff,#8000ff,#8000ff,#7f00ff,#7f00ff,#7f00ff,#7f00ff,#7e00ff,#7e00ff,#7e00ff,#7e00ff,#7e00ff,#7e00ff,#7d00ff,#7d00ff,#7d00ff,#7d00ff,#7d00ff,#7d00ff,#7d00ff,#7d00ff,#7d00ff,#7d00ff,#7d00ff,#7d00ff,#7d00ff,#7d00ff,#7d00ff,#7d00ff,#7d00ff,#7d00ff,#7d00ff,#7d00ff,#7d00ff,#7d00ff,#7d00ff,#7d00ff,#7e00ff,#7e00ff,#7e00ff,#7e00ff,#7e00ff,#7e00ff,#7e00ff,#7f00ff)"></div>
<div style="height:3px;background:linear-gradient(90deg,#8400ff,#8400ff,#8400ff,#8400ff,#8300ff,#8300ff,#8300ff,#8300ff,#8300ff,#8200ff,#8200ff,#8200ff,#8200ff,#8200ff,#8100ff,#8100ff,#8100ff,#8100ff,#8100ff,#8100ff,#8100ff,#8000ff,#8000ff,#8000ff,#8000ff,#8000ff,#8000ff,#8000ff,#8000ff,#8000ff,#8000ff,#8000ff,#8000ff,#8000ff,#8000ff,#8000ff,#8000ff,#8000ff,#8000ff,#8000ff,#8000ff,#8000ff,#8000ff,#8000ff,#8000ff,#8000ff,#8000ff,#8000ff,#8000ff,#8000ff,#8000ff,#8000ff,#8000ff,#8000ff,#8000ff,#8100ff)"></div>
<div style="height:3px;background:linear-gradient(90deg,#8600ff,#8500ff,#8500ff,#8500ff,#8500ff,#8500ff,#8500ff,#8400ff,#8400ff,#8400ff,#8400ff,#8400ff,#8400ff,#8300ff,#8300ff,#8300ff,#8300ff,#8300ff,#8300ff,#8300ff,#8300ff,#8200ff,#8200ff,#8200ff,#8200ff,#8200ff,#8200ff,#8200ff,#8200ff,#8200ff,#8200ff,#8200ff,#8200ff,#8200ff,#8200ff,#8200ff,#8200ff,#8200ff,#8200ff,#8200ff,#8200ff,#8200ff,#8200ff,#8200ff,#8200ff,#8200ff,#8200ff,#8200ff,#8200ff,#8200ff,#8200ff,#8200ff,#8200ff,#8200ff,#8200ff,#8200ff)"></div>
<div style="height:3px;background:linear-gradient(90deg,#8700ff,#8600ff,#8600ff,#8600ff,#8600ff,#8600ff,#8600ff,#8600ff,#8600ff,#8500ff,#8500ff,#8500ff,#8500ff,#8500ff,#8500ff,#8500ff,#8500ff,#8500ff,#8400ff,#8400ff,#8400ff,#8400ff,#8400ff,#8400ff,#8400ff,#8400ff,#8400ff,#8400ff,#8400ff,#8400ff,#8400ff,#8400ff,#8400ff,#8400ff,#8400ff,#8400ff,#8400ff,#8400ff,#8400ff,#8400ff,#8400ff,#8400ff,#8400ff,#8400ff,#8400ff,#8400ff,#8400ff,#8400ff,#8400ff,#8400ff,#8400ff,#8400ff,#8400ff,#8400ff,#8400ff,#8400ff)"></div>
<div style="height:3px;background:linear-gradient(90deg,#8700ff,#8700ff,#8700ff,#8700ff,#8700ff,#8700ff,#8700ff,#8700ff,#8700ff,#8600ff,#8600ff,#8600ff,#8600ff,#8600ff,#8600ff,#8600ff,#8600ff,#8600ff,#8600ff,#8600ff,#8600ff,#8600ff,#8600ff,#8500ff,#8500ff,#8500ff,#8500ff,#8500ff,#8500ff,#8500ff,#8500ff,#8500ff,#8500ff,#8500ff,#8500ff,#8500ff,#8500ff,#8500ff,#8500ff,#8500ff,#8500ff,#8500ff,#8500ff,#8500ff,#8500ff,#8500ff,#8500ff,#8500ff,#8500ff,#8500ff,#8500ff,#8500ff,#8500ff,#8500ff,#8500ff,#8500ff)"></div>
<div style="height:3px;background:linear-gradient(90deg,#8800ff,#8800ff,#8800ff,#8800ff,#8800ff,#8800ff,#8800ff,#8700ff,#8700ff,#8700ff,#8700ff,#8700ff,#8700ff,#8700ff,#8700ff,#8700ff,#8700ff,#8700ff,#8700ff,#8700ff,#8700ff,#8700ff,#8700ff,#8700ff,#8700ff,#8600ff,#8600ff,#8600ff,#8600ff,#8600ff,#8600ff,#8600ff,#8600ff,#8600ff,#8600ff,#8600ff,#8600ff,#8600ff,#8600ff,#8600ff,#8600ff,#8600ff,#8600ff,#8600ff,#8600ff,#8600ff,#8600ff,#8600ff,#8600ff,#8600ff,#8600ff,#8600ff,#8600ff,#8600ff,#8600ff,#8600ff)"></div>
<div style="height:3px;background:linear-gradient(90deg,#8800ff,#8800ff,#8800ff,#8800ff,#8800ff,#8800ff,#8800ff,#8800ff,#8800ff,#8800ff,#8800ff,#8800ff,#8800ff,#8800ff,#8800ff,#8800ff,#8800ff,#8800ff,#8800ff,#8800ff,#8800ff,#8700ff,#8700ff,#8700ff,#8700ff,#8700ff,#8700ff,#8700ff,#8700ff,#8700ff,#8700ff,#8700ff,#8700ff,#8700ff,#8700ff,#8700ff,#8700ff,#8700ff,#8700ff,#8700ff,#8700ff,#8700ff,#8700ff,#8700ff,#8700ff,#8700ff,#8700ff,#8700ff,#8700ff,#8700ff,#8700ff,#8700ff,#8700ff,#8700ff,#8700ff,#8700ff)"></div>
<div style="height:3px;background:linear-gradient(90deg,#8900ff,#8900ff,#8900ff,#8900ff,#8900ff,#8900ff,#8900ff,#8900ff,#8900ff,#8900ff,#8800ff,#8800ff,#8800ff,#8800ff,#8800ff,#8800ff,#8800ff,#8800ff,#8800ff,#8800ff,#8800ff,#8800ff,#8800ff,#8800ff,#8800ff,#8800ff,#8800ff,#8800ff,#8800ff,#8800ff,#8800ff,#8800ff,#8800ff,#8800ff,#8800ff,#8800ff,#8800ff,#8800ff,#8800ff,#8800ff,#8800ff,#8800ff,#8800ff,#8800ff,#8800ff,#8800ff,#8800ff,#8800ff,#8800ff,#8800ff,#8800ff,#8800ff,#8800ff,#8800ff,#8800ff,#8800ff)"></div>
<div style="height:3px;background:linear-gradient(90deg,#8900ff,#8900ff,#8900ff,#8900ff,#8900ff,#8900ff,#8900ff,#8900ff,#8900ff,#8900ff,#8900ff,#8900ff,#8900ff,#8900ff,#8900ff,#8900ff,#8900ff,#8900ff,#8900ff,#8900ff,#8900ff,#8900ff,#8900ff,#8900ff,#8900ff,#8900ff,#8900ff,#8900ff,#8900ff,#8900ff,#8900ff,#8900ff,#8900ff,#8900ff,#8900ff,#8900ff,#8900ff,#8800ff,#8800ff,#8800ff,#8800ff,#8800ff,#8800ff,#8800ff,#8800ff,#8800ff,#8800ff,#8800ff,#8800ff,#8800ff,#8800ff,#8800ff,#8800ff,#8800ff,#8800ff,#8800ff)"></div>
<div style="height:3px;background:linear-gradient(90deg,#8900ff,#8900ff,#8900ff,#8900ff,#8900ff,#8900ff,#8900ff,#8900ff,#8900ff,#8900ff,#8900ff,#8900ff,#8900ff,#8900ff,#8900ff,#8900ff,#8900ff,#8900ff,#8900ff,#8900ff,#8900ff,#8900ff,#8900ff,#8900ff,#8900ff,#8900ff,#8900ff,#8900ff,#8900ff,#8900ff,#8900ff,#8900ff,#8900ff,#8900ff,#8900ff,#8900ff,#8900ff,#8900ff,#8900ff,#8900ff,#8900ff,#8900ff,#8900ff,#8900ff,#8900ff,#8900ff,#8900ff,#8900ff,#8900ff,#8900ff,#8800ff,#8800ff,#8800ff,#8800ff,#8800ff,#8800ff)"></div>
<div style="height:3px;background:linear-gradient(90deg,#8a00ff,#8900ff,#8900ff,#8900ff,#8900ff,#8900ff,#8900ff,#8900ff,#8900ff,#8900ff,#8900ff,#8900ff,#8900ff,#8900ff,#8900ff,#8900ff,#8900ff,#8900ff,#8900ff,#8900ff,#8900ff,#8900ff,#8900ff,#8900ff,#8900ff,#8900ff,#8900ff,#8900ff,#8900ff,#8900ff,#8900ff,#8900ff,#8900ff,#8900ff,#8900ff,#8900ff,#8900ff,#8900ff,#8900ff,#8900ff,#8900ff,#8900ff,#8900ff,#8900ff,#8900ff,#8900ff,#8900ff,#8900ff,#8900ff,#8900ff,#8900ff,#8900ff,#8900ff,#8900ff,#8900ff,#8900ff)"></div>
<div style="height:3px;background:linear-gradient(90deg,#8a00ff,#8a00ff,#8a00ff,#8a00ff,#8a00ff,#8a00ff,#8a00ff,#8a00ff,#8a00ff,#8a00ff,#8a00ff,#8a00ff,#8a00ff,#8a00ff,#8900ff,#8900ff,#8900ff,#8900ff,#8900ff,#8900ff,#8900ff,#8900ff,#8900ff,#8900ff,#8900ff,#8900ff,#8900ff,#8900ff,#8900ff,#8900ff,#8900ff,#8900ff,#8900ff,#8900ff,#8900ff,#8900ff,#8900ff,#8900ff,#8900ff,#8900ff,#8900ff,#8900ff,#8900ff,#8900ff,#8900ff,#8900ff,#8900ff,#8900ff,#8900ff,#8900ff,#8900ff,#8900ff,#8900ff,#8900ff,#8900ff,#8900ff)"></div>
<div style="height:3px;background:linear-gradient(90deg,#8a00ff,#8a00ff,#8a00ff,#8a00ff,#8a00ff,#8a00ff,#8a00ff,#8a00ff,#8a00ff,#8a00ff,#8a00ff,#8a00ff,#8a00ff,#8a00ff,#8a00ff,#8a00ff,#8a00ff,#8a00ff,#8a00ff,#8a00ff,#8a00ff,#8a00ff,#8a00ff,#8a00ff,#8a00ff,#8a00ff,#8a00ff,#8a00ff,#8a00ff,#8a00ff,#8a00ff,#8a00ff,#8a00ff,#8a00ff,#8a00ff,#8a00ff,#8a00ff,#8a00ff,#8a00ff,#8a00ff,#8900ff,#8900ff,#8900ff,#8900ff,#8900ff,#8900ff,#8900ff,#8900ff,#8900ff,#8900ff,#8900ff,#8900ff,#8900ff,#8900ff,#8900ff,#8900ff)"></div>
<div style="height:3px;background:linear-gradient(90deg,#8a00ff,#8a00ff,#8a00ff,#8a00ff,#8a00ff,#8a00ff,#8a00ff,#8a00ff,#8a00ff,#8a00ff,#8a00ff,#8a00ff,#8a00ff,#8a00ff,#8a00ff,#8a00ff,#8a00ff,#8a00ff,#8a00ff,#8a00ff,#8a00ff,#8a00ff,#8a00ff,#8a00ff,#8a00ff,#8a00ff,#8a00ff,#8a00ff,#8a00ff,#8a00ff,#8a00ff,#8a00ff,#8a00ff,#8a00ff,#8a00ff,#8a00ff,#8a00ff,#8a00ff,#8a00ff,#8a00ff,#8a00ff,#8a00ff,#8a00ff,#8a00ff,#8a00ff,#8900ff,#8900ff,#8900ff,#8900ff,#8900ff,#8900ff,#8900ff,#8900ff,#8900ff,#8900ff,#8900ff)"></div>
<div style="height:3px;background:linear-gradient(90deg,#8a00ff,#8a00ff,#8a00ff,#8a00ff,#8a00ff,#8a00ff,#8a00ff,#8a00ff,#8a00ff,#8a00ff,#8a00ff,#8a00ff,#8a00ff,#8a00ff,#8a00ff,#8a00ff,#8a00ff,#8a00ff,#8a00ff,#8a00ff,#8a00ff,#8a00ff,#8a00ff,#8a00ff,#8a00ff,#8a00ff,#8a00ff,#8a00ff,#8a00ff,#8a00ff,#8a00ff,#8a00ff,#8a00ff,#8a00ff,#8a00ff,#8a00ff,#8a00ff,#8a00ff,#8a00ff,#8a00ff,#8a00ff,#8a00ff,#8a00ff,#8a00ff,#8a00ff,#8a00ff,#8a00ff,#8900ff,#8900ff,#8900ff,#8900ff,#8900ff,#8900ff,#8900ff,#8900ff,#8900ff)"></div>
<div style="height:3px;background:linear-gradient(90deg,#8a00ff,#8a00ff,#8a00ff,#8a00ff,#8a00ff,#8a00ff,#8a00ff,#8a00ff,#8a00ff,#8a00ff,#8a00ff,#8a00ff,#8a00ff,#8a00ff,#8a00ff,#8a00ff,#8a00ff,#8a00ff,#8a00ff,#8a00ff,#8a00ff,#8a00ff,#8a00ff,#8a00ff,#8a00ff,#8a00ff,#8a00ff,#8a00ff,#8a00ff,#8a00ff,#8a00ff,#8a00ff,#8a00ff,#8a00ff,#8a00ff,#8a00ff,#8a00ff,#8a00ff,#8a00ff,#8a00ff,#8a00ff,#8a00ff,#8a00ff,#8a00ff,#8a00ff,#8a00ff,#8a00ff,#8a00ff,#8a00ff,#8900ff,#8900ff,#8900ff,#8900ff,#8900ff,#8900ff,#8900ff)"></div>
<div style="height:3px;background:linear-gradient(90deg,#8a00ff,#8a00ff,#8a00ff,#8a00ff,#8a00ff,#8a00ff,#8a00ff,#8a00ff,#8a00ff,#8a00ff,#8a00ff,#8a00ff,#8a00ff,#8a00ff,#8a00ff,#8a00ff,#8a00ff,#8a00ff,#8a00ff,#8a00ff,#8a00ff,#8a00ff,#8a00ff,#8a00ff,#8a00ff,#8a00ff,#8a00ff,#8a00ff,#8a00ff,#8a00ff,#8a00ff,#8a00ff,#8a00ff,#8a00ff,#8a00ff,#8a00ff,#8a00ff,#8a00ff,#8a00ff,#8a00ff,#8a00ff,#8a00ff,#8a00ff,#8a00ff,#8a00ff,#8a00ff,#8a00ff,#8a00ff,#8a00ff,#8a00ff,#8a00ff,#8900ff,#8900ff,#8900ff,#8900ff,#8900ff)"></div>
<div style="height:3px;background:linear-gradient(90deg,#8a00ff,#8a00ff,#8a00ff,#8a00ff,#8a00ff,#8a00ff,#8a00ff,#8a00ff,#8a00ff,#8a00ff,#8a00ff,#8a00ff,#8a00ff,#8a00ff,#8a00ff,#8a00ff,#8a00ff,#8a00ff,#8a00ff,#8a00ff,#8a00ff,#8a00ff,#8a00ff,#8a00ff,#8a00ff,#8a00ff,#8a00ff,#8a00ff,#8a00ff,#8a00ff,#8a00ff,#8a00ff,#8a00ff,#8a00ff,#8a00ff,#8a00ff,#8a00ff,#8a00ff,#8a00ff,#8a00ff,#8a00ff,#8a00ff,#8a00ff,#8a00ff,#8a00ff,#8a00ff,#8a00ff,#8a00ff,#8a00ff,#8a00ff,#8a00ff,#8a00ff,#8a00ff,#8a00ff,#8a00ff,#8a00ff)"></div>
<div style="height:3px;background:linear-gradient(90deg,#8a00ff,#8a00ff,#8a00ff,#8a00ff,#8a00ff,#8a00ff,#8a00ff,#8a00ff,#8a00ff,#8a00ff,#8a00ff,#8a00ff,#8a00ff,#8a00ff,#8a00ff,#8a00ff,#8a00ff,#8a00ff,#8a00ff,#8a00ff,#8a00ff,#8a00ff,#8a00ff,#8a00ff,#8a00ff,#8a00ff,#8a00ff,#8a00ff,#8a00ff,#8a00ff,#8a00ff,#8a00ff,#8a00ff,#8a00ff,#8a00ff,#8a00ff,#8a00ff,#8a00ff,#8a00ff,#8a00ff,#8a00ff,#8a00ff,#8a00ff,#8a00ff,#8a00ff,#8a00ff,#8a00ff,#8a00ff,#8a00ff,#8a00ff,#8a00ff,#8a00ff,#8a00ff,#8a00ff,#8a00ff,#8a00ff)"></div>
</div></div>
<svg width="2125" height="1062">
<text x="3.0" y="33.0" font-size="36" text-anchor="start" font-weight="bold" fill="#000" >a</text>
<line x1="112.5" y1="405.0" x2="112.5" y2="413.0" stroke="#000" stroke-width="1.7" />
<text x="112.5" y="434.6" font-size="21.3" text-anchor="middle" font-weight="normal" fill="#000" >12640</text>
<line x1="159.5" y1="405.0" x2="159.5" y2="410.0" stroke="#000" stroke-width="1.7" />
<line x1="206.5" y1="405.0" x2="206.5" y2="413.0" stroke="#000" stroke-width="1.7" />
<text x="206.5" y="434.6" font-size="21.3" text-anchor="middle" font-weight="normal" fill="#000" >12650</text>
<line x1="253.5" y1="405.0" x2="253.5" y2="410.0" stroke="#000" stroke-width="1.7" />
<line x1="300.5" y1="405.0" x2="300.5" y2="413.0" stroke="#000" stroke-width="1.7" />
<text x="300.5" y="434.6" font-size="21.3" text-anchor="middle" font-weight="normal" fill="#000" >12660</text>
<line x1="347.5" y1="405.0" x2="347.5" y2="410.0" stroke="#000" stroke-width="1.7" />
<line x1="394.5" y1="405.0" x2="394.5" y2="413.0" stroke="#000" stroke-width="1.7" />
<text x="394.5" y="434.6" font-size="21.3" text-anchor="middle" font-weight="normal" fill="#000" >12670</text>
<line x1="441.5" y1="405.0" x2="441.5" y2="410.0" stroke="#000" stroke-width="1.7" />
<line x1="488.5" y1="405.0" x2="488.5" y2="413.0" stroke="#000" stroke-width="1.7" />
<text x="488.5" y="434.6" font-size="21.3" text-anchor="middle" font-weight="normal" fill="#000" >12680</text>
<line x1="535.5" y1="405.0" x2="535.5" y2="410.0" stroke="#000" stroke-width="1.7" />
<line x1="582.5" y1="405.0" x2="582.5" y2="413.0" stroke="#000" stroke-width="1.7" />
<text x="582.5" y="434.6" font-size="21.3" text-anchor="middle" font-weight="normal" fill="#000" >12690</text>
<line x1="111.2" y1="358.6" x2="106.2" y2="358.6" stroke="#000" stroke-width="1.7" />
<line x1="111.2" y1="311.6" x2="103.2" y2="311.6" stroke="#000" stroke-width="1.7" />
<text x="98.2" y="317.6" font-size="21" text-anchor="end" font-weight="normal" fill="#000" >0.5</text>
<line x1="111.2" y1="264.6" x2="106.2" y2="264.6" stroke="#000" stroke-width="1.7" />
<line x1="111.2" y1="217.6" x2="103.2" y2="217.6" stroke="#000" stroke-width="1.7" />
<text x="98.2" y="223.6" font-size="21" text-anchor="end" font-weight="normal" fill="#000" >1.0</text>
<line x1="111.2" y1="170.6" x2="106.2" y2="170.6" stroke="#000" stroke-width="1.7" />
<line x1="111.2" y1="123.6" x2="103.2" y2="123.6" stroke="#000" stroke-width="1.7" />
<text x="98.2" y="129.6" font-size="21" text-anchor="end" font-weight="normal" fill="#000" >1.5</text>
<line x1="111.2" y1="76.6" x2="106.2" y2="76.6" stroke="#000" stroke-width="1.7" />
<line x1="111.2" y1="29.6" x2="103.2" y2="29.6" stroke="#000" stroke-width="1.7" />
<text x="98.2" y="35.6" font-size="21" text-anchor="end" font-weight="normal" fill="#000" >2.0</text>
<path d="M112.0 403.8C134.3 401.5 156.6 400.3 178.9 397.0C192.1 395.0 205.2 394.5 218.4 390.0C220.4 389.3 222.4 388.5 224.4 387.8C232.3 384.9 240.1 383.6 248.0 378.9C254.7 374.9 261.3 370.8 268.0 363.0C272.6 357.6 277.1 354.4 281.7 343.3C284.3 336.9 287.0 329.4 289.6 319.6C291.6 312.1 293.6 308.1 295.6 293.8C296.9 284.8 298.1 270.8 299.4 259.9C302.4 234.1 305.4 214.2 308.4 189.4C311.4 164.4 314.5 131.2 317.5 110.4C320.5 89.9 323.5 74.8 326.5 65.2C329.0 57.2 331.5 52.8 334.0 52.8C336.8 52.8 339.5 57.0 342.3 65.2C346.1 76.4 349.8 102.8 353.6 121.6C357.4 140.4 361.1 162.3 364.9 178.1C368.7 193.9 372.4 208.5 376.2 216.5C379.1 222.8 382.1 226.6 385.0 226.6C389.6 226.6 394.2 220.8 398.8 216.5C401.0 214.4 403.3 211.6 405.5 209.5C412.0 203.3 418.5 200.9 425.0 196.5C432.2 191.6 439.4 185.2 446.6 181.4C451.3 178.9 456.0 175.4 460.7 175.4C466.8 175.4 472.9 181.7 479.0 186.8C486.2 192.9 493.5 205.0 500.7 210.6C507.9 216.2 515.2 218.0 522.4 220.4C529.6 222.7 536.8 223.8 544.0 224.7C557.5 226.3 571.1 225.8 584.6 226.3" fill="none" stroke="#e03c3f" stroke-width="1.6" stroke-linejoin="round" />
<path d="M112.0 401.8C127.7 400.1 143.3 399.4 159.0 396.7C172.2 394.4 185.5 391.9 198.7 387.8C205.3 385.8 211.8 384.6 218.4 380.9C223.7 377.9 229.0 374.3 234.3 369.0C238.2 365.1 242.1 361.7 246.0 355.2C248.7 350.8 251.3 346.6 254.0 339.3C256.0 333.8 258.0 329.1 260.0 319.6C261.7 311.7 263.3 300.8 265.0 289.9C266.3 281.2 267.7 272.2 269.0 262.0C271.6 242.1 274.2 211.8 276.8 191.7C279.1 174.1 281.3 157.0 283.6 146.5C285.1 139.7 286.5 135.1 288.0 132.0C289.5 128.8 291.1 128.0 292.6 128.0C294.1 128.0 295.5 129.1 297.0 131.0C298.5 133.0 300.1 135.6 301.6 139.7C304.6 147.8 307.7 166.1 310.7 178.1C314.5 193.0 318.2 209.1 322.0 218.8C325.3 227.4 328.7 235.7 332.0 235.7C336.9 235.7 341.9 231.2 346.8 227.8C352.1 224.2 357.3 216.0 362.6 214.3C368.9 212.2 375.3 212.8 381.6 212.2C392.4 211.3 403.2 210.6 414.0 210.6C421.3 210.6 428.5 212.5 435.8 213.3C444.8 214.3 453.8 215.5 462.8 216.2C471.8 216.9 480.9 217.3 489.9 217.3C521.5 217.3 553.0 217.0 584.6 216.9" fill="none" stroke="#000" stroke-width="2.2" stroke-linejoin="round" />
<path d="M112.0 403.6C134.3 401.3 156.6 400.0 178.9 396.7C192.1 394.7 205.2 396.7 218.4 389.8C223.7 387.0 229.0 384.6 234.3 378.9C238.2 374.7 242.1 370.4 246.0 363.0C249.3 356.7 252.7 350.5 256.0 339.3C258.0 332.6 260.0 327.0 262.0 315.6C263.7 306.1 265.3 294.2 267.0 280.0C268.0 271.5 269.0 261.8 270.0 252.0C272.3 229.8 274.5 201.7 276.8 178.1C279.1 154.5 281.3 126.6 283.6 110.4C285.4 97.6 287.2 90.0 289.0 84.0C290.6 78.8 292.1 74.9 293.7 74.9C295.1 74.9 296.6 77.1 298.0 80.0C300.0 84.0 301.9 90.4 303.9 99.0C306.9 112.3 310.0 138.5 313.0 155.5C316.0 172.3 319.0 188.3 322.0 200.7C324.0 209.0 326.0 216.9 328.0 222.0C330.5 228.4 333.0 231.7 335.5 231.7C338.7 231.7 341.8 228.1 345.0 226.0C349.3 223.2 353.7 219.4 358.0 216.5C362.3 213.7 366.5 210.6 370.8 209.0C374.4 207.6 378.0 207.1 381.6 206.8C388.1 206.3 394.5 206.3 401.0 206.3C409.0 206.3 417.0 208.1 425.0 209.0C434.0 210.0 443.0 211.9 452.0 211.9C457.4 211.9 462.8 211.8 468.2 211.5C475.5 211.1 482.7 210.0 490.0 209.7C500.8 209.3 511.6 209.5 522.4 209.3C533.2 209.1 544.0 208.7 554.8 208.7C561.5 208.7 568.3 208.7 575.0 210.0C578.2 210.6 581.4 212.0 584.6 213.0" fill="none" stroke="#1a6fe6" stroke-width="3.0" stroke-linejoin="round" />
<rect x="111.2" y="22.5" width="473.8" height="382.5" fill="none" stroke="#000" stroke-width="1.7"/>
<text x="348.4" y="477.3" font-size="25.5" text-anchor="middle" font-weight="normal" fill="#000" >Photon Energe (eV)</text>
<text x="0.0" y="0.0" font-size="23.5" text-anchor="middle" font-weight="normal" fill="#000" transform="translate(48.5 212.9) rotate(-90)">Normalized XANES (a. u.)</text>
<line x1="374.0" y1="310.2" x2="420.0" y2="310.2" stroke="#000" stroke-width="2.2" />
<text x="425.5" y="317.1" font-size="20.3" text-anchor="start" font-weight="normal" fill="#000" >Se</text>
<line x1="374.0" y1="334.7" x2="420.0" y2="334.7" stroke="#e03c3f" stroke-width="2.0" />
<text x="425.5" y="341.5" font-size="20.3" text-anchor="start" font-weight="normal" fill="#000" >SeO<tspan font-size="14" dy="5">2</tspan></text>
<line x1="374.0" y1="363.7" x2="420.0" y2="363.7" stroke="#1a6fe6" stroke-width="3.0" />
<text x="425.5" y="370.2" font-size="20.3" text-anchor="start" font-weight="normal" fill="#000" >TeO<tspan font-size="14" dy="5">x</tspan><tspan dy="-5">-TeSe film</tspan></text>
<text x="678.0" y="29.4" font-size="36" text-anchor="start" font-weight="bold" fill="#000" >b</text>
<line x1="841.4" y1="419.0" x2="841.4" y2="427.0" stroke="#000" stroke-width="1.7" />
<text x="841.4" y="450.6" font-size="24" text-anchor="middle" font-weight="normal" fill="#000" >0</text>
<line x1="881.3" y1="419.0" x2="881.3" y2="424.0" stroke="#000" stroke-width="1.7" />
<line x1="921.2" y1="419.0" x2="921.2" y2="427.0" stroke="#000" stroke-width="1.7" />
<text x="921.2" y="450.6" font-size="24" text-anchor="middle" font-weight="normal" fill="#000" >1</text>
<line x1="961.1" y1="419.0" x2="961.1" y2="424.0" stroke="#000" stroke-width="1.7" />
<line x1="1001.0" y1="419.0" x2="1001.0" y2="427.0" stroke="#000" stroke-width="1.7" />
<text x="1001.0" y="450.6" font-size="24" text-anchor="middle" font-weight="normal" fill="#000" >2</text>
<line x1="1040.9" y1="419.0" x2="1040.9" y2="424.0" stroke="#000" stroke-width="1.7" />
<line x1="1080.8" y1="419.0" x2="1080.8" y2="427.0" stroke="#000" stroke-width="1.7" />
<text x="1080.8" y="450.6" font-size="24" text-anchor="middle" font-weight="normal" fill="#000" >3</text>
<line x1="1120.7" y1="419.0" x2="1120.7" y2="424.0" stroke="#000" stroke-width="1.7" />
<line x1="1160.6" y1="419.0" x2="1160.6" y2="427.0" stroke="#000" stroke-width="1.7" />
<text x="1160.6" y="450.6" font-size="24" text-anchor="middle" font-weight="normal" fill="#000" >4</text>
<line x1="1200.5" y1="419.0" x2="1200.5" y2="424.0" stroke="#000" stroke-width="1.7" />
<line x1="1240.4" y1="419.0" x2="1240.4" y2="427.0" stroke="#000" stroke-width="1.7" />
<text x="1240.4" y="450.6" font-size="24" text-anchor="middle" font-weight="normal" fill="#000" >5</text>
<line x1="1280.3" y1="419.0" x2="1280.3" y2="424.0" stroke="#000" stroke-width="1.7" />
<line x1="1320.2" y1="419.0" x2="1320.2" y2="427.0" stroke="#000" stroke-width="1.7" />
<text x="1320.2" y="450.6" font-size="24" text-anchor="middle" font-weight="normal" fill="#000" >6</text>
<line x1="841.5" y1="419.0" x2="833.5" y2="419.0" stroke="#000" stroke-width="1.7" />
<text x="828.0" y="427.4" font-size="23.8" text-anchor="end" font-weight="normal" fill="#000" >0</text>
<line x1="841.5" y1="349.8" x2="836.5" y2="349.8" stroke="#000" stroke-width="1.7" />
<line x1="841.5" y1="280.5" x2="833.5" y2="280.5" stroke="#000" stroke-width="1.7" />
<text x="828.0" y="288.9" font-size="23.8" text-anchor="end" font-weight="normal" fill="#000" >5</text>
<line x1="841.5" y1="211.2" x2="836.5" y2="211.2" stroke="#000" stroke-width="1.7" />
<line x1="841.5" y1="142.0" x2="833.5" y2="142.0" stroke="#000" stroke-width="1.7" />
<text x="828.0" y="150.4" font-size="23.8" text-anchor="end" font-weight="normal" fill="#000" >10</text>
<line x1="841.5" y1="72.8" x2="836.5" y2="72.8" stroke="#000" stroke-width="1.7" />
<path d="M842.0 418.4C851.5 418.0 860.9 418.4 870.4 417.3C873.4 417.0 876.4 415.6 879.4 415.6C883.2 415.6 886.9 416.2 890.7 416.2C892.8 416.2 894.9 413.0 897.0 411.0C899.3 408.8 901.7 406.4 904.0 403.5C906.3 400.6 908.7 397.3 911.0 393.5C913.3 389.8 915.6 385.5 917.9 381.0C919.8 377.3 921.7 374.0 923.6 369.0C927.6 358.4 931.7 339.6 935.7 323.6C939.2 309.7 942.7 289.0 946.2 280.0C948.5 274.0 950.9 269.3 953.2 269.3C956.1 269.3 959.0 271.8 961.9 280.0C964.8 288.2 967.7 303.0 970.6 318.4C973.5 333.8 976.4 357.2 979.3 372.4C982.5 389.2 985.7 412.5 988.9 412.5C993.3 412.5 997.6 397.7 1002.0 397.7C1005.5 397.7 1008.9 402.2 1012.4 405.5C1015.9 408.8 1019.4 417.7 1022.9 417.7C1025.8 417.7 1028.7 412.8 1031.6 410.7C1036.2 407.3 1040.9 403.9 1045.5 402.0C1057.0 397.3 1068.5 397.3 1080.0 397.3C1086.4 397.3 1092.8 397.3 1099.2 397.3C1103.5 397.3 1107.7 399.0 1112.0 400.8C1117.3 403.0 1122.7 408.1 1128.0 410.4C1133.3 412.7 1138.7 413.0 1144.0 414.4C1148.8 415.7 1153.6 418.5 1158.4 418.5C1162.1 418.5 1165.9 415.0 1169.6 415.0C1173.9 415.0 1178.1 417.2 1182.4 417.2C1185.6 417.2 1188.8 409.8 1192.0 407.2C1197.9 402.5 1203.7 400.8 1209.6 400.8C1214.4 400.8 1219.2 404.4 1224.0 406.4C1228.3 408.2 1232.5 412.0 1236.8 412.0C1243.2 412.0 1249.6 411.2 1256.0 411.2C1261.3 411.2 1266.7 412.9 1272.0 413.6C1288.7 415.8 1305.3 416.3 1322.0 417.6" fill="none" stroke="#e03c3f" stroke-width="1.6" stroke-linejoin="round" />
<path d="M842.0 418.6C854.7 418.6 867.3 418.6 880.0 418.6C891.6 418.6 903.2 418.6 914.8 417.7C920.0 417.3 925.3 409.9 930.5 409.9C934.3 409.9 938.0 416.3 941.8 416.3C945.0 416.3 948.2 402.0 951.4 396.8C954.8 391.4 958.1 385.0 961.5 385.0C964.8 385.0 968.2 395.0 971.5 395.0C972.7 395.0 973.8 395.0 975.0 390.0C975.9 386.3 976.7 371.6 977.6 362.0C979.3 342.8 981.1 319.0 982.8 301.0C984.7 281.2 986.6 272.4 988.5 250.0C990.0 232.7 991.4 207.1 992.9 188.6C994.1 173.1 995.4 157.9 996.6 146.3C997.7 135.7 998.9 127.1 1000.0 120.8C1001.3 113.4 1002.7 110.5 1004.0 108.0C1005.2 105.7 1006.4 105.3 1007.6 105.3C1008.7 105.3 1009.9 106.0 1011.0 108.0C1012.4 110.5 1013.9 112.7 1015.3 120.8C1016.4 127.0 1017.5 136.8 1018.6 146.3C1020.0 158.7 1021.5 171.0 1022.9 188.6C1024.3 205.8 1025.7 232.4 1027.1 250.0C1029.2 276.0 1031.2 286.0 1033.3 309.7C1034.9 327.6 1036.4 354.7 1038.0 370.0C1039.6 385.9 1041.3 402.0 1042.9 402.0C1046.4 402.0 1049.8 392.0 1053.3 392.0C1058.0 392.0 1062.6 409.0 1067.3 409.0C1071.5 409.0 1075.8 395.1 1080.0 392.8C1082.1 391.6 1084.3 391.6 1086.4 391.6C1090.7 391.6 1094.9 394.7 1099.2 396.0C1106.1 398.1 1113.1 398.1 1120.0 400.8C1125.3 402.8 1130.7 407.0 1136.0 408.8C1142.4 410.9 1148.8 411.2 1155.2 411.2C1160.0 411.2 1164.8 410.4 1169.6 410.4C1176.0 410.4 1182.4 413.6 1188.8 413.6C1194.1 413.6 1199.5 411.2 1204.8 411.2C1211.2 411.2 1217.6 414.7 1224.0 416.0C1229.3 417.1 1234.7 418.5 1240.0 418.5C1250.7 418.5 1261.3 418.5 1272.0 418.5C1288.7 418.5 1305.3 416.8 1322.0 416.0" fill="none" stroke="#3a3a3a" stroke-width="1.6" stroke-linejoin="round" />
<path d="M842.0 418.4C859.0 418.0 876.0 418.4 893.0 417.3C898.0 417.0 902.9 417.3 907.9 416.0C911.6 415.0 915.3 410.3 919.0 408.2C923.4 405.7 927.9 402.9 932.3 402.9C936.2 402.9 940.1 403.0 944.0 403.0C948.8 403.0 953.7 397.0 958.5 397.0C963.7 397.0 968.8 406.9 974.0 406.9C977.5 406.9 981.0 388.4 984.5 379.4C990.3 364.4 996.2 356.5 1002.0 335.8C1005.5 323.5 1008.9 316.4 1012.4 292.3C1014.3 279.3 1016.1 257.7 1018.0 245.0C1019.3 235.9 1020.7 228.2 1022.0 222.5C1023.3 216.8 1024.7 213.5 1026.0 211.0C1027.2 208.7 1028.5 207.3 1029.7 207.3C1030.8 207.3 1031.9 209.0 1033.0 211.0C1034.4 213.6 1035.9 215.1 1037.3 222.5C1038.4 228.0 1039.4 237.5 1040.5 245.0C1042.7 260.7 1045.0 277.2 1047.2 292.3C1049.5 308.1 1051.9 322.2 1054.2 337.6C1057.1 356.8 1060.0 396.8 1062.9 396.8C1065.8 396.8 1068.7 396.4 1071.6 396.4C1074.4 396.4 1077.2 398.4 1080.0 400.8C1083.2 403.6 1086.4 412.8 1089.6 412.8C1096.0 412.8 1102.4 404.8 1108.8 404.8C1112.0 404.8 1115.2 405.9 1118.4 407.2C1122.7 408.9 1126.9 415.0 1131.2 415.0C1135.5 415.0 1139.7 412.6 1144.0 412.0C1148.3 411.4 1152.5 411.7 1156.8 411.2C1162.1 410.5 1167.5 408.0 1172.8 408.0C1178.1 408.0 1183.5 413.4 1188.8 414.4C1195.2 415.6 1201.6 415.6 1208.0 415.6C1216.0 415.6 1224.0 412.8 1232.0 412.8C1240.0 412.8 1248.0 416.0 1256.0 416.0C1264.6 416.0 1273.1 411.2 1281.7 411.2C1295.1 411.2 1308.6 412.6 1322.0 413.3" fill="none" stroke="#1a6fe6" stroke-width="3.0" stroke-linejoin="round" />
<rect x="841.5" y="31.6" width="481.0" height="387.4" fill="none" stroke="#000" stroke-width="1.7"/>
<text x="1082.5" y="488.7" font-size="25.7" text-anchor="middle" font-weight="normal" fill="#000" >Interatomic distance (Å)</text>
<text x="0.0" y="0.0" font-size="23.8" text-anchor="middle" font-weight="normal" fill="#000" transform="translate(779 225) rotate(-90)">Fourier-transformed Magnitude (a. u.)</text>
<text x="1011.0" y="98.8" font-size="21.5" text-anchor="middle" font-weight="normal" fill="#000" >Se-Se</text>
<text x="1066.5" y="196.8" font-size="21.5" text-anchor="middle" font-weight="normal" fill="#1a6fe6" >Se-Te</text>
<text x="945.8" y="257.4" font-size="21.5" text-anchor="middle" font-weight="normal" fill="#e03c3f" >Se-O</text>
<line x1="1088.0" y1="286.4" x2="1138.4" y2="286.4" stroke="#3a3a3a" stroke-width="2.0" />
<text x="1144.8" y="293.6" font-size="22.5" text-anchor="start" font-weight="normal" fill="#000" >Se</text>
<line x1="1088.0" y1="313.6" x2="1138.4" y2="313.6" stroke="#e03c3f" stroke-width="2.0" />
<text x="1144.8" y="320.8" font-size="22.5" text-anchor="start" font-weight="normal" fill="#000" >SeO<tspan font-size="15.5" dy="5">2</tspan></text>
<line x1="1088.0" y1="345.3" x2="1138.4" y2="345.3" stroke="#1a6fe6" stroke-width="3.0" />
<text x="1144.8" y="352.5" font-size="22.5" text-anchor="start" font-weight="normal" fill="#000" >TeO<tspan font-size="15.5" dy="5">x</tspan><tspan dy="-5">-TeSe film</tspan></text>
<text x="1443.0" y="33.0" font-size="36" text-anchor="start" font-weight="bold" fill="#000" >c</text>
<line x1="1550.6" y1="433.3" x2="1550.6" y2="441.3" stroke="#333" stroke-width="1.7" />
<text x="1550.6" y="462.0" font-size="19.5" text-anchor="middle" font-weight="normal" fill="#000" >0</text>
<line x1="1621.2" y1="433.3" x2="1621.2" y2="438.3" stroke="#333" stroke-width="1.7" />
<line x1="1691.8" y1="433.3" x2="1691.8" y2="441.3" stroke="#333" stroke-width="1.7" />
<text x="1691.8" y="462.0" font-size="19.5" text-anchor="middle" font-weight="normal" fill="#000" >1</text>
<line x1="1762.4" y1="433.3" x2="1762.4" y2="438.3" stroke="#333" stroke-width="1.7" />
<line x1="1833.0" y1="433.3" x2="1833.0" y2="441.3" stroke="#333" stroke-width="1.7" />
<text x="1833.0" y="462.0" font-size="19.5" text-anchor="middle" font-weight="normal" fill="#000" >2</text>
<line x1="1903.6" y1="433.3" x2="1903.6" y2="438.3" stroke="#333" stroke-width="1.7" />
<line x1="1974.2" y1="433.3" x2="1974.2" y2="441.3" stroke="#333" stroke-width="1.7" />
<text x="1974.2" y="462.0" font-size="19.5" text-anchor="middle" font-weight="normal" fill="#000" >3</text>
<line x1="2044.8" y1="433.3" x2="2044.8" y2="438.3" stroke="#333" stroke-width="1.7" />
<line x1="2115.4" y1="433.3" x2="2115.4" y2="441.3" stroke="#333" stroke-width="1.7" />
<text x="2115.4" y="462.0" font-size="19.5" text-anchor="middle" font-weight="normal" fill="#000" >4</text>
<line x1="1550.6" y1="425.0" x2="1542.1" y2="425.0" stroke="#333" stroke-width="1.7" />
<text x="1536.5" y="431.5" font-size="18" text-anchor="end" font-weight="normal" fill="#000" >0</text>
<line x1="1550.6" y1="344.6" x2="1545.6" y2="344.6" stroke="#333" stroke-width="1.7" />
<line x1="1550.6" y1="264.2" x2="1542.1" y2="264.2" stroke="#333" stroke-width="1.7" />
<text x="1536.5" y="270.7" font-size="18" text-anchor="end" font-weight="normal" fill="#000" >2</text>
<line x1="1550.6" y1="183.8" x2="1545.6" y2="183.8" stroke="#333" stroke-width="1.7" />
<line x1="1550.6" y1="103.4" x2="1542.1" y2="103.4" stroke="#333" stroke-width="1.7" />
<text x="1536.5" y="109.9" font-size="18" text-anchor="end" font-weight="normal" fill="#000" >4</text>
<path d="M1551.0 424.6C1589.6 424.3 1628.2 424.6 1666.8 423.6C1677.9 423.3 1688.9 422.3 1700.0 421.0C1705.2 420.4 1710.5 418.9 1715.7 418.9C1718.8 418.9 1722.0 423.6 1725.1 423.6C1729.5 423.6 1733.9 410.7 1738.3 405.7C1745.2 397.9 1752.1 389.7 1759.0 389.7C1764.7 389.7 1770.3 402.0 1776.0 402.0C1779.8 402.0 1783.5 387.2 1787.3 371.8C1789.8 361.6 1792.3 347.8 1794.8 334.2C1797.9 317.1 1801.1 294.3 1804.2 277.7C1807.0 262.7 1809.9 252.4 1812.7 238.3C1817.1 216.4 1821.5 183.7 1825.9 165.8C1828.6 154.8 1831.3 145.5 1834.0 140.0C1836.8 134.3 1839.6 132.8 1842.4 132.8C1844.9 132.8 1847.5 134.4 1850.0 140.0C1852.9 146.5 1855.9 157.5 1858.8 172.4C1862.1 189.2 1865.4 217.6 1868.7 238.3C1871.5 255.7 1874.2 270.3 1877.0 287.7C1880.3 308.4 1883.6 336.1 1886.9 353.6C1890.7 373.9 1894.6 392.9 1898.4 396.4C1903.9 401.4 1909.4 401.4 1914.9 401.4C1918.2 401.4 1921.4 396.4 1924.7 396.4C1931.3 396.4 1937.9 416.2 1944.5 416.2C1947.2 416.2 1949.8 415.9 1952.5 415.1C1957.2 413.8 1961.9 409.9 1966.6 407.4C1972.3 404.4 1977.9 398.9 1983.6 398.9C1993.0 398.9 2002.4 401.9 2011.8 404.5C2018.9 406.5 2025.9 409.6 2033.0 411.6C2042.4 414.2 2051.9 416.1 2061.3 417.3C2068.4 418.2 2075.4 418.7 2082.5 418.7C2093.5 418.7 2104.5 415.8 2115.5 414.4" fill="none" stroke="#c9606a" stroke-width="1.6" stroke-linejoin="round" stroke-dasharray="7 5"/>
<path d="M1551.0 424.0C1567.3 423.7 1583.7 423.3 1600.0 423.0C1616.7 422.7 1633.3 422.5 1650.0 422.0C1660.6 421.7 1671.2 421.5 1681.8 420.8C1689.3 420.3 1696.9 419.5 1704.4 418.9C1708.5 418.6 1712.6 418.9 1716.7 418.0C1722.7 416.7 1728.6 412.0 1734.6 410.4C1739.0 409.3 1743.3 408.5 1747.7 408.5C1754.0 408.5 1760.3 420.8 1766.6 420.8C1771.6 420.8 1776.6 408.8 1781.6 403.8C1786.6 398.8 1791.7 390.7 1796.7 390.7C1801.1 390.7 1805.5 398.1 1809.9 400.1C1814.3 402.1 1818.7 403.0 1823.1 403.0C1827.5 403.0 1831.9 390.3 1836.3 381.2C1841.6 370.2 1847.0 355.7 1852.3 340.4C1857.8 324.7 1863.2 310.7 1868.7 287.7C1873.1 269.2 1877.5 243.8 1881.9 221.8C1886.3 199.8 1890.7 175.3 1895.1 155.9C1898.1 142.8 1901.0 127.7 1904.0 120.0C1906.5 113.5 1909.1 109.8 1911.6 109.8C1914.1 109.8 1916.5 113.7 1919.0 120.0C1922.0 127.7 1925.0 139.9 1928.0 155.9C1931.9 176.6 1935.7 209.5 1939.6 238.3C1942.9 262.9 1946.2 292.4 1949.5 315.0C1952.2 333.7 1955.0 353.4 1957.7 365.0C1961.1 379.6 1964.6 380.1 1968.0 384.8C1971.8 389.9 1975.5 390.6 1979.3 393.2C1984.0 396.4 1988.8 401.7 1993.5 401.7C1997.3 401.7 2001.0 400.3 2004.8 398.9C2010.9 396.7 2017.0 389.0 2023.1 389.0C2028.3 389.0 2033.5 390.1 2038.7 394.0C2042.5 396.8 2046.2 401.9 2050.0 406.0C2053.8 410.1 2057.5 417.6 2061.3 418.7C2066.0 420.1 2070.7 420.1 2075.4 420.1C2082.5 420.1 2089.5 415.9 2096.6 415.9C2102.9 415.9 2109.2 416.8 2115.5 417.3" fill="none" stroke="#333" stroke-width="1.6" stroke-linejoin="round" stroke-dasharray="7 5"/>
<path d="M1551.0 423.6C1560.1 421.9 1569.1 418.5 1578.2 418.5C1585.7 418.5 1593.3 418.9 1600.8 418.9C1609.0 418.9 1617.1 413.6 1625.3 413.6C1631.3 413.6 1637.2 417.4 1643.2 417.4C1648.5 417.4 1653.9 408.4 1659.2 403.8C1666.7 397.3 1674.3 384.1 1681.8 384.1C1687.5 384.1 1693.1 389.7 1698.8 389.7C1702.6 389.7 1706.3 377.3 1710.1 368.1C1716.4 352.8 1722.6 324.4 1728.9 305.9C1733.3 292.9 1737.7 277.1 1742.1 270.1C1745.5 264.6 1749.0 262.6 1752.4 262.6C1757.1 262.6 1761.9 268.5 1766.6 277.7C1771.6 287.5 1776.6 303.2 1781.6 321.0C1786.0 336.6 1790.4 360.7 1794.8 375.6C1800.1 393.6 1805.5 415.1 1810.8 415.1C1814.3 415.1 1817.7 408.7 1821.2 406.7C1826.2 403.8 1831.3 406.7 1836.3 403.0C1840.9 399.6 1845.4 390.5 1850.0 377.5C1852.9 369.2 1855.9 356.2 1858.8 347.0C1866.2 323.9 1873.5 308.5 1880.9 295.9C1886.7 286.0 1892.6 274.5 1898.4 274.5C1905.0 274.5 1911.6 283.3 1918.2 294.3C1924.8 305.3 1931.3 322.6 1937.9 340.4C1941.4 349.8 1944.8 360.9 1948.3 370.6C1952.5 382.4 1956.8 397.7 1961.0 404.5C1964.3 409.8 1967.6 412.3 1970.9 412.3C1976.5 412.3 1982.2 408.1 1987.8 408.1C1995.8 408.1 2003.8 411.7 2011.8 412.3C2021.2 413.0 2030.7 412.3 2040.1 413.0C2047.2 413.5 2054.2 418.5 2061.3 420.1C2063.6 420.6 2066.0 421.5 2068.3 421.5C2077.7 421.5 2087.2 416.6 2096.6 416.6C2102.9 416.6 2109.2 418.5 2115.5 419.4" fill="none" stroke="#333" stroke-width="1.8" stroke-linejoin="round" />
<path d="M1551.0 425.5C1569.5 424.9 1588.0 423.6 1606.5 423.6C1626.6 423.6 1646.7 424.6 1666.8 424.6C1671.8 424.6 1676.8 420.0 1681.8 418.0C1688.1 415.5 1694.4 413.8 1700.7 411.4C1707.0 409.0 1713.2 407.6 1719.5 403.8C1725.8 400.0 1732.0 394.1 1738.3 388.8C1743.3 384.6 1748.4 378.9 1753.4 375.6C1758.4 372.3 1763.5 369.0 1768.5 369.0C1773.5 369.0 1778.5 372.3 1783.5 374.6C1787.9 376.6 1792.3 381.6 1796.7 381.6C1801.1 381.6 1805.5 381.6 1809.9 375.6C1814.3 369.6 1818.7 356.8 1823.1 343.6C1827.5 330.4 1831.9 318.2 1836.3 296.5C1839.5 280.6 1842.8 256.1 1846.0 239.0C1850.3 216.5 1854.5 198.9 1858.8 182.3C1861.9 170.4 1864.9 159.5 1868.0 150.0C1870.0 143.8 1872.0 136.9 1874.0 133.0C1876.3 128.6 1878.6 126.9 1880.9 126.9C1882.9 126.9 1885.0 128.8 1887.0 132.0C1889.7 136.2 1892.4 143.0 1895.1 152.6C1899.5 168.3 1903.9 196.4 1908.3 221.8C1912.7 247.0 1917.0 279.3 1921.4 304.2C1923.8 317.7 1926.1 328.9 1928.5 342.4C1930.8 355.7 1933.2 376.2 1935.5 384.8C1937.4 391.8 1939.3 394.7 1941.2 394.7C1946.4 394.7 1951.5 388.3 1956.7 388.3C1963.3 388.3 1969.9 397.3 1976.5 400.3C1978.9 401.4 1981.2 403.1 1983.6 403.1C1990.7 403.1 1997.7 397.4 2004.8 395.8C2016.6 393.2 2028.3 393.2 2040.1 393.2C2047.2 393.2 2054.2 395.6 2061.3 397.5C2070.7 400.0 2080.1 404.1 2089.5 407.4C2098.2 410.5 2106.8 413.5 2115.5 416.6" fill="none" stroke="#c8424b" stroke-width="2.0" stroke-linejoin="round" />
<line x1="1880.9" y1="67.0" x2="1880.9" y2="413.0" stroke="#4a80c4" stroke-width="1.6" />
<line x1="1912.4" y1="88.7" x2="1912.4" y2="106.6" stroke="#111" stroke-width="2.0" />
<line x1="1842.0" y1="110.8" x2="1842.0" y2="127.7" stroke="#b03a44" stroke-width="2.0" />
<rect x="1550.6" y="23.3" width="565.0" height="410.0" fill="none" stroke="#333" stroke-width="1.8"/>
<text x="1833.0" y="493.6" font-size="24" text-anchor="middle" font-weight="normal" fill="#000" >Interatomic distance (Å)</text>
<text x="0.0" y="0.0" font-size="24.2" text-anchor="middle" font-weight="normal" fill="#000" transform="translate(1511 228.6) rotate(-90)">Fourier-transformed Magnitude (a. u.)</text>
<line x1="1558.8" y1="38.8" x2="1583.5" y2="38.8" stroke="#555" stroke-width="1.6" stroke-dasharray="8 9"/>
<text x="1595.9" y="43.5" font-size="14" text-anchor="start" font-weight="normal" fill="#222" >Te metallic</text>
<line x1="1558.8" y1="54.7" x2="1583.5" y2="54.7" stroke="#d0707a" stroke-width="1.6" stroke-dasharray="8 9"/>
<text x="1595.9" y="58.8" font-size="14" text-anchor="start" font-weight="normal" fill="#222" >Se metallic (x1/3)</text>
<line x1="1558.8" y1="70.4" x2="1591.8" y2="70.4" stroke="#333" stroke-width="1.6" />
<text x="1595.9" y="75.0" font-size="14" text-anchor="start" font-weight="normal" fill="#222" >TeO<tspan font-size="10" dy="3">x</tspan><tspan dy="-3">-Se film@Te K-edge</tspan></text>
<line x1="1558.8" y1="88.8" x2="1591.8" y2="88.8" stroke="#c8424b" stroke-width="2.4" />
<text x="1595.9" y="93.5" font-size="14" text-anchor="start" font-weight="normal" fill="#222" >TeO<tspan font-size="10" dy="3">x</tspan><tspan dy="-3">-Se film@Se K-edge (x1/2)</tspan></text>
<text x="1826.3" y="60.0" font-size="18" text-anchor="start" font-weight="normal" fill="#000" ><tspan fill="#c85a62">Se-</tspan><tspan fill="#c8363e" font-weight="bold">Te</tspan><tspan font-weight="bold" fill="#000"> &amp; </tspan><tspan fill="#222">Te-</tspan><tspan font-weight="bold" fill="#000">Se</tspan></text>
<text x="1905.8" y="85.4" font-size="18" text-anchor="start" font-weight="normal" fill="#000" ><tspan fill="#222">Te-</tspan><tspan font-weight="bold" fill="#000">Te</tspan></text>
<text x="1804.6" y="105.1" font-size="18" text-anchor="start" font-weight="normal" fill="#000" ><tspan fill="#c85a62">Se-</tspan><tspan fill="#c8363e" font-weight="bold">Se</tspan></text>
<text x="43.0" y="580.0" font-size="36" text-anchor="start" font-weight="bold" fill="#000" >d</text>
<line x1="119.3" y1="995.0" x2="119.3" y2="1002.0" stroke="#000" stroke-width="1.7" />
<text x="119.3" y="1022.5" font-size="17.5" text-anchor="middle" font-weight="normal" fill="#000" >3</text>
<line x1="142.9" y1="995.0" x2="142.9" y2="999.0" stroke="#000" stroke-width="1.7" />
<line x1="166.5" y1="995.0" x2="166.5" y2="1002.0" stroke="#000" stroke-width="1.7" />
<text x="166.5" y="1022.5" font-size="17.5" text-anchor="middle" font-weight="normal" fill="#000" >4</text>
<line x1="190.1" y1="995.0" x2="190.1" y2="999.0" stroke="#000" stroke-width="1.7" />
<line x1="213.7" y1="995.0" x2="213.7" y2="1002.0" stroke="#000" stroke-width="1.7" />
<text x="213.7" y="1022.5" font-size="17.5" text-anchor="middle" font-weight="normal" fill="#000" >5</text>
<line x1="237.3" y1="995.0" x2="237.3" y2="999.0" stroke="#000" stroke-width="1.7" />
<line x1="260.9" y1="995.0" x2="260.9" y2="1002.0" stroke="#000" stroke-width="1.7" />
<text x="260.9" y="1022.5" font-size="17.5" text-anchor="middle" font-weight="normal" fill="#000" >6</text>
<line x1="284.5" y1="995.0" x2="284.5" y2="999.0" stroke="#000" stroke-width="1.7" />
<line x1="308.1" y1="995.0" x2="308.1" y2="1002.0" stroke="#000" stroke-width="1.7" />
<text x="308.1" y="1022.5" font-size="17.5" text-anchor="middle" font-weight="normal" fill="#000" >7</text>
<line x1="331.7" y1="995.0" x2="331.7" y2="999.0" stroke="#000" stroke-width="1.7" />
<line x1="355.3" y1="995.0" x2="355.3" y2="1002.0" stroke="#000" stroke-width="1.7" />
<text x="355.3" y="1022.5" font-size="17.5" text-anchor="middle" font-weight="normal" fill="#000" >8</text>
<line x1="378.9" y1="995.0" x2="378.9" y2="999.0" stroke="#000" stroke-width="1.7" />
<line x1="402.5" y1="995.0" x2="402.5" y2="1002.0" stroke="#000" stroke-width="1.7" />
<text x="402.5" y="1022.5" font-size="17.5" text-anchor="middle" font-weight="normal" fill="#000" >9</text>
<line x1="426.1" y1="995.0" x2="426.1" y2="999.0" stroke="#000" stroke-width="1.7" />
<line x1="449.7" y1="995.0" x2="449.7" y2="1002.0" stroke="#000" stroke-width="1.7" />
<text x="449.7" y="1022.5" font-size="17.5" text-anchor="middle" font-weight="normal" fill="#000" >10</text>
<line x1="473.3" y1="995.0" x2="473.3" y2="999.0" stroke="#000" stroke-width="1.7" />
<line x1="496.9" y1="995.0" x2="496.9" y2="1002.0" stroke="#000" stroke-width="1.7" />
<text x="496.9" y="1022.5" font-size="17.5" text-anchor="middle" font-weight="normal" fill="#000" >11</text>
<line x1="520.5" y1="995.0" x2="520.5" y2="999.0" stroke="#000" stroke-width="1.7" />
<line x1="544.1" y1="995.0" x2="544.1" y2="1002.0" stroke="#000" stroke-width="1.7" />
<text x="544.1" y="1022.5" font-size="17.5" text-anchor="middle" font-weight="normal" fill="#000" >12</text>
<line x1="567.7" y1="995.0" x2="567.7" y2="999.0" stroke="#000" stroke-width="1.7" />
<line x1="591.3" y1="995.0" x2="591.3" y2="1002.0" stroke="#000" stroke-width="1.7" />
<text x="591.3" y="1022.5" font-size="17.5" text-anchor="middle" font-weight="normal" fill="#000" >13</text>
<line x1="614.9" y1="995.0" x2="614.9" y2="999.0" stroke="#000" stroke-width="1.7" />
<line x1="119.3" y1="995.0" x2="112.3" y2="995.0" stroke="#000" stroke-width="1.7" />
<text x="105.3" y="1003.0" font-size="17.5" text-anchor="end" font-weight="normal" fill="#000" >1.0</text>
<line x1="119.3" y1="966.1" x2="115.3" y2="966.1" stroke="#000" stroke-width="1.7" />
<line x1="119.3" y1="937.1" x2="112.3" y2="937.1" stroke="#000" stroke-width="1.7" />
<text x="105.3" y="945.1" font-size="17.5" text-anchor="end" font-weight="normal" fill="#000" >1.5</text>
<line x1="119.3" y1="908.2" x2="115.3" y2="908.2" stroke="#000" stroke-width="1.7" />
<line x1="119.3" y1="879.3" x2="112.3" y2="879.3" stroke="#000" stroke-width="1.7" />
<text x="105.3" y="887.3" font-size="17.5" text-anchor="end" font-weight="normal" fill="#000" >2.0</text>
<line x1="119.3" y1="850.4" x2="115.3" y2="850.4" stroke="#000" stroke-width="1.7" />
<line x1="119.3" y1="821.5" x2="112.3" y2="821.5" stroke="#000" stroke-width="1.7" />
<text x="105.3" y="829.5" font-size="17.5" text-anchor="end" font-weight="normal" fill="#000" >2.5</text>
<line x1="119.3" y1="792.5" x2="115.3" y2="792.5" stroke="#000" stroke-width="1.7" />
<line x1="119.3" y1="763.6" x2="112.3" y2="763.6" stroke="#000" stroke-width="1.7" />
<text x="105.3" y="771.6" font-size="17.5" text-anchor="end" font-weight="normal" fill="#000" >3.0</text>
<line x1="119.3" y1="734.7" x2="115.3" y2="734.7" stroke="#000" stroke-width="1.7" />
<line x1="119.3" y1="705.8" x2="112.3" y2="705.8" stroke="#000" stroke-width="1.7" />
<text x="105.3" y="713.8" font-size="17.5" text-anchor="end" font-weight="normal" fill="#000" >3.5</text>
<line x1="119.3" y1="676.8" x2="115.3" y2="676.8" stroke="#000" stroke-width="1.7" />
<line x1="119.3" y1="647.9" x2="112.3" y2="647.9" stroke="#000" stroke-width="1.7" />
<text x="105.3" y="655.9" font-size="17.5" text-anchor="end" font-weight="normal" fill="#000" >4.0</text>
<line x1="119.3" y1="619.0" x2="115.3" y2="619.0" stroke="#000" stroke-width="1.7" />
<line x1="119.3" y1="590.0" x2="112.3" y2="590.0" stroke="#000" stroke-width="1.7" />
<text x="105.3" y="598.0" font-size="17.5" text-anchor="end" font-weight="normal" fill="#000" >4.5</text>
<line x1="119.3" y1="590.2" x2="634.5" y2="590.2" stroke="#0e0220" stroke-width="1.8" />
<line x1="634.5" y1="590.2" x2="634.5" y2="995.0" stroke="#1c0548" stroke-width="1.6" />
<line x1="119.3" y1="995.0" x2="634.5" y2="995.0" stroke="#2a0080" stroke-width="1.6" />
<line x1="119.3" y1="590.2" x2="119.3" y2="995.0" stroke="#2a0080" stroke-width="1.0" />
<text x="130.8" y="624.6" font-size="26.7" text-anchor="start" font-weight="bold" fill="#fff" >Reference Se<tspan font-size="18.5" dy="-11">0</tspan></text>
<text x="622.5" y="624.5" font-size="27" text-anchor="end" font-weight="normal" fill="#ffd84a" >η/σ =10/1</text>
<text x="440.2" y="875.5" font-size="20.8" text-anchor="middle" font-weight="normal" fill="#140000" >Se-Se metallic</text>
<text x="376.9" y="1052.8" font-size="21.3" text-anchor="middle" font-weight="normal" fill="#000" >k (Å<tspan font-size="14" dy="-8">-1</tspan><tspan dy="8">)</tspan></text>
<text x="0.0" y="0.0" font-size="21.1" text-anchor="middle" font-weight="normal" fill="#000" transform="translate(71.8 792.3) rotate(-90)">Interatomic distance (Å)</text>
<line x1="836.9" y1="995.0" x2="836.9" y2="1002.0" stroke="#000" stroke-width="1.7" />
<text x="836.9" y="1022.5" font-size="17.5" text-anchor="middle" font-weight="normal" fill="#000" >3</text>
<line x1="860.5" y1="995.0" x2="860.5" y2="999.0" stroke="#000" stroke-width="1.7" />
<line x1="884.1" y1="995.0" x2="884.1" y2="1002.0" stroke="#000" stroke-width="1.7" />
<text x="884.1" y="1022.5" font-size="17.5" text-anchor="middle" font-weight="normal" fill="#000" >4</text>
<line x1="907.7" y1="995.0" x2="907.7" y2="999.0" stroke="#000" stroke-width="1.7" />
<line x1="931.3" y1="995.0" x2="931.3" y2="1002.0" stroke="#000" stroke-width="1.7" />
<text x="931.3" y="1022.5" font-size="17.5" text-anchor="middle" font-weight="normal" fill="#000" >5</text>
<line x1="954.9" y1="995.0" x2="954.9" y2="999.0" stroke="#000" stroke-width="1.7" />
<line x1="978.5" y1="995.0" x2="978.5" y2="1002.0" stroke="#000" stroke-width="1.7" />
<text x="978.5" y="1022.5" font-size="17.5" text-anchor="middle" font-weight="normal" fill="#000" >6</text>
<line x1="1002.1" y1="995.0" x2="1002.1" y2="999.0" stroke="#000" stroke-width="1.7" />
<line x1="1025.7" y1="995.0" x2="1025.7" y2="1002.0" stroke="#000" stroke-width="1.7" />
<text x="1025.7" y="1022.5" font-size="17.5" text-anchor="middle" font-weight="normal" fill="#000" >7</text>
<line x1="1049.3" y1="995.0" x2="1049.3" y2="999.0" stroke="#000" stroke-width="1.7" />
<line x1="1072.9" y1="995.0" x2="1072.9" y2="1002.0" stroke="#000" stroke-width="1.7" />
<text x="1072.9" y="1022.5" font-size="17.5" text-anchor="middle" font-weight="normal" fill="#000" >8</text>
<line x1="1096.5" y1="995.0" x2="1096.5" y2="999.0" stroke="#000" stroke-width="1.7" />
<line x1="1120.1" y1="995.0" x2="1120.1" y2="1002.0" stroke="#000" stroke-width="1.7" />
<text x="1120.1" y="1022.5" font-size="17.5" text-anchor="middle" font-weight="normal" fill="#000" >9</text>
<line x1="1143.7" y1="995.0" x2="1143.7" y2="999.0" stroke="#000" stroke-width="1.7" />
<line x1="1167.3" y1="995.0" x2="1167.3" y2="1002.0" stroke="#000" stroke-width="1.7" />
<text x="1167.3" y="1022.5" font-size="17.5" text-anchor="middle" font-weight="normal" fill="#000" >10</text>
<line x1="1190.9" y1="995.0" x2="1190.9" y2="999.0" stroke="#000" stroke-width="1.7" />
<line x1="1214.5" y1="995.0" x2="1214.5" y2="1002.0" stroke="#000" stroke-width="1.7" />
<text x="1214.5" y="1022.5" font-size="17.5" text-anchor="middle" font-weight="normal" fill="#000" >11</text>
<line x1="1238.1" y1="995.0" x2="1238.1" y2="999.0" stroke="#000" stroke-width="1.7" />
<line x1="1261.7" y1="995.0" x2="1261.7" y2="1002.0" stroke="#000" stroke-width="1.7" />
<text x="1261.7" y="1022.5" font-size="17.5" text-anchor="middle" font-weight="normal" fill="#000" >12</text>
<line x1="1285.3" y1="995.0" x2="1285.3" y2="999.0" stroke="#000" stroke-width="1.7" />
<line x1="1308.9" y1="995.0" x2="1308.9" y2="1002.0" stroke="#000" stroke-width="1.7" />
<text x="1308.9" y="1022.5" font-size="17.5" text-anchor="middle" font-weight="normal" fill="#000" >13</text>
<line x1="1332.5" y1="995.0" x2="1332.5" y2="999.0" stroke="#000" stroke-width="1.7" />
<line x1="836.9" y1="995.0" x2="829.9" y2="995.0" stroke="#000" stroke-width="1.7" />
<text x="822.9" y="1003.0" font-size="17.5" text-anchor="end" font-weight="normal" fill="#000" >1.0</text>
<line x1="836.9" y1="966.1" x2="832.9" y2="966.1" stroke="#000" stroke-width="1.7" />
<line x1="836.9" y1="937.1" x2="829.9" y2="937.1" stroke="#000" stroke-width="1.7" />
<text x="822.9" y="945.1" font-size="17.5" text-anchor="end" font-weight="normal" fill="#000" >1.5</text>
<line x1="836.9" y1="908.2" x2="832.9" y2="908.2" stroke="#000" stroke-width="1.7" />
<line x1="836.9" y1="879.3" x2="829.9" y2="879.3" stroke="#000" stroke-width="1.7" />
<text x="822.9" y="887.3" font-size="17.5" text-anchor="end" font-weight="normal" fill="#000" >2.0</text>
<line x1="836.9" y1="850.4" x2="832.9" y2="850.4" stroke="#000" stroke-width="1.7" />
<line x1="836.9" y1="821.5" x2="829.9" y2="821.5" stroke="#000" stroke-width="1.7" />
<text x="822.9" y="829.5" font-size="17.5" text-anchor="end" font-weight="normal" fill="#000" >2.5</text>
<line x1="836.9" y1="792.5" x2="832.9" y2="792.5" stroke="#000" stroke-width="1.7" />
<line x1="836.9" y1="763.6" x2="829.9" y2="763.6" stroke="#000" stroke-width="1.7" />
<text x="822.9" y="771.6" font-size="17.5" text-anchor="end" font-weight="normal" fill="#000" >3.0</text>
<line x1="836.9" y1="734.7" x2="832.9" y2="734.7" stroke="#000" stroke-width="1.7" />
<line x1="836.9" y1="705.8" x2="829.9" y2="705.8" stroke="#000" stroke-width="1.7" />
<text x="822.9" y="713.8" font-size="17.5" text-anchor="end" font-weight="normal" fill="#000" >3.5</text>
<line x1="836.9" y1="676.8" x2="832.9" y2="676.8" stroke="#000" stroke-width="1.7" />
<line x1="836.9" y1="647.9" x2="829.9" y2="647.9" stroke="#000" stroke-width="1.7" />
<text x="822.9" y="655.9" font-size="17.5" text-anchor="end" font-weight="normal" fill="#000" >4.0</text>
<line x1="836.9" y1="619.0" x2="832.9" y2="619.0" stroke="#000" stroke-width="1.7" />
<line x1="836.9" y1="590.0" x2="829.9" y2="590.0" stroke="#000" stroke-width="1.7" />
<text x="822.9" y="598.0" font-size="17.5" text-anchor="end" font-weight="normal" fill="#000" >4.5</text>
<line x1="836.9" y1="590.2" x2="1352.2" y2="590.2" stroke="#0e0220" stroke-width="1.8" />
<line x1="1352.2" y1="590.2" x2="1352.2" y2="995.0" stroke="#1c0548" stroke-width="1.6" />
<line x1="836.9" y1="995.0" x2="1352.2" y2="995.0" stroke="#2a0080" stroke-width="1.6" />
<line x1="836.9" y1="590.2" x2="836.9" y2="995.0" stroke="#2a0080" stroke-width="1.0" />
<text x="848.4" y="624.6" font-size="26.7" text-anchor="start" font-weight="bold" fill="#fff" >Reference SeO<tspan font-size="18.5" dy="7">2</tspan></text>
<text x="1340.2" y="624.5" font-size="27" text-anchor="end" font-weight="normal" fill="#ffd84a" >η/σ =10/1</text>
<text x="1063.0" y="959.4" font-size="20.8" text-anchor="middle" font-weight="normal" fill="#140000" >Se-O*</text>
<text x="1094.5" y="1052.8" font-size="21.3" text-anchor="middle" font-weight="normal" fill="#000" >k (Å<tspan font-size="14" dy="-8">-1</tspan><tspan dy="8">)</tspan></text>
<text x="0.0" y="0.0" font-size="21.1" text-anchor="middle" font-weight="normal" fill="#000" transform="translate(789.4 792.3) rotate(-90)">Interatomic distance (Å)</text>
<line x1="1602.3" y1="995.0" x2="1602.3" y2="999.0" stroke="#000" stroke-width="1.7" />
<line x1="1649.5" y1="995.0" x2="1649.5" y2="1002.0" stroke="#000" stroke-width="1.7" />
<text x="1649.5" y="1022.5" font-size="17.5" text-anchor="middle" font-weight="normal" fill="#000" >4</text>
<line x1="1696.7" y1="995.0" x2="1696.7" y2="999.0" stroke="#000" stroke-width="1.7" />
<line x1="1743.9" y1="995.0" x2="1743.9" y2="1002.0" stroke="#000" stroke-width="1.7" />
<text x="1743.9" y="1022.5" font-size="17.5" text-anchor="middle" font-weight="normal" fill="#000" >6</text>
<line x1="1791.1" y1="995.0" x2="1791.1" y2="999.0" stroke="#000" stroke-width="1.7" />
<line x1="1838.3" y1="995.0" x2="1838.3" y2="1002.0" stroke="#000" stroke-width="1.7" />
<text x="1838.3" y="1022.5" font-size="17.5" text-anchor="middle" font-weight="normal" fill="#000" >8</text>
<line x1="1885.5" y1="995.0" x2="1885.5" y2="999.0" stroke="#000" stroke-width="1.7" />
<line x1="1932.7" y1="995.0" x2="1932.7" y2="1002.0" stroke="#000" stroke-width="1.7" />
<text x="1932.7" y="1022.5" font-size="17.5" text-anchor="middle" font-weight="normal" fill="#000" >10</text>
<line x1="1979.9" y1="995.0" x2="1979.9" y2="999.0" stroke="#000" stroke-width="1.7" />
<line x1="2027.1" y1="995.0" x2="2027.1" y2="1002.0" stroke="#000" stroke-width="1.7" />
<text x="2027.1" y="1022.5" font-size="17.5" text-anchor="middle" font-weight="normal" fill="#000" >12</text>
<line x1="2074.3" y1="995.0" x2="2074.3" y2="999.0" stroke="#000" stroke-width="1.7" />
<line x1="1602.3" y1="995.0" x2="1595.3" y2="995.0" stroke="#000" stroke-width="1.7" />
<text x="1588.3" y="1003.0" font-size="17.5" text-anchor="end" font-weight="normal" fill="#000" >1.0</text>
<line x1="1602.3" y1="966.1" x2="1598.3" y2="966.1" stroke="#000" stroke-width="1.7" />
<line x1="1602.3" y1="937.1" x2="1595.3" y2="937.1" stroke="#000" stroke-width="1.7" />
<text x="1588.3" y="945.1" font-size="17.5" text-anchor="end" font-weight="normal" fill="#000" >1.5</text>
<line x1="1602.3" y1="908.2" x2="1598.3" y2="908.2" stroke="#000" stroke-width="1.7" />
<line x1="1602.3" y1="879.3" x2="1595.3" y2="879.3" stroke="#000" stroke-width="1.7" />
<text x="1588.3" y="887.3" font-size="17.5" text-anchor="end" font-weight="normal" fill="#000" >2.0</text>
<line x1="1602.3" y1="850.4" x2="1598.3" y2="850.4" stroke="#000" stroke-width="1.7" />
<line x1="1602.3" y1="821.5" x2="1595.3" y2="821.5" stroke="#000" stroke-width="1.7" />
<text x="1588.3" y="829.5" font-size="17.5" text-anchor="end" font-weight="normal" fill="#000" >2.5</text>
<line x1="1602.3" y1="792.5" x2="1598.3" y2="792.5" stroke="#000" stroke-width="1.7" />
<line x1="1602.3" y1="763.6" x2="1595.3" y2="763.6" stroke="#000" stroke-width="1.7" />
<text x="1588.3" y="771.6" font-size="17.5" text-anchor="end" font-weight="normal" fill="#000" >3.0</text>
<line x1="1602.3" y1="734.7" x2="1598.3" y2="734.7" stroke="#000" stroke-width="1.7" />
<line x1="1602.3" y1="705.8" x2="1595.3" y2="705.8" stroke="#000" stroke-width="1.7" />
<text x="1588.3" y="713.8" font-size="17.5" text-anchor="end" font-weight="normal" fill="#000" >3.5</text>
<line x1="1602.3" y1="676.8" x2="1598.3" y2="676.8" stroke="#000" stroke-width="1.7" />
<line x1="1602.3" y1="647.9" x2="1595.3" y2="647.9" stroke="#000" stroke-width="1.7" />
<text x="1588.3" y="655.9" font-size="17.5" text-anchor="end" font-weight="normal" fill="#000" >4.0</text>
<line x1="1602.3" y1="619.0" x2="1598.3" y2="619.0" stroke="#000" stroke-width="1.7" />
<line x1="1602.3" y1="590.0" x2="1595.3" y2="590.0" stroke="#000" stroke-width="1.7" />
<text x="1588.3" y="598.0" font-size="17.5" text-anchor="end" font-weight="normal" fill="#000" >4.5</text>
<line x1="1602.3" y1="590.2" x2="2117.4" y2="590.2" stroke="#0e0220" stroke-width="1.8" />
<line x1="2117.4" y1="590.2" x2="2117.4" y2="995.0" stroke="#1c0548" stroke-width="1.6" />
<line x1="1602.3" y1="995.0" x2="2117.4" y2="995.0" stroke="#2a0080" stroke-width="1.6" />
<line x1="1602.3" y1="590.2" x2="1602.3" y2="995.0" stroke="#2a0080" stroke-width="1.0" />
<text x="1613.8" y="624.6" font-size="26.7" text-anchor="start" font-weight="bold" fill="#fff" >TeO<tspan font-size="18.5" dy="7">x</tspan><tspan dy="-7">-Se:film</tspan></text>
<text x="2105.4" y="624.5" font-size="27" text-anchor="end" font-weight="normal" fill="#ffd84a" >η/σ =10/1</text>
<text x="1970.4" y="845.9" font-size="20.8" text-anchor="middle" font-weight="normal" fill="#140000" >Se-Te metallic</text>
<text x="1859.8" y="1052.8" font-size="21.3" text-anchor="middle" font-weight="normal" fill="#000" >k (Å<tspan font-size="14" dy="-8">-1</tspan><tspan dy="8">)</tspan></text>
<text x="0.0" y="0.0" font-size="21.1" text-anchor="middle" font-weight="normal" fill="#000" transform="translate(1554.8 792.3) rotate(-90)">Interatomic distance (Å)</text>
</svg>
</body></html>
